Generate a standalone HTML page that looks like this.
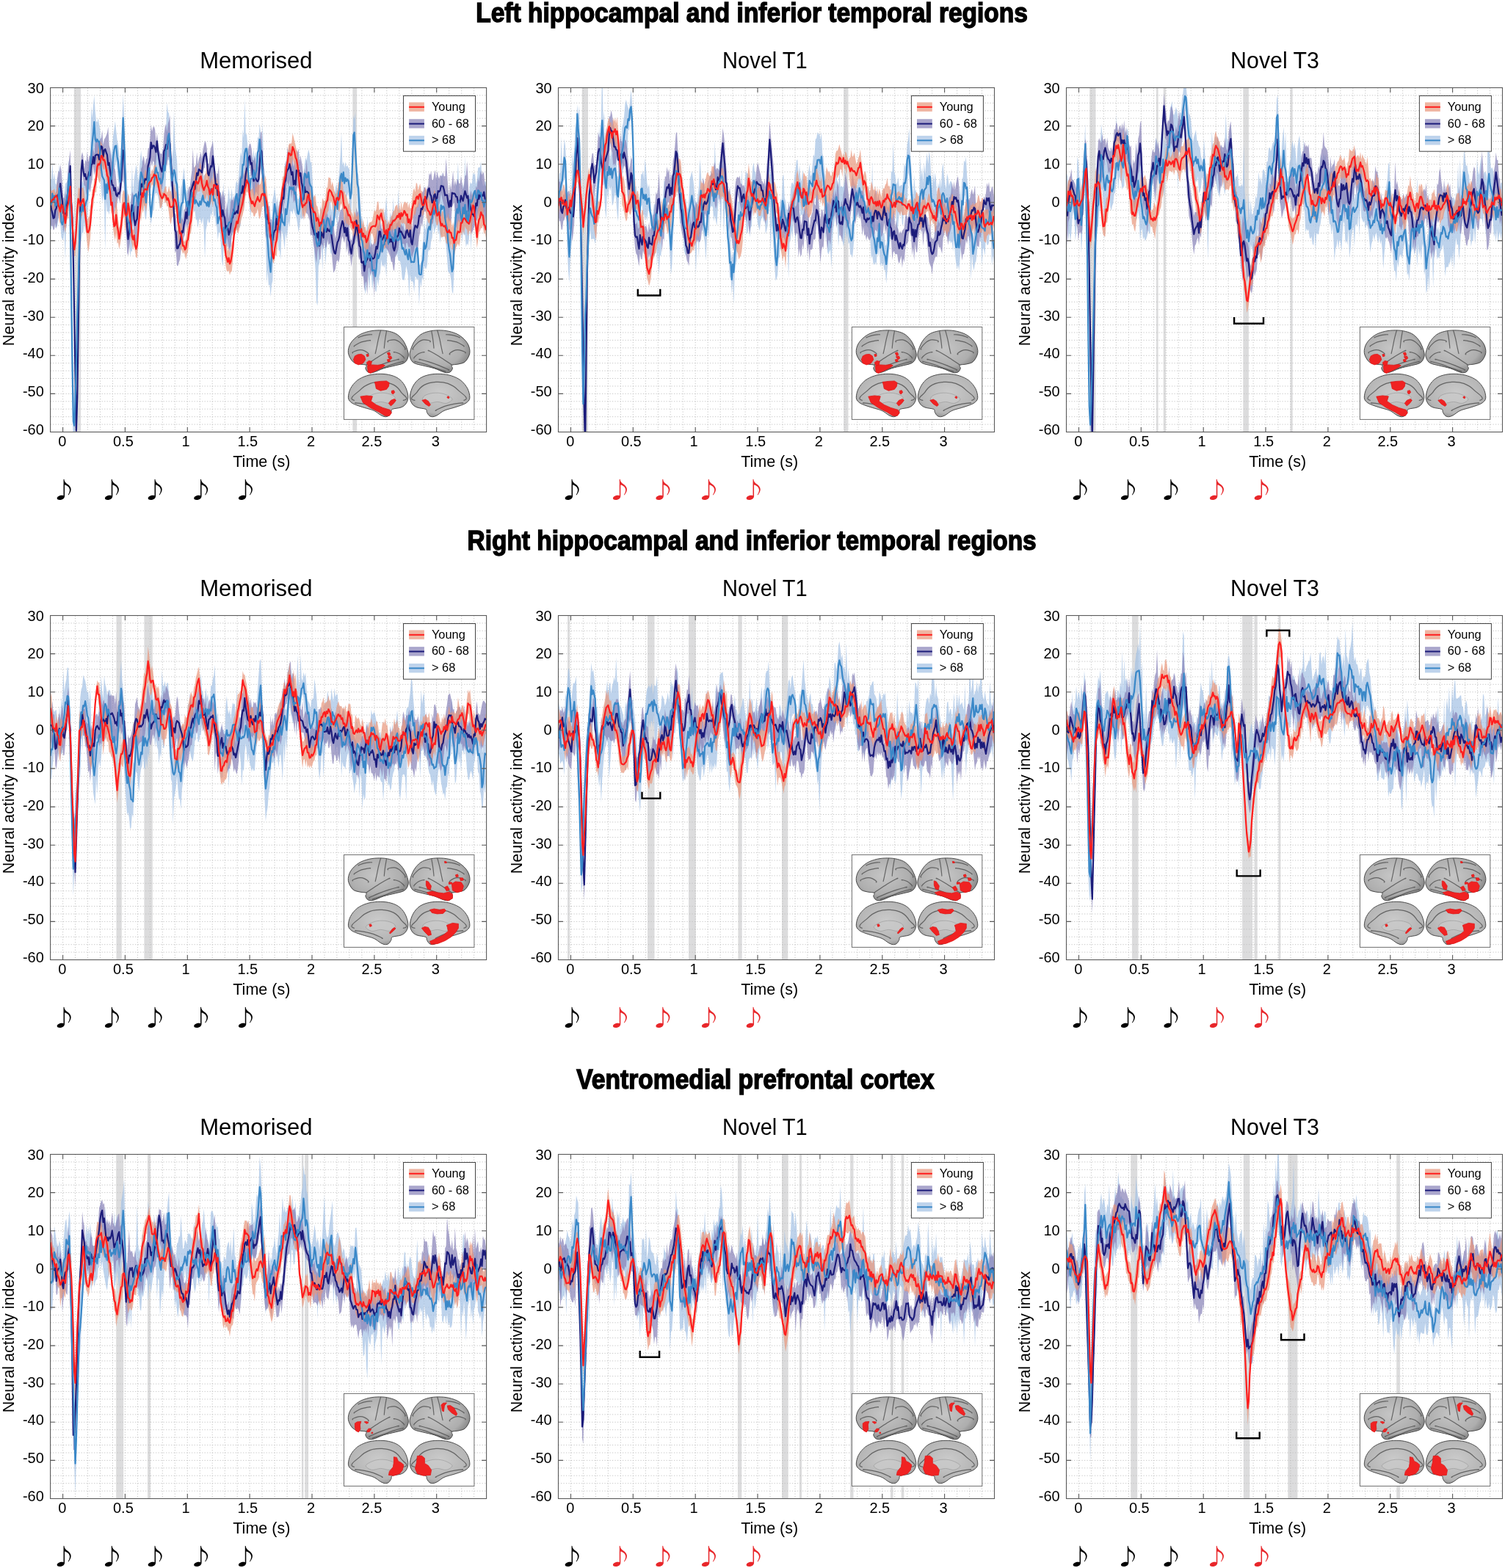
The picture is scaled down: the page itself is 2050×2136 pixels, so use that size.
<!DOCTYPE html><html><head><meta charset="utf-8"><title>Neural activity</title><style>html,body{margin:0;padding:0;background:#fff}svg{display:block}</style></head><body><svg width="2050" height="2136" viewBox="0 0 2050 2136" font-family="'Liberation Sans', Arial, Helvetica, sans-serif" fill="#000"><defs><radialGradient id="bg" cx="0.45" cy="0.42" r="0.62"><stop offset="0" stop-color="#c6c6c6"/><stop offset="0.7" stop-color="#aeaeae"/><stop offset="1" stop-color="#7c7c7c"/></radialGradient><radialGradient id="bg2" cx="0.5" cy="0.45" r="0.62"><stop offset="0" stop-color="#cbcbcb"/><stop offset="0.75" stop-color="#b5b5b5"/><stop offset="1" stop-color="#858585"/></radialGradient></defs><rect width="2050" height="2136" fill="#fff"/><text x="648.3" y="30.0" font-size="37" font-weight="bold" textLength="751.6" lengthAdjust="spacingAndGlyphs" stroke="#000" stroke-width="1.5">Left hippocampal and inferior temporal regions</text><text x="636.5" y="749.1" font-size="37" font-weight="bold" textLength="775.2" lengthAdjust="spacingAndGlyphs" stroke="#000" stroke-width="1.5">Right hippocampal and inferior temporal regions</text><text x="785.3" y="1483.1" font-size="37" font-weight="bold" textLength="487.2" lengthAdjust="spacingAndGlyphs" stroke="#000" stroke-width="1.5">Ventromedial prefrontal cortex</text><clipPath id="c00"><rect x="68.6" y="119.5" width="594.0" height="469.0"/></clipPath><g clip-path="url(#c00)"><rect x="100.8" y="119.5" width="9.3" height="469.0" fill="#dcdcdd"/><rect x="480.3" y="119.5" width="5.9" height="469.0" fill="#dcdcdd"/><path d="M85.6 119.5V588.5M102.5 119.5V588.5M119.5 119.5V588.5M136.5 119.5V588.5M153.5 119.5V588.5M170.4 119.5V588.5M187.4 119.5V588.5M204.4 119.5V588.5M221.3 119.5V588.5M238.3 119.5V588.5M255.3 119.5V588.5M272.3 119.5V588.5M289.2 119.5V588.5M306.2 119.5V588.5M323.2 119.5V588.5M340.1 119.5V588.5M357.1 119.5V588.5M374.1 119.5V588.5M391.1 119.5V588.5M408.0 119.5V588.5M425.0 119.5V588.5M442.0 119.5V588.5M458.9 119.5V588.5M475.9 119.5V588.5M492.9 119.5V588.5M509.9 119.5V588.5M526.8 119.5V588.5M543.8 119.5V588.5M560.8 119.5V588.5M577.7 119.5V588.5M594.7 119.5V588.5M611.7 119.5V588.5M628.7 119.5V588.5M645.6 119.5V588.5M68.6 578.1H662.6M68.6 567.7H662.6M68.6 557.2H662.6M68.6 546.8H662.6M68.6 536.4H662.6M68.6 526.0H662.6M68.6 515.5H662.6M68.6 505.1H662.6M68.6 494.7H662.6M68.6 484.3H662.6M68.6 473.9H662.6M68.6 463.4H662.6M68.6 453.0H662.6M68.6 442.6H662.6M68.6 432.2H662.6M68.6 421.7H662.6M68.6 411.3H662.6M68.6 400.9H662.6M68.6 390.5H662.6M68.6 380.1H662.6M68.6 369.6H662.6M68.6 359.2H662.6M68.6 348.8H662.6M68.6 338.4H662.6M68.6 327.9H662.6M68.6 317.5H662.6M68.6 307.1H662.6M68.6 296.7H662.6M68.6 286.3H662.6M68.6 275.8H662.6M68.6 265.4H662.6M68.6 255.0H662.6M68.6 244.6H662.6M68.6 234.1H662.6M68.6 223.7H662.6M68.6 213.3H662.6M68.6 202.9H662.6M68.6 192.5H662.6M68.6 182.0H662.6M68.6 171.6H662.6M68.6 161.2H662.6M68.6 150.8H662.6M68.6 140.3H662.6M68.6 129.9H662.6" stroke="#bdbdbd" stroke-width="0.9" stroke-dasharray="1.2 2.3" fill="none"/><path transform="translate(68.60 119.50) scale(1.35771 0.1)" d="M0 1242l1 10 1-224 1 248 1-119 1 146 1 19 1-89 1-17 1-178 1 310 1 253 1 82 1-120 1-108 1-150 1-9 1-29 1-229 1-72 1 562 1 871 1 823 1 850 1 173 1-379 1-455 1-635 1-353 1-661 1-292 1-114 1-94 1 43 1-47 1 85 1-84 1-50 1-212 1 8 1-111 1-644 1 161 1-167 1-142 1 216 1 138 1 13 1-57 1 98 1 68 1 297 1 66 1-81 1 161 1 162 1-38 1 83 1-278 1 92 1-204 1 82 1-89 1-175 1-93 1-109 1 129 1 122 1 67 1 108 1 163 1-304 1-326 1-324 1 298 1 367 1 308 1 309 1 76 1 167 1-6 1-115 1-434 1 387 1-206 1-94 1-97 1 71 1 173 1-129 1-166 1-144 1 148 1-23 1 304 1-100 1 148 1-243 1-112 1-68 1 452 1 305 1-215 1-185 1-222 1-210 1-74 1 91 1 3 1 74 1-77 1 155 1 8 1-7 1-186 1 88 1-332 1-375 1 127 1 21 1 221 1 270 1 136 1-125 1-533 1 433 1 128 1 108 1 294 1 187 1 128 1-227 1-53 1-109 1-124 1 163 1 137 1 41 1-79 1 202 1-140 1-83 1-43 1 105 1-23 1 80 1-86 1-64 1 5 1 152 1-430 1 373 1-143 1-32 1-28 1-3 1-28 1 232 1-76 1 17 1-128 1-104 1-66 1-364 1 637 1 5 1 36 1-10 1 259 1 18 1-52 1-54 1-15 1 55 1-269 1 618 1-234 1-31 1-114 1-168 1 173 1-26 1-131 1 169 1 43 1-124 1-150 1-39 1 66 1-126 1-211 1-119 1 62 1-368 1 109 1-528 1 478 1 10 1 155 1 329 1 127 1-101 1-218 1 60 1-155 1 151 1-117 1 59 1-262 1 26 1-211 1 143 1 204 1-358 1 590 1 56 1 256 1 254 1-17 1 281 1 208 1 83 1-337 1-317 1-63 1-112 1 118 1 98 1-88 1 225 1-33 1 23 1-163 1 90 1 23 1-18 1-271 1 17 1-63 1-297 1 78 1 54 1-87 1-20 1 41 1 85 1-433 1 664 1 113 1 11 1-57 1-299 1 168 1-22 1 19 1-274 1-110 1 50 1-88 1-66 1 56 1 124 1-12 1 235 1 208 1 88 1 30 1 150 1 95 1-107 1 152 1-271 1 101 1-39 1-144 1 152 1-77 1-55 1-132 1 97 1 59 1 7 1 137 1-116 1 133 1-241 1-93 1-77 1 97 1-133 1-143 1-203 1-315 1 449 1-47 1 86 1-85 1 73 1-28 1 44 1 9 1 210 1-61 1-413 1-462 1 52 1-94 1 604 1 193 1 48 1 189 1 135 1 236 1 44 1 92 1 20 1 63 1 42 1-243 1 226 1 123 1-276 1 308 1 100 1-1 1 108 1-25 1-123 1-258 1-27 1 57 1-69 1-64 1 170 1-149 1-157 1-33 1-199 1 243 1 270 1-148 1-142 1 73 1 36 1-315 1 326 1-205 1 153 1 113 1-503 1 317 1-36 1 54 1 97 1-90 1 78 1 204 1-11 1 118 1-49 1-142 1 120 1-257 1 298 1 14 1-89 1-95 1-46 1 3 1 204 1 346 1 5 1-56 1-153 1-154 1-260 1 149 1-52 1-135 1-83 1 31 1 19 1-196 1-16 1-108 1 29 1-18 1-19 1-202 1 291 1-1 1-132 1-115 1-86 1 198 1-60 1 171 1 93 1 12 1 38 1-156 1 580 1 120 1 54 1-158 1-185 1-385 1-140 1-36 1-287 1 380 1 72 1 90 1-58 1-214 1 144 1-490 1 421 1-180 1 295 1-28 1-157 1 30 1-17 1-139 1 32 1-29 1 154 1-54 1-162 1-16 1 10 1-90 1 260 1 66 1 14 1-72 1 21V1751l-1 56 -1 144 -1-154 -1 7 -1-115 -1 57 -1-61 -1 94 -1-2 -1 64 -1 72 -1-230 -1 121 -1 3 -1 431 -1-422 -1 245 -1 87 -1-28 -1 50 -1-169 -1 8 -1-46 -1 142 -1-153 -1-98 -1-155 -1 304 -1-2 -1 162 -1 76 -1 284 -1 288 -1-37 -1-153 -1-83 -1-24 -1-7 -1-186 -1-164 -1-103 -1-111 -1-69 -1 193 -1-74 -1 132 -1-195 -1 72 -1-159 -1 55 -1 33 -1 62 -1-143 -1 195 -1 43 -1 133 -1-19 -1 30 -1 184 -1 54 -1-9 -1-40 -1 204 -1-42 -1 142 -1-88 -1 339 -1-391 -1 39 -1-39 -1-18 -1 226 -1-138 -1-24 -1 11 -1-98 -1 320 -1-294 -1-82 -1-62 -1 110 -1 88 -1-6 -1-6 -1-159 -1-83 -1-15 -1-3 -1-94 -1 52 -1-76 -1 207 -1-126 -1 11 -1 50 -1-169 -1-128 -1 192 -1-87 -1 405 -1-215 -1 80 -1-44 -1 30 -1-99 -1 179 -1 46 -1 140 -1-111 -1 189 -1-18 -1-159 -1 36 -1 112 -1-208 -1-36 -1 256 -1-166 -1-84 -1 230 -1 67 -1-163 -1-95 -1-151 -1-43 -1-162 -1-277 -1-8 -1-419 -1-242 -1-252 -1-204 -1 226 -1 218 -1 447 -1 135 -1-225 -1-180 -1 47 -1 34 -1-72 -1 8 -1 307 -1-186 -1-112 -1 68 -1 270 -1-81 -1 177 -1-81 -1-35 -1 45 -1 339 -1-46 -1 178 -1-33 -1-133 -1-117 -1 94 -1 126 -1 194 -1-269 -1-113 -1 470 -1-342 -1-37 -1 267 -1 46 -1 537 -1-47 -1-432 -1-178 -1-260 -1-44 -1-346 -1 61 -1-208 -1-51 -1 74 -1-31 -1-162 -1 376 -1-157 -1 212 -1 18 -1-31 -1 127 -1 81 -1-107 -1-89 -1-39 -1-38 -1-55 -1 84 -1-47 -1 2 -1 215 -1-79 -1 132 -1 122 -1-105 -1 237 -1-129 -1-87 -1-42 -1 397 -1-120 -1-9 -1-185 -1-34 -1-111 -1-55 -1 221 -1 581 -1 53 -1 165 -1-168 -1 18 -1-211 -1 180 -1-654 -1-304 -1-128 -1-240 -1-49 -1-178 -1 21 -1-162 -1 108 -1 362 -1 11 -1 267 -1-345 -1 99 -1-58 -1 356 -1-124 -1-135 -1-218 -1-313 -1 94 -1 45 -1 293 -1-89 -1 255 -1 275 -1 55 -1-17 -1 6 -1-306 -1 150 -1-46 -1 166 -1 144 -1 0 -1 188 -1 123 -1-246 -1 105 -1-22 -1 1 -1 109 -1-120 -1 294 -1-92 -1-245 -1-128 -1-7 -1 107 -1-178 -1-34 -1-134 -1 43 -1-173 -1 159 -1-55 -1 133 -1 2 -1-59 -1 95 -1 65 -1 389 -1-398 -1-174 -1 103 -1-43 -1-47 -1 38 -1 106 -1-117 -1 2 -1-130 -1 30 -1-90 -1-18 -1 126 -1 171 -1 16 -1-166 -1 90 -1-134 -1-160 -1-107 -1 372 -1 95 -1-3 -1 213 -1-133 -1 122 -1-418 -1-23 -1-79 -1-118 -1 85 -1-28 -1-6 -1-316 -1-192 -1-23 -1 39 -1 156 -1 410 -1-137 -1-8 -1 235 -1-69 -1 46 -1-90 -1-78 -1-40 -1-1 -1 10 -1 210 -1 13 -1 95 -1 97 -1-88 -1-505 -1 168 -1 199 -1 166 -1-29 -1-152 -1-89 -1-142 -1 60 -1 200 -1 132 -1 163 -1-121 -1 11 -1-58 -1-157 -1 279 -1 336 -1-16 -1 79 -1-191 -1 84 -1-117 -1-64 -1-534 -1 41 -1-583 -1 275 -1 94 -1 210 -1-143 -1-98 -1-139 -1-153 -1 102 -1 32 -1 120 -1 187 -1 142 -1 26 -1 142 -1-53 -1 16 -1-150 -1 682 -1-677 -1-84 -1 102 -1-199 -1-199 -1-198 -1 6 -1 13 -1-12 -1 66 -1-257 -1 159 -1 122 -1 121 -1 66 -1 103 -1 230 -1 236 -1 2 -1 153 -1-150 -1 139 -1 12 -1 90 -1 72 -1 245 -1 534 -1 564 -1 535 -1 537 -1 396 -1 3 -1-728 -1-830 -1-1281 -1-794 -1 227 -1 246 -1 7 -1 562 -1-422 -1 136 -1-13 -1-33 -1-178 -1-192 -1 134 -1 81 -1 25 -1 0 -1-122 -1 106 -1-172 -1 213 -1-3z" fill="#a2c0e4" fill-opacity="0.7"/><path transform="translate(68.60 119.50) scale(1.35771 0.1)" d="M0 1280l1 141 1 84 1 100 1-97 1-54 1-56 1-168 1-103 1 26 1-106 1 76 1 164 1 208 1 16 1-103 1 173 1-300 1-212 1-113 1-109 1 613 1 171 1 496 1 735 1 805 1 801 1-476 1-927 1-893 1-695 1-545 1-57 1 60 1 186 1-140 1 31 1-146 1 151 1-95 1 13 1-117 1 85 1-88 1 83 1-172 1-55 1 38 1 13 1 66 1-88 1-21 1-103 1 207 1-81 1-19 1-30 1-39 1-81 1 251 1 54 1 115 1 66 1-109 1 181 1 21 1 131 1 157 1-73 1 65 1-188 1-132 1-242 1-271 1 34 1 351 1 434 1 239 1 234 1-84 1-92 1-158 1-101 1 40 1 142 1 17 1-95 1-8 1-119 1-143 1 34 1-181 1-30 1-139 1 19 1 106 1-86 1-10 1-135 1-11 1-121 1-197 1 98 1-59 1-14 1 45 1 163 1-114 1 124 1 101 1 47 1 14 1-12 1-59 1-196 1-102 1-45 1 118 1-120 1-44 1-69 1 500 1 218 1 159 1 211 1 241 1 31 1 220 1-19 1-25 1-8 1-81 1-53 1 36 1-132 1-27 1-92 1 76 1-204 1-77 1 2 1-123 1-98 1-306 1 267 1-17 1-27 1-172 1 171 1-82 1-30 1-60 1 98 1-118 1-67 1-62 1 23 1 77 1 212 1-4 1-141 1-73 1-35 1-61 1 179 1 195 1 145 1-86 1 21 1-135 1 377 1 11 1 61 1-101 1 111 1-60 1 328 1-213 1 108 1 124 1-95 1-143 1-32 1 19 1-69 1 79 1-97 1 4 1-7 1-127 1-100 1-25 1 30 1-145 1 126 1-76 1-136 1-75 1-35 1-83 1-43 1 13 1 75 1 136 1 12 1-69 1 93 1 61 1 10 1-67 1-257 1-153 1-19 1 365 1 128 1 271 1 155 1 72 1-66 1 97 1-8 1 183 1 3 1 143 1-92 1-22 1-80 1-145 1 125 1-101 1-71 1-35 1-83 1-55 1-69 1-232 1-58 1-47 1-160 1 83 1-128 1 61 1 38 1 41 1 173 1-119 1 144 1-262 1 40 1-54 1 178 1-80 1 80 1 73 1 150 1-137 1 114 1-234 1 180 1 15 1 67 1 195 1 181 1 179 1-42 1 62 1-111 1 51 1 90 1-136 1 257 1-85 1-101 1 3 1 83 1-197 1 11 1 55 1-21 1 102 1-5 1-83 1 83 1 39 1-2 1 131 1 85 1-109 1-100 1-35 1-76 1-76 1 0 1-43 1 74 1 127 1-109 1-106 1 103 1-146 1 342 1 148 1 35 1-64 1-64 1-233 1 44 1-143 1 78 1-33 1 277 1 91 1 158 1-17 1-31 1 90 1-92 1-100 1 10 1-45 1 55 1 113 1-74 1 35 1-17 1-55 1-29 1-81 1-128 1 58 1-151 1 64 1 114 1 9 1-65 1 81 1 74 1-151 1-4 1-37 1 93 1-103 1-15 1-121 1 251 1 66 1-6 1-135 1-15 1-12 1-28 1 80 1-24 1 35 1-5 1 70 1-32 1-170 1-5 1 103 1 14 1-124 1 39 1 166 1-185 1-74 1-63 1 6 1-20 1-52 1-77 1-5 1-35 1-15 1-14 1-60 1 6 1 55 1-48 1-36 1-167 1 31 1-59 1 122 1 1 1-82 1-55 1 124 1-111 1 68 1 39 1-50 1 12 1 0 1-49 1 55 1-4 1-250 1 204 1 199 1 117 1-182 1 102 1-125 1-142 1 210 1-89 1 88 1-88 1 3 1 52 1 2 1-107 1 96 1 93 1-74 1-112 1-10 1-190 1 229 1 298 1-67 1-62 1 74 1-48 1 122 1-101 1-111 1 34 1-151 1 67 1-94 1-67 1 67 1-51 1 37 1 136 1 34V1811l-1 114 -1-246 -1 110 -1-36 -1 10 -1-82 -1 104 -1-100 -1 129 -1-14 -1 63 -1 44 -1 39 -1 37 -1-36 -1-230 -1 119 -1-102 -1 88 -1-107 -1-103 -1 40 -1 53 -1 87 -1-100 -1 216 -1-86 -1-3 -1 112 -1-39 -1-212 -1-123 -1 37 -1 32 -1 226 -1-46 -1 20 -1-36 -1-30 -1 69 -1-129 -1-94 -1-45 -1-57 -1-80 -1 119 -1 49 -1 14 -1 121 -1 111 -1-88 -1-15 -1 102 -1 27 -1-46 -1-116 -1-129 -1-78 -1 148 -1 69 -1-38 -1 20 -1 86 -1 123 -1-66 -1 132 -1 56 -1 126 -1 53 -1 9 -1-80 -1 86 -1 39 -1 58 -1-38 -1-122 -1 29 -1-22 -1-54 -1 9 -1 123 -1-106 -1-13 -1 11 -1-91 -1 34 -1 11 -1 117 -1 38 -1 34 -1 32 -1 190 -1-26 -1-98 -1-5 -1-75 -1-23 -1-45 -1-23 -1-10 -1-22 -1-71 -1 115 -1 41 -1-16 -1-150 -1 59 -1 116 -1 144 -1-58 -1 85 -1 421 -1-282 -1-41 -1-52 -1 88 -1-125 -1 26 -1 356 -1-193 -1 28 -1 113 -1-210 -1 9 -1-31 -1-230 -1 40 -1-55 -1-158 -1-107 -1 71 -1 29 -1 151 -1 32 -1 126 -1-109 -1-84 -1 40 -1-145 -1 108 -1-234 -1 99 -1-50 -1-46 -1 60 -1 126 -1 130 -1 48 -1-43 -1 33 -1 93 -1 32 -1 22 -1-154 -1-171 -1-84 -1 14 -1 15 -1-80 -1 106 -1 17 -1-129 -1 149 -1-62 -1-8 -1 196 -1 16 -1-174 -1 58 -1 154 -1-69 -1-118 -1-64 -1-115 -1-22 -1 22 -1-207 -1-48 -1-43 -1-9 -1-24 -1-78 -1 203 -1-221 -1-13 -1-169 -1 2 -1-40 -1-36 -1 86 -1 147 -1-42 -1 43 -1-174 -1 120 -1-114 -1-152 -1 106 -1-73 -1 61 -1 137 -1 93 -1 160 -1-144 -1 136 -1 338 -1-97 -1 8 -1 85 -1-133 -1 164 -1-5 -1 68 -1 115 -1-93 -1 115 -1-265 -1 24 -1-95 -1 38 -1 63 -1-388 -1-211 -1-78 -1-251 -1-32 -1 157 -1 242 -1-29 -1-42 -1-5 -1 47 -1 60 -1-133 -1-207 -1 30 -1-166 -1 68 -1 131 -1 17 -1 83 -1 157 -1 173 -1-139 -1 174 -1-48 -1 96 -1 67 -1 143 -1-67 -1 44 -1-35 -1 91 -1-48 -1 59 -1 147 -1 21 -1 56 -1-137 -1-73 -1 206 -1-308 -1 36 -1 7 -1-33 -1-146 -1-149 -1-68 -1 106 -1-207 -1-11 -1-208 -1-6 -1-99 -1 211 -1-73 -1 56 -1 212 -1-295 -1-162 -1-122 -1 111 -1 14 -1 120 -1 165 -1-62 -1-92 -1 53 -1 32 -1 92 -1 58 -1 123 -1-127 -1 56 -1 39 -1 17 -1 160 -1 109 -1 25 -1 65 -1-90 -1 161 -1 32 -1 109 -1-11 -1 88 -1 116 -1 39 -1 48 -1-3 -1-200 -1 19 -1-346 -1-246 -1-308 -1 4 -1-334 -1-68 -1-1 -1 121 -1-27 -1 37 -1-4 -1 230 -1 93 -1-49 -1-114 -1-140 -1-137 -1-119 -1 180 -1 67 -1-66 -1-21 -1 83 -1-82 -1 185 -1 97 -1 3 -1 219 -1 16 -1-78 -1 144 -1-36 -1 112 -1-149 -1 130 -1-16 -1 212 -1 225 -1 71 -1-12 -1-132 -1-202 -1 93 -1 95 -1 91 -1 126 -1 103 -1-51 -1-325 -1-405 -1-408 -1 192 -1-31 -1 175 -1 137 -1-56 -1-32 -1 79 -1 113 -1-55 -1 86 -1 43 -1-126 -1-112 -1-129 -1-106 -1 83 -1-224 -1-47 -1-103 -1-3 -1 128 -1-175 -1-43 -1 157 -1 85 -1-50 -1 52 -1 166 -1-184 -1 77 -1-145 -1 201 -1 64 -1 108 -1-44 -1-5 -1 80 -1-12 -1-114 -1 3 -1-62 -1-162 -1 198 -1 567 -1 755 -1 896 -1 961 -1 392 -1-797 -1-788 -1-737 -1-568 -1-362 -1-415 -1 214 -1 206 -1 30 -1 247 -1-23 -1 9 -1 82 -1-175 -1-81 -1-176 -1 128 -1 79 -1 72 -1 101 -1-89 -1 88 -1 14 -1-61 -1 8 -1-30z" fill="#8680b6" fill-opacity="0.7"/><path transform="translate(68.60 119.50) scale(1.35771 0.1)" d="M0 1379l1 31 1-15 1-1 1-22 1 66 1-27 1-132 1 174 1 35 1 2 1-82 1 76 1 70 1 39 1 46 1-71 1-96 1-46 1-78 1-81 1 229 1 263 1 118 1 249 1-159 1-136 1-278 1-180 1-13 1 27 1-34 1 15 1-13 1 67 1 127 1 98 1 163 1-40 1-20 1-129 1-57 1-181 1 3 1-141 1-24 1-138 1-155 1-146 1 62 1-123 1 23 1 36 1 99 1 2 1 34 1 46 1 143 1-1 1 65 1 164 1 160 1-46 1 226 1 77 1-122 1-145 1 168 1 133 1 126 1-47 1-169 1-205 1-91 1 6 1 46 1 123 1-45 1-84 1 40 1 144 1 97 1 200 1 18 1-39 1 149 1 46 1-115 1-174 1-148 1-111 1-197 1-107 1 7 1-37 1-97 1 8 1 85 1-14 1-25 1-1 1-2 1-67 1 39 1-93 1 13 1-17 1 102 1 97 1 8 1 48 1 8 1 117 1 6 1-27 1-54 1-13 1 92 1-18 1-73 1 75 1-9 1 75 1-33 1-152 1 77 1 54 1-28 1 246 1 60 1 87 1-22 1 138 1 171 1 13 1 7 1-52 1-127 1-21 1-69 1-147 1-27 1-205 1-56 1-182 1-61 1-96 1 85 1 38 1-40 1-129 1 46 1 128 1 66 1 12 1-77 1-23 1-106 1 113 1-35 1 182 1-40 1-59 1 77 1-221 1 164 1-12 1 41 1-8 1 130 1 143 1 128 1 145 1 115 1 93 1 23 1 83 1 14 1 100 1-51 1 68 1-54 1-76 1-37 1-188 1-48 1-34 1-67 1-40 1-128 1-48 1-23 1-20 1-89 1-77 1-206 1 56 1-55 1-1 1 53 1 184 1 38 1 0 1-21 1 63 1 53 1-209 1 93 1-70 1 29 1-2 1-20 1-84 1 11 1 122 1-105 1-56 1 166 1 129 1 170 1 96 1 221 1 23 1 193 1 61 1-184 1-157 1-5 1-175 1-73 1-56 1-157 1-86 1-147 1 1 1-143 1 14 1-101 1-84 1-115 1-25 1 5 1-8 1-134 1 49 1 62 1 59 1 55 1 34 1 162 1 146 1 159 1 130 1 70 1-149 1 52 1-44 1 30 1-5 1-33 1 34 1-59 1 114 1-43 1 57 1-36 1 10 1 129 1 15 1 72 1 84 1-146 1 30 1-159 1 39 1 11 1-35 1-152 1-3 1-142 1 11 1 0 1 110 1-60 1 68 1 62 1 43 1-17 1-46 1-105 1 12 1-126 1 68 1 25 1 144 1 7 1 38 1 20 1 44 1 80 1-25 1 72 1 49 1 29 1 49 1-91 1 35 1 42 1-6 1-41 1 100 1-27 1 20 1 73 1-79 1 104 1-6 1 63 1-13 1-68 1-37 1-8 1 1 1-27 1-69 1-72 1 28 1-36 1-97 1-13 1 130 1-24 1-7 1 24 1-33 1 104 1 64 1-5 1 93 1-101 1 61 1-64 1-36 1-10 1-64 1-3 1-57 1-15 1-13 1 80 1-101 1 120 1-146 1 118 1-62 1-40 1-9 1 29 1-27 1 89 1-77 1 85 1-13 1-141 1-92 1-38 1 61 1-136 1 21 1 87 1-52 1-40 1 102 1-3 1 104 1-45 1-99 1 8 1 76 1 33 1 45 1 36 1-53 1-11 1-4 1-98 1 11 1 127 1 64 1-38 1 38 1 129 1 9 1-56 1 6 1 80 1-28 1 14 1 55 1-104 1 98 1-29 1 44 1 88 1-78 1 99 1-108 1 134 1-100 1-42 1-19 1 37 1-161 1 50 1-61 1-27 1 27 1 47 1-19 1 34 1-78 1 41 1-106 1-86 1-55 1 8 1 246 1 115 1 58 1-204 1-33 1-46 1-77 1 76 1-9 1 174 1 4 1 93V2046l-1-81 -1 34 -1-125 -1 43 -1-7 -1 45 -1 16 -1 123 -1 91 -1-157 -1-125 -1-156 -1-9 -1 147 -1 125 -1-68 -1 19 -1 61 -1-90 -1-13 -1-31 -1 115 -1-72 -1 82 -1-43 -1 134 -1 64 -1-48 -1 30 -1 25 -1 49 -1 89 -1-104 -1-12 -1-78 -1 77 -1-119 -1 60 -1-11 -1-12 -1-75 -1-16 -1 11 -1-3 -1 14 -1-78 -1-176 -1 70 -1 21 -1-26 -1-80 -1-80 -1 70 -1 75 -1 74 -1-18 -1-57 -1-1 -1-49 -1-28 -1-193 -1 123 -1 43 -1 14 -1-94 -1-68 -1-16 -1 59 -1-2 -1 37 -1 83 -1-33 -1 54 -1 35 -1 158 -1 85 -1-64 -1 29 -1-100 -1 29 -1-73 -1-19 -1-9 -1 19 -1-32 -1 82 -1 52 -1-83 -1 13 -1 19 -1 35 -1 16 -1-31 -1-3 -1 37 -1-54 -1 86 -1 30 -1 152 -1-84 -1 96 -1 2 -1-147 -1-120 -1-147 -1 90 -1 75 -1 16 -1-58 -1 186 -1 33 -1 23 -1-107 -1-50 -1-1 -1 40 -1 74 -1 94 -1 40 -1 12 -1-81 -1 30 -1 10 -1 7 -1-176 -1 102 -1 1 -1-104 -1-17 -1-2 -1-23 -1-38 -1 93 -1-94 -1-16 -1-26 -1-54 -1 28 -1-40 -1 17 -1-79 -1 104 -1-179 -1-58 -1-73 -1 19 -1 102 -1-29 -1-42 -1 11 -1 103 -1 21 -1-87 -1-66 -1-63 -1 18 -1-32 -1 140 -1 32 -1 43 -1-10 -1 65 -1 137 -1 119 -1-17 -1-67 -1 5 -1-28 -1-27 -1 95 -1-55 -1-61 -1-7 -1-92 -1 3 -1-98 -1-54 -1-155 -1 63 -1 115 -1 43 -1 75 -1-91 -1 83 -1-150 -1-71 -1-92 -1-123 -1-83 -1-165 -1 16 -1-78 -1-33 -1-48 -1 96 -1 39 -1-58 -1-34 -1 78 -1 116 -1 94 -1 99 -1 64 -1 81 -1 136 -1 22 -1 190 -1 60 -1 159 -1 194 -1-20 -1 56 -1 65 -1-32 -1-133 -1-98 -1-112 -1-64 -1-136 -1-49 -1-76 -1-53 -1-28 -1-10 -1 43 -1 89 -1 54 -1-43 -1-106 -1 60 -1 8 -1 44 -1-4 -1-55 -1 6 -1-46 -1-71 -1-133 -1-25 -1-16 -1 53 -1 89 -1 113 -1 65 -1 40 -1 55 -1 64 -1 71 -1 27 -1-58 -1 36 -1 48 -1 153 -1 195 -1 141 -1 5 -1 44 -1-64 -1 14 -1-3 -1-69 -1-148 -1-101 -1-70 -1-64 -1-111 -1-232 -1-121 -1-156 -1 81 -1 6 -1-55 -1-9 -1 190 -1-110 -1 41 -1 33 -1-12 -1-109 -1-41 -1 59 -1 20 -1-28 -1-43 -1-33 -1-68 -1 66 -1-5 -1 16 -1-40 -1 94 -1 46 -1 64 -1 155 -1 135 -1 100 -1 21 -1 119 -1 116 -1 35 -1 69 -1-57 -1-47 -1 27 -1-44 -1-28 -1-20 -1-62 -1-103 -1-217 -1-91 -1-43 -1 17 -1 96 -1-7 -1 101 -1-37 -1-111 -1-103 -1 8 -1-66 -1 21 -1-82 -1 51 -1 61 -1 36 -1 2 -1-169 -1-103 -1-17 -1-47 -1 39 -1-5 -1-5 -1-21 -1 40 -1 53 -1-12 -1 68 -1 120 -1 106 -1-78 -1-10 -1 107 -1-57 -1 169 -1-76 -1 200 -1 224 -1 145 -1 2 -1-79 -1-97 -1 74 -1-80 -1-51 -1-175 -1-90 -1-95 -1 174 -1-2 -1 77 -1-222 -1 37 -1 149 -1 120 -1 85 -1 60 -1-91 -1 13 -1-145 -1 108 -1-69 -1-91 -1-261 -1 59 -1-185 -1-88 -1-107 -1-39 -1-62 -1-94 -1-49 -1 22 -1-59 -1 55 -1 169 -1 9 -1-50 -1-51 -1 232 -1-6 -1 88 -1 113 -1 52 -1 180 -1 207 -1 101 -1 82 -1-107 -1-140 -1-140 -1-105 -1-78 -1 63 -1 20 -1 57 -1-59 -1-120 -1 217 -1 180 -1 257 -1 12 -1-73 -1-266 -1-236 -1-317 -1 132 -1 248 -1-21 -1 97 -1 114 -1-82 -1-119 -1-66 -1 73 -1 76 -1-40 -1-84 -1-129 -1-95 -1 50 -1 38 -1 84 -1-58 -1 46 -1 40z" fill="#e8957a" fill-opacity="0.7"/><path transform="translate(68.60 119.50) scale(1.35771 0.1)" d="M0 1559l1 98 1 50 1 71 1-10 1-101 1-25 1-90 1-99 1-14 1-132 1 131 1 104 1 168 1-4 1 8 1 29 1-272 1-100 1-166 1-140 1 484 1 209 1 579 1 739 1 831 1 765 1-456 1-903 1-941 1-715 1-539 1-129 1 143 1 72 1-30 1 76 1-4 1-45 1-58 1 51 1-143 1-13 1-96 1 93 1-110 1-11 1-2 1 1 1 66 1-117 1-67 1 12 1 135 1-89 1-17 1 43 1 36 1 138 1-30 1 111 1 102 1 88 1 5 1 71 1-36 1 94 1 20 1-46 1 14 1-44 1-145 1-212 1-191 1 6 1 368 1 415 1 266 1 154 1-89 1-117 1-109 1-150 1 27 1 167 1 82 1-62 1-23 1-194 1-175 1 39 1-149 1 39 1-57 1 18 1-69 1 13 1-24 1-165 1-43 1-72 1-205 1 82 1-39 1 3 1 32 1 54 1-149 1 145 1 98 1 80 1 55 1 39 1-84 1-199 1-19 1-67 1 59 1-117 1-28 1 79 1 246 1 208 1 243 1 242 1 227 1 33 1 221 1-3 1-41 1-19 1-94 1-81 1 20 1-107 1-54 1-113 1 85 1-158 1-25 1-66 1-133 1-31 1-50 1-40 1 102 1-112 1-107 1 31 1-81 1 8 1 19 1 17 1-129 1-80 1-35 1-20 1 94 1 181 1 28 1-74 1-54 1 8 1-143 1 120 1 120 1 197 1-55 1 153 1-51 1 107 1 100 1 131 1-86 1 71 1 37 1 164 1-60 1 31 1 93 1-37 1-84 1-96 1-20 1-110 1 64 1-14 1-27 1 29 1-136 1-100 1-43 1 5 1-96 1 108 1-143 1-123 1-81 1-21 1-125 1-25 1 113 1-18 1 163 1 84 1-47 1 10 1 32 1 11 1-32 1-235 1-164 1 23 1 295 1 129 1 218 1 249 1 32 1-70 1 126 1-5 1 202 1-36 1 69 1-91 1-41 1-10 1-187 1 116 1-63 1-34 1-60 1-125 1-86 1 16 1-217 1-36 1-109 1-34 1-17 1-62 1 65 1 82 1-36 1 170 1-53 1 56 1-196 1 12 1-14 1 77 1-39 1 125 1 60 1 173 1-172 1 76 1-10 1 5 1 18 1 97 1 141 1 152 1 75 1 40 1 59 1 2 1-20 1 59 1-77 1 188 1-44 1-140 1 32 1 42 1-164 1 49 1 35 1-43 1 28 1 7 1-39 1 92 1 96 1 93 1 53 1 10 1-82 1-73 1-26 1-51 1-95 1-60 1-58 1 39 1 117 1-66 1 115 1-110 1 162 1 28 1 112 1 50 1-113 1-30 1-90 1-58 1-162 1 120 1 91 1 130 1 24 1 203 1 7 1-17 1 131 1-102 1-40 1-18 1-69 1-17 1 103 1-56 1 29 1 0 1-11 1-70 1-84 1 30 1-105 1-129 1 2 1 114 1-4 1-32 1-36 1 86 1-55 1-34 1 17 1 90 1-45 1 36 1-58 1 139 1 41 1-49 1-107 1-42 1-5 1-103 1 54 1-9 1 31 1 26 1 33 1-4 1-86 1-21 1 63 1 31 1-92 1 162 1 35 1-102 1-96 1-62 1 14 1 17 1-51 1-113 1 7 1-105 1 11 1-45 1-86 1-15 1 11 1-47 1-87 1-20 1 82 1 25 1 90 1-3 1-100 1-14 1 96 1-47 1-91 1 10 1-17 1-64 1 7 1 1 1 51 1 73 1-7 1 0 1 101 1 66 1-88 1 78 1-186 1 12 1-5 1 11 1 36 1 0 1 78 1-18 1 15 1-89 1 41 1 30 1-72 1-62 1 46 1 47 1-26 1 210 1-98 1 67 1 71 1-2 1 27 1-73 1-104 1 34 1-147 1 56 1-75 1 43 1-20 1 9 1-53 1 90 1 40" fill="none" stroke="#1c1c7a" stroke-width="2.2" stroke-linejoin="round" vector-effect="non-scaling-stroke"/><path transform="translate(68.60 119.50) scale(1.35771 0.1)" d="M0 1599l1-16 1-142 1 103 1-74 1 142 1-12 1-21 1-68 1-142 1 238 1 221 1 37 1-49 1-131 1-83 1-58 1-54 1-185 1-137 1 658 1 962 1 959 1 798 1 57 1-334 1-532 1-606 1-450 1-575 1-403 1-8 1-102 1 90 1-93 1 19 1-59 1-28 1-286 1-36 1-137 1-122 1-191 1-123 1-161 1 238 1 34 1-34 1 31 1-3 1 162 1 212 1 99 1 28 1 28 1 256 1-202 1 119 1-143 1 90 1-158 1 24 1-107 1-190 1-101 1-53 1-5 1 147 1 73 1 142 1 134 1-229 1-298 1-349 1 334 1 388 1 409 1 200 1 93 1 17 1 123 1-118 1-158 1-14 1-213 1 1 1-24 1 71 1 85 1-102 1-205 1-146 1 44 1 52 1 217 1-24 1 127 1-195 1-174 1-102 1 495 1 170 1-164 1-138 1-118 1-186 1-67 1 70 1-1 1 93 1-13 1 71 1-23 1-70 1-153 1 66 1-269 1-73 1-118 1-44 1 232 1 243 1 167 1-65 1-81 1 37 1 120 1 42 1 231 1 134 1 156 1-218 1-52 1-5 1-308 1 167 1 120 1 73 1-69 1 185 1-112 1-115 1-79 1 61 1-3 1 95 1-49 1 29 1 29 1 24 1-64 1 45 1-71 1-55 1 79 1 14 1 4 1 45 1-59 1 69 1-78 1-161 1 5 1-5 1 157 1-20 1 78 1 42 1 210 1-77 1-16 1 44 1 138 1 22 1-56 1 213 1-182 1-14 1-30 1-52 1-8 1 2 1-63 1-60 1-23 1-106 1-97 1-37 1 151 1-56 1-94 1-206 1-13 1-181 1 4 1-158 1-63 1 2 1 192 1 241 1 138 1-163 1-2 1-9 1-106 1 116 1-76 1-46 1-235 1-26 1-152 1 153 1 201 1 75 1 179 1 115 1 233 1 288 1 132 1 209 1 114 1 109 1-228 1-345 1-199 1-156 1 103 1 78 1-12 1 176 1 3 1-85 1-125 1 108 1 10 1 36 1-226 1 73 1-103 1-124 1-146 1 30 1-22 1 32 1-34 1 90 1-22 1 168 1 115 1 15 1-69 1-204 1 101 1-9 1-119 1-254 1 9 1 49 1-8 1-66 1 145 1 36 1 20 1 210 1 188 1 168 1 88 1 108 1 45 1-58 1 40 1-249 1-34 1-56 1-8 1 96 1 64 1-130 1-51 1 10 1 72 1 43 1 90 1-167 1 56 1-177 1-140 1 4 1 89 1-208 1-65 1-166 1-45 1 103 1-121 1 150 1-74 1 46 1-27 1 21 1 101 1 141 1-75 1-399 1-393 1-34 1 244 1 230 1 227 1 57 1 276 1 220 1 203 1 23 1 132 1 41 1 146 1-80 1-118 1 102 1 4 1-43 1 42 1 178 1-8 1 2 1 81 1-108 1-193 1 58 1-35 1-73 1-169 1 184 1-89 1-5 1-122 1 9 1-67 1 172 1-171 1 46 1 30 1 9 1 47 1-2 1-155 1 107 1 38 1 1 1-22 1-72 1 105 1 103 1-13 1 45 1 48 1-69 1 78 1 57 1-138 1 94 1 81 1-7 1 6 1-2 1-110 1-64 1-18 1 147 1 206 1 11 1-1 1-152 1-49 1-233 1 84 1-27 1-100 1-137 1-39 1 43 1-140 1-11 1-160 1 98 1-43 1-41 1-113 1 207 1-15 1 33 1-148 1 52 1-40 1 17 1 151 1 79 1 61 1 177 1 102 1 67 1 126 1 111 1-40 1-283 1-315 1-147 1-68 1 58 1-170 1 140 1 78 1 74 1-201 1 82 1-120 1 209 1-120 1 143 1-78 1-220 1 38 1-19 1-49 1-66 1-28 1 93 1 11 1-109 1 8 1 39 1-16 1 107 1 1 1 84 1-67 1-34" fill="none" stroke="#3a88c8" stroke-width="2.2" stroke-linejoin="round" vector-effect="non-scaling-stroke"/><path transform="translate(68.60 119.50) scale(1.35771 0.1)" d="M0 1566l1-16 1-28 1 4 1-31 1-9 1-20 1 37 1 100 1 29 1 57 1-98 1 17 1 49 1 94 1 92 1-117 1-110 1-41 1-115 1-114 1 262 1 238 1 205 1 153 1-91 1-187 1-262 1-151 1 35 1 60 1-33 1-33 1-26 1 74 1 127 1 113 1 136 1 6 1-35 1-77 1-152 1-185 1-51 1-103 1-50 1-90 1-153 1-38 1 13 1-25 1-99 1 4 1 54 1-3 1 40 1 83 1 89 1 27 1 122 1 77 1 180 1-37 1 229 1 96 1-16 1-140 1 149 1 66 1 111 1-78 1-99 1-125 1-159 1-29 1 149 1 29 1-23 1-148 1 75 1 123 1 99 1 153 1 44 1-59 1 135 1 51 1-50 1-152 1-200 1-142 1-123 1-96 1 56 1-93 1-16 1 7 1 4 1-52 1-38 1-19 1-14 1-42 1-8 1-38 1 17 1-3 1 65 1 39 1 83 1 66 1 33 1 28 1-15 1-47 1 13 1 11 1 60 1-26 1 39 1 78 1 4 1-1 1-15 1-93 1 8 1 36 1 70 1 193 1 64 1 100 1-7 1 90 1 83 1 1 1 52 1-19 1-97 1-20 1-101 1-105 1-50 1-142 1-106 1-157 1-81 1-57 1 15 1 23 1-31 1-53 1-18 1 92 1 57 1 40 1-40 1-25 1-65 1 80 1 26 1 81 1-25 1-51 1 81 1-134 1 2 1 15 1 34 1-41 1 132 1 159 1 161 1 148 1 94 1 111 1 12 1 135 1 36 1 51 1-55 1 81 1-34 1-80 1-88 1-158 1-110 1-39 1-70 1 27 1-71 1-59 1-50 1-50 1-56 1-84 1-92 1-50 1-77 1 29 1 31 1 163 1 44 1 52 1-29 1 39 1 28 1-58 1-28 1-44 1 47 1 19 1-35 1-60 1-14 1 26 1-21 1 46 1 75 1 86 1 151 1 92 1 148 1 98 1 151 1 35 1-133 1-82 1-36 1-146 1-116 1-101 1-141 1-69 1-129 1-60 1-71 1-53 1-106 1-76 1-122 1 6 1 29 1-9 1-109 1 29 1 47 1 72 1 27 1 76 1 124 1 159 1 111 1 114 1 65 1-31 1 4 1-28 1-5 1-82 1-32 1 85 1-4 1 95 1 11 1 54 1-5 1 27 1 96 1-40 1 27 1 84 1-50 1 14 1-70 1-61 1-58 1-41 1-62 1-23 1-105 1-39 1 15 1 22 1 39 1 23 1 67 1 42 1-91 1-10 1 35 1-23 1-102 1 2 1 25 1 118 1 89 1-19 1 26 1 37 1 54 1-7 1 34 1 70 1-6 1 82 1-89 1 25 1 37 1-5 1-8 1 103 1-11 1-42 1 107 1-44 1 51 1-20 1 90 1-25 1-52 1-58 1-39 1-32 1-9 1-6 1-1 1 6 1-33 1-119 1 24 1 34 1-53 1-32 1 85 1 29 1 132 1 38 1-57 1 113 1-128 1 13 1-69 1 5 1-35 1-28 1 4 1-19 1-14 1-36 1 19 1-49 1 76 1-85 1 45 1-28 1-46 1 20 1 46 1-19 1 113 1-45 1 58 1-52 1-141 1-59 1-55 1 40 1-85 1-17 1 36 1-57 1-12 1 68 1 74 1 15 1-16 1-105 1 72 1 80 1 42 1 8 1 48 1-6 1-56 1-56 1-68 1 57 1 83 1 56 1-22 1-26 1 115 1 70 1-28 1 29 1 10 1-13 1 50 1 39 1 4 1-33 1 37 1-1 1 73 1-4 1 73 1-41 1-1 1-78 1-39 1 14 1-7 1-124 1 1 1-45 1-19 1 7 1 25 1 24 1 9 1 13 1-44 1-73 1-64 1-73 1 20 1 153 1 119 1 144 1-160 1-80 1-22 1-78 1 34 1 9 1 121 1 17 1 62" fill="none" stroke="#ff1e1e" stroke-width="2.2" stroke-linejoin="round" vector-effect="non-scaling-stroke"/></g><path d="M68.6 588.5h6.5M662.6 588.5h-6.5M68.6 536.4h6.5M662.6 536.4h-6.5M68.6 484.3h6.5M662.6 484.3h-6.5M68.6 432.2h6.5M662.6 432.2h-6.5M68.6 380.1h6.5M662.6 380.1h-6.5M68.6 327.9h6.5M662.6 327.9h-6.5M68.6 275.8h6.5M662.6 275.8h-6.5M68.6 223.7h6.5M662.6 223.7h-6.5M68.6 171.6h6.5M662.6 171.6h-6.5M68.6 119.5h6.5M662.6 119.5h-6.5M85.6 119.5v6.5M85.6 588.5v-6.5M170.4 119.5v6.5M170.4 588.5v-6.5M255.3 119.5v6.5M255.3 588.5v-6.5M340.1 119.5v6.5M340.1 588.5v-6.5M425.0 119.5v6.5M425.0 588.5v-6.5M509.9 119.5v6.5M509.9 588.5v-6.5M594.7 119.5v6.5M594.7 588.5v-6.5" stroke="#5a5a5a" stroke-width="1.1" fill="none"/><rect x="68.6" y="119.5" width="594.0" height="469.0" fill="none" stroke="#5a5a5a" stroke-width="1.1"/><rect x="549.5" y="130.5" width="98" height="75.7" fill="#fff" stroke="#444" stroke-width="1"/><rect x="557.1" y="139.4" width="20.8" height="12.5" fill="#e8957a" fill-opacity="0.7"/><rect x="557.1" y="144.8" width="20.8" height="2" fill="#ff1e1e"/><text x="587.9" y="150.7" font-size="16.4">Young</text><rect x="557.1" y="162.2" width="20.8" height="12.5" fill="#8680b6" fill-opacity="0.7"/><rect x="557.1" y="167.6" width="20.8" height="2" fill="#1c1c7a"/><text x="587.9" y="173.5" font-size="16.4">60 - 68</text><rect x="557.1" y="184.9" width="20.8" height="12.5" fill="#a2c0e4" fill-opacity="0.7"/><rect x="557.1" y="190.3" width="20.8" height="2" fill="#3a88c8"/><text x="587.9" y="196.2" font-size="16.4">&gt; 68</text><rect x="468.5" y="445.4" width="177.4" height="126.0" fill="#fff" stroke="#6e6e6e" stroke-width="1"/><g transform="translate(474.4 449.9)"><path d="M0.0 30.8C-0.5 26.7 0.7 22.0 3.0 18.0C5.3 14.0 9.8 9.8 14.0 7.0C18.2 4.2 23.2 2.7 28.0 1.5C32.8 0.3 38.3 0.0 43.0 0.0C47.7 0.0 52.0 0.5 56.0 1.5C60.0 2.5 63.7 3.6 67.0 6.0C70.3 8.4 73.6 12.0 76.0 16.0C78.4 20.0 80.7 26.3 81.5 30.0C82.3 33.7 81.9 35.6 81.0 38.0C80.1 40.4 78.8 42.8 76.0 44.5C73.2 46.2 68.7 46.8 64.0 48.0C59.3 49.2 53.0 50.4 48.0 52.0C43.0 53.6 37.5 56.7 34.0 57.5C30.5 58.3 28.8 57.9 27.0 57.0C25.2 56.1 23.9 53.6 23.5 52.0C23.1 50.4 25.9 48.5 24.5 47.5C23.1 46.5 18.1 46.8 15.0 46.0C11.9 45.2 8.5 45.0 6.0 42.5C3.5 40.0 0.5 34.9 0.0 30.8Z" fill="url(#bg)" stroke="#3c3c3c" stroke-width="0.9"/><path d="M25.0 47.0C21.5 49.0 31.5 42.3 35.0 40.0C38.5 37.7 42.5 35.0 46.0 33.0C49.5 31.0 59.5 25.7 56.0 28.0" fill="none" stroke="#4e4e4e" stroke-width="1.2" stroke-linecap="round" opacity="0.8"/><path d="M44.0 1.0C44.7 -2.2 41.8 8.5 41.0 12.0C40.2 15.5 39.7 18.8 39.0 22.0C38.3 25.2 36.2 34.5 37.0 31.0" fill="none" stroke="#4e4e4e" stroke-width="1.2" stroke-linecap="round" opacity="0.8"/><path d="M29.0 54.0C24.7 55.3 37.5 49.8 42.0 48.0C46.5 46.2 51.7 44.3 56.0 43.0C60.3 41.7 72.5 38.2 68.0 40.0" fill="none" stroke="#4e4e4e" stroke-width="1.2" stroke-linecap="round" opacity="0.8"/><path d="M52.0 2.0C52.2 0.3 50.5 10.3 50.0 14.0C49.5 17.7 48.7 26.0 49.0 24.0" fill="none" stroke="#4e4e4e" stroke-width="1.2" stroke-linecap="round" opacity="0.8"/><path d="M8.0 22.0C6.0 22.3 14.3 17.3 18.0 16.0C21.7 14.7 31.7 13.0 30.0 14.0" fill="none" stroke="#4e4e4e" stroke-width="1.2" stroke-linecap="round" opacity="0.8"/><path d="M6.0 31.0C3.8 30.0 11.3 27.5 14.0 27.0C16.7 26.5 19.8 27.0 22.0 28.0C24.2 29.0 29.7 32.5 27.0 33.0" fill="none" stroke="#4e4e4e" stroke-width="1.2" stroke-linecap="round" opacity="0.8"/><path d="M54.0 16.0C51.7 13.8 60.0 12.7 63.0 13.0C66.0 13.3 69.7 15.8 72.0 18.0C74.3 20.2 80.0 26.3 77.0 26.0" fill="none" stroke="#4e4e4e" stroke-width="1.2" stroke-linecap="round" opacity="0.8"/><path d="M34.0 56.0C29.7 57.3 43.3 52.7 48.0 51.0C52.7 49.3 57.7 47.3 62.0 46.0C66.3 44.7 78.7 41.3 74.0 43.0" fill="none" stroke="#4e4e4e" stroke-width="1.2" stroke-linecap="round" opacity="0.8"/><path d="M14.0 10.0C12.3 10.2 19.0 7.7 22.0 7.0C25.0 6.3 33.3 5.5 32.0 6.0" fill="none" stroke="#4e4e4e" stroke-width="1.2" stroke-linecap="round" opacity="0.8"/><path d="M62.0 30.0C61.0 29.0 67.7 30.7 70.0 32.0C72.3 33.3 77.3 38.3 76.0 38.0" fill="none" stroke="#4e4e4e" stroke-width="1.2" stroke-linecap="round" opacity="0.8"/></g><g transform="translate(558.4 449.9)"><path d="M81.5 30.8C82.0 26.7 80.8 22.0 78.5 18.0C76.2 14.0 71.7 9.8 67.5 7.0C63.3 4.2 58.3 2.7 53.5 1.5C48.7 0.3 43.2 0.0 38.5 0.0C33.8 0.0 29.5 0.5 25.5 1.5C21.5 2.5 17.8 3.6 14.5 6.0C11.2 8.4 7.9 12.0 5.5 16.0C3.1 20.0 0.8 26.3 0.0 30.0C-0.8 33.7 -0.4 35.6 0.5 38.0C1.4 40.4 2.7 42.8 5.5 44.5C8.3 46.2 12.8 46.8 17.5 48.0C22.2 49.2 28.5 50.4 33.5 52.0C38.5 53.6 44.0 56.7 47.5 57.5C51.0 58.3 52.8 57.9 54.5 57.0C56.2 56.1 57.6 53.6 58.0 52.0C58.4 50.4 55.6 48.5 57.0 47.5C58.4 46.5 63.4 46.8 66.5 46.0C69.6 45.2 73.0 45.0 75.5 42.5C78.0 40.0 81.0 34.9 81.5 30.8Z" fill="url(#bg)" stroke="#3c3c3c" stroke-width="0.9"/><path d="M56.5 47.0C60.0 49.0 50.0 42.3 46.5 40.0C43.0 37.7 39.0 35.0 35.5 33.0C32.0 31.0 22.0 25.7 25.5 28.0" fill="none" stroke="#4e4e4e" stroke-width="1.2" stroke-linecap="round" opacity="0.8"/><path d="M37.5 1.0C36.8 -2.2 39.7 8.5 40.5 12.0C41.3 15.5 41.8 18.8 42.5 22.0C43.2 25.2 45.3 34.5 44.5 31.0" fill="none" stroke="#4e4e4e" stroke-width="1.2" stroke-linecap="round" opacity="0.8"/><path d="M52.5 54.0C56.8 55.3 44.0 49.8 39.5 48.0C35.0 46.2 29.8 44.3 25.5 43.0C21.2 41.7 9.0 38.2 13.5 40.0" fill="none" stroke="#4e4e4e" stroke-width="1.2" stroke-linecap="round" opacity="0.8"/><path d="M29.5 2.0C29.3 0.3 31.0 10.3 31.5 14.0C32.0 17.7 32.8 26.0 32.5 24.0" fill="none" stroke="#4e4e4e" stroke-width="1.2" stroke-linecap="round" opacity="0.8"/><path d="M73.5 22.0C75.5 22.3 67.2 17.3 63.5 16.0C59.8 14.7 49.8 13.0 51.5 14.0" fill="none" stroke="#4e4e4e" stroke-width="1.2" stroke-linecap="round" opacity="0.8"/><path d="M75.5 31.0C77.7 30.0 70.2 27.5 67.5 27.0C64.8 26.5 61.7 27.0 59.5 28.0C57.3 29.0 51.8 32.5 54.5 33.0" fill="none" stroke="#4e4e4e" stroke-width="1.2" stroke-linecap="round" opacity="0.8"/><path d="M27.5 16.0C29.8 13.8 21.5 12.7 18.5 13.0C15.5 13.3 11.8 15.8 9.5 18.0C7.2 20.2 1.5 26.3 4.5 26.0" fill="none" stroke="#4e4e4e" stroke-width="1.2" stroke-linecap="round" opacity="0.8"/><path d="M47.5 56.0C51.8 57.3 38.2 52.7 33.5 51.0C28.8 49.3 23.8 47.3 19.5 46.0C15.2 44.7 2.8 41.3 7.5 43.0" fill="none" stroke="#4e4e4e" stroke-width="1.2" stroke-linecap="round" opacity="0.8"/><path d="M67.5 10.0C69.2 10.2 62.5 7.7 59.5 7.0C56.5 6.3 48.2 5.5 49.5 6.0" fill="none" stroke="#4e4e4e" stroke-width="1.2" stroke-linecap="round" opacity="0.8"/><path d="M19.5 30.0C20.5 29.0 13.8 30.7 11.5 32.0C9.2 33.3 4.2 38.3 5.5 38.0" fill="none" stroke="#4e4e4e" stroke-width="1.2" stroke-linecap="round" opacity="0.8"/></g><g transform="translate(474.4 509.4)"><path d="M0.0 31.9C0.0 28.9 1.0 23.8 3.0 20.0C5.0 16.2 8.3 11.9 12.0 9.0C15.7 6.1 20.3 4.0 25.0 2.5C29.7 1.0 35.0 0.2 40.0 0.0C45.0 -0.2 50.3 0.0 55.0 1.0C59.7 2.0 64.3 3.5 68.0 6.0C71.7 8.5 74.8 12.0 77.0 16.0C79.2 20.0 81.2 26.0 81.5 30.0C81.8 34.0 80.6 37.4 79.0 40.0C77.4 42.6 75.2 44.2 72.0 45.5C68.8 46.8 62.2 46.9 60.0 48.0C57.8 49.1 59.3 50.5 58.5 52.0C57.7 53.5 56.4 56.0 55.0 57.0C53.6 58.0 51.8 58.5 50.0 58.3C48.2 58.1 46.5 57.4 44.0 56.0C41.5 54.6 38.7 51.7 35.0 50.0C31.3 48.3 26.2 47.3 22.0 46.0C17.8 44.7 13.2 43.3 10.0 42.0C6.8 40.7 4.7 39.7 3.0 38.0C1.3 36.3 0.0 34.9 0.0 31.9Z" fill="url(#bg2)" stroke="#3c3c3c" stroke-width="0.9"/><path d="M8.0 36.0C-1.8 33.7 12.3 25.8 16.0 22.0C19.7 18.2 25.0 14.8 30.0 13.0C35.0 11.2 40.7 10.7 46.0 11.0C51.3 11.3 57.7 12.7 62.0 15.0C66.3 17.3 69.8 21.5 72.0 25.0C74.2 28.5 85.7 34.2 75.0 36.0" fill="none" stroke="#4e4e4e" stroke-width="1.2" stroke-linecap="round" opacity="0.8"/><path d="M10.0 40.0C6.0 38.5 18.0 40.3 22.0 41.0C26.0 41.7 30.0 42.5 34.0 44.0C38.0 45.5 50.0 50.7 46.0 50.0" fill="none" stroke="#4e4e4e" stroke-width="1.2" stroke-linecap="round" opacity="0.8"/><path d="M24.0 34.0C24.7 31.8 31.7 28.3 36.0 27.0C40.3 25.7 45.7 25.5 50.0 26.0C54.3 26.5 59.7 28.2 62.0 30.0C64.3 31.8 65.0 35.3 64.0 37.0C63.0 38.7 59.3 39.8 56.0 40.0C52.7 40.2 48.0 38.0 44.0 38.0C40.0 38.0 35.3 40.7 32.0 40.0C28.7 39.3 23.3 36.2 24.0 34.0Z" fill="#c9c9c9" stroke="#8a8a8a" stroke-width="0.6" opacity="0.8"/></g><g transform="translate(558.4 509.4)"><path d="M81.5 31.9C81.5 28.9 80.5 23.8 78.5 20.0C76.5 16.2 73.2 11.9 69.5 9.0C65.8 6.1 61.2 4.0 56.5 2.5C51.8 1.0 46.5 0.2 41.5 0.0C36.5 -0.2 31.2 0.0 26.5 1.0C21.8 2.0 17.2 3.5 13.5 6.0C9.8 8.5 6.8 12.0 4.5 16.0C2.2 20.0 0.3 26.0 0.0 30.0C-0.3 34.0 0.9 37.4 2.5 40.0C4.1 42.6 6.3 44.2 9.5 45.5C12.7 46.8 19.2 46.9 21.5 48.0C23.8 49.1 22.2 50.5 23.0 52.0C23.8 53.5 25.1 56.0 26.5 57.0C27.9 58.0 29.7 58.5 31.5 58.3C33.3 58.1 35.0 57.4 37.5 56.0C40.0 54.6 42.8 51.7 46.5 50.0C50.2 48.3 55.3 47.3 59.5 46.0C63.7 44.7 68.3 43.3 71.5 42.0C74.7 40.7 76.8 39.7 78.5 38.0C80.2 36.3 81.5 34.9 81.5 31.9Z" fill="url(#bg2)" stroke="#3c3c3c" stroke-width="0.9"/><path d="M73.5 36.0C83.3 33.7 69.2 25.8 65.5 22.0C61.8 18.2 56.5 14.8 51.5 13.0C46.5 11.2 40.8 10.7 35.5 11.0C30.2 11.3 23.8 12.7 19.5 15.0C15.2 17.3 11.7 21.5 9.5 25.0C7.3 28.5 -4.2 34.2 6.5 36.0" fill="none" stroke="#4e4e4e" stroke-width="1.2" stroke-linecap="round" opacity="0.8"/><path d="M71.5 40.0C75.5 38.5 63.5 40.3 59.5 41.0C55.5 41.7 51.5 42.5 47.5 44.0C43.5 45.5 31.5 50.7 35.5 50.0" fill="none" stroke="#4e4e4e" stroke-width="1.2" stroke-linecap="round" opacity="0.8"/><path d="M57.5 34.0C56.8 31.8 49.8 28.3 45.5 27.0C41.2 25.7 35.8 25.5 31.5 26.0C27.2 26.5 21.8 28.2 19.5 30.0C17.2 31.8 16.5 35.3 17.5 37.0C18.5 38.7 22.2 39.8 25.5 40.0C28.8 40.2 33.5 38.0 37.5 38.0C41.5 38.0 46.2 40.7 49.5 40.0C52.8 39.3 58.2 36.2 57.5 34.0Z" fill="#c9c9c9" stroke="#8a8a8a" stroke-width="0.6" opacity="0.8"/></g><polygon points="481.4,489.9 483.4,484.9 487.4,482.9 492.4,482.4 496.4,484.9 497.9,489.9 494.4,494.9 488.4,496.9 483.4,494.9" fill="#f02222" stroke="#e01818" stroke-width="0.8" stroke-linejoin="round"/><polygon points="498.9,482.9 501.4,482.4 502.4,484.9 499.9,485.9" fill="#f02222" stroke="#e01818" stroke-width="0.8" stroke-linejoin="round"/><polygon points="499.4,493.9 502.4,491.4 506.4,492.4 505.4,496.9 501.4,498.9" fill="#f02222" stroke="#e01818" stroke-width="0.8" stroke-linejoin="round"/><polygon points="500.4,498.9 506.4,496.9 514.4,497.4 521.4,496.4 524.4,497.9 520.4,500.9 512.4,504.9 504.4,508.4 501.4,506.9" fill="#f02222" stroke="#e01818" stroke-width="0.8" stroke-linejoin="round"/><polygon points="527.4,480.9 530.4,479.9 531.9,482.9 529.4,484.9" fill="#f02222" stroke="#e01818" stroke-width="0.8" stroke-linejoin="round"/><polygon points="528.4,485.9 532.4,484.9 533.9,487.9 531.4,489.9" fill="#f02222" stroke="#e01818" stroke-width="0.8" stroke-linejoin="round"/><polygon points="527.4,489.9 530.4,489.4 531.4,492.4 528.4,492.9" fill="#f02222" stroke="#e01818" stroke-width="0.8" stroke-linejoin="round"/><polygon points="510.4,520.4 518.4,519.4 526.4,519.0 530.2,521.4 529.4,526.4 526.4,530.4 518.4,532.3 512.4,529.4 511.4,524.4" fill="#f02222" stroke="#e01818" stroke-width="0.8" stroke-linejoin="round"/><polygon points="533.4,532.4 536.4,531.7 537.7,534.4 535.4,537.0 533.4,535.4" fill="#f02222" stroke="#e01818" stroke-width="0.8" stroke-linejoin="round"/><polygon points="529.4,549.4 532.4,545.4 537.4,543.4 539.4,545.4 536.4,549.4 532.4,553.0" fill="#f02222" stroke="#e01818" stroke-width="0.8" stroke-linejoin="round"/><polygon points="490.9,540.2 499.4,538.9 507.4,539.9 505.4,546.4 512.4,551.4 521.4,555.4 531.4,558.4 533.4,562.4 530.4,566.4 524.4,566.4 516.4,561.4 504.4,555.4 494.4,548.4" fill="#f02222" stroke="#e01818" stroke-width="0.8" stroke-linejoin="round"/><polygon points="574.9,545.4 579.4,544.0 583.4,546.4 586.4,551.4 584.4,553.4 579.4,550.4" fill="#f02222" stroke="#e01818" stroke-width="0.8" stroke-linejoin="round"/><polygon points="608.8,540.9 610.9,539.7 612.1,541.9 610.4,542.9" fill="#f02222" stroke="#e01818" stroke-width="0.8" stroke-linejoin="round"/><text x="59.8" y="591.6" font-size="20" text-anchor="end">-60</text><text x="59.8" y="539.9" font-size="20" text-anchor="end">-50</text><text x="59.8" y="488.2" font-size="20" text-anchor="end">-40</text><text x="59.8" y="436.6" font-size="20" text-anchor="end">-30</text><text x="59.8" y="384.9" font-size="20" text-anchor="end">-20</text><text x="59.8" y="333.2" font-size="20" text-anchor="end">-10</text><text x="59.8" y="281.6" font-size="20" text-anchor="end">0</text><text x="59.8" y="229.9" font-size="20" text-anchor="end">10</text><text x="59.8" y="178.2" font-size="20" text-anchor="end">20</text><text x="59.8" y="126.6" font-size="20" text-anchor="end">30</text><text x="84.9" y="608.4" font-size="20" text-anchor="middle">0</text><text x="167.9" y="608.4" font-size="20" text-anchor="middle">0.5</text><text x="253.1" y="608.4" font-size="20" text-anchor="middle">1</text><text x="337.3" y="608.4" font-size="20" text-anchor="middle">1.5</text><text x="423.5" y="608.4" font-size="20" text-anchor="middle">2</text><text x="506.4" y="608.4" font-size="20" text-anchor="middle">2.5</text><text x="593.2" y="608.4" font-size="20" text-anchor="middle">3</text><text x="356.3" y="635.9" font-size="21.5" text-anchor="middle">Time (s)</text><text transform="translate(18.7 375.0) rotate(-90)" font-size="21.5" text-anchor="middle">Neural activity index</text><text x="272.3" y="93.1" font-size="31" textLength="153.3" lengthAdjust="spacingAndGlyphs">Memorised</text><text transform="translate(68.3 678.4) scale(1.280 1)" font-size="29.45" fill="#000" font-family="'Noto Sans CJK JP', sans-serif">&#9834;</text><text transform="translate(133.5 678.4) scale(1.280 1)" font-size="29.45" fill="#000" font-family="'Noto Sans CJK JP', sans-serif">&#9834;</text><text transform="translate(192.2 678.4) scale(1.280 1)" font-size="29.45" fill="#000" font-family="'Noto Sans CJK JP', sans-serif">&#9834;</text><text transform="translate(254.7 678.4) scale(1.280 1)" font-size="29.45" fill="#000" font-family="'Noto Sans CJK JP', sans-serif">&#9834;</text><text transform="translate(315.4 678.4) scale(1.280 1)" font-size="29.45" fill="#000" font-family="'Noto Sans CJK JP', sans-serif">&#9834;</text><clipPath id="c01"><rect x="760.5" y="119.5" width="594.0" height="469.0"/></clipPath><g clip-path="url(#c01)"><rect x="792.7" y="119.5" width="8.3" height="469.0" fill="#dcdcdd"/><rect x="1149.1" y="119.5" width="6.4" height="469.0" fill="#dcdcdd"/><path d="M777.5 119.5V588.5M794.4 119.5V588.5M811.4 119.5V588.5M828.4 119.5V588.5M845.4 119.5V588.5M862.3 119.5V588.5M879.3 119.5V588.5M896.3 119.5V588.5M913.2 119.5V588.5M930.2 119.5V588.5M947.2 119.5V588.5M964.2 119.5V588.5M981.1 119.5V588.5M998.1 119.5V588.5M1015.1 119.5V588.5M1032.0 119.5V588.5M1049.0 119.5V588.5M1066.0 119.5V588.5M1083.0 119.5V588.5M1099.9 119.5V588.5M1116.9 119.5V588.5M1133.9 119.5V588.5M1150.8 119.5V588.5M1167.8 119.5V588.5M1184.8 119.5V588.5M1201.8 119.5V588.5M1218.7 119.5V588.5M1235.7 119.5V588.5M1252.7 119.5V588.5M1269.6 119.5V588.5M1286.6 119.5V588.5M1303.6 119.5V588.5M1320.6 119.5V588.5M1337.5 119.5V588.5M760.5 578.1H1354.5M760.5 567.7H1354.5M760.5 557.2H1354.5M760.5 546.8H1354.5M760.5 536.4H1354.5M760.5 526.0H1354.5M760.5 515.5H1354.5M760.5 505.1H1354.5M760.5 494.7H1354.5M760.5 484.3H1354.5M760.5 473.9H1354.5M760.5 463.4H1354.5M760.5 453.0H1354.5M760.5 442.6H1354.5M760.5 432.2H1354.5M760.5 421.7H1354.5M760.5 411.3H1354.5M760.5 400.9H1354.5M760.5 390.5H1354.5M760.5 380.1H1354.5M760.5 369.6H1354.5M760.5 359.2H1354.5M760.5 348.8H1354.5M760.5 338.4H1354.5M760.5 327.9H1354.5M760.5 317.5H1354.5M760.5 307.1H1354.5M760.5 296.7H1354.5M760.5 286.3H1354.5M760.5 275.8H1354.5M760.5 265.4H1354.5M760.5 255.0H1354.5M760.5 244.6H1354.5M760.5 234.1H1354.5M760.5 223.7H1354.5M760.5 213.3H1354.5M760.5 202.9H1354.5M760.5 192.5H1354.5M760.5 182.0H1354.5M760.5 171.6H1354.5M760.5 161.2H1354.5M760.5 150.8H1354.5M760.5 140.3H1354.5M760.5 129.9H1354.5" stroke="#bdbdbd" stroke-width="0.9" stroke-dasharray="1.2 2.3" fill="none"/><path transform="translate(760.50 119.50) scale(1.35771 0.1)" d="M0 1352l1-188 1-7 1-491 1 429 1-155 1-245 1 96 1 260 1 324 1 210 1 366 1-661 1 264 1-680 1 171 1-252 1-246 1-77 1-241 1 164 1-153 1 763 1 1244 1 1125 1 662 1-866 1-362 1-223 1-524 1-676 1 36 1-93 1-258 1 404 1 60 1-157 1 156 1-170 1-179 1-99 1-569 1 194 1-302 1-728 1 767 1-125 1 689 1-32 1-128 1 73 1-56 1 114 1-130 1 71 1-212 1-48 1 73 1 19 1 458 1-1 1-84 1-162 1-221 1-202 1-59 1-91 1-169 1-62 1 65 1 43 1 44 1-155 1-131 1 167 1 452 1 408 1 401 1-129 1 129 1 31 1 151 1-131 1-336 1 17 1-63 1 133 1-293 1 134 1 197 1 80 1-67 1 159 1 181 1 111 1-59 1-107 1-9 1 45 1 41 1 35 1-166 1 97 1 195 1-73 1-244 1-259 1 28 1 281 1-42 1 85 1 13 1 13 1 273 1-280 1-107 1-406 1 42 1-259 1 43 1-99 1 132 1 84 1 31 1 318 1-5 1 164 1-49 1 0 1 112 1 30 1-135 1-285 1-40 1-60 1 85 1 110 1 177 1 46 1 11 1-107 1-111 1-383 1 177 1 232 1 25 1 273 1 34 1 205 1-217 1-400 1 133 1-171 1-118 1 1 1 76 1 78 1-575 1 391 1 51 1 10 1-110 1-73 1 49 1-69 1 31 1 274 1-8 1 158 1 173 1 303 1-79 1-100 1 473 1 132 1-60 1-30 1-183 1-257 1 9 1-258 1 14 1-92 1 3 1-371 1 408 1 28 1-249 1-155 1 34 1-1 1 40 1 100 1 41 1-59 1-200 1-67 1 120 1 12 1 255 1-18 1-67 1 21 1 34 1 44 1-94 1-17 1 156 1-135 1 110 1 124 1-267 1-247 1 127 1 7 1 82 1 257 1 210 1 284 1 182 1-151 1-449 1 39 1-126 1 35 1-330 1-37 1 315 1 52 1 107 1 22 1-44 1 47 1-275 1-102 1-12 1 38 1-134 1-84 1-120 1-12 1 230 1-149 1 163 1 58 1-170 1 140 1-9 1 95 1 139 1-218 1-109 1-109 1 169 1-22 1-140 1-138 1 32 1-239 1-9 1-89 1 42 1-35 1 100 1-106 1 293 1 51 1 171 1 91 1 186 1 170 1 5 1 152 1-205 1-20 1-165 1 21 1-358 1 315 1-165 1 162 1 56 1-278 1 276 1-28 1 24 1-14 1-91 1 204 1 70 1 121 1 37 1 78 1 11 1 99 1-66 1-245 1-63 1-265 1 70 1 53 1-160 1-139 1 124 1 86 1 31 1 20 1 68 1 139 1 91 1-145 1-136 1 90 1-43 1 199 1-586 1 689 1-369 1 633 1 141 1-281 1 85 1-344 1 347 1-58 1-69 1 212 1 1 1 175 1-23 1-108 1-161 1-533 1 174 1-369 1 10 1-408 1 403 1 49 1 126 1-27 1-72 1 128 1-8 1-16 1 9 1-80 1-222 1 53 1-92 1-215 1-71 1-156 1 340 1 161 1 255 1 183 1-301 1 227 1-25 1 310 1-251 1 104 1-615 1 286 1-145 1 222 1-283 1 161 1-177 1-116 1 155 1-172 1 70 1 267 1 188 1-250 1 154 1-138 1 105 1 242 1-214 1 72 1-138 1 151 1-270 1-80 1 179 1 103 1 71 1-212 1 58 1 111 1-53 1-15 1 47 1 237 1 17 1 317 1-14 1-12 1-254 1 226 1-503 1 193 1-265 1-43 1-226 1 31 1-80 1 257 1 183 1 167 1 24 1 142 1 47 1 297 1-117 1-111 1-144 1-1 1-61 1-8 1-83 1 121 1 58 1-69 1 25 1 52 1-174 1 18 1-20 1 8 1-102 1-15 1 152 1 362 1 9V2381l-1-108 -1 160 -1-383 -1-129 -1 189 -1 38 -1-14 -1-100 -1 253 -1-79 -1-30 -1 253 -1-324 -1-22 -1-132 -1 94 -1 210 -1 109 -1 24 -1 101 -1-62 -1-181 -1 369 -1-381 -1-105 -1-281 -1-329 -1 69 -1-150 -1 86 -1 480 -1-176 -1 301 -1 193 -1 174 -1-90 -1 66 -1-89 -1-118 -1-258 -1 227 -1-143 -1 26 -1-37 -1 13 -1-68 -1-37 -1-174 -1-63 -1-11 -1 97 -1-30 -1 207 -1-165 -1 49 -1-2 -1 192 -1 95 -1-166 -1-211 -1-10 -1-31 -1 55 -1-210 -1-79 -1 63 -1-78 -1 153 -1-54 -1 22 -1 119 -1 0 -1-189 -1 188 -1 32 -1-73 -1 274 -1-165 -1 112 -1 191 -1-31 -1-289 -1-169 -1-255 -1-177 -1-47 -1 472 -1-51 -1 28 -1-156 -1 418 -1-12 -1-205 -1 112 -1-69 -1 171 -1 204 -1-281 -1-376 -1 88 -1 420 -1-216 -1 357 -1-8 -1 143 -1 169 -1 135 -1 168 -1-190 -1 10 -1-103 -1 48 -1-54 -1 64 -1-278 -1 133 -1-71 -1 192 -1-49 -1 43 -1-21 -1-115 -1 50 -1-246 -1-99 -1-82 -1-9 -1-39 -1 35 -1-108 -1 4 -1-51 -1-52 -1 117 -1-136 -1 105 -1-17 -1-161 -1 116 -1 308 -1 169 -1 138 -1-48 -1-1 -1-167 -1 25 -1-154 -1 87 -1-148 -1 182 -1 66 -1-92 -1-75 -1-94 -1 78 -1 190 -1-306 -1 8 -1-121 -1 65 -1 93 -1 176 -1 375 -1-255 -1 25 -1 43 -1-38 -1-304 -1 184 -1-456 -1-144 -1-183 -1 38 -1 40 -1-43 -1-35 -1 21 -1 396 -1-307 -1 140 -1-202 -1 226 -1-109 -1-67 -1 145 -1 116 -1 20 -1-53 -1-22 -1 315 -1-17 -1-194 -1-15 -1 31 -1-213 -1 379 -1-155 -1 5 -1 445 -1-479 -1-11 -1 327 -1-112 -1 120 -1 55 -1 477 -1-361 -1-243 -1-9 -1-3 -1-2 -1-128 -1 119 -1 73 -1 272 -1 10 -1 226 -1 56 -1 24 -1-184 -1-230 -1-213 -1-168 -1 441 -1-624 -1-75 -1 304 -1 65 -1 49 -1-210 -1 49 -1-81 -1 25 -1 49 -1 123 -1-50 -1-49 -1-134 -1-237 -1-31 -1 128 -1 7 -1 297 -1 34 -1 124 -1-185 -1 119 -1 19 -1-203 -1-78 -1 113 -1 182 -1-1 -1-92 -1 180 -1-166 -1 221 -1 206 -1 52 -1 109 -1 440 -1-323 -1 179 -1-235 -1 20 -1-276 -1-127 -1-231 -1-277 -1-44 -1 354 -1-477 -1-2 -1 420 -1-398 -1-36 -1 159 -1 219 -1-67 -1-75 -1 86 -1-194 -1-19 -1 12 -1 42 -1 390 -1-135 -1 154 -1 288 -1-249 -1-79 -1-66 -1-32 -1-244 -1 146 -1 500 -1-349 -1 147 -1 408 -1-430 -1-195 -1-80 -1-40 -1 185 -1 108 -1-143 -1 20 -1 241 -1 81 -1-29 -1-55 -1-242 -1-102 -1-26 -1 21 -1-194 -1-162 -1-148 -1 56 -1 20 -1 390 -1 292 -1 311 -1 129 -1-240 -1-222 -1-246 -1-33 -1 100 -1-181 -1 388 -1-311 -1 221 -1 270 -1-19 -1 284 -1-339 -1 208 -1-571 -1 264 -1 152 -1-177 -1-95 -1-90 -1-80 -1-193 -1 44 -1 138 -1-88 -1 77 -1-90 -1 18 -1-145 -1 24 -1 264 -1 87 -1 423 -1-350 -1-40 -1-94 -1-327 -1-633 -1-329 -1-160 -1-37 -1 161 -1-19 -1 513 -1-263 -1 26 -1 78 -1 192 -1 102 -1-54 -1 201 -1 64 -1 400 -1-112 -1-182 -1-111 -1 83 -1 83 -1 23 -1-267 -1 67 -1-84 -1 217 -1-145 -1 399 -1-125 -1-232 -1-430 -1-304 -1 190 -1 336 -1 111 -1 153 -1 353 -1 176 -1 106 -1-66 -1-6 -1 6 -1 1 -1-127 -1 146 -1 342 -1 240 -1 557 -1 131 -1 731 -1 431 -1-724 -1-1168 -1-1041 -1-233 -1-629 -1-208 -1 551 -1 174 -1 232 -1 83 -1 487 -1 141 -1 186 -1 296 -1-179 -1-266 -1-460 -1-536 -1 29 -1 36 -1 140 -1 59 -1 33 -1 112 -1 91z" fill="#a2c0e4" fill-opacity="0.7"/><path transform="translate(760.50 119.50) scale(1.35771 0.1)" d="M0 1203l1 88 1-21 1 198 1 49 1-61 1 6 1-119 1 167 1-75 1-31 1 6 1 108 1-35 1-71 1 112 1-159 1-174 1-458 1-266 1 152 1 464 1 240 1 626 1 730 1 699 1 729 1 607 1-1362 1-1080 1-599 1-449 1 2 1-242 1-88 1-4 1 179 1-24 1 7 1-205 1-247 1 70 1-4 1 159 1-118 1 252 1-191 1 55 1-288 1 148 1-15 1-283 1 6 1-87 1 60 1 106 1 62 1 33 1 98 1 104 1 115 1-1 1-274 1 123 1-12 1 114 1-53 1-79 1 23 1 102 1 142 1 151 1-57 1-120 1 37 1 317 1 320 1 236 1 4 1-26 1 93 1-22 1-154 1 30 1 137 1-137 1 76 1 43 1-22 1 41 1 60 1-152 1 113 1-34 1-9 1-156 1-16 1-139 1-164 1 38 1-92 1-231 1 325 1 190 1 72 1-153 1-65 1-299 1 11 1-140 1 86 1-62 1 178 1-125 1 114 1-271 1-61 1-143 1-166 1-25 1 275 1 298 1 168 1 63 1 72 1 116 1 156 1 140 1 157 1-296 1 416 1-79 1-399 1 175 1-70 1-306 1 109 1 45 1-86 1 33 1 127 1-38 1-88 1-4 1-135 1-227 1 46 1 156 1 19 1-85 1-71 1-31 1-57 1-10 1-32 1 17 1-115 1-50 1 113 1-33 1 13 1 15 1 26 1-291 1-119 1-185 1 94 1 115 1 262 1 126 1 260 1 27 1-80 1 148 1 149 1 97 1-61 1-288 1-121 1-52 1-11 1 20 1-35 1 108 1 7 1 27 1-21 1 46 1 83 1-50 1 73 1 5 1 125 1-158 1 60 1-58 1-138 1-49 1-12 1-161 1-65 1 46 1 70 1 46 1 82 1 16 1 39 1-82 1 118 1-286 1-114 1-215 1-284 1 165 1 152 1 163 1 120 1 443 1 147 1 121 1 16 1 95 1-131 1-67 1-30 1-98 1 88 1 66 1 98 1-36 1-5 1-216 1 80 1-42 1-58 1-49 1-74 1 189 1 36 1-31 1-76 1-33 1 207 1 108 1 70 1-141 1-14 1-87 1 25 1-154 1 224 1-42 1 249 1-143 1-59 1-37 1-215 1 101 1 26 1-174 1-196 1 263 1 177 1 124 1-141 1 3 1 86 1-139 1-64 1 114 1-136 1 60 1-280 1 344 1-131 1-11 1-127 1 121 1-116 1 90 1-214 1 70 1 278 1 49 1-124 1 80 1-167 1-64 1-224 1 64 1 103 1 108 1 113 1-96 1-154 1-136 1 71 1 69 1 41 1 73 1-36 1 100 1 65 1-89 1-50 1-3 1 22 1 100 1 55 1 47 1-46 1-28 1-95 1 76 1 148 1-55 1-34 1-131 1-60 1 4 1 138 1-94 1 74 1 66 1-61 1 63 1-128 1-95 1 158 1-27 1 120 1 20 1-50 1 171 1-7 1 33 1-98 1-35 1 252 1-102 1 98 1 24 1 72 1-45 1 36 1-37 1-20 1-18 1-153 1-48 1 52 1 26 1-196 1 46 1 17 1 98 1-83 1 184 1-123 1 55 1-69 1-69 1 85 1-98 1 26 1-64 1 49 1 36 1-160 1 233 1 5 1 23 1 148 1-136 1 246 1 6 1 16 1-33 1-120 1-37 1 5 1-102 1 79 1-46 1-142 1-82 1-65 1 78 1-43 1 97 1-128 1 71 1-103 1-5 1-55 1-154 1 105 1-109 1 119 1-90 1-62 1-39 1 143 1 310 1 8 1 150 1-8 1-16 1-98 1-176 1 10 1-24 1 29 1-26 1-84 1-47 1 83 1-45 1-82 1 285 1 61 1 79 1-76 1 18 1 12 1-156 1 30 1-107 1 34 1-76 1-140 1 58 1-69 1 137 1-12 1-69 1 31 1 116V1696l-1 121 -1 25 -1 70 -1-66 -1-160 -1 62 -1-49 -1 45 -1-114 -1 10 -1 110 -1 101 -1 201 -1-27 -1 151 -1-18 -1 0 -1-120 -1-118 -1-67 -1 72 -1 32 -1 70 -1 84 -1-90 -1 3 -1 106 -1-60 -1 108 -1 86 -1 3 -1 87 -1-130 -1-132 -1-115 -1-103 -1 8 -1-195 -1-55 -1 56 -1 101 -1 17 -1 114 -1 48 -1 55 -1 122 -1-111 -1-14 -1-93 -1 78 -1 42 -1 216 -1-49 -1-44 -1 11 -1-71 -1 199 -1-14 -1 19 -1 51 -1 37 -1 148 -1-105 -1-32 -1-37 -1-132 -1-123 -1-105 -1-80 -1 57 -1 164 -1-220 -1 42 -1-148 -1 161 -1 61 -1 187 -1-1 -1-116 -1 237 -1-190 -1 115 -1-253 -1-42 -1-51 -1 154 -1 37 -1 1 -1 78 -1 173 -1-60 -1 134 -1-168 -1 56 -1 53 -1-33 -1-94 -1-6 -1 9 -1-45 -1 11 -1 109 -1-267 -1-55 -1 5 -1 71 -1-10 -1-183 -1 79 -1-152 -1 122 -1 59 -1 16 -1-110 -1-31 -1 6 -1 72 -1-22 -1-14 -1 68 -1 76 -1-142 -1 95 -1 21 -1 29 -1-27 -1-36 -1 65 -1-86 -1 25 -1-130 -1 128 -1-167 -1-111 -1 41 -1-106 -1 51 -1 38 -1 91 -1-43 -1-75 -1-183 -1 105 -1 99 -1 108 -1-24 -1 37 -1 42 -1-172 -1 56 -1 57 -1 242 -1-57 -1-39 -1 4 -1-254 -1 33 -1 124 -1-220 -1 49 -1 19 -1 62 -1 166 -1 146 -1-57 -1-4 -1 136 -1-164 -1-171 -1 81 -1 228 -1-29 -1 67 -1 161 -1-185 -1-164 -1-161 -1-36 -1 211 -1 23 -1-12 -1 127 -1 20 -1-7 -1 169 -1-215 -1 138 -1-216 -1-74 -1-19 -1 221 -1-84 -1 150 -1 33 -1-123 -1 135 -1-321 -1-21 -1 52 -1-54 -1-142 -1-32 -1-63 -1 57 -1 124 -1-69 -1 184 -1-34 -1 122 -1-46 -1-39 -1 18 -1 171 -1-41 -1-122 -1-3 -1-136 -1 164 -1-102 -1-126 -1-187 -1-204 -1-138 -1-252 -1-132 -1 265 -1 299 -1 178 -1 171 -1-49 -1-52 -1-213 -1-19 -1-69 -1 84 -1 21 -1-25 -1-85 -1 261 -1-192 -1 43 -1 99 -1 94 -1 99 -1 139 -1-105 -1-169 -1 104 -1-28 -1-69 -1-127 -1 31 -1 65 -1-61 -1-64 -1-61 -1-61 -1 186 -1 207 -1 296 -1 84 -1-38 -1-128 -1-30 -1-211 -1 150 -1-281 -1-210 -1 54 -1-17 -1-283 -1-31 -1-114 -1 140 -1 369 -1-146 -1-102 -1 260 -1 46 -1-66 -1-126 -1 23 -1 2 -1-38 -1 182 -1 52 -1 100 -1 33 -1-67 -1-34 -1 151 -1 7 -1 80 -1 118 -1 29 -1 11 -1-39 -1 38 -1-56 -1 111 -1-108 -1-59 -1 84 -1 81 -1 57 -1 212 -1-47 -1-26 -1-82 -1-166 -1-51 -1-17 -1-67 -1-67 -1-290 -1-128 -1-254 -1-21 -1-71 -1 151 -1 162 -1 1 -1 226 -1-113 -1 108 -1-118 -1 0 -1 50 -1 12 -1 71 -1 384 -1-24 -1 196 -1-258 -1-127 -1-216 -1 46 -1 209 -1 90 -1 269 -1 49 -1-42 -1 109 -1-17 -1-30 -1-66 -1 110 -1 56 -1-108 -1-67 -1 14 -1-55 -1 123 -1-3 -1-74 -1 175 -1-84 -1-71 -1-21 -1-73 -1-163 -1-205 -1-376 -1-44 -1 131 -1 82 -1-23 -1-184 -1-189 -1-134 -1-24 -1 63 -1-99 -1 77 -1 22 -1 211 -1-291 -1-114 -1 84 -1 62 -1-42 -1 36 -1-176 -1-45 -1-98 -1 211 -1 226 -1-53 -1-2 -1 48 -1-25 -1 181 -1-12 -1-110 -1-183 -1-43 -1 9 -1 143 -1 150 -1 78 -1 127 -1-65 -1-267 -1 52 -1 275 -1 182 -1 530 -1 612 -1 1049 -1 1295 -1-597 -1-583 -1-953 -1-764 -1-540 -1-310 -1-238 -1-315 -1 257 -1 322 -1 411 -1 139 -1 110 -1-164 -1 3 -1 1 -1-144 -1 91 -1-93 -1-53 -1 67 -1 12 -1 122 -1-6 -1-118 -1 14 -1-100z" fill="#8680b6" fill-opacity="0.7"/><path transform="translate(760.50 119.50) scale(1.35771 0.1)" d="M0 1425l1-46 1 26 1-31 1 44 1-95 1-4 1 127 1-14 1 185 1-154 1 36 1-119 1 125 1-117 1-75 1-53 1-95 1-114 1-75 1 10 1 134 1 97 1 205 1 106 1 213 1-103 1-90 1-217 1-112 1-68 1-69 1 127 1 107 1 5 1 133 1 59 1 120 1-23 1-99 1 30 1 18 1-67 1-108 1-249 1-207 1-194 1-89 1-51 1-89 1-64 1-32 1 69 1-14 1 82 1-137 1 53 1-54 1 85 1-99 1 161 1 178 1 88 1 252 1 163 1-45 1 61 1 117 1 164 1 48 1-100 1-24 1-155 1-6 1-64 1 11 1 80 1-102 1 256 1-69 1-1 1 102 1 129 1 108 1-83 1 7 1 209 1 30 1 228 1-5 1 210 1 1 1-49 1 10 1-177 1-18 1-261 1 79 1-94 1-9 1-26 1 11 1-100 1-102 1-98 1 145 1 25 1-109 1 18 1 86 1-78 1-5 1-89 1 0 1-10 1 10 1-70 1-203 1-155 1-132 1-7 1 40 1-9 1 49 1 183 1 70 1 167 1 40 1 123 1 133 1 156 1-36 1 121 1-3 1 71 1-43 1-100 1-127 1-64 1-120 1 5 1-95 1-74 1-170 1 51 1-11 1 35 1-37 1-60 1-61 1-20 1 40 1 18 1-1 1-143 1 15 1-14 1 140 1 69 1 12 1-17 1-89 1-71 1-16 1 1 1 7 1 65 1 80 1 149 1-53 1 41 1 30 1 38 1 7 1 61 1 102 1 62 1 106 1 63 1 167 1-106 1-11 1-106 1-47 1 0 1-93 1 38 1-164 1-100 1-168 1-75 1-152 1 121 1 101 1 32 1-12 1 16 1 79 1-12 1 79 1-76 1 15 1-53 1 1 1 97 1-43 1 56 1-75 1 59 1-150 1-39 1-86 1 97 1 87 1-28 1 10 1-20 1-9 1 45 1 81 1 44 1 206 1 13 1 229 1 23 1 119 1-105 1 109 1 2 1-94 1-120 1 14 1-133 1-158 1-36 1-40 1-57 1-67 1-68 1-107 1-63 1 113 1 39 1 115 1-5 1-62 1-169 1 26 1 33 1-6 1 155 1 24 1 2 1-35 1 80 1-61 1-150 1-37 1-102 1-72 1 137 1 48 1 67 1 20 1-65 1 146 1 3 1-84 1-37 1-166 1 43 1 42 1-30 1 65 1 10 1-72 1 23 1-92 1-161 1-46 1 2 1-36 1-55 1 61 1 45 1 68 1-51 1 72 1-98 1 24 1 50 1 64 1-44 1-12 1-109 1 103 1-13 1-46 1 78 1 80 1-28 1-58 1-35 1-82 1 146 1 93 1 128 1-51 1-19 1 68 1 141 1-1 1 95 1-43 1-120 1 41 1 70 1 15 1-65 1 131 1-111 1 101 1-85 1 52 1 69 1-87 1-38 1 8 1-52 1-17 1-83 1 124 1-20 1 63 1-5 1 133 1-31 1-97 1 84 1-18 1-31 1-8 1-12 1 39 1-25 1 23 1 17 1-7 1 69 1-24 1 88 1-54 1 2 1-22 1 39 1-65 1 97 1-80 1 19 1-99 1 8 1 44 1 0 1 67 1 36 1-78 1 3 1-26 1 32 1 83 1-53 1-69 1-33 1 49 1 78 1 59 1 59 1-32 1 47 1-3 1-277 1-52 1-4 1 71 1 51 1-40 1 93 1 93 1-108 1 149 1-13 1-20 1-90 1-19 1-15 1-70 1 17 1 56 1 3 1 86 1 44 1 84 1-24 1 39 1-77 1 7 1 104 1-67 1-98 1-66 1 35 1 37 1 37 1-29 1-41 1 10 1-40 1 41 1-23 1-8 1-5 1-94 1-5 1 83 1 8 1-55 1 2 1 143 1 29 1-20 1 10 1-17 1 104 1-25 1-21 1-14 1-17 1-110V1880l-1 65 -1 66 -1-41 -1 47 -1-34 -1 25 -1 6 -1 102 -1-16 -1-10 -1-158 -1 51 -1-14 -1 9 -1-98 -1-44 -1 33 -1 33 -1-7 -1 111 -1-96 -1 97 -1-62 -1-11 -1-105 -1 105 -1 6 -1 140 -1-50 -1 18 -1-2 -1-12 -1 53 -1 62 -1-18 -1-37 -1-80 -1-105 -1-66 -1 30 -1-114 -1-12 -1 97 -1 11 -1 123 -1-29 -1 80 -1-57 -1-33 -1 55 -1-65 -1-69 -1-109 -1-106 -1 12 -1 86 -1 51 -1 150 -1 29 -1-124 -1 8 -1-52 -1 11 -1 99 -1-151 -1-90 -1 17 -1 7 -1 68 -1 8 -1 16 -1 81 -1 41 -1 34 -1-87 -1-39 -1-117 -1 30 -1 31 -1-16 -1 91 -1-58 -1 28 -1-42 -1-87 -1-24 -1 54 -1 35 -1-18 -1 10 -1-1 -1 0 -1-58 -1 67 -1-49 -1 2 -1-29 -1-42 -1 153 -1-79 -1 23 -1 82 -1-52 -1-39 -1-10 -1-27 -1-32 -1 92 -1-11 -1 70 -1-73 -1 33 -1 47 -1-54 -1-31 -1 43 -1-11 -1 54 -1-69 -1 17 -1 63 -1-123 -1-36 -1-8 -1 75 -1-84 -1 104 -1-230 -1-73 -1-69 -1 84 -1-97 -1-88 -1-36 -1 11 -1-10 -1 59 -1 76 -1 1 -1-49 -1 66 -1-66 -1 42 -1-27 -1-111 -1-119 -1-36 -1 117 -1-81 -1 2 -1-102 -1 211 -1-100 -1-15 -1 75 -1 15 -1 44 -1-56 -1 67 -1 107 -1 54 -1 69 -1 61 -1 59 -1-51 -1 16 -1-25 -1 41 -1 17 -1 28 -1-72 -1 69 -1-113 -1 63 -1-62 -1 35 -1-79 -1-3 -1 41 -1 3 -1 45 -1 69 -1 95 -1 22 -1 24 -1 13 -1-30 -1-115 -1 115 -1-120 -1-21 -1 71 -1-50 -1-99 -1-96 -1 65 -1-56 -1 28 -1 41 -1 98 -1 35 -1-25 -1 121 -1 68 -1 152 -1 110 -1 96 -1 54 -1 241 -1-155 -1-6 -1 69 -1-102 -1-72 -1-144 -1-96 -1-230 -1-12 -1-31 -1 71 -1 9 -1-177 -1-89 -1-34 -1 3 -1-11 -1 230 -1 125 -1 3 -1-81 -1-75 -1-3 -1 25 -1 69 -1 0 -1 7 -1-80 -1-9 -1 58 -1-30 -1 66 -1-130 -1 33 -1-101 -1 7 -1-118 -1 138 -1 70 -1 71 -1-1 -1 104 -1 271 -1 131 -1 59 -1 24 -1 27 -1-85 -1-31 -1-83 -1-85 -1-20 -1-72 -1-43 -1-75 -1-123 -1 3 -1 44 -1-4 -1-74 -1-137 -1-53 -1-19 -1-7 -1 59 -1-77 -1-6 -1 7 -1 10 -1-1 -1 25 -1-38 -1-8 -1-5 -1 85 -1 77 -1 17 -1-39 -1 97 -1-10 -1 15 -1-44 -1 53 -1-47 -1 78 -1 144 -1 168 -1-23 -1-37 -1 161 -1-43 -1 129 -1-19 -1 28 -1 21 -1 4 -1 17 -1-101 -1-183 -1-111 -1-113 -1-57 -1-201 -1 29 -1-103 -1-19 -1-89 -1 114 -1-36 -1 82 -1-1 -1 70 -1 118 -1 65 -1 150 -1 6 -1 24 -1 81 -1-46 -1-106 -1 6 -1 130 -1-27 -1 17 -1 70 -1 90 -1-63 -1 40 -1 39 -1 100 -1 11 -1 54 -1 34 -1 89 -1 147 -1 72 -1 46 -1-62 -1-42 -1-108 -1-159 -1-81 -1-155 -1-1 -1-39 -1-88 -1-203 -1-72 -1-49 -1 22 -1-81 -1 31 -1 9 -1 17 -1 68 -1 25 -1-36 -1-23 -1 121 -1 26 -1-59 -1-70 -1-61 -1-32 -1-275 -1-186 -1-93 -1-173 -1-121 -1 73 -1-122 -1 143 -1-115 -1 112 -1-114 -1 37 -1-111 -1 61 -1 45 -1 178 -1-24 -1 167 -1 99 -1 168 -1 251 -1 77 -1 81 -1 85 -1-22 -1 252 -1-54 -1-85 -1-141 -1-141 -1-56 -1-290 -1-11 -1 87 -1 93 -1 104 -1 180 -1 101 -1 152 -1-203 -1-151 -1-184 -1-96 -1-67 -1-34 -1 61 -1 139 -1 3 -1 87 -1 95 -1 70 -1-102 -1 184 -1 17 -1 16 -1-185 -1 50 -1 77 -1-92 -1 26 -1-115 -1 36 -1-5 -1 148z" fill="#e8957a" fill-opacity="0.7"/><path transform="translate(760.50 119.50) scale(1.35771 0.1)" d="M0 1475l1 67 1 8 1 129 1 30 1-89 1-13 1-78 1 105 1 46 1-34 1-19 1 73 1 11 1 18 1 27 1-148 1-289 1-414 1-218 1 253 1 289 1 309 1 582 1 708 1 746 1 767 1 584 1-1319 1-1108 1-594 1-444 1-106 1-254 1-63 1 84 1 173 1-86 1-54 1-142 1-135 1-45 1 22 1 162 1 68 1 43 1-156 1 27 1-50 1-46 1-46 1-218 1-92 1 42 1 5 1 101 1 110 1 0 1 39 1 6 1 131 1 9 1-30 1-52 1-11 1 62 1-76 1 55 1 56 1 132 1 144 1 112 1-83 1-136 1 37 1 364 1 263 1 188 1 23 1-8 1 92 1 73 1-189 1 77 1 58 1-110 1 23 1 24 1 22 1 62 1 22 1-142 1 84 1 1 1 14 1-121 1-5 1-117 1-165 1-29 1-179 1-12 1 140 1 168 1 101 1-124 1-115 1-162 1-97 1-69 1 14 1-52 1 151 1-105 1 89 1-249 1-36 1-126 1-172 1 31 1 148 1 263 1 169 1 161 1 72 1 146 1 58 1 86 1 146 1 26 1 78 1-1 1-193 1-24 1-100 1-77 1-24 1 73 1-91 1 59 1 26 1-14 1-59 1 6 1-133 1-35 1-81 1-33 1 36 1-16 1-36 1-68 1-33 1-84 1-47 1 15 1-53 1 48 1 74 1-36 1-132 1 47 1 7 1-234 1-141 1-143 1 154 1 132 1 241 1 26 1 235 1 48 1 34 1 178 1 69 1 95 1-20 1-174 1-190 1-151 1-94 1 28 1 0 1 71 1 117 1-68 1-35 1 97 1 97 1-40 1-15 1 81 1 127 1-145 1-43 1-75 1-87 1-60 1-26 1-81 1 25 1 9 1 10 1 0 1 75 1 0 1 120 1-6 1 92 1-207 1-180 1-262 1-251 1 146 1 196 1 167 1 239 1 202 1 152 1 140 1-81 1 91 1-29 1 0 1-34 1-101 1 42 1 62 1 52 1-69 1 11 1-178 1 64 1-103 1-44 1-5 1 22 1 134 1 49 1-55 1-14 1 73 1 115 1 96 1 4 1-119 1 7 1-119 1 4 1 5 1 178 1-87 1 208 1-127 1-6 1-68 1-60 1-58 1 4 1-151 1 23 1 70 1 172 1 126 1-150 1 22 1 45 1-180 1-61 1 114 1-50 1 57 1-65 1 118 1-182 1-64 1-117 1 91 1-86 1 145 1-152 1 13 1 284 1 22 1-28 1 35 1-211 1-75 1-61 1 65 1 11 1 52 1 31 1-87 1-114 1-93 1 85 1 67 1 44 1 22 1-42 1 47 1 24 1-19 1 36 1 61 1-77 1 158 1 8 1 35 1-51 1 16 1-17 1-6 1 78 1-97 1 67 1-102 1-46 1 5 1 106 1-95 1 21 1 39 1 45 1 9 1-102 1-79 1 115 1-24 1 154 1 16 1-90 1 101 1 25 1 144 1-93 1-18 1 129 1-68 1 57 1 55 1 64 1-75 1 48 1 33 1-59 1 14 1-131 1-77 1 7 1-8 1-171 1 57 1 26 1 158 1-79 1 163 1-157 1 93 1-106 1-61 1-6 1-106 1 64 1-39 1 120 1-84 1-76 1 149 1 67 1 42 1 162 1-48 1 118 1 41 1-13 1-56 1-90 1-20 1-11 1-119 1 51 1-17 1-81 1-54 1-83 1 35 1-63 1 104 1-60 1 32 1-82 1-23 1-52 1-112 1 42 1-109 1 26 1-17 1 58 1-18 1 98 1 238 1 52 1 125 1 8 1-68 1-59 1-141 1 31 1-51 1 2 1 13 1-61 1-56 1 12 1-48 1 16 1 180 1 120 1 20 1-43 1-65 1 4 1-187 1-14 1-131 1 47 1 13 1-87 1 36 1-35 1 98 1 67 1-69 1 8 1-14" fill="none" stroke="#1c1c7a" stroke-width="2.2" stroke-linejoin="round" vector-effect="non-scaling-stroke"/><path transform="translate(760.50 119.50) scale(1.35771 0.1)" d="M0 1537l1-121 1-24 1-75 1-57 1-152 1-156 1 46 1 393 1 298 1 360 1 255 1-269 1-167 1-223 1-314 1-180 1-255 1-114 1-427 1 217 1 131 1 571 1 1153 1 1140 1 740 1-516 1-699 1-228 1-505 1-253 1-378 1-88 1 69 1 41 1 14 1 91 1-36 1-114 1-177 1-215 1-189 1-166 1-314 1-197 1 267 1 340 1 247 1 68 1-223 1 45 1-115 1 108 1-82 1 130 1-94 1-34 1-8 1 109 1 249 1 33 1-211 1-109 1-222 1-75 1-65 1-153 1-108 1-19 1 23 1-123 1 19 1-147 1-39 1 170 1 372 1 526 1 356 1-4 1 61 1 23 1 40 1-146 1-274 1-11 1 139 1-53 1 72 1-74 1 130 1-69 1-10 1 174 1 60 1 140 1 30 1 32 1-128 1-95 1 121 1 121 1-32 1 3 1 87 1-109 1-247 1-138 1-18 1 223 1-81 1 93 1 99 1 167 1 200 1-254 1-151 1-301 1-230 1-142 1 18 1 18 1 147 1 117 1 10 1 200 1 33 1 185 1 54 1 5 1 8 1-99 1-116 1-67 1-79 1-92 1 114 1 44 1 149 1 134 1-82 1-45 1-152 1-40 1-194 1 289 1-3 1 177 1 59 1 92 1-140 1-190 1 31 1-252 1-79 1-20 1 55 1 126 1-107 1 55 1-46 1-68 1-97 1-10 1-40 1-31 1 25 1 188 1 30 1 97 1 197 1 287 1 115 1 247 1-12 1 239 1-209 1 108 1-230 1-184 1-47 1-137 1-178 1 62 1-108 1 56 1-19 1-32 1-172 1 1 1 87 1-76 1 26 1 109 1-45 1-9 1-264 1-88 1 22 1 33 1 235 1 85 1-26 1 45 1-62 1-3 1-102 1 21 1 103 1 34 1-60 1 122 1-266 1-36 1 100 1-54 1 196 1 234 1 187 1 247 1 99 1-141 1-316 1 11 1-213 1 8 1-230 1 56 1 128 1 59 1 41 1 137 1 57 1-137 1-116 1-174 1 38 1-78 1-64 1-29 1-81 1-5 1 181 1-253 1 162 1 36 1-71 1 188 1-11 1-146 1 134 1-98 1-58 1-169 1 33 1 12 1 34 1-176 1 91 1-188 1 23 1-109 1-3 1 0 1 54 1-98 1 177 1 117 1 183 1 55 1 215 1 207 1 18 1 57 1-131 1-52 1-42 1-107 1-32 1-57 1-59 1 87 1 156 1-58 1-33 1-13 1 84 1 35 1-127 1 84 1 97 1 14 1 84 1 39 1 95 1 51 1-33 1-224 1-26 1-307 1-60 1 115 1-65 1-116 1 51 1 81 1-24 1 65 1 12 1 97 1 56 1-17 1-50 1 73 1-5 1 194 1 12 1 109 1 46 1 109 1 82 1-208 1 43 1-240 1 329 1-80 1 9 1 98 1 60 1 27 1 110 1-145 1-127 1-276 1-95 1-290 1-43 1-115 1 10 1 0 1 260 1-51 1-21 1-26 1 36 1-21 1 93 1-169 1-127 1 2 1-83 1-231 1-64 1 14 1 173 1 245 1 191 1 231 1 29 1-113 1-104 1 181 1-190 1 85 1-186 1-63 1-28 1 129 1-116 1-21 1-16 1-139 1 93 1-113 1 6 1 273 1 72 1-28 1 28 1 59 1-9 1 159 1-126 1-19 1-41 1 143 1-260 1-27 1 32 1 91 1 1 1-51 1 113 1 106 1-23 1 20 1 15 1 120 1-30 1 245 1 101 1 0 1-175 1 179 1-208 1-134 1-295 1 50 1-297 1 11 1 68 1-16 1 263 1 238 1 24 1 80 1 37 1 266 1-72 1-83 1-82 1-101 1-60 1-112 1 72 1 36 1 43 1 8 1 7 1 30 1-157 1 26 1 23 1-14 1-149 1 81 1 166 1 168 1 102" fill="none" stroke="#3a88c8" stroke-width="2.2" stroke-linejoin="round" vector-effect="non-scaling-stroke"/><path transform="translate(760.50 119.50) scale(1.35771 0.1)" d="M0 1612l1-101 1 17 1-33 1 85 1-49 1 68 1-3 1-46 1 179 1-70 1-12 1-114 1 84 1-113 1-60 1-78 1-35 1-129 1-74 1 5 1 103 1 129 1 173 1 131 1 229 1-146 1-117 1-171 1-110 1-92 1-76 1 75 1 157 1 55 1 142 1 112 1 107 1-5 1-154 1 46 1-63 1-53 1-101 1-275 1-167 1-167 1-116 1-28 1-113 1-62 1-51 1 90 1-8 1 77 1-87 1 5 1-37 1 72 1-46 1 116 1 194 1 152 1 161 1 204 1 15 1 37 1 102 1 119 1-1 1-96 1-17 1-37 1-35 1-66 1-19 1 35 1 13 1 114 1-41 1-5 1 112 1 143 1 109 1-9 1 0 1 179 1 69 1 184 1 129 1 40 1 46 1-68 1-30 1-134 1-61 1-108 1-61 1-33 1-55 1-44 1-7 1-44 1-68 1-59 1 23 1 17 1-82 1 2 1 66 1-36 1 9 1-78 1 5 1-90 1-13 1-87 1-153 1-96 1-91 1 24 1-18 1 10 1 45 1 126 1 42 1 150 1 61 1 105 1 173 1 124 1 67 1 40 1 6 1 40 1-63 1-22 1-143 1-9 1-128 1 6 1-87 1-120 1-120 1-9 1 32 1-41 1 46 1-55 1-11 1-57 1 20 1 20 1-31 1-113 1 15 1-40 1 106 1 14 1 10 1 7 1-58 1-16 1-3 1-27 1 17 1 18 1 67 1 153 1 7 1 25 1 15 1-4 1 64 1 61 1 93 1 51 1 81 1 117 1 71 1-33 1 37 1-45 1-72 1-47 1-88 1-120 1-107 1-76 1-132 1-36 1-160 1 88 1 98 1 51 1-29 1 43 1 25 1 32 1-2 1-26 1 47 1-23 1 13 1-16 1-35 1 50 1 22 1 33 1-94 1-47 1-175 1 20 1 83 1 4 1 48 1 63 1-13 1-7 1 79 1 10 1 206 1 83 1 171 1 67 1 81 1-63 1 40 1 58 1-146 1-77 1-26 1-119 1-172 1-63 1-69 1-21 1-34 1-100 1-50 1-59 1 85 1-8 1 89 1 44 1 5 1-127 1 23 1 62 1-36 1 112 1 51 1-22 1-16 1 12 1-59 1-104 1-26 1-50 1-58 1 65 1 15 1 38 1 40 1-38 1 106 1-15 1-5 1-61 1-42 1-35 1 8 1 20 1 32 1-21 1-56 1-21 1-87 1-122 1-65 1 20 1-17 1-73 1 11 1 45 1 9 1-58 1 79 1-44 1 49 1-33 1 53 1 30 1 49 1-45 1 29 1 17 1-5 1 25 1 35 1-46 1-57 1-4 1-67 1 104 1 87 1 108 1-51 1 25 1 73 1 151 1 4 1 75 1-81 1-28 1 27 1 56 1 8 1-26 1 58 1-61 1 56 1-64 1 43 1 48 1-26 1-71 1 17 1-40 1 5 1-68 1 55 1 13 1 30 1 14 1 67 1-21 1-44 1 60 1-86 1 14 1-6 1 14 1 0 1 0 1 23 1 7 1 7 1 8 1 21 1 22 1-62 1 1 1 37 1 50 1-51 1 91 1-74 1 1 1-54 1-24 1 105 1 2 1 81 1-25 1-13 1-69 1-35 1 14 1 23 1-46 1-27 1 26 1 53 1 40 1 23 1 60 1-30 1 51 1 15 1-188 1-73 1-22 1 2 1 75 1 46 1 60 1 70 1 7 1 26 1 9 1-37 1-5 1-80 1-47 1-50 1 2 1 92 1-11 1 79 1 68 1 56 1 40 1 0 1-81 1 6 1 73 1-37 1-47 1-6 1-77 1 36 1-52 1 14 1-24 1 69 1-59 1 44 1-66 1-1 1-3 1-45 1 26 1 66 1-10 1-27 1-25 1 146 1 44 1-31 1-13 1-18 1 34 1-6 1-23 1 26 1-43 1-74" fill="none" stroke="#ff1e1e" stroke-width="2.2" stroke-linejoin="round" vector-effect="non-scaling-stroke"/></g><path d="M760.5 588.5h6.5M1354.5 588.5h-6.5M760.5 536.4h6.5M1354.5 536.4h-6.5M760.5 484.3h6.5M1354.5 484.3h-6.5M760.5 432.2h6.5M1354.5 432.2h-6.5M760.5 380.1h6.5M1354.5 380.1h-6.5M760.5 327.9h6.5M1354.5 327.9h-6.5M760.5 275.8h6.5M1354.5 275.8h-6.5M760.5 223.7h6.5M1354.5 223.7h-6.5M760.5 171.6h6.5M1354.5 171.6h-6.5M760.5 119.5h6.5M1354.5 119.5h-6.5M777.5 119.5v6.5M777.5 588.5v-6.5M862.3 119.5v6.5M862.3 588.5v-6.5M947.2 119.5v6.5M947.2 588.5v-6.5M1032.0 119.5v6.5M1032.0 588.5v-6.5M1116.9 119.5v6.5M1116.9 588.5v-6.5M1201.8 119.5v6.5M1201.8 588.5v-6.5M1286.6 119.5v6.5M1286.6 588.5v-6.5" stroke="#5a5a5a" stroke-width="1.1" fill="none"/><rect x="760.5" y="119.5" width="594.0" height="469.0" fill="none" stroke="#5a5a5a" stroke-width="1.1"/><rect x="1241.4" y="130.5" width="98" height="75.7" fill="#fff" stroke="#444" stroke-width="1"/><rect x="1249.0" y="139.4" width="20.8" height="12.5" fill="#e8957a" fill-opacity="0.7"/><rect x="1249.0" y="144.8" width="20.8" height="2" fill="#ff1e1e"/><text x="1279.8" y="150.7" font-size="16.4">Young</text><rect x="1249.0" y="162.2" width="20.8" height="12.5" fill="#8680b6" fill-opacity="0.7"/><rect x="1249.0" y="167.6" width="20.8" height="2" fill="#1c1c7a"/><text x="1279.8" y="173.5" font-size="16.4">60 - 68</text><rect x="1249.0" y="184.9" width="20.8" height="12.5" fill="#a2c0e4" fill-opacity="0.7"/><rect x="1249.0" y="190.3" width="20.8" height="2" fill="#3a88c8"/><text x="1279.8" y="196.2" font-size="16.4">&gt; 68</text><rect x="1160.4" y="445.4" width="177.4" height="126.0" fill="#fff" stroke="#6e6e6e" stroke-width="1"/><g transform="translate(1166.3 449.9)"><path d="M0.0 30.8C-0.5 26.7 0.7 22.0 3.0 18.0C5.3 14.0 9.8 9.8 14.0 7.0C18.2 4.2 23.2 2.7 28.0 1.5C32.8 0.3 38.3 0.0 43.0 0.0C47.7 0.0 52.0 0.5 56.0 1.5C60.0 2.5 63.7 3.6 67.0 6.0C70.3 8.4 73.6 12.0 76.0 16.0C78.4 20.0 80.7 26.3 81.5 30.0C82.3 33.7 81.9 35.6 81.0 38.0C80.1 40.4 78.8 42.8 76.0 44.5C73.2 46.2 68.7 46.8 64.0 48.0C59.3 49.2 53.0 50.4 48.0 52.0C43.0 53.6 37.5 56.7 34.0 57.5C30.5 58.3 28.8 57.9 27.0 57.0C25.2 56.1 23.9 53.6 23.5 52.0C23.1 50.4 25.9 48.5 24.5 47.5C23.1 46.5 18.1 46.8 15.0 46.0C11.9 45.2 8.5 45.0 6.0 42.5C3.5 40.0 0.5 34.9 0.0 30.8Z" fill="url(#bg)" stroke="#3c3c3c" stroke-width="0.9"/><path d="M25.0 47.0C21.5 49.0 31.5 42.3 35.0 40.0C38.5 37.7 42.5 35.0 46.0 33.0C49.5 31.0 59.5 25.7 56.0 28.0" fill="none" stroke="#4e4e4e" stroke-width="1.2" stroke-linecap="round" opacity="0.8"/><path d="M44.0 1.0C44.7 -2.2 41.8 8.5 41.0 12.0C40.2 15.5 39.7 18.8 39.0 22.0C38.3 25.2 36.2 34.5 37.0 31.0" fill="none" stroke="#4e4e4e" stroke-width="1.2" stroke-linecap="round" opacity="0.8"/><path d="M29.0 54.0C24.7 55.3 37.5 49.8 42.0 48.0C46.5 46.2 51.7 44.3 56.0 43.0C60.3 41.7 72.5 38.2 68.0 40.0" fill="none" stroke="#4e4e4e" stroke-width="1.2" stroke-linecap="round" opacity="0.8"/><path d="M52.0 2.0C52.2 0.3 50.5 10.3 50.0 14.0C49.5 17.7 48.7 26.0 49.0 24.0" fill="none" stroke="#4e4e4e" stroke-width="1.2" stroke-linecap="round" opacity="0.8"/><path d="M8.0 22.0C6.0 22.3 14.3 17.3 18.0 16.0C21.7 14.7 31.7 13.0 30.0 14.0" fill="none" stroke="#4e4e4e" stroke-width="1.2" stroke-linecap="round" opacity="0.8"/><path d="M6.0 31.0C3.8 30.0 11.3 27.5 14.0 27.0C16.7 26.5 19.8 27.0 22.0 28.0C24.2 29.0 29.7 32.5 27.0 33.0" fill="none" stroke="#4e4e4e" stroke-width="1.2" stroke-linecap="round" opacity="0.8"/><path d="M54.0 16.0C51.7 13.8 60.0 12.7 63.0 13.0C66.0 13.3 69.7 15.8 72.0 18.0C74.3 20.2 80.0 26.3 77.0 26.0" fill="none" stroke="#4e4e4e" stroke-width="1.2" stroke-linecap="round" opacity="0.8"/><path d="M34.0 56.0C29.7 57.3 43.3 52.7 48.0 51.0C52.7 49.3 57.7 47.3 62.0 46.0C66.3 44.7 78.7 41.3 74.0 43.0" fill="none" stroke="#4e4e4e" stroke-width="1.2" stroke-linecap="round" opacity="0.8"/><path d="M14.0 10.0C12.3 10.2 19.0 7.7 22.0 7.0C25.0 6.3 33.3 5.5 32.0 6.0" fill="none" stroke="#4e4e4e" stroke-width="1.2" stroke-linecap="round" opacity="0.8"/><path d="M62.0 30.0C61.0 29.0 67.7 30.7 70.0 32.0C72.3 33.3 77.3 38.3 76.0 38.0" fill="none" stroke="#4e4e4e" stroke-width="1.2" stroke-linecap="round" opacity="0.8"/></g><g transform="translate(1250.3 449.9)"><path d="M81.5 30.8C82.0 26.7 80.8 22.0 78.5 18.0C76.2 14.0 71.7 9.8 67.5 7.0C63.3 4.2 58.3 2.7 53.5 1.5C48.7 0.3 43.2 0.0 38.5 0.0C33.8 0.0 29.5 0.5 25.5 1.5C21.5 2.5 17.8 3.6 14.5 6.0C11.2 8.4 7.9 12.0 5.5 16.0C3.1 20.0 0.8 26.3 0.0 30.0C-0.8 33.7 -0.4 35.6 0.5 38.0C1.4 40.4 2.7 42.8 5.5 44.5C8.3 46.2 12.8 46.8 17.5 48.0C22.2 49.2 28.5 50.4 33.5 52.0C38.5 53.6 44.0 56.7 47.5 57.5C51.0 58.3 52.8 57.9 54.5 57.0C56.2 56.1 57.6 53.6 58.0 52.0C58.4 50.4 55.6 48.5 57.0 47.5C58.4 46.5 63.4 46.8 66.5 46.0C69.6 45.2 73.0 45.0 75.5 42.5C78.0 40.0 81.0 34.9 81.5 30.8Z" fill="url(#bg)" stroke="#3c3c3c" stroke-width="0.9"/><path d="M56.5 47.0C60.0 49.0 50.0 42.3 46.5 40.0C43.0 37.7 39.0 35.0 35.5 33.0C32.0 31.0 22.0 25.7 25.5 28.0" fill="none" stroke="#4e4e4e" stroke-width="1.2" stroke-linecap="round" opacity="0.8"/><path d="M37.5 1.0C36.8 -2.2 39.7 8.5 40.5 12.0C41.3 15.5 41.8 18.8 42.5 22.0C43.2 25.2 45.3 34.5 44.5 31.0" fill="none" stroke="#4e4e4e" stroke-width="1.2" stroke-linecap="round" opacity="0.8"/><path d="M52.5 54.0C56.8 55.3 44.0 49.8 39.5 48.0C35.0 46.2 29.8 44.3 25.5 43.0C21.2 41.7 9.0 38.2 13.5 40.0" fill="none" stroke="#4e4e4e" stroke-width="1.2" stroke-linecap="round" opacity="0.8"/><path d="M29.5 2.0C29.3 0.3 31.0 10.3 31.5 14.0C32.0 17.7 32.8 26.0 32.5 24.0" fill="none" stroke="#4e4e4e" stroke-width="1.2" stroke-linecap="round" opacity="0.8"/><path d="M73.5 22.0C75.5 22.3 67.2 17.3 63.5 16.0C59.8 14.7 49.8 13.0 51.5 14.0" fill="none" stroke="#4e4e4e" stroke-width="1.2" stroke-linecap="round" opacity="0.8"/><path d="M75.5 31.0C77.7 30.0 70.2 27.5 67.5 27.0C64.8 26.5 61.7 27.0 59.5 28.0C57.3 29.0 51.8 32.5 54.5 33.0" fill="none" stroke="#4e4e4e" stroke-width="1.2" stroke-linecap="round" opacity="0.8"/><path d="M27.5 16.0C29.8 13.8 21.5 12.7 18.5 13.0C15.5 13.3 11.8 15.8 9.5 18.0C7.2 20.2 1.5 26.3 4.5 26.0" fill="none" stroke="#4e4e4e" stroke-width="1.2" stroke-linecap="round" opacity="0.8"/><path d="M47.5 56.0C51.8 57.3 38.2 52.7 33.5 51.0C28.8 49.3 23.8 47.3 19.5 46.0C15.2 44.7 2.8 41.3 7.5 43.0" fill="none" stroke="#4e4e4e" stroke-width="1.2" stroke-linecap="round" opacity="0.8"/><path d="M67.5 10.0C69.2 10.2 62.5 7.7 59.5 7.0C56.5 6.3 48.2 5.5 49.5 6.0" fill="none" stroke="#4e4e4e" stroke-width="1.2" stroke-linecap="round" opacity="0.8"/><path d="M19.5 30.0C20.5 29.0 13.8 30.7 11.5 32.0C9.2 33.3 4.2 38.3 5.5 38.0" fill="none" stroke="#4e4e4e" stroke-width="1.2" stroke-linecap="round" opacity="0.8"/></g><g transform="translate(1166.3 509.4)"><path d="M0.0 31.9C0.0 28.9 1.0 23.8 3.0 20.0C5.0 16.2 8.3 11.9 12.0 9.0C15.7 6.1 20.3 4.0 25.0 2.5C29.7 1.0 35.0 0.2 40.0 0.0C45.0 -0.2 50.3 0.0 55.0 1.0C59.7 2.0 64.3 3.5 68.0 6.0C71.7 8.5 74.8 12.0 77.0 16.0C79.2 20.0 81.2 26.0 81.5 30.0C81.8 34.0 80.6 37.4 79.0 40.0C77.4 42.6 75.2 44.2 72.0 45.5C68.8 46.8 62.2 46.9 60.0 48.0C57.8 49.1 59.3 50.5 58.5 52.0C57.7 53.5 56.4 56.0 55.0 57.0C53.6 58.0 51.8 58.5 50.0 58.3C48.2 58.1 46.5 57.4 44.0 56.0C41.5 54.6 38.7 51.7 35.0 50.0C31.3 48.3 26.2 47.3 22.0 46.0C17.8 44.7 13.2 43.3 10.0 42.0C6.8 40.7 4.7 39.7 3.0 38.0C1.3 36.3 0.0 34.9 0.0 31.9Z" fill="url(#bg2)" stroke="#3c3c3c" stroke-width="0.9"/><path d="M8.0 36.0C-1.8 33.7 12.3 25.8 16.0 22.0C19.7 18.2 25.0 14.8 30.0 13.0C35.0 11.2 40.7 10.7 46.0 11.0C51.3 11.3 57.7 12.7 62.0 15.0C66.3 17.3 69.8 21.5 72.0 25.0C74.2 28.5 85.7 34.2 75.0 36.0" fill="none" stroke="#4e4e4e" stroke-width="1.2" stroke-linecap="round" opacity="0.8"/><path d="M10.0 40.0C6.0 38.5 18.0 40.3 22.0 41.0C26.0 41.7 30.0 42.5 34.0 44.0C38.0 45.5 50.0 50.7 46.0 50.0" fill="none" stroke="#4e4e4e" stroke-width="1.2" stroke-linecap="round" opacity="0.8"/><path d="M24.0 34.0C24.7 31.8 31.7 28.3 36.0 27.0C40.3 25.7 45.7 25.5 50.0 26.0C54.3 26.5 59.7 28.2 62.0 30.0C64.3 31.8 65.0 35.3 64.0 37.0C63.0 38.7 59.3 39.8 56.0 40.0C52.7 40.2 48.0 38.0 44.0 38.0C40.0 38.0 35.3 40.7 32.0 40.0C28.7 39.3 23.3 36.2 24.0 34.0Z" fill="#c9c9c9" stroke="#8a8a8a" stroke-width="0.6" opacity="0.8"/></g><g transform="translate(1250.3 509.4)"><path d="M81.5 31.9C81.5 28.9 80.5 23.8 78.5 20.0C76.5 16.2 73.2 11.9 69.5 9.0C65.8 6.1 61.2 4.0 56.5 2.5C51.8 1.0 46.5 0.2 41.5 0.0C36.5 -0.2 31.2 0.0 26.5 1.0C21.8 2.0 17.2 3.5 13.5 6.0C9.8 8.5 6.8 12.0 4.5 16.0C2.2 20.0 0.3 26.0 0.0 30.0C-0.3 34.0 0.9 37.4 2.5 40.0C4.1 42.6 6.3 44.2 9.5 45.5C12.7 46.8 19.2 46.9 21.5 48.0C23.8 49.1 22.2 50.5 23.0 52.0C23.8 53.5 25.1 56.0 26.5 57.0C27.9 58.0 29.7 58.5 31.5 58.3C33.3 58.1 35.0 57.4 37.5 56.0C40.0 54.6 42.8 51.7 46.5 50.0C50.2 48.3 55.3 47.3 59.5 46.0C63.7 44.7 68.3 43.3 71.5 42.0C74.7 40.7 76.8 39.7 78.5 38.0C80.2 36.3 81.5 34.9 81.5 31.9Z" fill="url(#bg2)" stroke="#3c3c3c" stroke-width="0.9"/><path d="M73.5 36.0C83.3 33.7 69.2 25.8 65.5 22.0C61.8 18.2 56.5 14.8 51.5 13.0C46.5 11.2 40.8 10.7 35.5 11.0C30.2 11.3 23.8 12.7 19.5 15.0C15.2 17.3 11.7 21.5 9.5 25.0C7.3 28.5 -4.2 34.2 6.5 36.0" fill="none" stroke="#4e4e4e" stroke-width="1.2" stroke-linecap="round" opacity="0.8"/><path d="M71.5 40.0C75.5 38.5 63.5 40.3 59.5 41.0C55.5 41.7 51.5 42.5 47.5 44.0C43.5 45.5 31.5 50.7 35.5 50.0" fill="none" stroke="#4e4e4e" stroke-width="1.2" stroke-linecap="round" opacity="0.8"/><path d="M57.5 34.0C56.8 31.8 49.8 28.3 45.5 27.0C41.2 25.7 35.8 25.5 31.5 26.0C27.2 26.5 21.8 28.2 19.5 30.0C17.2 31.8 16.5 35.3 17.5 37.0C18.5 38.7 22.2 39.8 25.5 40.0C28.8 40.2 33.5 38.0 37.5 38.0C41.5 38.0 46.2 40.7 49.5 40.0C52.8 39.3 58.2 36.2 57.5 34.0Z" fill="#c9c9c9" stroke="#8a8a8a" stroke-width="0.6" opacity="0.8"/></g><polygon points="1173.3,489.9 1175.3,484.9 1179.3,482.9 1184.3,482.4 1188.3,484.9 1189.8,489.9 1186.3,494.9 1180.3,496.9 1175.3,494.9" fill="#f02222" stroke="#e01818" stroke-width="0.8" stroke-linejoin="round"/><polygon points="1190.8,482.9 1193.3,482.4 1194.3,484.9 1191.8,485.9" fill="#f02222" stroke="#e01818" stroke-width="0.8" stroke-linejoin="round"/><polygon points="1191.3,493.9 1194.3,491.4 1198.3,492.4 1197.3,496.9 1193.3,498.9" fill="#f02222" stroke="#e01818" stroke-width="0.8" stroke-linejoin="round"/><polygon points="1192.3,498.9 1198.3,496.9 1206.3,497.4 1213.3,496.4 1216.3,497.9 1212.3,500.9 1204.3,504.9 1196.3,508.4 1193.3,506.9" fill="#f02222" stroke="#e01818" stroke-width="0.8" stroke-linejoin="round"/><polygon points="1219.3,480.9 1222.3,479.9 1223.8,482.9 1221.3,484.9" fill="#f02222" stroke="#e01818" stroke-width="0.8" stroke-linejoin="round"/><polygon points="1220.3,485.9 1224.3,484.9 1225.8,487.9 1223.3,489.9" fill="#f02222" stroke="#e01818" stroke-width="0.8" stroke-linejoin="round"/><polygon points="1219.3,489.9 1222.3,489.4 1223.3,492.4 1220.3,492.9" fill="#f02222" stroke="#e01818" stroke-width="0.8" stroke-linejoin="round"/><polygon points="1202.3,520.4 1210.3,519.4 1218.3,519.0 1222.1,521.4 1221.3,526.4 1218.3,530.4 1210.3,532.3 1204.3,529.4 1203.3,524.4" fill="#f02222" stroke="#e01818" stroke-width="0.8" stroke-linejoin="round"/><polygon points="1225.3,532.4 1228.3,531.7 1229.6,534.4 1227.3,537.0 1225.3,535.4" fill="#f02222" stroke="#e01818" stroke-width="0.8" stroke-linejoin="round"/><polygon points="1221.3,549.4 1224.3,545.4 1229.3,543.4 1231.3,545.4 1228.3,549.4 1224.3,553.0" fill="#f02222" stroke="#e01818" stroke-width="0.8" stroke-linejoin="round"/><polygon points="1182.8,540.2 1191.3,538.9 1199.3,539.9 1197.3,546.4 1204.3,551.4 1213.3,555.4 1223.3,558.4 1225.3,562.4 1222.3,566.4 1216.3,566.4 1208.3,561.4 1196.3,555.4 1186.3,548.4" fill="#f02222" stroke="#e01818" stroke-width="0.8" stroke-linejoin="round"/><polygon points="1266.8,545.4 1271.3,544.0 1275.3,546.4 1278.3,551.4 1276.3,553.4 1271.3,550.4" fill="#f02222" stroke="#e01818" stroke-width="0.8" stroke-linejoin="round"/><polygon points="1300.7,540.9 1302.8,539.7 1304.0,541.9 1302.3,542.9" fill="#f02222" stroke="#e01818" stroke-width="0.8" stroke-linejoin="round"/><path d="M868.8 393.7v8.8H899.3v-8.8" stroke="#000" stroke-width="2.4" fill="none"/><text x="751.7" y="591.6" font-size="20" text-anchor="end">-60</text><text x="751.7" y="539.9" font-size="20" text-anchor="end">-50</text><text x="751.7" y="488.2" font-size="20" text-anchor="end">-40</text><text x="751.7" y="436.6" font-size="20" text-anchor="end">-30</text><text x="751.7" y="384.9" font-size="20" text-anchor="end">-20</text><text x="751.7" y="333.2" font-size="20" text-anchor="end">-10</text><text x="751.7" y="281.6" font-size="20" text-anchor="end">0</text><text x="751.7" y="229.9" font-size="20" text-anchor="end">10</text><text x="751.7" y="178.2" font-size="20" text-anchor="end">20</text><text x="751.7" y="126.6" font-size="20" text-anchor="end">30</text><text x="776.8" y="608.4" font-size="20" text-anchor="middle">0</text><text x="859.8" y="608.4" font-size="20" text-anchor="middle">0.5</text><text x="945.0" y="608.4" font-size="20" text-anchor="middle">1</text><text x="1029.2" y="608.4" font-size="20" text-anchor="middle">1.5</text><text x="1115.4" y="608.4" font-size="20" text-anchor="middle">2</text><text x="1198.3" y="608.4" font-size="20" text-anchor="middle">2.5</text><text x="1285.1" y="608.4" font-size="20" text-anchor="middle">3</text><text x="1048.2" y="635.9" font-size="21.5" text-anchor="middle">Time (s)</text><text transform="translate(710.6 375.0) rotate(-90)" font-size="21.5" text-anchor="middle">Neural activity index</text><text x="984.1" y="93.1" font-size="31" textLength="115.6" lengthAdjust="spacingAndGlyphs">Novel T1</text><text transform="translate(760.2 678.4) scale(1.280 1)" font-size="29.45" fill="#000" font-family="'Noto Sans CJK JP', sans-serif">&#9834;</text><text transform="translate(825.4 678.4) scale(1.280 1)" font-size="29.45" fill="#e8262a" font-family="'Noto Sans CJK JP', sans-serif">&#9834;</text><text transform="translate(884.1 678.4) scale(1.280 1)" font-size="29.45" fill="#e8262a" font-family="'Noto Sans CJK JP', sans-serif">&#9834;</text><text transform="translate(946.6 678.4) scale(1.280 1)" font-size="29.45" fill="#e8262a" font-family="'Noto Sans CJK JP', sans-serif">&#9834;</text><text transform="translate(1007.3 678.4) scale(1.280 1)" font-size="29.45" fill="#e8262a" font-family="'Noto Sans CJK JP', sans-serif">&#9834;</text><clipPath id="c02"><rect x="1452.5" y="119.5" width="594.0" height="469.0"/></clipPath><g clip-path="url(#c02)"><rect x="1484.2" y="119.5" width="8.3" height="469.0" fill="#dcdcdd"/><rect x="1574.9" y="119.5" width="2.7" height="469.0" fill="#dcdcdd"/><rect x="1584.7" y="119.5" width="3.2" height="469.0" fill="#dcdcdd"/><rect x="1693.3" y="119.5" width="7.6" height="469.0" fill="#dcdcdd"/><rect x="1757.5" y="119.5" width="3.2" height="469.0" fill="#dcdcdd"/><path d="M1469.5 119.5V588.5M1486.4 119.5V588.5M1503.4 119.5V588.5M1520.4 119.5V588.5M1537.4 119.5V588.5M1554.3 119.5V588.5M1571.3 119.5V588.5M1588.3 119.5V588.5M1605.2 119.5V588.5M1622.2 119.5V588.5M1639.2 119.5V588.5M1656.2 119.5V588.5M1673.1 119.5V588.5M1690.1 119.5V588.5M1707.1 119.5V588.5M1724.0 119.5V588.5M1741.0 119.5V588.5M1758.0 119.5V588.5M1775.0 119.5V588.5M1791.9 119.5V588.5M1808.9 119.5V588.5M1825.9 119.5V588.5M1842.8 119.5V588.5M1859.8 119.5V588.5M1876.8 119.5V588.5M1893.8 119.5V588.5M1910.7 119.5V588.5M1927.7 119.5V588.5M1944.7 119.5V588.5M1961.6 119.5V588.5M1978.6 119.5V588.5M1995.6 119.5V588.5M2012.6 119.5V588.5M2029.5 119.5V588.5M1452.5 578.1H2046.5M1452.5 567.7H2046.5M1452.5 557.2H2046.5M1452.5 546.8H2046.5M1452.5 536.4H2046.5M1452.5 526.0H2046.5M1452.5 515.5H2046.5M1452.5 505.1H2046.5M1452.5 494.7H2046.5M1452.5 484.3H2046.5M1452.5 473.9H2046.5M1452.5 463.4H2046.5M1452.5 453.0H2046.5M1452.5 442.6H2046.5M1452.5 432.2H2046.5M1452.5 421.7H2046.5M1452.5 411.3H2046.5M1452.5 400.9H2046.5M1452.5 390.5H2046.5M1452.5 380.1H2046.5M1452.5 369.6H2046.5M1452.5 359.2H2046.5M1452.5 348.8H2046.5M1452.5 338.4H2046.5M1452.5 327.9H2046.5M1452.5 317.5H2046.5M1452.5 307.1H2046.5M1452.5 296.7H2046.5M1452.5 286.3H2046.5M1452.5 275.8H2046.5M1452.5 265.4H2046.5M1452.5 255.0H2046.5M1452.5 244.6H2046.5M1452.5 234.1H2046.5M1452.5 223.7H2046.5M1452.5 213.3H2046.5M1452.5 202.9H2046.5M1452.5 192.5H2046.5M1452.5 182.0H2046.5M1452.5 171.6H2046.5M1452.5 161.2H2046.5M1452.5 150.8H2046.5M1452.5 140.3H2046.5M1452.5 129.9H2046.5" stroke="#bdbdbd" stroke-width="0.9" stroke-dasharray="1.2 2.3" fill="none"/><path transform="translate(1452.50 119.50) scale(1.35771 0.1)" d="M0 1240l1-80 1 206 1-142 1 149 1-60 1-54 1-3 1 141 1 77 1 41 1-576 1 58 1 210 1 36 1 191 1-166 1-331 1-137 1-316 1 809 1 758 1 1135 1 1024 1 157 1-451 1-536 1-382 1-854 1-304 1-188 1-342 1-413 1 96 1-194 1-307 1 135 1 210 1 157 1-27 1-176 1 118 1 151 1 37 1-16 1-155 1 296 1 31 1-218 1-32 1-655 1 465 1 120 1-17 1-182 1-154 1 121 1 138 1-176 1-83 1 135 1-164 1 39 1 171 1 101 1 216 1 41 1 149 1 23 1-96 1-443 1 231 1-112 1 81 1-136 1 346 1 225 1 121 1-62 1 142 1 105 1-120 1-157 1-149 1 42 1-227 1 52 1-94 1-39 1-213 1-106 1 52 1 91 1 1 1 250 1-513 1 204 1-341 1 434 1-201 1 110 1-32 1-187 1-50 1-212 1-43 1-64 1 170 1 23 1-43 1-69 1 49 1 97 1 105 1-182 1 18 1-192 1-85 1-130 1 52 1-61 1 180 1 103 1 133 1 24 1 72 1 162 1 147 1-89 1-43 1-51 1 144 1 18 1 62 1 16 1 119 1 52 1 49 1-345 1 193 1 249 1 281 1 82 1-31 1-263 1-85 1-528 1 239 1 3 1-162 1 9 1 11 1-10 1 68 1 38 1 25 1 58 1 20 1-40 1-95 1-400 1 334 1 34 1 33 1-155 1-89 1 152 1 276 1 150 1 189 1-65 1 5 1-48 1 181 1-11 1 15 1-40 1 40 1-597 1 652 1 179 1 234 1-30 1-359 1 307 1-210 1 192 1 13 1-82 1-40 1-140 1 46 1-153 1-216 1 146 1-79 1 118 1-202 1-20 1 48 1 91 1-239 1-3 1-177 1-19 1 58 1-46 1-66 1-21 1-64 1-104 1-409 1-61 1 375 1 360 1 238 1-220 1-191 1-122 1 302 1-240 1 516 1 212 1-184 1-137 1-22 1-191 1-73 1 113 1-87 1 130 1 194 1-259 1-111 1-49 1 194 1 110 1 180 1-453 1 331 1 210 1-350 1 462 1 20 1 193 1-14 1 6 1-135 1-107 1 269 1-115 1 212 1-126 1-247 1-180 1-209 1 67 1 11 1-91 1 64 1-48 1 171 1 41 1 73 1-41 1-8 1 243 1 3 1 142 1-91 1 48 1 12 1 383 1-83 1-212 1-205 1 148 1-165 1 27 1-50 1-1 1-1 1 114 1-132 1-70 1 391 1-251 1-60 1-30 1 224 1-70 1-5 1-155 1-362 1 233 1-167 1 10 1 128 1-17 1 217 1 44 1 104 1 7 1 162 1-48 1 90 1-92 1 44 1-12 1-162 1-89 1-72 1 181 1 106 1 71 1 89 1-98 1 95 1-132 1-79 1-78 1-119 1-98 1-195 1-47 1 336 1 75 1 112 1 216 1 118 1 84 1 73 1-325 1 217 1-148 1-49 1-6 1 99 1 44 1-102 1 11 1 100 1 167 1 87 1 36 1-151 1-349 1 21 1 12 1 175 1-114 1-99 1-452 1 458 1 1 1-94 1-160 1 74 1 172 1 202 1 72 1 262 1-176 1-3 1-380 1 103 1-176 1-68 1 193 1-182 1 399 1-1 1 48 1-58 1 101 1-114 1-69 1-43 1-99 1-72 1-9 1-32 1 46 1-17 1 49 1-57 1-122 1 90 1-46 1 20 1 33 1-113 1 45 1-444 1 446 1-513 1 421 1-207 1-74 1-275 1 129 1 112 1-16 1 103 1 40 1 161 1-24 1 201 1 199 1-144 1-97 1-71 1-455 1 169 1 55 1-131 1-131 1 293 1 58 1-122 1-10 1 16 1 94 1-706 1 290 1 87 1 180 1-24 1 32 1 138 1 31 1 234 1-207 1 161 1-79 1-34 1-65 1-2V1974l-1 95 -1-110 -1 63 -1 101 -1-202 -1 178 -1-121 -1 61 -1-217 -1-123 -1-62 -1-14 -1-199 -1 512 -1-69 -1 178 -1-247 -1-145 -1 224 -1-88 -1-5 -1-6 -1-8 -1-82 -1 9 -1 223 -1 223 -1-246 -1 189 -1 0 -1 79 -1-195 -1-180 -1 49 -1-123 -1-37 -1-112 -1-76 -1 154 -1 210 -1 94 -1 212 -1 186 -1-217 -1 14 -1-104 -1 153 -1 296 -1-268 -1 216 -1-144 -1 88 -1 6 -1 59 -1-6 -1 11 -1 121 -1-288 -1-150 -1 48 -1 36 -1 21 -1 91 -1-30 -1 43 -1-169 -1 54 -1 75 -1 424 -1-470 -1-22 -1 28 -1 517 -1-219 -1 192 -1 46 -1-318 -1 72 -1-370 -1-63 -1 237 -1-151 -1 89 -1-175 -1 334 -1-310 -1 72 -1 65 -1-115 -1 36 -1 39 -1 185 -1 205 -1-111 -1 34 -1-201 -1-269 -1 56 -1 69 -1 127 -1-56 -1-7 -1 44 -1 132 -1-82 -1 277 -1-148 -1-1 -1-129 -1-236 -1-38 -1-68 -1-408 -1 66 -1 96 -1 138 -1 201 -1 138 -1 215 -1-250 -1-143 -1 58 -1-122 -1 103 -1-46 -1-96 -1 33 -1 75 -1-84 -1 90 -1 46 -1 115 -1-171 -1-139 -1-77 -1 12 -1 57 -1-120 -1 26 -1-35 -1-37 -1-271 -1 551 -1-341 -1 198 -1-46 -1 23 -1 293 -1-278 -1 54 -1 79 -1 178 -1 116 -1-400 -1 222 -1-63 -1 40 -1-266 -1-40 -1 165 -1 258 -1-132 -1-36 -1 130 -1-140 -1 100 -1 40 -1 172 -1-310 -1-181 -1 119 -1-137 -1-3 -1-140 -1-95 -1-131 -1-102 -1 169 -1 125 -1-26 -1 84 -1 110 -1 49 -1 101 -1-10 -1-10 -1 232 -1-262 -1 198 -1-23 -1-103 -1 34 -1-19 -1-113 -1 25 -1-34 -1 56 -1-290 -1-45 -1-147 -1-126 -1 203 -1-201 -1 53 -1 8 -1 99 -1 326 -1-459 -1 178 -1-117 -1-118 -1-7 -1 74 -1 156 -1 19 -1-220 -1-115 -1 520 -1-597 -1 193 -1-2 -1 308 -1-222 -1-330 -1-419 -1 6 -1 284 -1 21 -1 247 -1 114 -1 200 -1-195 -1-68 -1 54 -1 149 -1 53 -1 404 -1-7 -1 55 -1-158 -1 77 -1-142 -1 68 -1 137 -1-78 -1 283 -1-174 -1 221 -1 44 -1-53 -1-59 -1-46 -1 326 -1-139 -1-230 -1 142 -1 77 -1-185 -1-282 -1 119 -1 47 -1 211 -1-180 -1-137 -1-106 -1 59 -1-139 -1-109 -1-85 -1 8 -1 34 -1-449 -1-9 -1 6 -1-35 -1 133 -1 145 -1 104 -1-88 -1-132 -1-51 -1-1 -1 314 -1-49 -1-30 -1-77 -1-92 -1-81 -1 123 -1 18 -1 103 -1 116 -1 212 -1 95 -1 517 -1-595 -1-93 -1-276 -1-210 -1 80 -1-44 -1 146 -1 51 -1 22 -1-233 -1 84 -1-28 -1 81 -1 55 -1-6 -1-163 -1-214 -1-105 -1 22 -1-114 -1-167 -1-296 -1-67 -1 246 -1 4 -1 149 -1-65 -1 108 -1 156 -1 521 -1-436 -1 134 -1-12 -1-88 -1-150 -1 201 -1-44 -1-55 -1 52 -1-2 -1 122 -1 76 -1 71 -1 203 -1-98 -1 80 -1-15 -1 110 -1-234 -1-51 -1-47 -1 9 -1 174 -1 39 -1-157 -1 62 -1 234 -1 415 -1-24 -1-28 -1 78 -1 40 -1 24 -1-58 -1 39 -1-152 -1 35 -1 137 -1-311 -1-107 -1 100 -1 42 -1-230 -1 191 -1-140 -1-32 -1-71 -1-138 -1-220 -1-213 -1-172 -1 257 -1-3 -1 300 -1 7 -1 40 -1-119 -1-11 -1-53 -1 192 -1-243 -1 154 -1 121 -1 12 -1 132 -1 37 -1 63 -1-54 -1-252 -1 117 -1 64 -1 133 -1 133 -1 260 -1-504 -1-179 -1-15 -1 256 -1 59 -1 214 -1-20 -1 424 -1 41 -1 537 -1 641 -1 669 -1 363 -1 245 -1-343 -1-783 -1-1057 -1-691 -1-901 -1 332 -1 285 -1 358 -1 252 -1-395 -1 40 -1-378 -1 66 -1 388 -1 95 -1-291 -1-103 -1 80 -1 226 -1 111 -1-137 -1 121 -1-276 -1 111z" fill="#a2c0e4" fill-opacity="0.7"/><path transform="translate(1452.50 119.50) scale(1.35771 0.1)" d="M0 1486l1 39 1-236 1-66 1-26 1-94 1 151 1 1 1 33 1 28 1 63 1 153 1 86 1-17 1 50 1-63 1-15 1-428 1-280 1-171 1 59 1 253 1 265 1 927 1 990 1 785 1 778 1-1030 1-882 1-837 1-644 1-403 1-228 1-41 1 38 1 34 1-132 1 101 1-27 1-10 1 101 1-116 1 143 1 31 1 22 1-66 1 68 1-122 1-190 1 11 1-105 1 28 1 105 1-70 1-19 1 62 1-94 1 92 1-131 1 199 1-109 1 147 1-23 1 117 1 40 1-28 1 357 1-171 1 68 1-58 1-240 1 206 1-251 1-55 1-157 1-38 1 426 1 440 1-5 1 42 1-94 1 134 1-1 1-132 1-27 1-224 1-127 1-42 1 53 1-19 1-187 1 133 1-81 1 95 1 129 1-169 1-212 1-254 1-251 1 199 1 50 1 183 1-60 1 15 1-73 1-135 1 20 1 56 1 320 1-28 1-101 1 71 1-125 1-157 1 127 1 6 1-64 1-2 1-123 1 100 1 171 1 436 1 42 1 254 1 88 1 73 1 117 1 107 1 106 1-58 1 11 1-2 1-97 1 228 1-216 1 142 1-234 1-80 1-420 1 209 1 45 1 26 1-24 1 35 1-121 1-64 1-56 1-38 1-14 1-139 1-13 1-108 1-103 1 139 1 60 1-81 1 29 1 16 1-8 1-127 1 122 1 56 1-36 1-226 1-88 1-54 1 236 1 222 1 263 1 220 1 35 1-21 1 186 1 99 1 346 1 94 1-195 1-206 1 80 1 44 1 237 1 8 1 13 1 64 1 191 1 59 1-49 1-73 1-214 1 96 1-176 1 135 1-98 1-89 1-189 1 50 1 34 1-4 1-155 1 32 1-186 1-21 1-357 1 232 1-98 1 19 1-138 1-1 1 50 1-158 1-183 1-139 1-273 1 276 1 309 1 116 1 126 1-88 1 54 1 20 1-15 1 89 1-91 1 28 1-43 1-10 1-108 1 36 1 23 1 56 1 157 1-103 1-12 1 63 1-239 1-35 1-157 1-67 1-1 1-129 1 76 1-29 1 36 1-47 1 196 1-13 1 13 1 144 1 68 1 132 1-184 1 64 1-33 1-92 1 53 1-155 1-114 1-28 1-217 1 188 1 26 1 16 1 30 1 130 1 194 1-248 1 158 1-46 1-8 1-74 1 235 1 43 1 15 1 70 1 8 1-85 1-164 1-9 1 18 1 48 1-24 1-33 1 185 1 159 1-28 1-39 1-212 1-143 1-43 1-83 1-61 1 206 1 51 1 26 1-84 1 17 1 32 1 201 1 99 1 40 1-8 1-37 1-5 1 73 1-138 1 84 1-12 1-121 1 22 1 38 1-246 1 79 1-1 1 78 1 170 1 204 1-167 1 123 1 38 1-54 1 49 1 53 1-31 1 113 1 45 1 42 1-39 1-118 1-113 1-178 1-351 1 324 1-59 1 119 1 60 1 56 1 19 1-11 1-72 1 75 1-31 1-22 1-25 1 151 1-189 1 60 1-24 1 198 1 93 1 68 1 43 1-119 1-125 1 35 1-98 1-62 1-92 1 47 1-21 1-32 1 41 1-117 1 232 1-66 1 103 1 80 1 15 1 175 1 53 1 66 1-268 1-88 1-298 1 29 1-178 1-58 1 161 1 92 1 84 1-180 1 164 1-89 1 110 1-154 1 89 1-60 1 176 1 5 1 152 1-35 1 25 1-84 1-26 1 20 1-204 1 177 1 46 1-154 1 74 1 31 1 179 1-55 1-2 1-59 1-137 1-65 1-47 1-63 1-120 1-69 1 25 1 244 1 52 1 72 1-57 1-107 1-200 1-242 1 186 1 226 1 45 1 25 1 138 1 168 1 33 1-60 1-48 1-110 1-149 1-182 1-82 1-171 1 104 1-1 1 239 1 26 1 251 1 103V1894l-1-97 -1 68 -1-176 -1-53 -1-184 -1-9 -1 122 -1 17 -1 168 -1 36 -1 218 -1-48 -1 177 -1 63 -1 22 -1-269 -1-90 -1-263 -1-123 -1 21 -1 138 -1 101 -1 183 -1 29 -1-51 -1-100 -1-22 -1-123 -1 198 -1-109 -1 83 -1 92 -1 148 -1 20 -1 78 -1-24 -1-106 -1-31 -1-216 -1 81 -1 132 -1-14 -1-152 -1 128 -1-147 -1 61 -1 57 -1 61 -1-63 -1-159 -1 11 -1 201 -1-62 -1-46 -1-176 -1-177 -1 58 -1-21 -1 93 -1-21 -1 83 -1 85 -1 9 -1 40 -1-41 -1 136 -1 98 -1 291 -1-125 -1 59 -1 82 -1-213 -1-140 -1-234 -1 163 -1-133 -1-9 -1 86 -1 4 -1-42 -1 23 -1-14 -1 120 -1 74 -1-8 -1 54 -1 185 -1-182 -1 140 -1-248 -1-28 -1 14 -1 160 -1-273 -1-78 -1-44 -1 82 -1 66 -1-30 -1 46 -1 59 -1-46 -1-11 -1-223 -1-15 -1 100 -1-151 -1 54 -1 125 -1 232 -1 250 -1-77 -1-70 -1-37 -1-46 -1 29 -1-24 -1-96 -1-94 -1-128 -1 156 -1 74 -1-110 -1-157 -1-29 -1-81 -1-24 -1 84 -1 26 -1 118 -1-46 -1 67 -1-27 -1 157 -1-144 -1-124 -1 29 -1 2 -1-18 -1-102 -1-57 -1-91 -1-50 -1 61 -1-76 -1 115 -1-166 -1 76 -1 176 -1-122 -1 219 -1 94 -1 9 -1-101 -1-28 -1-60 -1 40 -1 177 -1-162 -1 63 -1-159 -1 176 -1 2 -1 202 -1-63 -1-69 -1-300 -1-150 -1 57 -1 122 -1 245 -1-76 -1 4 -1 75 -1-233 -1-70 -1-62 -1-123 -1 2 -1 71 -1-47 -1 59 -1 224 -1-33 -1 215 -1-200 -1 48 -1 21 -1-89 -1-52 -1-132 -1-138 -1-3 -1-21 -1 87 -1-144 -1 123 -1-186 -1 181 -1-58 -1 82 -1 184 -1 23 -1 143 -1-23 -1 16 -1 160 -1-162 -1 74 -1-3 -1-93 -1-88 -1-17 -1 40 -1-62 -1 92 -1-20 -1 104 -1 31 -1 64 -1 45 -1-170 -1-75 -1-378 -1-238 -1 339 -1 116 -1 213 -1 127 -1-82 -1-29 -1 84 -1-77 -1 135 -1 18 -1 78 -1 50 -1 256 -1-27 -1 90 -1 143 -1-66 -1-55 -1 50 -1-12 -1 207 -1 44 -1 50 -1-68 -1 206 -1 97 -1-33 -1-51 -1-155 -1 9 -1 68 -1-193 -1-101 -1 38 -1 260 -1-138 -1-74 -1-253 -1-106 -1-39 -1-216 -1 6 -1-191 -1-101 -1-376 -1 31 -1-281 -1 150 -1 91 -1 123 -1 30 -1-52 -1-123 -1 94 -1-59 -1 195 -1-29 -1 116 -1-129 -1-134 -1-40 -1 193 -1-147 -1 166 -1-1 -1 276 -1-42 -1 54 -1 81 -1 1 -1 2 -1 102 -1-123 -1-83 -1 144 -1 126 -1 156 -1-45 -1 142 -1-108 -1 39 -1 54 -1 25 -1 119 -1-104 -1-137 -1-164 -1-64 -1-55 -1-218 -1-97 -1-429 -1-248 -1-208 -1 79 -1 110 -1 142 -1 8 -1-28 -1 99 -1 109 -1-120 -1 50 -1 77 -1-252 -1-39 -1-35 -1 71 -1-3 -1-31 -1 65 -1-149 -1-15 -1-248 -1 145 -1 178 -1 227 -1 212 -1-100 -1 80 -1 87 -1 153 -1 152 -1-223 -1-134 -1 103 -1 78 -1 151 -1 42 -1 264 -1 151 -1-261 -1-17 -1-155 -1 126 -1-299 -1-299 -1-60 -1 95 -1 41 -1 105 -1 235 -1 96 -1 69 -1-249 -1 11 -1-166 -1-43 -1 9 -1-197 -1-34 -1-47 -1 38 -1 68 -1-124 -1-14 -1-9 -1-165 -1 0 -1-24 -1-18 -1 25 -1 166 -1-10 -1 235 -1-5 -1-33 -1 98 -1-57 -1 35 -1-142 -1-48 -1-58 -1 143 -1 135 -1 22 -1 84 -1-100 -1-151 -1 285 -1 9 -1 358 -1 683 -1 766 -1 874 -1 851 -1-571 -1-673 -1-618 -1-1065 -1-395 -1-294 -1 48 -1 164 -1 117 -1 342 -1 60 -1-30 -1 6 -1 117 -1-178 -1-71 -1-222 -1-29 -1-38 -1-58 -1-54 -1 130 -1 212 -1 47 -1 322 -1-241z" fill="#8680b6" fill-opacity="0.7"/><path transform="translate(1452.50 119.50) scale(1.35771 0.1)" d="M0 1426l1-97 1-71 1 6 1-46 1 103 1 5 1 101 1 34 1 7 1-12 1-99 1 78 1-59 1 39 1-59 1-69 1-106 1-77 1-64 1-115 1 301 1 222 1 253 1 224 1-193 1-142 1-188 1-24 1-218 1-79 1 106 1-14 1 3 1 31 1 164 1 122 1 266 1-105 1-11 1-139 1-12 1-36 1-110 1-179 1-53 1-179 1-172 1 0 1-37 1-64 1-5 1-92 1 77 1 124 1 66 1-87 1-175 1 119 1 197 1 28 1 114 1-10 1 79 1 234 1-19 1 203 1 15 1 38 1-72 1 12 1 0 1-99 1-39 1-63 1-139 1 137 1-78 1-15 1-24 1 63 1 57 1 115 1 48 1 68 1 155 1-29 1-10 1-94 1 26 1 48 1-61 1-79 1-127 1-169 1-77 1-54 1 3 1-54 1-102 1-97 1-2 1 71 1-15 1 85 1-22 1-24 1-56 1 104 1-138 1-4 1 12 1 30 1 89 1-56 1-93 1-1 1-1 1-51 1-49 1-13 1 31 1-31 1-27 1 109 1 85 1 32 1 184 1 35 1 88 1 169 1-28 1 110 1 95 1 124 1-94 1-37 1-112 1-11 1-219 1 60 1-88 1 22 1-36 1-211 1-12 1-83 1-70 1-21 1-117 1-40 1 69 1 22 1 44 1 9 1 165 1 78 1 55 1-68 1 141 1-94 1 118 1-34 1-94 1-50 1 14 1 126 1 182 1 69 1 10 1-18 1 145 1 36 1 93 1 147 1 66 1 158 1 147 1 292 1 73 1 95 1 106 1 96 1-138 1-143 1-87 1-86 1-24 1-136 1-38 1-101 1-22 1 12 1-12 1 8 1-103 1-78 1-75 1 10 1-16 1-12 1-10 1-51 1-62 1-13 1-100 1-182 1 17 1-101 1-38 1 76 1-25 1 10 1-81 1 19 1-294 1 180 1-99 1 215 1 137 1 90 1 76 1 57 1 89 1 56 1 40 1 18 1 14 1-13 1-13 1-56 1-55 1-110 1-74 1-113 1 95 1-63 1-90 1-88 1 22 1-127 1-12 1-128 1 250 1 93 1 64 1 86 1-61 1 0 1 3 1 23 1-4 1 46 1-31 1-40 1-24 1 37 1-77 1 45 1 11 1 4 1-15 1-72 1-18 1-53 1-56 1-33 1 47 1-67 1 44 1-93 1-11 1-53 1-6 1-48 1-45 1 47 1 39 1-12 1-42 1 109 1 62 1-85 1-30 1-165 1 21 1 11 1-2 1-26 1-53 1 124 1 49 1-34 1-1 1 39 1-85 1 105 1-76 1 45 1 22 1 44 1 30 1-108 1 153 1 158 1-19 1 51 1-23 1 101 1-129 1 129 1-207 1 73 1 8 1 180 1 21 1 125 1-54 1 31 1-49 1-102 1 26 1-10 1 16 1 6 1-73 1 163 1-83 1 110 1 47 1 151 1-126 1-43 1-75 1-135 1 136 1-6 1 107 1-126 1 3 1 159 1-131 1-69 1-103 1 19 1-151 1 141 1 40 1 80 1 61 1 33 1-124 1-2 1 21 1-138 1 43 1-43 1 25 1 78 1 97 1 79 1 4 1-130 1 92 1-31 1 3 1 6 1-105 1 12 1-62 1 106 1 3 1 102 1-148 1 4 1 12 1 21 1-7 1-41 1 2 1 25 1-22 1-98 1-26 1 112 1 137 1 99 1-27 1-11 1-16 1-41 1-75 1-51 1 6 1-9 1 143 1-108 1 5 1-105 1 37 1-80 1 42 1-25 1-3 1-54 1 40 1-62 1 44 1 130 1-10 1 175 1-47 1 27 1-127 1 33 1-70 1-45 1-15 1 180 1-63 1-50 1 58 1 31 1-27 1 43 1-27 1 19 1-87 1-12 1 71 1-44 1 6 1-16 1-17 1-88 1 55 1-17 1 112V1746l-1-81 -1-24 -1-58 -1 18 -1-66 -1 153 -1-97 -1 209 -1-65 -1-15 -1-9 -1 28 -1 26 -1 84 -1 79 -1-101 -1-47 -1-63 -1-6 -1-98 -1-68 -1 260 -1-37 -1 58 -1-82 -1 1 -1 12 -1 10 -1 47 -1-118 -1-124 -1 19 -1-65 -1 97 -1 113 -1 107 -1-58 -1-92 -1-73 -1 162 -1-31 -1 8 -1-30 -1 132 -1 98 -1-4 -1-59 -1-30 -1 48 -1 83 -1-54 -1-93 -1-56 -1-131 -1-74 -1 48 -1 26 -1 42 -1 82 -1 9 -1 19 -1 50 -1-67 -1-43 -1 8 -1-39 -1 54 -1-65 -1 134 -1-64 -1 9 -1 56 -1-87 -1 43 -1-111 -1 53 -1-7 -1-23 -1 110 -1-134 -1-37 -1-35 -1 136 -1 86 -1-62 -1-38 -1 91 -1-91 -1-25 -1-67 -1 39 -1-110 -1 82 -1 6 -1 96 -1 91 -1 92 -1 59 -1-137 -1-58 -1-75 -1 7 -1 10 -1-56 -1 115 -1 25 -1 162 -1-83 -1-71 -1-23 -1-86 -1-2 -1 66 -1-44 -1-103 -1-39 -1 3 -1 54 -1 55 -1-51 -1 29 -1-33 -1-20 -1-33 -1-69 -1-10 -1 23 -1-98 -1 37 -1 60 -1 96 -1 34 -1-48 -1-178 -1-40 -1 80 -1 61 -1-222 -1-85 -1-40 -1-47 -1 3 -1 20 -1 113 -1 18 -1 20 -1-92 -1-186 -1 66 -1-61 -1 79 -1 174 -1 76 -1 30 -1-139 -1 121 -1-181 -1 7 -1-25 -1 42 -1-33 -1-4 -1 83 -1 5 -1 29 -1 56 -1 27 -1 79 -1-48 -1 92 -1 0 -1 114 -1 61 -1-168 -1 18 -1 72 -1-29 -1 148 -1-51 -1-24 -1 34 -1-72 -1-59 -1-53 -1 121 -1 92 -1 54 -1-5 -1-27 -1-94 -1 133 -1-171 -1-19 -1-214 -1 38 -1-86 -1 117 -1 38 -1 89 -1-23 -1 87 -1 127 -1 46 -1 167 -1-68 -1 0 -1 63 -1 1 -1 88 -1 52 -1-80 -1-83 -1-27 -1-53 -1-113 -1-95 -1-63 -1-48 -1-190 -1-9 -1-35 -1-71 -1 166 -1-28 -1 119 -1-10 -1-3 -1 48 -1 50 -1 140 -1-8 -1 23 -1 77 -1 195 -1-63 -1 92 -1 0 -1 98 -1-14 -1 57 -1 108 -1 71 -1-119 -1-56 -1 83 -1 24 -1-42 -1 121 -1 127 -1 132 -1 45 -1-24 -1 136 -1 133 -1 81 -1 35 -1-160 -1-113 -1-51 -1-186 -1-123 -1-177 -1-68 -1-119 -1-64 -1-155 -1-148 -1-92 -1 71 -1-100 -1-19 -1-229 -1 8 -1 56 -1-9 -1-10 -1 20 -1-25 -1-142 -1 110 -1-145 -1-6 -1 4 -1-109 -1-68 -1-59 -1 27 -1 49 -1 90 -1-73 -1 70 -1 115 -1-13 -1 95 -1 281 -1 121 -1 55 -1-137 -1 111 -1 4 -1 142 -1 101 -1-43 -1-79 -1-130 -1 8 -1-84 -1-122 -1-63 -1-91 -1-156 -1-101 -1 5 -1-152 -1 56 -1 48 -1-19 -1 83 -1-48 -1 6 -1 19 -1 48 -1 108 -1-43 -1-72 -1-40 -1-11 -1 0 -1 71 -1-69 -1 31 -1-15 -1-6 -1-5 -1 88 -1 81 -1-159 -1 74 -1 130 -1 120 -1 42 -1 117 -1 37 -1 71 -1 16 -1 97 -1 66 -1 154 -1-75 -1-21 -1-75 -1 8 -1-33 -1-23 -1-72 -1-151 -1-22 -1-103 -1 8 -1-7 -1 7 -1-44 -1 21 -1 158 -1-22 -1 97 -1 126 -1 125 -1-37 -1-75 -1 19 -1-156 -1 2 -1-234 -1-114 -1 35 -1-97 -1-70 -1-212 -1-69 -1 204 -1 151 -1-235 -1-18 -1-44 -1 5 -1-91 -1 77 -1 124 -1-46 -1 211 -1 142 -1-9 -1 177 -1 99 -1 134 -1-2 -1 192 -1-7 -1-20 -1-76 -1-136 -1-180 -1-137 -1-95 -1 26 -1 40 -1-10 -1 197 -1 147 -1 254 -1 92 -1 85 -1-176 -1-258 -1-198 -1-327 -1 29 -1 174 -1 91 -1 275 -1 29 -1-89 -1 78 -1 46 -1-118 -1-48 -1-47 -1 66 -1-121 -1-40 -1 54 -1-52 -1 93 -1-70 -1 136 -1 62z" fill="#e8957a" fill-opacity="0.7"/><path transform="translate(1452.50 119.50) scale(1.35771 0.1)" d="M0 1692l1 50 1-168 1-102 1-112 1-71 1 80 1 33 1 51 1 19 1 139 1 128 1 110 1-46 1-1 1-38 1-36 1-345 1-248 1-206 1 82 1 233 1 389 1 881 1 898 1 726 1 667 1-909 1-895 1-821 1-634 1-407 1-210 1-67 1 121 1 23 1-64 1 32 1-111 1-43 1 62 1 51 1 40 1 12 1 38 1-60 1 41 1-61 1-193 1-32 1-78 1-24 1 38 1-27 1-5 1 139 1-47 1 44 1-45 1 87 1-36 1 62 1 22 1 174 1 36 1 56 1 163 1-67 1 145 1-44 1-59 1-139 1-193 1-41 1-120 1 148 1 307 1 255 1-30 1 93 1-29 1 148 1-56 1-176 1-22 1-231 1-44 1-100 1 96 1 30 1 29 1-114 1 5 1-105 1 95 1-140 1-231 1-226 1-213 1 216 1 70 1 114 1-58 1 36 1-5 1-122 1 16 1 58 1 291 1-56 1-9 1 11 1-90 1-120 1 61 1 18 1-112 1-66 1-105 1 178 1 201 1 416 1 106 1 199 1 96 1 73 1 132 1 107 1 92 1-63 1-28 1-18 1-46 1 138 1-175 1 97 1-214 1-85 1-172 1 25 1 81 1-16 1 2 1-14 1-95 1-34 1-54 1-111 1-31 1-146 1 22 1-91 1-22 1 91 1 99 1-93 1-2 1-40 1 3 1-99 1 116 1 56 1-24 1-164 1-129 1-64 1 235 1 122 1 301 1 173 1 89 1 3 1 221 1 30 1 237 1 179 1-28 1-142 1-26 1 60 1 108 1 102 1-32 1 72 1 143 1 69 1-16 1-108 1-169 1 48 1-72 1 21 1-159 1-40 1-71 1 14 1 24 1-60 1-106 1-55 1-146 1-11 1-109 1-27 1-133 1 73 1-77 1-19 1 61 1-122 1-209 1-140 1-301 1 242 1 299 1 156 1 113 1-34 1 13 1-28 1-36 1 33 1-104 1 46 1-27 1-2 1 20 1 40 1 49 1-19 1 132 1-119 1-25 1 23 1-194 1-16 1-149 1-91 1 40 1-159 1 121 1-72 1 84 1-66 1 107 1 15 1 54 1 115 1 86 1 81 1-49 1-7 1 65 1-139 1 40 1-212 1-56 1 8 1-87 1 23 1 79 1 21 1 81 1 141 1 101 1-30 1-22 1-96 1-113 1-35 1 208 1 150 1 82 1 36 1-101 1-8 1-201 1 86 1-69 1 60 1-14 1-72 1 141 1 115 1 26 1-46 1-192 1-104 1 41 1-161 1-68 1 195 1-40 1 35 1-65 1 61 1 57 1 122 1 100 1-7 1 26 1-7 1 39 1 99 1-109 1 35 1-47 1-71 1-5 1-3 1-127 1 4 1 28 1 80 1 174 1 148 1-95 1-23 1 36 1 28 1 79 1 46 1-29 1 89 1 29 1 52 1 26 1-191 1-159 1-155 1-115 1 145 1-65 1 42 1 160 1 32 1 41 1-62 1-38 1 35 1-47 1-35 1-18 1 131 1-92 1 61 1 15 1 98 1 154 1 7 1 69 1-129 1-90 1-6 1-59 1-84 1-27 1 0 1 28 1-28 1-30 1 31 1 41 1-43 1 138 1 104 1 82 1 66 1 28 1 89 1-268 1-104 1-92 1-82 1-90 1-40 1 6 1 5 1 75 1-109 1 51 1-55 1 96 1 61 1 83 1-135 1 75 1 36 1 136 1-3 1 14 1-94 1-29 1 94 1-148 1 127 1-2 1-146 1 23 1 131 1 91 1 38 1 25 1-72 1-78 1-127 1-41 1-97 1-78 1-37 1 120 1 62 1 120 1 28 1-21 1-182 1-132 1-125 1 47 1 119 1 163 1 76 1 174 1 87 1-33 1-82 1 4 1-183 1-108 1-131 1-103 1-127 1 105 1 109 1 98 1 87 1 114 1 81" fill="none" stroke="#1c1c7a" stroke-width="2.2" stroke-linejoin="round" vector-effect="non-scaling-stroke"/><path transform="translate(1452.50 119.50) scale(1.35771 0.1)" d="M0 1576l1-57 1 161 1-89 1 94 1-57 1-127 1-13 1 124 1 180 1-21 1-518 1-14 1 306 1 9 1 319 1-250 1-364 1-209 1-284 1 857 1 683 1 1092 1 938 1 256 1-321 1-499 1-537 1-606 1-532 1-140 1-330 1-36 1-279 1-45 1-350 1 82 1 173 1 171 1 54 1-159 1-44 1 97 1-25 1 56 1 79 1 12 1-42 1-135 1 1 1-203 1-13 1 100 1-105 1-28 1-51 1 110 1 44 1-106 1-212 1 124 1-242 1 136 1 178 1 178 1 163 1 37 1 113 1 55 1-103 1 64 1-77 1-134 1 155 1-46 1 185 1 98 1 124 1-22 1 57 1 47 1-42 1-164 1-38 1 41 1-319 1-103 1-41 1 3 1-115 1-151 1 81 1 0 1 71 1 212 1-209 1 65 1-178 1 188 1-141 1-38 1-50 1-132 1 10 1-196 1-20 1-5 1 10 1 76 1 42 1-58 1-2 1 15 1 7 1-161 1-9 1-80 1-128 1-89 1-101 1 19 1 241 1 154 1 127 1 37 1 17 1 184 1 171 1-59 1-8 1-57 1 91 1-55 1 97 1 57 1-69 1 29 1 40 1-152 1 190 1 219 1 170 1 238 1-136 1-213 1-155 1-183 1-53 1 19 1-141 1 39 1 19 1 18 1 28 1-33 1-21 1 45 1 69 1-9 1-11 1-130 1 7 1-53 1 4 1-41 1-24 1 156 1 270 1 57 1 121 1 29 1 18 1 26 1 123 1 7 1 64 1-78 1 16 1-120 1 234 1 134 1 150 1-106 1 152 1-124 1-79 1 54 1 43 1-17 1-55 1-164 1 48 1-128 1 51 1-121 1-94 1 142 1-147 1 134 1-36 1-67 1-197 1-84 1-161 1-23 1 38 1 67 1-137 1-30 1-200 1-51 1-347 1-38 1 406 1 360 1 204 1-232 1-46 1-207 1 216 1 55 1 118 1 198 1-80 1-134 1-31 1-79 1-29 1 114 1-98 1 74 1 120 1-142 1-88 1-11 1 85 1 16 1 148 1 68 1 22 1 159 1 61 1 8 1 42 1 134 1 38 1-81 1-4 1-164 1 154 1-51 1 135 1-85 1-94 1-154 1-97 1-10 1-51 1-22 1-47 1-154 1 172 1 112 1 25 1 115 1-53 1 222 1-41 1 161 1-13 1 11 1 60 1 81 1-5 1-127 1-88 1 59 1-129 1-81 1 5 1 81 1-33 1 136 1-169 1 314 1-17 1-155 1-100 1-26 1 64 1-23 1-33 1-19 1-176 1-32 1-114 1 107 1 81 1 19 1 85 1 36 1 10 1 54 1 115 1 2 1 105 1-32 1-8 1-61 1 25 1-106 1-79 1 157 1 10 1 61 1 58 1-78 1 128 1-77 1 30 1-154 1-131 1-125 1-122 1-125 1 401 1 55 1 88 1 235 1 128 1 33 1 117 1-241 1 52 1-114 1-10 1-14 1 71 1-74 1-47 1-30 1 170 1 174 1 46 1 75 1-194 1-244 1-41 1 5 1 135 1-149 1 6 1 34 1-82 1 110 1-112 1 35 1-85 1 79 1 182 1 93 1 293 1-129 1-91 1-83 1-204 1-42 1-22 1 124 1 62 1-29 1-17 1 74 1 13 1 59 1-118 1-84 1 14 1-100 1 21 1 50 1 71 1-6 1 31 1-80 1-18 1-101 1 114 1-119 1-50 1 41 1-112 1 96 1-49 1-18 1-2 1-92 1-137 1-186 1-193 1 117 1 106 1 20 1 152 1-72 1 151 1 31 1 139 1 117 1-169 1-58 1-49 1-221 1 52 1-25 1-53 1 14 1 84 1 95 1-123 1 23 1-76 1 117 1-222 1-130 1 144 1 59 1 53 1 51 1 183 1-24 1 159 1-170 1 141 1-101 1-4 1 12 1-17" fill="none" stroke="#3a88c8" stroke-width="2.2" stroke-linejoin="round" vector-effect="non-scaling-stroke"/><path transform="translate(1452.50 119.50) scale(1.35771 0.1)" d="M0 1614l1-58 1-145 1 44 1-48 1 71 1-9 1 52 1 87 1-21 1-4 1-50 1 70 1 5 1-35 1-26 1-34 1-124 1-97 1-139 1-52 1 288 1 166 1 319 1 214 1-147 1-157 1-189 1-95 1-183 1 30 1-41 1-22 1 25 1 126 1 169 1 158 1 126 1-3 1-71 1-157 1 22 1-91 1-91 1-201 1-34 1-152 1-184 1 9 1-78 1-68 1 38 1-48 1 65 1 75 1 81 1-43 1-181 1 99 1 155 1 81 1 88 1-21 1 140 1 190 1 25 1 190 1-25 1 46 1 1 1-63 1-75 1-79 1-43 1-84 1-28 1 44 1-66 1 3 1-17 1 94 1 35 1 119 1 47 1 95 1 65 1-9 1 29 1-43 1 34 1-30 1-46 1-109 1-78 1-117 1-62 1-85 1 7 1-116 1-100 1-81 1 79 1-11 1-52 1 11 1 33 1-25 1-23 1 78 1-98 1-11 1 18 1 48 1 66 1 21 1-120 1-40 1-9 1-13 1-22 1-45 1 37 1-41 1-45 1 111 1 40 1 67 1 185 1 92 1 40 1 155 1 44 1 44 1 101 1 111 1-42 1-56 1-139 1-4 1-148 1 96 1-137 1-41 1-117 1-132 1-8 1-93 1-81 1 19 1-87 1-53 1 27 1 19 1 56 1 60 1 80 1 54 1 35 1-37 1 131 1-13 1 51 1-1 1-34 1-71 1-18 1 134 1 166 1 93 1-24 1 32 1 123 1 110 1 69 1 141 1 73 1 168 1 166 1 203 1 56 1 135 1 124 1 11 1-120 1-119 1-103 1-59 1-43 1-122 1-60 1-108 1-11 1-31 1-18 1 23 1-21 1-46 1-86 1-27 1 11 1-50 1-3 1-84 1-34 1-76 1-60 1-76 1-27 1-108 1-57 1 23 1-35 1-25 1-59 1 24 1-212 1 111 1-5 1 85 1 151 1 85 1 44 1 103 1 93 1 46 1 44 1 52 1 39 1-32 1-60 1-34 1-38 1-57 1 0 1-135 1 1 1-80 1-68 1-50 1-32 1-97 1-54 1-36 1 115 1 142 1 28 1 120 1-52 1 57 1 4 1 15 1-16 1-43 1-72 1 5 1 11 1 78 1-72 1 41 1 22 1-73 1 24 1-74 1-38 1 43 1-37 1-58 1-2 1-67 1 60 1-110 1-2 1-68 1-11 1-53 1-32 1 5 1 47 1-21 1-18 1 55 1 80 1-42 1 11 1-118 1 12 1-59 1-54 1-15 1-17 1 139 1 65 1-25 1 20 1-54 1-65 1 63 1-16 1 45 1 49 1 79 1 39 1-16 1 21 1 164 1 2 1 27 1-66 1 11 1-59 1 86 1-94 1 32 1 33 1 114 1 5 1 100 1-49 1 23 1-30 1-71 1-10 1 26 1 54 1 26 1-37 1 51 1 14 1 84 1 41 1 92 1-110 1-24 1-124 1-105 1 115 1 17 1 76 1-9 1 46 1 58 1-115 1-54 1-135 1-5 1-53 1 97 1 0 1 58 1 49 1 55 1-97 1-14 1 66 1-91 1-64 1-3 1 45 1 58 1 33 1 23 1 24 1-84 1 99 1-71 1 54 1-8 1-48 1 9 1-76 1 107 1-42 1 65 1-67 1 16 1 42 1-7 1-22 1-36 1-14 1-25 1-39 1-52 1 45 1 59 1 142 1 68 1-24 1 22 1-59 1 13 1-30 1-17 1-7 1-52 1 41 1-47 1 4 1-109 1 59 1-23 1 39 1-62 1-33 1-80 1 35 1-28 1 83 1 94 1-3 1 72 1-23 1 6 1 13 1-48 1-60 1-100 1 31 1 143 1-25 1 12 1 55 1 32 1-31 1-27 1-25 1 2 1-66 1 26 1 11 1-102 1 33 1-35 1 22 1-48 1 42 1 2 1 103" fill="none" stroke="#ff1e1e" stroke-width="2.2" stroke-linejoin="round" vector-effect="non-scaling-stroke"/></g><path d="M1452.5 588.5h6.5M2046.5 588.5h-6.5M1452.5 536.4h6.5M2046.5 536.4h-6.5M1452.5 484.3h6.5M2046.5 484.3h-6.5M1452.5 432.2h6.5M2046.5 432.2h-6.5M1452.5 380.1h6.5M2046.5 380.1h-6.5M1452.5 327.9h6.5M2046.5 327.9h-6.5M1452.5 275.8h6.5M2046.5 275.8h-6.5M1452.5 223.7h6.5M2046.5 223.7h-6.5M1452.5 171.6h6.5M2046.5 171.6h-6.5M1452.5 119.5h6.5M2046.5 119.5h-6.5M1469.5 119.5v6.5M1469.5 588.5v-6.5M1554.3 119.5v6.5M1554.3 588.5v-6.5M1639.2 119.5v6.5M1639.2 588.5v-6.5M1724.0 119.5v6.5M1724.0 588.5v-6.5M1808.9 119.5v6.5M1808.9 588.5v-6.5M1893.8 119.5v6.5M1893.8 588.5v-6.5M1978.6 119.5v6.5M1978.6 588.5v-6.5" stroke="#5a5a5a" stroke-width="1.1" fill="none"/><rect x="1452.5" y="119.5" width="594.0" height="469.0" fill="none" stroke="#5a5a5a" stroke-width="1.1"/><rect x="1933.4" y="130.5" width="98" height="75.7" fill="#fff" stroke="#444" stroke-width="1"/><rect x="1941.0" y="139.4" width="20.8" height="12.5" fill="#e8957a" fill-opacity="0.7"/><rect x="1941.0" y="144.8" width="20.8" height="2" fill="#ff1e1e"/><text x="1971.8" y="150.7" font-size="16.4">Young</text><rect x="1941.0" y="162.2" width="20.8" height="12.5" fill="#8680b6" fill-opacity="0.7"/><rect x="1941.0" y="167.6" width="20.8" height="2" fill="#1c1c7a"/><text x="1971.8" y="173.5" font-size="16.4">60 - 68</text><rect x="1941.0" y="184.9" width="20.8" height="12.5" fill="#a2c0e4" fill-opacity="0.7"/><rect x="1941.0" y="190.3" width="20.8" height="2" fill="#3a88c8"/><text x="1971.8" y="196.2" font-size="16.4">&gt; 68</text><rect x="1852.4" y="445.4" width="177.4" height="126.0" fill="#fff" stroke="#6e6e6e" stroke-width="1"/><g transform="translate(1858.3 449.9)"><path d="M0.0 30.8C-0.5 26.7 0.7 22.0 3.0 18.0C5.3 14.0 9.8 9.8 14.0 7.0C18.2 4.2 23.2 2.7 28.0 1.5C32.8 0.3 38.3 0.0 43.0 0.0C47.7 0.0 52.0 0.5 56.0 1.5C60.0 2.5 63.7 3.6 67.0 6.0C70.3 8.4 73.6 12.0 76.0 16.0C78.4 20.0 80.7 26.3 81.5 30.0C82.3 33.7 81.9 35.6 81.0 38.0C80.1 40.4 78.8 42.8 76.0 44.5C73.2 46.2 68.7 46.8 64.0 48.0C59.3 49.2 53.0 50.4 48.0 52.0C43.0 53.6 37.5 56.7 34.0 57.5C30.5 58.3 28.8 57.9 27.0 57.0C25.2 56.1 23.9 53.6 23.5 52.0C23.1 50.4 25.9 48.5 24.5 47.5C23.1 46.5 18.1 46.8 15.0 46.0C11.9 45.2 8.5 45.0 6.0 42.5C3.5 40.0 0.5 34.9 0.0 30.8Z" fill="url(#bg)" stroke="#3c3c3c" stroke-width="0.9"/><path d="M25.0 47.0C21.5 49.0 31.5 42.3 35.0 40.0C38.5 37.7 42.5 35.0 46.0 33.0C49.5 31.0 59.5 25.7 56.0 28.0" fill="none" stroke="#4e4e4e" stroke-width="1.2" stroke-linecap="round" opacity="0.8"/><path d="M44.0 1.0C44.7 -2.2 41.8 8.5 41.0 12.0C40.2 15.5 39.7 18.8 39.0 22.0C38.3 25.2 36.2 34.5 37.0 31.0" fill="none" stroke="#4e4e4e" stroke-width="1.2" stroke-linecap="round" opacity="0.8"/><path d="M29.0 54.0C24.7 55.3 37.5 49.8 42.0 48.0C46.5 46.2 51.7 44.3 56.0 43.0C60.3 41.7 72.5 38.2 68.0 40.0" fill="none" stroke="#4e4e4e" stroke-width="1.2" stroke-linecap="round" opacity="0.8"/><path d="M52.0 2.0C52.2 0.3 50.5 10.3 50.0 14.0C49.5 17.7 48.7 26.0 49.0 24.0" fill="none" stroke="#4e4e4e" stroke-width="1.2" stroke-linecap="round" opacity="0.8"/><path d="M8.0 22.0C6.0 22.3 14.3 17.3 18.0 16.0C21.7 14.7 31.7 13.0 30.0 14.0" fill="none" stroke="#4e4e4e" stroke-width="1.2" stroke-linecap="round" opacity="0.8"/><path d="M6.0 31.0C3.8 30.0 11.3 27.5 14.0 27.0C16.7 26.5 19.8 27.0 22.0 28.0C24.2 29.0 29.7 32.5 27.0 33.0" fill="none" stroke="#4e4e4e" stroke-width="1.2" stroke-linecap="round" opacity="0.8"/><path d="M54.0 16.0C51.7 13.8 60.0 12.7 63.0 13.0C66.0 13.3 69.7 15.8 72.0 18.0C74.3 20.2 80.0 26.3 77.0 26.0" fill="none" stroke="#4e4e4e" stroke-width="1.2" stroke-linecap="round" opacity="0.8"/><path d="M34.0 56.0C29.7 57.3 43.3 52.7 48.0 51.0C52.7 49.3 57.7 47.3 62.0 46.0C66.3 44.7 78.7 41.3 74.0 43.0" fill="none" stroke="#4e4e4e" stroke-width="1.2" stroke-linecap="round" opacity="0.8"/><path d="M14.0 10.0C12.3 10.2 19.0 7.7 22.0 7.0C25.0 6.3 33.3 5.5 32.0 6.0" fill="none" stroke="#4e4e4e" stroke-width="1.2" stroke-linecap="round" opacity="0.8"/><path d="M62.0 30.0C61.0 29.0 67.7 30.7 70.0 32.0C72.3 33.3 77.3 38.3 76.0 38.0" fill="none" stroke="#4e4e4e" stroke-width="1.2" stroke-linecap="round" opacity="0.8"/></g><g transform="translate(1942.3 449.9)"><path d="M81.5 30.8C82.0 26.7 80.8 22.0 78.5 18.0C76.2 14.0 71.7 9.8 67.5 7.0C63.3 4.2 58.3 2.7 53.5 1.5C48.7 0.3 43.2 0.0 38.5 0.0C33.8 0.0 29.5 0.5 25.5 1.5C21.5 2.5 17.8 3.6 14.5 6.0C11.2 8.4 7.9 12.0 5.5 16.0C3.1 20.0 0.8 26.3 0.0 30.0C-0.8 33.7 -0.4 35.6 0.5 38.0C1.4 40.4 2.7 42.8 5.5 44.5C8.3 46.2 12.8 46.8 17.5 48.0C22.2 49.2 28.5 50.4 33.5 52.0C38.5 53.6 44.0 56.7 47.5 57.5C51.0 58.3 52.8 57.9 54.5 57.0C56.2 56.1 57.6 53.6 58.0 52.0C58.4 50.4 55.6 48.5 57.0 47.5C58.4 46.5 63.4 46.8 66.5 46.0C69.6 45.2 73.0 45.0 75.5 42.5C78.0 40.0 81.0 34.9 81.5 30.8Z" fill="url(#bg)" stroke="#3c3c3c" stroke-width="0.9"/><path d="M56.5 47.0C60.0 49.0 50.0 42.3 46.5 40.0C43.0 37.7 39.0 35.0 35.5 33.0C32.0 31.0 22.0 25.7 25.5 28.0" fill="none" stroke="#4e4e4e" stroke-width="1.2" stroke-linecap="round" opacity="0.8"/><path d="M37.5 1.0C36.8 -2.2 39.7 8.5 40.5 12.0C41.3 15.5 41.8 18.8 42.5 22.0C43.2 25.2 45.3 34.5 44.5 31.0" fill="none" stroke="#4e4e4e" stroke-width="1.2" stroke-linecap="round" opacity="0.8"/><path d="M52.5 54.0C56.8 55.3 44.0 49.8 39.5 48.0C35.0 46.2 29.8 44.3 25.5 43.0C21.2 41.7 9.0 38.2 13.5 40.0" fill="none" stroke="#4e4e4e" stroke-width="1.2" stroke-linecap="round" opacity="0.8"/><path d="M29.5 2.0C29.3 0.3 31.0 10.3 31.5 14.0C32.0 17.7 32.8 26.0 32.5 24.0" fill="none" stroke="#4e4e4e" stroke-width="1.2" stroke-linecap="round" opacity="0.8"/><path d="M73.5 22.0C75.5 22.3 67.2 17.3 63.5 16.0C59.8 14.7 49.8 13.0 51.5 14.0" fill="none" stroke="#4e4e4e" stroke-width="1.2" stroke-linecap="round" opacity="0.8"/><path d="M75.5 31.0C77.7 30.0 70.2 27.5 67.5 27.0C64.8 26.5 61.7 27.0 59.5 28.0C57.3 29.0 51.8 32.5 54.5 33.0" fill="none" stroke="#4e4e4e" stroke-width="1.2" stroke-linecap="round" opacity="0.8"/><path d="M27.5 16.0C29.8 13.8 21.5 12.7 18.5 13.0C15.5 13.3 11.8 15.8 9.5 18.0C7.2 20.2 1.5 26.3 4.5 26.0" fill="none" stroke="#4e4e4e" stroke-width="1.2" stroke-linecap="round" opacity="0.8"/><path d="M47.5 56.0C51.8 57.3 38.2 52.7 33.5 51.0C28.8 49.3 23.8 47.3 19.5 46.0C15.2 44.7 2.8 41.3 7.5 43.0" fill="none" stroke="#4e4e4e" stroke-width="1.2" stroke-linecap="round" opacity="0.8"/><path d="M67.5 10.0C69.2 10.2 62.5 7.7 59.5 7.0C56.5 6.3 48.2 5.5 49.5 6.0" fill="none" stroke="#4e4e4e" stroke-width="1.2" stroke-linecap="round" opacity="0.8"/><path d="M19.5 30.0C20.5 29.0 13.8 30.7 11.5 32.0C9.2 33.3 4.2 38.3 5.5 38.0" fill="none" stroke="#4e4e4e" stroke-width="1.2" stroke-linecap="round" opacity="0.8"/></g><g transform="translate(1858.3 509.4)"><path d="M0.0 31.9C0.0 28.9 1.0 23.8 3.0 20.0C5.0 16.2 8.3 11.9 12.0 9.0C15.7 6.1 20.3 4.0 25.0 2.5C29.7 1.0 35.0 0.2 40.0 0.0C45.0 -0.2 50.3 0.0 55.0 1.0C59.7 2.0 64.3 3.5 68.0 6.0C71.7 8.5 74.8 12.0 77.0 16.0C79.2 20.0 81.2 26.0 81.5 30.0C81.8 34.0 80.6 37.4 79.0 40.0C77.4 42.6 75.2 44.2 72.0 45.5C68.8 46.8 62.2 46.9 60.0 48.0C57.8 49.1 59.3 50.5 58.5 52.0C57.7 53.5 56.4 56.0 55.0 57.0C53.6 58.0 51.8 58.5 50.0 58.3C48.2 58.1 46.5 57.4 44.0 56.0C41.5 54.6 38.7 51.7 35.0 50.0C31.3 48.3 26.2 47.3 22.0 46.0C17.8 44.7 13.2 43.3 10.0 42.0C6.8 40.7 4.7 39.7 3.0 38.0C1.3 36.3 0.0 34.9 0.0 31.9Z" fill="url(#bg2)" stroke="#3c3c3c" stroke-width="0.9"/><path d="M8.0 36.0C-1.8 33.7 12.3 25.8 16.0 22.0C19.7 18.2 25.0 14.8 30.0 13.0C35.0 11.2 40.7 10.7 46.0 11.0C51.3 11.3 57.7 12.7 62.0 15.0C66.3 17.3 69.8 21.5 72.0 25.0C74.2 28.5 85.7 34.2 75.0 36.0" fill="none" stroke="#4e4e4e" stroke-width="1.2" stroke-linecap="round" opacity="0.8"/><path d="M10.0 40.0C6.0 38.5 18.0 40.3 22.0 41.0C26.0 41.7 30.0 42.5 34.0 44.0C38.0 45.5 50.0 50.7 46.0 50.0" fill="none" stroke="#4e4e4e" stroke-width="1.2" stroke-linecap="round" opacity="0.8"/><path d="M24.0 34.0C24.7 31.8 31.7 28.3 36.0 27.0C40.3 25.7 45.7 25.5 50.0 26.0C54.3 26.5 59.7 28.2 62.0 30.0C64.3 31.8 65.0 35.3 64.0 37.0C63.0 38.7 59.3 39.8 56.0 40.0C52.7 40.2 48.0 38.0 44.0 38.0C40.0 38.0 35.3 40.7 32.0 40.0C28.7 39.3 23.3 36.2 24.0 34.0Z" fill="#c9c9c9" stroke="#8a8a8a" stroke-width="0.6" opacity="0.8"/></g><g transform="translate(1942.3 509.4)"><path d="M81.5 31.9C81.5 28.9 80.5 23.8 78.5 20.0C76.5 16.2 73.2 11.9 69.5 9.0C65.8 6.1 61.2 4.0 56.5 2.5C51.8 1.0 46.5 0.2 41.5 0.0C36.5 -0.2 31.2 0.0 26.5 1.0C21.8 2.0 17.2 3.5 13.5 6.0C9.8 8.5 6.8 12.0 4.5 16.0C2.2 20.0 0.3 26.0 0.0 30.0C-0.3 34.0 0.9 37.4 2.5 40.0C4.1 42.6 6.3 44.2 9.5 45.5C12.7 46.8 19.2 46.9 21.5 48.0C23.8 49.1 22.2 50.5 23.0 52.0C23.8 53.5 25.1 56.0 26.5 57.0C27.9 58.0 29.7 58.5 31.5 58.3C33.3 58.1 35.0 57.4 37.5 56.0C40.0 54.6 42.8 51.7 46.5 50.0C50.2 48.3 55.3 47.3 59.5 46.0C63.7 44.7 68.3 43.3 71.5 42.0C74.7 40.7 76.8 39.7 78.5 38.0C80.2 36.3 81.5 34.9 81.5 31.9Z" fill="url(#bg2)" stroke="#3c3c3c" stroke-width="0.9"/><path d="M73.5 36.0C83.3 33.7 69.2 25.8 65.5 22.0C61.8 18.2 56.5 14.8 51.5 13.0C46.5 11.2 40.8 10.7 35.5 11.0C30.2 11.3 23.8 12.7 19.5 15.0C15.2 17.3 11.7 21.5 9.5 25.0C7.3 28.5 -4.2 34.2 6.5 36.0" fill="none" stroke="#4e4e4e" stroke-width="1.2" stroke-linecap="round" opacity="0.8"/><path d="M71.5 40.0C75.5 38.5 63.5 40.3 59.5 41.0C55.5 41.7 51.5 42.5 47.5 44.0C43.5 45.5 31.5 50.7 35.5 50.0" fill="none" stroke="#4e4e4e" stroke-width="1.2" stroke-linecap="round" opacity="0.8"/><path d="M57.5 34.0C56.8 31.8 49.8 28.3 45.5 27.0C41.2 25.7 35.8 25.5 31.5 26.0C27.2 26.5 21.8 28.2 19.5 30.0C17.2 31.8 16.5 35.3 17.5 37.0C18.5 38.7 22.2 39.8 25.5 40.0C28.8 40.2 33.5 38.0 37.5 38.0C41.5 38.0 46.2 40.7 49.5 40.0C52.8 39.3 58.2 36.2 57.5 34.0Z" fill="#c9c9c9" stroke="#8a8a8a" stroke-width="0.6" opacity="0.8"/></g><polygon points="1865.3,489.9 1867.3,484.9 1871.3,482.9 1876.3,482.4 1880.3,484.9 1881.8,489.9 1878.3,494.9 1872.3,496.9 1867.3,494.9" fill="#f02222" stroke="#e01818" stroke-width="0.8" stroke-linejoin="round"/><polygon points="1882.8,482.9 1885.3,482.4 1886.3,484.9 1883.8,485.9" fill="#f02222" stroke="#e01818" stroke-width="0.8" stroke-linejoin="round"/><polygon points="1883.3,493.9 1886.3,491.4 1890.3,492.4 1889.3,496.9 1885.3,498.9" fill="#f02222" stroke="#e01818" stroke-width="0.8" stroke-linejoin="round"/><polygon points="1884.3,498.9 1890.3,496.9 1898.3,497.4 1905.3,496.4 1908.3,497.9 1904.3,500.9 1896.3,504.9 1888.3,508.4 1885.3,506.9" fill="#f02222" stroke="#e01818" stroke-width="0.8" stroke-linejoin="round"/><polygon points="1911.3,480.9 1914.3,479.9 1915.8,482.9 1913.3,484.9" fill="#f02222" stroke="#e01818" stroke-width="0.8" stroke-linejoin="round"/><polygon points="1912.3,485.9 1916.3,484.9 1917.8,487.9 1915.3,489.9" fill="#f02222" stroke="#e01818" stroke-width="0.8" stroke-linejoin="round"/><polygon points="1911.3,489.9 1914.3,489.4 1915.3,492.4 1912.3,492.9" fill="#f02222" stroke="#e01818" stroke-width="0.8" stroke-linejoin="round"/><polygon points="1894.3,520.4 1902.3,519.4 1910.3,519.0 1914.1,521.4 1913.3,526.4 1910.3,530.4 1902.3,532.3 1896.3,529.4 1895.3,524.4" fill="#f02222" stroke="#e01818" stroke-width="0.8" stroke-linejoin="round"/><polygon points="1917.3,532.4 1920.3,531.7 1921.6,534.4 1919.3,537.0 1917.3,535.4" fill="#f02222" stroke="#e01818" stroke-width="0.8" stroke-linejoin="round"/><polygon points="1913.3,549.4 1916.3,545.4 1921.3,543.4 1923.3,545.4 1920.3,549.4 1916.3,553.0" fill="#f02222" stroke="#e01818" stroke-width="0.8" stroke-linejoin="round"/><polygon points="1874.8,540.2 1883.3,538.9 1891.3,539.9 1889.3,546.4 1896.3,551.4 1905.3,555.4 1915.3,558.4 1917.3,562.4 1914.3,566.4 1908.3,566.4 1900.3,561.4 1888.3,555.4 1878.3,548.4" fill="#f02222" stroke="#e01818" stroke-width="0.8" stroke-linejoin="round"/><polygon points="1958.8,545.4 1963.3,544.0 1967.3,546.4 1970.3,551.4 1968.3,553.4 1963.3,550.4" fill="#f02222" stroke="#e01818" stroke-width="0.8" stroke-linejoin="round"/><polygon points="1992.7,540.9 1994.8,539.7 1996.0,541.9 1994.3,542.9" fill="#f02222" stroke="#e01818" stroke-width="0.8" stroke-linejoin="round"/><path d="M1681.1 432.0v8.8H1721.0v-8.8" stroke="#000" stroke-width="2.4" fill="none"/><text x="1443.7" y="591.6" font-size="20" text-anchor="end">-60</text><text x="1443.7" y="539.9" font-size="20" text-anchor="end">-50</text><text x="1443.7" y="488.2" font-size="20" text-anchor="end">-40</text><text x="1443.7" y="436.6" font-size="20" text-anchor="end">-30</text><text x="1443.7" y="384.9" font-size="20" text-anchor="end">-20</text><text x="1443.7" y="333.2" font-size="20" text-anchor="end">-10</text><text x="1443.7" y="281.6" font-size="20" text-anchor="end">0</text><text x="1443.7" y="229.9" font-size="20" text-anchor="end">10</text><text x="1443.7" y="178.2" font-size="20" text-anchor="end">20</text><text x="1443.7" y="126.6" font-size="20" text-anchor="end">30</text><text x="1468.8" y="608.4" font-size="20" text-anchor="middle">0</text><text x="1551.8" y="608.4" font-size="20" text-anchor="middle">0.5</text><text x="1637.0" y="608.4" font-size="20" text-anchor="middle">1</text><text x="1721.2" y="608.4" font-size="20" text-anchor="middle">1.5</text><text x="1807.4" y="608.4" font-size="20" text-anchor="middle">2</text><text x="1890.3" y="608.4" font-size="20" text-anchor="middle">2.5</text><text x="1977.1" y="608.4" font-size="20" text-anchor="middle">3</text><text x="1740.2" y="635.9" font-size="21.5" text-anchor="middle">Time (s)</text><text transform="translate(1402.6 375.0) rotate(-90)" font-size="21.5" text-anchor="middle">Neural activity index</text><text x="1676.1" y="93.1" font-size="31" textLength="120.9" lengthAdjust="spacingAndGlyphs">Novel T3</text><text transform="translate(1452.2 678.4) scale(1.280 1)" font-size="29.45" fill="#000" font-family="'Noto Sans CJK JP', sans-serif">&#9834;</text><text transform="translate(1517.4 678.4) scale(1.280 1)" font-size="29.45" fill="#000" font-family="'Noto Sans CJK JP', sans-serif">&#9834;</text><text transform="translate(1576.1 678.4) scale(1.280 1)" font-size="29.45" fill="#000" font-family="'Noto Sans CJK JP', sans-serif">&#9834;</text><text transform="translate(1638.6 678.4) scale(1.280 1)" font-size="29.45" fill="#e8262a" font-family="'Noto Sans CJK JP', sans-serif">&#9834;</text><text transform="translate(1699.3 678.4) scale(1.280 1)" font-size="29.45" fill="#e8262a" font-family="'Noto Sans CJK JP', sans-serif">&#9834;</text><clipPath id="c10"><rect x="68.6" y="838.5" width="594.0" height="469.0"/></clipPath><g clip-path="url(#c10)"><rect x="158.5" y="838.5" width="7.3" height="469.0" fill="#dcdcdd"/><rect x="196.4" y="838.5" width="11.4" height="469.0" fill="#dcdcdd"/><path d="M85.6 838.5V1307.5M102.5 838.5V1307.5M119.5 838.5V1307.5M136.5 838.5V1307.5M153.5 838.5V1307.5M170.4 838.5V1307.5M187.4 838.5V1307.5M204.4 838.5V1307.5M221.3 838.5V1307.5M238.3 838.5V1307.5M255.3 838.5V1307.5M272.3 838.5V1307.5M289.2 838.5V1307.5M306.2 838.5V1307.5M323.2 838.5V1307.5M340.1 838.5V1307.5M357.1 838.5V1307.5M374.1 838.5V1307.5M391.1 838.5V1307.5M408.0 838.5V1307.5M425.0 838.5V1307.5M442.0 838.5V1307.5M458.9 838.5V1307.5M475.9 838.5V1307.5M492.9 838.5V1307.5M509.9 838.5V1307.5M526.8 838.5V1307.5M543.8 838.5V1307.5M560.8 838.5V1307.5M577.7 838.5V1307.5M594.7 838.5V1307.5M611.7 838.5V1307.5M628.7 838.5V1307.5M645.6 838.5V1307.5M68.6 1297.1H662.6M68.6 1286.7H662.6M68.6 1276.2H662.6M68.6 1265.8H662.6M68.6 1255.4H662.6M68.6 1245.0H662.6M68.6 1234.5H662.6M68.6 1224.1H662.6M68.6 1213.7H662.6M68.6 1203.3H662.6M68.6 1192.9H662.6M68.6 1182.4H662.6M68.6 1172.0H662.6M68.6 1161.6H662.6M68.6 1151.2H662.6M68.6 1140.7H662.6M68.6 1130.3H662.6M68.6 1119.9H662.6M68.6 1109.5H662.6M68.6 1099.1H662.6M68.6 1088.6H662.6M68.6 1078.2H662.6M68.6 1067.8H662.6M68.6 1057.4H662.6M68.6 1046.9H662.6M68.6 1036.5H662.6M68.6 1026.1H662.6M68.6 1015.7H662.6M68.6 1005.3H662.6M68.6 994.8H662.6M68.6 984.4H662.6M68.6 974.0H662.6M68.6 963.6H662.6M68.6 953.1H662.6M68.6 942.7H662.6M68.6 932.3H662.6M68.6 921.9H662.6M68.6 911.5H662.6M68.6 901.0H662.6M68.6 890.6H662.6M68.6 880.2H662.6M68.6 869.8H662.6M68.6 859.3H662.6M68.6 848.9H662.6" stroke="#bdbdbd" stroke-width="0.9" stroke-dasharray="1.2 2.3" fill="none"/><path transform="translate(68.60 838.50) scale(1.35771 0.1)" d="M0 1637l1-126 1 110 1-355 1 49 1-22 1-9 1 143 1 181 1-383 1 173 1-293 1 134 1-499 1 305 1-107 1-71 1-153 1-6 1 308 1 633 1 634 1 374 1 570 1-375 1-434 1-79 1-251 1-309 1-358 1-306 1-110 1-39 1-156 1 40 1 40 1 74 1 87 1-18 1 162 1-225 1 506 1 178 1 119 1 25 1 19 1-202 1-103 1-139 1-187 1-63 1-297 1 215 1 93 1-319 1 119 1 49 1 106 1-50 1-31 1 18 1 140 1 259 1 73 1-48 1 97 1-8 1-94 1-89 1-356 1-172 1-225 1 264 1 137 1 215 1 318 1-38 1 362 1-102 1 66 1 200 1 55 1 184 1-276 1 28 1-263 1-391 1 59 1 195 1 70 1 33 1-88 1 86 1-376 1 201 1-242 1 129 1 99 1-2 1-63 1-403 1-56 1-15 1 194 1-87 1-24 1 43 1 134 1 34 1-254 1 178 1 26 1-495 1 221 1-10 1-56 1 115 1-88 1-4 1 155 1 306 1 266 1 177 1-162 1 197 1 30 1-61 1-85 1-80 1-257 1 381 1 163 1-236 1-104 1-63 1-90 1-34 1-45 1-158 1-21 1-1 1 137 1-23 1-132 1 4 1-86 1 71 1-26 1 78 1 48 1-275 1-205 1 230 1 17 1 127 1-59 1-118 1 146 1-65 1 139 1 3 1-254 1 11 1-100 1-44 1-149 1 469 1 248 1-79 1 240 1 39 1-62 1-18 1 60 1-13 1 57 1-398 1-118 1 187 1 61 1-68 1 139 1-134 1-94 1 28 1-16 1 223 1-462 1 512 1-148 1 85 1-34 1-64 1-84 1 104 1-14 1-144 1 73 1 120 1-210 1 27 1 193 1-190 1 410 1 26 1-139 1 25 1-290 1-224 1-191 1-170 1-43 1 299 1 329 1 178 1 490 1 62 1-135 1-20 1-14 1 51 1-41 1-172 1 115 1-125 1-50 1-135 1-106 1 34 1-24 1-130 1-67 1 73 1 20 1-186 1 151 1 101 1-16 1-148 1-332 1-16 1-57 1 87 1 81 1-46 1 191 1 22 1-70 1-447 1 330 1 101 1-435 1 322 1 39 1-121 1 66 1-59 1 204 1 165 1 29 1 27 1 71 1-130 1-3 1-16 1-268 1 115 1 117 1 204 1 168 1 72 1 189 1-72 1-146 1-295 1 22 1-75 1 57 1-187 1 68 1 67 1 45 1-219 1 115 1 73 1-191 1 127 1-38 1-3 1 159 1 14 1-5 1 280 1 71 1-107 1-21 1 1 1-81 1-24 1-108 1 90 1 129 1 32 1 207 1 81 1-29 1-81 1-251 1 47 1 65 1-13 1 95 1-51 1-63 1 195 1-59 1 133 1-236 1-51 1-39 1 174 1-165 1-178 1 72 1-21 1-21 1 52 1 70 1 144 1-20 1 50 1-31 1 116 1 20 1 31 1-78 1-22 1-61 1 130 1 130 1-130 1 26 1-67 1-206 1 125 1-134 1 32 1-71 1-138 1 210 1 120 1 67 1-35 1-19 1-2 1-59 1-25 1-242 1-45 1 11 1-108 1-103 1-191 1 36 1 222 1 150 1 242 1 18 1 34 1-29 1-52 1-118 1-354 1 197 1-109 1-41 1 292 1 23 1 79 1 196 1-6 1 56 1-11 1 96 1 13 1-227 1 201 1-51 1-287 1 176 1-19 1-12 1 7 1 121 1-39 1-18 1 201 1-174 1 85 1-342 1 259 1-302 1-131 1-117 1 378 1-5 1 323 1-132 1-64 1-285 1-93 1 240 1-257 1 74 1 37 1 142 1-81 1 62 1 48 1-56 1-33 1 39 1-261 1 404 1-47 1-202 1 71 1 27 1 126 1-263 1 267 1 31 1 60 1 18 1 187 1-620 1 304 1 7V2280l-1 144 -1-90 -1 258 -1 54 -1-197 -1-71 -1-225 -1-21 -1-239 -1-73 -1 141 -1 60 -1 224 -1-83 -1-49 -1 47 -1 84 -1-22 -1-102 -1-196 -1-147 -1 128 -1-73 -1 20 -1 287 -1-229 -1 109 -1-142 -1 186 -1 186 -1 45 -1-295 -1-82 -1-144 -1 122 -1 26 -1 270 -1-41 -1 179 -1 19 -1 168 -1-103 -1 29 -1-94 -1-72 -1-135 -1-91 -1 95 -1 137 -1 170 -1-33 -1-49 -1-129 -1 87 -1-80 -1-80 -1-26 -1-71 -1-113 -1-22 -1-31 -1 13 -1-105 -1 33 -1-2 -1 363 -1-316 -1 64 -1 17 -1-200 -1-35 -1-38 -1 124 -1-40 -1 2 -1-3 -1-107 -1 2 -1 278 -1 603 -1-349 -1-44 -1-2 -1 19 -1 165 -1 159 -1-82 -1-276 -1-194 -1-43 -1 73 -1 126 -1 35 -1 64 -1 144 -1 35 -1-101 -1 39 -1-139 -1-6 -1-53 -1 133 -1 279 -1-265 -1-11 -1-29 -1-133 -1-68 -1 7 -1-103 -1 42 -1-77 -1-201 -1 94 -1 28 -1 210 -1 76 -1-184 -1 53 -1 170 -1 328 -1 32 -1-83 -1 216 -1-420 -1-75 -1 347 -1-510 -1 42 -1 242 -1 40 -1 119 -1-141 -1-84 -1-110 -1 26 -1 50 -1-302 -1 33 -1 74 -1 128 -1-46 -1 3 -1-67 -1 203 -1-377 -1 194 -1-157 -1-75 -1 9 -1 91 -1-123 -1-204 -1-119 -1 172 -1-46 -1 234 -1-124 -1 32 -1 42 -1 13 -1 177 -1 270 -1-345 -1 35 -1 214 -1 133 -1-156 -1-231 -1-300 -1 109 -1 11 -1 201 -1-72 -1 72 -1-63 -1-162 -1-176 -1 124 -1 190 -1-400 -1 7 -1-272 -1-56 -1 54 -1 152 -1 211 -1-211 -1-31 -1 116 -1 21 -1-61 -1 157 -1-23 -1-74 -1-51 -1-139 -1 233 -1 177 -1 245 -1-181 -1 359 -1-281 -1 525 -1-229 -1-145 -1 19 -1 166 -1-116 -1-107 -1-10 -1 274 -1-133 -1 33 -1-22 -1 158 -1 193 -1 80 -1 185 -1 80 -1 116 -1-303 -1-505 -1-98 -1-289 -1-330 -1 127 -1 166 -1 92 -1 113 -1 121 -1 207 -1 13 -1-42 -1 51 -1-71 -1-45 -1-139 -1 138 -1-150 -1-119 -1 121 -1 259 -1-32 -1 229 -1-319 -1-122 -1-59 -1 96 -1 20 -1-227 -1 314 -1-307 -1 169 -1-5 -1-53 -1 108 -1 435 -1-386 -1-86 -1-8 -1 53 -1 68 -1 197 -1-1 -1 14 -1-94 -1-297 -1-5 -1-43 -1-117 -1-211 -1-111 -1-4 -1-74 -1 109 -1 2 -1 104 -1 40 -1 174 -1-197 -1 72 -1 17 -1-134 -1 46 -1 128 -1 12 -1 82 -1 3 -1-220 -1 185 -1 19 -1 166 -1 115 -1-27 -1-39 -1-79 -1 25 -1-55 -1 119 -1-50 -1 125 -1 129 -1 130 -1 109 -1 273 -1-149 -1-3 -1-132 -1-179 -1 155 -1 88 -1 63 -1 360 -1-582 -1-40 -1-237 -1-216 -1-379 -1-49 -1 134 -1 21 -1 307 -1-8 -1-155 -1 287 -1-70 -1 161 -1-199 -1-40 -1-94 -1 109 -1-236 -1-50 -1-142 -1 156 -1 84 -1 339 -1-90 -1 227 -1-145 -1 151 -1-18 -1-170 -1 141 -1 38 -1 98 -1 226 -1-97 -1-163 -1-27 -1 111 -1 134 -1 387 -1-57 -1 190 -1 22 -1-158 -1-73 -1 39 -1-180 -1-203 -1-197 -1-555 -1-141 -1-79 -1 194 -1-102 -1 346 -1 308 -1 60 -1-101 -1-139 -1-2 -1 38 -1-189 -1 0 -1-139 -1-137 -1 71 -1-36 -1-92 -1 360 -1-117 -1 76 -1 166 -1 145 -1-92 -1 91 -1 368 -1-245 -1 380 -1-81 -1-83 -1-265 -1-192 -1-38 -1-168 -1-51 -1 0 -1-236 -1-25 -1 214 -1-18 -1 215 -1-259 -1 629 -1-24 -1 332 -1 63 -1 438 -1 96 -1 330 -1 368 -1-555 -1-638 -1-657 -1-533 -1 61 -1-95 -1 101 -1-98 -1 253 -1 54 -1 188 -1-35 -1 95 -1-155 -1 145 -1-124 -1-60 -1 92 -1-111 -1 211 -1 114 -1 152 -1 1z" fill="#a2c0e4" fill-opacity="0.7"/><path transform="translate(68.60 838.50) scale(1.35771 0.1)" d="M0 1266l1-1 1-97 1 177 1 7 1 285 1-67 1-112 1-78 1-58 1 115 1-124 1-91 1 143 1 93 1-78 1-128 1-181 1-99 1 185 1 208 1 616 1 434 1 235 1 269 1 345 1-316 1-495 1-379 1-341 1-421 1 42 1-143 1 50 1 20 1-42 1 211 1 21 1 7 1-19 1 108 1-79 1 74 1-31 1 73 1-226 1-38 1 1 1 40 1-82 1 34 1-251 1 144 1-60 1-17 1 116 1-88 1 134 1-293 1 70 1 9 1-25 1 25 1-4 1-4 1 118 1-177 1 270 1-131 1-15 1-82 1 3 1-69 1 150 1 47 1 258 1 149 1 255 1-247 1 59 1-17 1-38 1-57 1-93 1-8 1-255 1-46 1-52 1 124 1 36 1 42 1 78 1-111 1-199 1 6 1 98 1 8 1-190 1-78 1 123 1 76 1 168 1-40 1 37 1-21 1-52 1-71 1-109 1 112 1-40 1 127 1-166 1 107 1-93 1-74 1 62 1-117 1 30 1 36 1 72 1 57 1 169 1 164 1-84 1-29 1 22 1-171 1-120 1 41 1 152 1 119 1 86 1 28 1-34 1 60 1-19 1 44 1 29 1-22 1-167 1-354 1 74 1 60 1-12 1 151 1-133 1-61 1-84 1-55 1-44 1 99 1-99 1 172 1-7 1 18 1 78 1-99 1 234 1-109 1-79 1-27 1 54 1 31 1-60 1 35 1 48 1 68 1 125 1 209 1 125 1-173 1-27 1-111 1 91 1 57 1 6 1 47 1-15 1 43 1-46 1-60 1-48 1 97 1 29 1 21 1-51 1 118 1-176 1-46 1-57 1-92 1 19 1-323 1-24 1-60 1-101 1 161 1 64 1 57 1-98 1 147 1-99 1 126 1-2 1-81 1 32 1-26 1 74 1 7 1-75 1-93 1 48 1-127 1 270 1 339 1 148 1 84 1-117 1-8 1 57 1-111 1-311 1 145 1-117 1 119 1-150 1-36 1 33 1-62 1-21 1 26 1-120 1-61 1-120 1 3 1-149 1 121 1-35 1-157 1-61 1-68 1-26 1 230 1-72 1 20 1 180 1 10 1 158 1-74 1 228 1-139 1 100 1 27 1-123 1 239 1-71 1-35 1 38 1-36 1 134 1 199 1-124 1-51 1 43 1 38 1 7 1-47 1-150 1 106 1-185 1 6 1-22 1-4 1 75 1-9 1 91 1-30 1 54 1-65 1 59 1 35 1-159 1-45 1 102 1 50 1-17 1-82 1 24 1-5 1 27 1-77 1 83 1 11 1-76 1-33 1 40 1 108 1 5 1-84 1 74 1 19 1 150 1-137 1 31 1 142 1 28 1 54 1 23 1 140 1 13 1-91 1-57 1-75 1-5 1-16 1 84 1-88 1-160 1 63 1 12 1 75 1 19 1-7 1-36 1 16 1 110 1 18 1 132 1-272 1 41 1 14 1 22 1 11 1 25 1-68 1 70 1 15 1 9 1 55 1-103 1 21 1-202 1 93 1-19 1 5 1 110 1-190 1 149 1-114 1 80 1-4 1 62 1-22 1-212 1-138 1 49 1 82 1-80 1 10 1-17 1-69 1 103 1 148 1 31 1 89 1-276 1 47 1 5 1-13 1-51 1 121 1 50 1-54 1 29 1-87 1 27 1 53 1-195 1 199 1 28 1 141 1-11 1-53 1-264 1 61 1-186 1-14 1 54 1 78 1 99 1 94 1 16 1 39 1-144 1 76 1-116 1-3 1-109 1-86 1-115 1-19 1-8 1 68 1 53 1 101 1-21 1 147 1-103 1-19 1-50 1 10 1-7 1 70 1 77 1-27 1-145 1 118 1 111 1 10 1 53 1-53 1 15 1-31 1 28 1 51 1-57 1 91 1-294 1-95 1 168 1 5 1 30 1-80 1-74 1-47 1-6 1 20 1 23V1550l-1 105 -1 59 -1 97 -1-34 -1 46 -1-142 -1-174 -1 35 -1 30 -1-27 -1 261 -1-29 -1 142 -1-42 -1-24 -1 1 -1-66 -1 23 -1-80 -1 119 -1-45 -1-40 -1 83 -1-103 -1 10 -1-65 -1 30 -1-63 -1 7 -1 22 -1 116 -1-36 -1 35 -1-108 -1-121 -1 43 -1 37 -1 125 -1 92 -1-64 -1-41 -1 97 -1 134 -1 54 -1 67 -1-28 -1-77 -1 13 -1-314 -1 61 -1-26 -1-30 -1 199 -1 60 -1 28 -1 46 -1 11 -1-101 -1 25 -1-188 -1 137 -1-84 -1-60 -1-49 -1-14 -1 266 -1-213 -1-17 -1 220 -1 155 -1-67 -1 148 -1-82 -1-51 -1 31 -1-327 -1 181 -1-313 -1 99 -1-54 -1 104 -1 44 -1 23 -1 2 -1 48 -1 108 -1 44 -1 40 -1-143 -1 64 -1-23 -1 41 -1-40 -1 16 -1 47 -1 8 -1 128 -1-166 -1 51 -1 180 -1-49 -1-2 -1-179 -1 152 -1-76 -1-53 -1 142 -1-17 -1-22 -1 89 -1-130 -1 121 -1-62 -1-46 -1 4 -1-103 -1 116 -1-123 -1-13 -1-132 -1 37 -1 59 -1-48 -1 35 -1-3 -1 47 -1 92 -1 118 -1-61 -1 9 -1-82 -1 2 -1 30 -1-164 -1 126 -1-88 -1-150 -1-32 -1-56 -1 28 -1 75 -1-143 -1 8 -1 12 -1 72 -1-55 -1 276 -1-149 -1 86 -1 5 -1-72 -1-14 -1 130 -1-13 -1-131 -1-165 -1 85 -1 8 -1-116 -1 56 -1-22 -1 60 -1-111 -1-5 -1 23 -1 41 -1-46 -1 90 -1 38 -1-63 -1 97 -1-14 -1-68 -1 98 -1 129 -1-135 -1 118 -1-99 -1-75 -1 6 -1-65 -1-72 -1-79 -1 2 -1-5 -1 9 -1-95 -1 76 -1-178 -1 253 -1-241 -1 193 -1-149 -1-74 -1-52 -1-102 -1-99 -1 54 -1-67 -1 80 -1 13 -1 56 -1 217 -1 59 -1 151 -1 70 -1-73 -1 43 -1 118 -1 86 -1-124 -1 145 -1-45 -1-18 -1-45 -1 124 -1 93 -1-94 -1 40 -1 144 -1 202 -1-236 -1-301 -1-358 -1-52 -1 188 -1-49 -1-4 -1-1 -1 118 -1-113 -1 88 -1-19 -1 47 -1-28 -1 32 -1 30 -1 23 -1-61 -1-92 -1-105 -1-93 -1 187 -1 68 -1-89 -1 78 -1 54 -1 306 -1 115 -1 71 -1-37 -1-48 -1 55 -1-119 -1-72 -1 70 -1 70 -1 1 -1 37 -1 36 -1-221 -1 21 -1-79 -1 255 -1-217 -1-43 -1 61 -1 112 -1 116 -1-256 -1-43 -1 261 -1-473 -1-114 -1 15 -1 28 -1 21 -1 109 -1 49 -1-107 -1-140 -1-110 -1 121 -1 47 -1-93 -1-94 -1-57 -1 55 -1 175 -1 54 -1-18 -1-117 -1 141 -1-16 -1 163 -1 1 -1 53 -1 129 -1 47 -1 85 -1-48 -1-60 -1 122 -1-155 -1-233 -1-38 -1 3 -1 48 -1 36 -1-95 -1 93 -1 69 -1-149 -1 122 -1 24 -1-172 -1-3 -1-57 -1-158 -1 49 -1-172 -1 44 -1-130 -1 145 -1 28 -1 79 -1 109 -1 133 -1-10 -1-86 -1-93 -1 90 -1 69 -1-69 -1 63 -1 94 -1-19 -1-50 -1-77 -1-240 -1 90 -1 135 -1 66 -1 78 -1-48 -1 20 -1 5 -1 16 -1 33 -1-70 -1-57 -1 33 -1 110 -1 75 -1 152 -1 137 -1-39 -1 119 -1-51 -1-15 -1-157 -1-141 -1-221 -1 131 -1-207 -1 44 -1-109 -1 91 -1-106 -1 240 -1-41 -1 36 -1-36 -1-23 -1-115 -1 16 -1 23 -1 19 -1-114 -1 120 -1-12 -1 90 -1-31 -1-1 -1 13 -1 78 -1-30 -1 50 -1-97 -1-14 -1 27 -1 59 -1 222 -1-10 -1 33 -1 61 -1 207 -1-161 -1 32 -1-190 -1-148 -1-25 -1-140 -1-2 -1-224 -1 279 -1-92 -1 493 -1 479 -1 211 -1 392 -1 528 -1-240 -1-465 -1-288 -1-413 -1-571 -1-104 -1-319 -1 251 -1 22 -1 168 -1 159 -1 6 -1-124 -1 82 -1 48 -1-151 -1 48 -1 151 -1 137 -1-53 -1-231 -1-21 -1 2 -1-86 -1 102z" fill="#8680b6" fill-opacity="0.7"/><path transform="translate(68.60 838.50) scale(1.35771 0.1)" d="M0 1136l1-88 1 227 1 119 1 28 1 64 1-163 1 178 1-120 1 170 1-144 1 6 1 31 1-20 1-14 1-53 1-68 1-25 1-80 1 178 1 188 1 309 1 357 1 434 1 432 1 127 1-412 1-399 1-462 1-656 1 151 1-43 1-59 1-33 1 9 1 174 1 75 1-17 1 146 1 38 1-43 1-112 1-36 1-135 1-125 1-168 1-106 1-117 1 38 1-11 1 148 1 139 1 102 1 212 1-128 1-91 1 41 1-35 1 43 1 58 1 115 1-29 1 169 1 83 1 83 1 76 1 150 1 147 1-188 1 17 1-133 1-118 1-45 1-103 1-109 1 55 1 167 1 55 1 169 1 33 1 115 1-196 1-233 1-136 1-99 1 81 1-127 1-58 1-76 1 63 1-77 1-62 1-165 1-87 1-158 1 29 1-104 1-58 1-220 1 93 1 142 1 89 1-60 1 77 1 136 1 42 1 12 1 42 1-33 1 39 1 163 1 187 1-46 1-25 1 18 1 128 1-39 1-83 1-73 1-38 1-1 1 24 1 42 1 229 1 61 1 273 1 1 1 25 1-128 1-38 1-42 1-115 1-31 1-26 1 24 1-138 1 39 1-2 1-138 1-84 1-52 1-77 1 34 1 37 1-130 1-33 1-101 1-50 1-57 1-40 1 128 1 212 1 38 1 223 1-96 1 121 1-38 1 195 1 51 1 110 1-81 1-117 1-63 1-124 1 39 1 62 1 25 1 67 1 22 1 86 1 207 1 199 1-43 1-63 1-19 1-57 1-32 1 56 1-53 1-53 1-47 1-11 1-67 1-85 1-88 1-38 1-77 1-98 1-121 1 3 1-34 1-18 1-99 1-165 1 47 1 2 1 79 1 52 1 115 1 68 1 249 1-106 1-15 1 5 1 77 1 153 1 7 1-76 1-174 1-28 1-28 1 23 1 27 1 198 1 90 1 48 1 57 1 50 1 35 1-91 1 21 1-1 1-109 1 69 1-65 1-17 1-110 1-26 1-114 1-44 1-38 1-6 1-57 1-52 1-148 1-18 1 94 1-77 1-138 1-22 1-122 1 171 1 55 1 52 1-183 1 133 1-76 1 227 1 9 1 140 1 164 1 196 1 98 1 87 1 6 1-40 1-14 1-92 1 73 1 50 1 91 1 33 1-78 1 46 1 2 1-63 1-119 1-27 1-108 1-8 1-155 1 17 1-131 1-24 1-62 1 94 1-12 1-14 1-18 1-75 1 82 1-23 1 170 1 51 1 77 1-59 1-43 1-81 1-53 1-40 1 56 1 16 1-7 1 40 1-17 1 21 1-54 1 90 1-5 1-106 1 7 1 1 1 136 1 8 1 184 1-23 1-162 1 38 1 25 1-29 1 32 1 64 1 23 1-103 1 62 1 75 1 81 1 6 1-128 1 36 1-73 1 0 1-65 1 71 1 68 1-81 1 69 1-87 1 10 1 77 1 129 1 58 1-116 1-112 1-41 1 37 1-81 1 101 1-16 1 126 1 49 1-44 1-28 1-15 1-39 1-135 1 93 1-27 1-46 1 113 1-1 1 85 1-99 1-20 1-113 1 42 1 14 1 98 1 73 1 130 1-161 1 18 1 7 1-23 1-14 1 80 1-120 1-39 1-54 1 162 1-46 1-48 1-71 1 37 1-102 1 25 1-35 1-9 1 44 1 4 1-77 1 150 1 2 1 175 1-18 1-13 1-3 1-214 1-56 1-16 1 47 1 73 1 38 1-99 1 45 1-88 1 87 1-81 1 111 1-137 1-84 1 81 1 24 1-44 1 48 1-43 1 38 1-11 1-33 1-177 1 85 1 82 1 5 1-56 1-15 1 85 1 43 1-86 1-123 1-129 1 54 1-58 1 142 1 109 1 127 1-101 1 128 1-7 1-82 1 54 1 84 1 55 1-22 1-4 1-28 1-31 1-20 1-77V1616l-1 6 -1 103 -1 54 -1-18 -1-70 -1 88 -1-58 -1-26 -1 34 -1 51 -1-91 -1-4 -1-24 -1 13 -1-160 -1-6 -1-153 -1-27 -1 157 -1 146 -1 112 -1-141 -1-37 -1-165 -1 51 -1 4 -1 87 -1 63 -1 2 -1 44 -1 8 -1-82 -1 7 -1-96 -1 109 -1 19 -1 45 -1 28 -1 2 -1-103 -1 79 -1 75 -1 15 -1-7 -1 76 -1-113 -1 31 -1-54 -1-12 -1 135 -1 111 -1-75 -1 46 -1 119 -1-117 -1-22 -1-256 -1 39 -1-62 -1-28 -1 47 -1 118 -1-43 -1 127 -1-78 -1 100 -1 86 -1 79 -1-61 -1-81 -1-14 -1-39 -1 40 -1-14 -1 203 -1-66 -1 71 -1 37 -1-134 -1-43 -1-152 -1 62 -1-28 -1 153 -1-176 -1 85 -1 37 -1 14 -1-11 -1-42 -1 8 -1-10 -1-31 -1 199 -1-33 -1-47 -1 58 -1-104 -1-113 -1-26 -1 93 -1 105 -1-29 -1-56 -1 109 -1 8 -1-25 -1-123 -1 33 -1 81 -1-64 -1-125 -1-59 -1 80 -1-20 -1 81 -1 0 -1 153 -1-92 -1-48 -1-68 -1-127 -1 42 -1-90 -1 154 -1-67 -1 72 -1-44 -1 40 -1 17 -1 37 -1-71 -1-46 -1-11 -1 43 -1-103 -1-158 -1-19 -1 92 -1 123 -1 64 -1-44 -1-27 -1-131 -1 9 -1-65 -1 68 -1-33 -1 32 -1 14 -1-57 -1 36 -1-2 -1 2 -1 84 -1-125 -1-22 -1-52 -1 51 -1-38 -1 88 -1-98 -1 129 -1 22 -1 5 -1 4 -1 8 -1 69 -1 81 -1 172 -1-6 -1 73 -1 9 -1 44 -1 51 -1-41 -1 41 -1-47 -1 45 -1-112 -1 98 -1-108 -1 12 -1 115 -1-130 -1-173 -1-190 -1-143 -1-56 -1-97 -1-60 -1 93 -1-38 -1 31 -1-206 -1-101 -1-60 -1 161 -1-39 -1 17 -1 41 -1 2 -1 79 -1 205 -1 68 -1 18 -1 44 -1-29 -1 53 -1 20 -1 136 -1 57 -1 52 -1 104 -1-68 -1 57 -1-13 -1 57 -1 14 -1-83 -1-121 -1 26 -1-50 -1 7 -1-101 -1 7 -1 33 -1 7 -1-50 -1 106 -1-64 -1 5 -1-132 -1 38 -1-28 -1 9 -1 68 -1-153 -1-113 -1-56 -1-197 -1-41 -1 14 -1-106 -1 114 -1 148 -1 42 -1 112 -1 64 -1 135 -1 47 -1 30 -1 89 -1 47 -1 14 -1 204 -1-83 -1 56 -1 28 -1 142 -1 33 -1-1 -1 56 -1-24 -1 45 -1-39 -1-126 -1-148 -1-184 -1-125 -1-117 -1-4 -1 42 -1-16 -1 113 -1 72 -1 68 -1 61 -1-17 -1-172 -1-66 -1-27 -1-73 -1-30 -1-149 -1-16 -1-191 -1-130 -1 10 -1 26 -1 171 -1 3 -1-1 -1 133 -1-26 -1 64 -1 52 -1 81 -1-18 -1 68 -1 111 -1 61 -1 118 -1-34 -1 44 -1 100 -1-59 -1 59 -1-52 -1 139 -1 1 -1 5 -1-161 -1-144 -1-103 -1-162 -1-125 -1-54 -1 133 -1 134 -1 69 -1-1 -1 111 -1-110 -1 17 -1-88 -1-149 -1-121 -1-50 -1 71 -1 19 -1-206 -1-86 -1-124 -1 81 -1 46 -1-20 -1-194 -1 47 -1 0 -1 139 -1 59 -1 135 -1 180 -1-12 -1 39 -1 77 -1 161 -1-59 -1 110 -1-41 -1 27 -1 55 -1 158 -1 198 -1 69 -1 94 -1 35 -1-67 -1-113 -1-126 -1-45 -1-108 -1 185 -1-20 -1-32 -1 81 -1 172 -1 162 -1 120 -1-177 -1-144 -1-156 -1-86 -1-62 -1-11 -1-58 -1 6 -1-149 -1 1 -1-46 -1-36 -1 132 -1 134 -1-232 -1-100 -1-145 -1-188 -1-47 -1-149 -1 92 -1 129 -1 285 -1 151 -1 225 -1 172 -1-53 -1-52 -1-119 -1-98 -1-32 -1-17 -1-153 -1-38 -1 98 -1 15 -1 43 -1 3 -1 402 -1 450 -1 431 -1 494 -1-31 -1-379 -1-449 -1-397 -1-427 -1-284 -1-193 -1 143 -1 134 -1 69 -1 48 -1-70 -1 123 -1 30 -1 204 -1-41 -1-132 -1-72 -1-107 -1 25 -1 0 -1 46 -1-52 -1-182 -1-35z" fill="#e8957a" fill-opacity="0.7"/><path transform="translate(68.60 838.50) scale(1.35771 0.1)" d="M0 1489l1 10 1 11 1 79 1 21 1 208 1-14 1-119 1-106 1-39 1 94 1-62 1-51 1 124 1 23 1-99 1-132 1-105 1-177 1 247 1 151 1 567 1 457 1 253 1 317 1 350 1-427 1-452 1-377 1-323 1-419 1-15 1-158 1 112 1 3 1 79 1 96 1 104 1 76 1-25 1 138 1-115 1-6 1-44 1 38 1-218 1-44 1-19 1 27 1 22 1-19 1-126 1 37 1-36 1 29 1 54 1-82 1 67 1-190 1 78 1-22 1 4 1-16 1 37 1 37 1 69 1-22 1 51 1-179 1 52 1-86 1 79 1-33 1 145 1-41 1 235 1 115 1 220 1 6 1-109 1 9 1-45 1-63 1-144 1-58 1-151 1-46 1 12 1 87 1 14 1-19 1 15 1-20 1-23 1-116 1 39 1-51 1-63 1 102 1 54 1 28 1 77 1-58 1-24 1-14 1-20 1-79 1 53 1 2 1 3 1-2 1-156 1 7 1-55 1-49 1 49 1-34 1-4 1 54 1 132 1 64 1 73 1 159 1-65 1-43 1 61 1-121 1-40 1 11 1 17 1 60 1 49 1 43 1 77 1 141 1-83 1 45 1-11 1-18 1-111 1-113 1-17 1-76 1-47 1 70 1-108 1-30 1 9 1-47 1-136 1 41 1-112 1 182 1 89 1-8 1-36 1 84 1 93 1 51 1-127 1-10 1-28 1 5 1-25 1 91 1 93 1 79 1 76 1 214 1 1 1-135 1-63 1-49 1 139 1-64 1 39 1 6 1 79 1 35 1-53 1 4 1-52 1-13 1 29 1 82 1-17 1 55 1-69 1-69 1-63 1-174 1-38 1-145 1-88 1 10 1-176 1 124 1 89 1 78 1 20 1-16 1-51 1 80 1 38 1-77 1 34 1-76 1 87 1-43 1-37 1-51 1 46 1-142 1 156 1 330 1 238 1 155 1-171 1-91 1 44 1-53 1-155 1 6 1-59 1 61 1-57 1-67 1 70 1-57 1-51 1-22 1-44 1-76 1-120 1-31 1-176 1 32 1-15 1-140 1 24 1-64 1 59 1 122 1 13 1 89 1 126 1-59 1 62 1 25 1 105 1-64 1 53 1 5 1 10 1 61 1 33 1-12 1 67 1-39 1 127 1 120 1-88 1-52 1-9 1 20 1 23 1-11 1-110 1 55 1-74 1-65 1 2 1-6 1 26 1-1 1 79 1-8 1 4 1-59 1 86 1 3 1-100 1 71 1 115 1 42 1-84 1-49 1 57 1 18 1-77 1 38 1-77 1 20 1-25 1-37 1-7 1 117 1-17 1-66 1 48 1 60 1 104 1 34 1-71 1 148 1-25 1 30 1 91 1 50 1 19 1-121 1-33 1-94 1 29 1-9 1 62 1-87 1-83 1 67 1 58 1 77 1-45 1 10 1-36 1 44 1 86 1-6 1 106 1-170 1 45 1-56 1-8 1 30 1-8 1-55 1 133 1 3 1 62 1-87 1-84 1 38 1-94 1 37 1-48 1-14 1 79 1-95 1 59 1-72 1 137 1-49 1 0 1-61 1-157 1-9 1-4 1 15 1-81 1-25 1-45 1 70 1 33 1 181 1 83 1 34 1-142 1 26 1-10 1-40 1-127 1 40 1-32 1 24 1 13 1-19 1 2 1 109 1-116 1 129 1 16 1 126 1-9 1-60 1-132 1-46 1-183 1 79 1-46 1 41 1 76 1 176 1 75 1-16 1-75 1-24 1-98 1-42 1-36 1-35 1-122 1-45 1 8 1-7 1 95 1 70 1 9 1 68 1-115 1-10 1-24 1 58 1 1 1 17 1 42 1 39 1-62 1 20 1 43 1-2 1 50 1-33 1 40 1-17 1 44 1 57 1-129 1 14 1-227 1-48 1 71 1 24 1 94 1-72 1 40 1-46 1-23 1-41 1 17" fill="none" stroke="#1c1c7a" stroke-width="2.2" stroke-linejoin="round" vector-effect="non-scaling-stroke"/><path transform="translate(68.60 838.50) scale(1.35771 0.1)" d="M0 1913l1-91 1 5 1-193 1-76 1-13 1 5 1 65 1 127 1-188 1 123 1-137 1 66 1-167 1-79 1-178 1 20 1-107 1 10 1 160 1 544 1 632 1 538 1 472 1-308 1-369 1-93 1-327 1-174 1-373 1-364 1-128 1 19 1-108 1 13 1-73 1 80 1 116 1 32 1 124 1 131 1 56 1 177 1 173 1 124 1-129 1-168 1-153 1-10 1-91 1 30 1-183 1-67 1-15 1-142 1-48 1 31 1 119 1-75 1 49 1 83 1 87 1 167 1 63 1-75 1 150 1 78 1-99 1-217 1-331 1-19 1-220 1 159 1 145 1 455 1 206 1 167 1 159 1-93 1 114 1 61 1 137 1 6 1 24 1-361 1-211 1-323 1 138 1 173 1 85 1-79 1-93 1 25 1-239 1 122 1-103 1 49 1 60 1-81 1-30 1-316 1-65 1-127 1 187 1-10 1 113 1-93 1 179 1 41 1 72 1-84 1-94 1-161 1-17 1 57 1-152 1 60 1-101 1 9 1 210 1 320 1 235 1 99 1 112 1 28 1-31 1-113 1-104 1 95 1 115 1 12 1 116 1-222 1-76 1-138 1-94 1-52 1-24 1-84 1-46 1 32 1 77 1 29 1-115 1-31 1-99 1-22 1-109 1 141 1 56 1-130 1 43 1-126 1-3 1 69 1-34 1-31 1 102 1-93 1 64 1-63 1 18 1-186 1-1 1-37 1 118 1 221 1 158 1 17 1 62 1 191 1 35 1 0 1 39 1-97 1-44 1-137 1-76 1 81 1-15 1 9 1-24 1-30 1-90 1-2 1-6 1 80 1 53 1 85 1-117 1 55 1 38 1-3 1-25 1 12 1-39 1-123 1 36 1 126 1-117 1 53 1 113 1 114 1 20 1 50 1-105 1-88 1-165 1-182 1-158 1-138 1-107 1 285 1 346 1 174 1 414 1 188 1-102 1-83 1-102 1 20 1-137 1-108 1 17 1-75 1 31 1-182 1-41 1 80 1 32 1-127 1-70 1 115 1-88 1-121 1-51 1 83 1 113 1-235 1-181 1-155 1 40 1 59 1 50 1 82 1-35 1 7 1 1 1-92 1 19 1 103 1-120 1-110 1-13 1-62 1 145 1 4 1 131 1 137 1-19 1 139 1 78 1-27 1-31 1-53 1-146 1 53 1-14 1 259 1 189 1 134 1-1 1-158 1-52 1-230 1 107 1-95 1 7 1-83 1-10 1 117 1-104 1 86 1-170 1 44 1 18 1 132 1-80 1 55 1 64 1 94 1-55 1 92 1 113 1-64 1 39 1-11 1-74 1-54 1-48 1 123 1 71 1 21 1 131 1 87 1 124 1-149 1-56 1-182 1 29 1 35 1 77 1 17 1-17 1 179 1-81 1 158 1-290 1-77 1-80 1 168 1-137 1-202 1 41 1-46 1 33 1 108 1-1 1 145 1 13 1 43 1 120 1-18 1 17 1 32 1-102 1-40 1 47 1 27 1 132 1-69 1 38 1-52 1-125 1 8 1-147 1 28 1-115 1-41 1 220 1 181 1 63 1-65 1-96 1 33 1-89 1 23 1-91 1-104 1-229 1-87 1 72 1-119 1-17 1 201 1-35 1 160 1 46 1 78 1-5 1-63 1-108 1-71 1 42 1-63 1 175 1-18 1 15 1 57 1 149 1 39 1 41 1 12 1 85 1-7 1 56 1-16 1-5 1-101 1-95 1-59 1 26 1 53 1 121 1 42 1-4 1 127 1-128 1-23 1-92 1 10 1-331 1-72 1-55 1 220 1 76 1 239 1-55 1-110 1-246 1 136 1-50 1-113 1-7 1 34 1 45 1-40 1 105 1 92 1 41 1 12 1-39 1 36 1 8 1 8 1-202 1 79 1-84 1 52 1 186 1-21 1 72 1 96 1 290 1-55 1-246 1-163 1 24" fill="none" stroke="#3a88c8" stroke-width="2.2" stroke-linejoin="round" vector-effect="non-scaling-stroke"/><path transform="translate(68.60 838.50) scale(1.35771 0.1)" d="M0 1259l1 70 1 157 1 50 1 3 1 36 1-101 1 151 1 10 1 124 1 6 1-158 1-32 1-37 1 10 1-56 1-58 1-74 1-126 1 223 1 177 1 379 1 433 1 342 1 466 1 98 1-468 1-416 1-446 1-451 1-15 1-39 1 5 1-99 1 36 1 139 1 46 1 1 1 121 1 72 1-1 1-33 1-61 1-196 1-140 1-209 1-122 1-115 1 116 1 0 1 161 1 150 1 101 1 215 1-152 1-95 1 44 1 1 1 55 1 55 1 75 1 19 1 97 1 59 1 78 1 130 1 154 1 157 1-177 1-90 1-153 1-75 1 0 1-52 1-139 1 79 1 132 1 65 1 147 1 65 1 5 1-120 1-189 1-90 1-159 1 11 1-67 1-30 1-78 1 11 1-80 1-63 1-96 1-92 1-118 1-60 1-123 1-57 1-166 1 92 1 158 1 43 1-27 1-3 1 99 1 61 1 98 1 6 1-20 1 58 1 117 1 186 1-3 1 0 1 58 1-1 1-23 1-89 1-74 1-90 1 12 1 88 1 86 1 181 1 121 1 192 1 5 1 11 1-150 1 5 1-22 1-43 1-45 1-37 1 5 1-110 1-16 1-58 1-103 1-62 1-48 1-55 1-6 1 25 1-126 1-15 1-71 1-84 1-57 1-33 1 139 1 177 1 74 1 142 1 11 1 63 1 54 1 73 1 60 1 120 1-48 1-91 1-78 1-143 1 45 1 5 1 25 1 91 1 74 1 193 1 88 1 183 1 3 1-62 1-9 1-51 1-20 1 22 1-96 1-30 1-68 1 43 1-141 1-41 1-70 1-69 1-51 1-64 1-106 1-55 1-78 1-51 1-105 1-138 1 67 1 25 1 46 1 130 1 69 1 125 1 175 1-101 1-2 1 18 1 27 1 134 1-12 1-7 1-135 1 26 1-35 1 3 1 19 1 137 1 37 1 50 1 34 1 66 1 75 1-59 1-6 1-5 1-40 1 24 1-93 1-36 1-39 1-117 1-47 1-30 1-32 1-23 1-67 1-20 1-178 1-73 1 58 1-69 1-50 1-36 1-97 1 100 1 70 1 112 1-57 1 70 1-105 1 138 1 66 1 89 1 163 1 183 1 146 1 115 1-52 1-40 1-10 1-28 1 92 1 2 1 71 1-5 1-42 1 19 1-24 1-36 1-82 1-9 1-141 1-69 1-116 1 35 1-89 1 3 1-54 1-15 1 63 1-72 1 29 1-58 1 25 1 36 1 114 1-4 1 40 1-29 1-29 1-29 1-39 1-15 1 26 1-12 1 52 1-16 1 80 1-7 1 45 1-15 1-64 1-127 1 41 1 53 1 133 1-18 1 87 1 10 1-29 1-24 1 31 1-52 1 48 1-26 1 19 1-62 1 79 1-3 1 95 1 45 1-34 1 57 1-101 1-11 1-50 1 23 1-9 1 19 1 70 1-64 1 25 1 18 1 106 1 49 1-81 1-66 1-8 1 24 1-22 1-69 1 28 1 93 1 85 1-34 1 19 1-66 1-86 1 32 1-17 1-8 1 17 1 34 1 1 1-5 1-67 1 33 1-87 1 34 1-18 1 105 1 65 1 109 1-30 1-78 1 27 1-90 1-14 1 12 1-20 1 2 1 20 1 102 1-65 1-93 1-66 1 58 1-91 1-2 1-75 1-16 1 20 1 33 1-47 1 201 1 7 1 136 1-41 1-28 1 14 1-133 1-108 1-8 1 25 1 42 1 41 1-35 1 2 1-64 1 34 1-57 1 69 1-57 1-77 1 32 1-8 1-76 1 77 1-1 1 19 1 18 1-45 1-32 1-4 1-50 1 6 1-37 1 54 1 65 1 101 1-115 1-99 1-138 1 20 1 4 1 84 1 123 1 86 1-19 1 55 1 41 1-47 1-5 1 32 1 43 1-36 1 60 1-39 1-35 1-48 1-36" fill="none" stroke="#ff1e1e" stroke-width="2.2" stroke-linejoin="round" vector-effect="non-scaling-stroke"/></g><path d="M68.6 1307.5h6.5M662.6 1307.5h-6.5M68.6 1255.4h6.5M662.6 1255.4h-6.5M68.6 1203.3h6.5M662.6 1203.3h-6.5M68.6 1151.2h6.5M662.6 1151.2h-6.5M68.6 1099.1h6.5M662.6 1099.1h-6.5M68.6 1046.9h6.5M662.6 1046.9h-6.5M68.6 994.8h6.5M662.6 994.8h-6.5M68.6 942.7h6.5M662.6 942.7h-6.5M68.6 890.6h6.5M662.6 890.6h-6.5M68.6 838.5h6.5M662.6 838.5h-6.5M85.6 838.5v6.5M85.6 1307.5v-6.5M170.4 838.5v6.5M170.4 1307.5v-6.5M255.3 838.5v6.5M255.3 1307.5v-6.5M340.1 838.5v6.5M340.1 1307.5v-6.5M425.0 838.5v6.5M425.0 1307.5v-6.5M509.9 838.5v6.5M509.9 1307.5v-6.5M594.7 838.5v6.5M594.7 1307.5v-6.5" stroke="#5a5a5a" stroke-width="1.1" fill="none"/><rect x="68.6" y="838.5" width="594.0" height="469.0" fill="none" stroke="#5a5a5a" stroke-width="1.1"/><rect x="549.5" y="849.5" width="98" height="75.7" fill="#fff" stroke="#444" stroke-width="1"/><rect x="557.1" y="858.4" width="20.8" height="12.5" fill="#e8957a" fill-opacity="0.7"/><rect x="557.1" y="863.8" width="20.8" height="2" fill="#ff1e1e"/><text x="587.9" y="869.7" font-size="16.4">Young</text><rect x="557.1" y="881.1" width="20.8" height="12.5" fill="#8680b6" fill-opacity="0.7"/><rect x="557.1" y="886.5" width="20.8" height="2" fill="#1c1c7a"/><text x="587.9" y="892.4" font-size="16.4">60 - 68</text><rect x="557.1" y="903.9" width="20.8" height="12.5" fill="#a2c0e4" fill-opacity="0.7"/><rect x="557.1" y="909.3" width="20.8" height="2" fill="#3a88c8"/><text x="587.9" y="915.2" font-size="16.4">&gt; 68</text><rect x="468.5" y="1164.4" width="177.4" height="126.0" fill="#fff" stroke="#6e6e6e" stroke-width="1"/><g transform="translate(474.4 1168.9)"><path d="M0.0 30.8C-0.5 26.7 0.7 22.0 3.0 18.0C5.3 14.0 9.8 9.8 14.0 7.0C18.2 4.2 23.2 2.7 28.0 1.5C32.8 0.3 38.3 0.0 43.0 0.0C47.7 0.0 52.0 0.5 56.0 1.5C60.0 2.5 63.7 3.6 67.0 6.0C70.3 8.4 73.6 12.0 76.0 16.0C78.4 20.0 80.7 26.3 81.5 30.0C82.3 33.7 81.9 35.6 81.0 38.0C80.1 40.4 78.8 42.8 76.0 44.5C73.2 46.2 68.7 46.8 64.0 48.0C59.3 49.2 53.0 50.4 48.0 52.0C43.0 53.6 37.5 56.7 34.0 57.5C30.5 58.3 28.8 57.9 27.0 57.0C25.2 56.1 23.9 53.6 23.5 52.0C23.1 50.4 25.9 48.5 24.5 47.5C23.1 46.5 18.1 46.8 15.0 46.0C11.9 45.2 8.5 45.0 6.0 42.5C3.5 40.0 0.5 34.9 0.0 30.8Z" fill="url(#bg)" stroke="#3c3c3c" stroke-width="0.9"/><path d="M25.0 47.0C21.5 49.0 31.5 42.3 35.0 40.0C38.5 37.7 42.5 35.0 46.0 33.0C49.5 31.0 59.5 25.7 56.0 28.0" fill="none" stroke="#4e4e4e" stroke-width="1.2" stroke-linecap="round" opacity="0.8"/><path d="M44.0 1.0C44.7 -2.2 41.8 8.5 41.0 12.0C40.2 15.5 39.7 18.8 39.0 22.0C38.3 25.2 36.2 34.5 37.0 31.0" fill="none" stroke="#4e4e4e" stroke-width="1.2" stroke-linecap="round" opacity="0.8"/><path d="M29.0 54.0C24.7 55.3 37.5 49.8 42.0 48.0C46.5 46.2 51.7 44.3 56.0 43.0C60.3 41.7 72.5 38.2 68.0 40.0" fill="none" stroke="#4e4e4e" stroke-width="1.2" stroke-linecap="round" opacity="0.8"/><path d="M52.0 2.0C52.2 0.3 50.5 10.3 50.0 14.0C49.5 17.7 48.7 26.0 49.0 24.0" fill="none" stroke="#4e4e4e" stroke-width="1.2" stroke-linecap="round" opacity="0.8"/><path d="M8.0 22.0C6.0 22.3 14.3 17.3 18.0 16.0C21.7 14.7 31.7 13.0 30.0 14.0" fill="none" stroke="#4e4e4e" stroke-width="1.2" stroke-linecap="round" opacity="0.8"/><path d="M6.0 31.0C3.8 30.0 11.3 27.5 14.0 27.0C16.7 26.5 19.8 27.0 22.0 28.0C24.2 29.0 29.7 32.5 27.0 33.0" fill="none" stroke="#4e4e4e" stroke-width="1.2" stroke-linecap="round" opacity="0.8"/><path d="M54.0 16.0C51.7 13.8 60.0 12.7 63.0 13.0C66.0 13.3 69.7 15.8 72.0 18.0C74.3 20.2 80.0 26.3 77.0 26.0" fill="none" stroke="#4e4e4e" stroke-width="1.2" stroke-linecap="round" opacity="0.8"/><path d="M34.0 56.0C29.7 57.3 43.3 52.7 48.0 51.0C52.7 49.3 57.7 47.3 62.0 46.0C66.3 44.7 78.7 41.3 74.0 43.0" fill="none" stroke="#4e4e4e" stroke-width="1.2" stroke-linecap="round" opacity="0.8"/><path d="M14.0 10.0C12.3 10.2 19.0 7.7 22.0 7.0C25.0 6.3 33.3 5.5 32.0 6.0" fill="none" stroke="#4e4e4e" stroke-width="1.2" stroke-linecap="round" opacity="0.8"/><path d="M62.0 30.0C61.0 29.0 67.7 30.7 70.0 32.0C72.3 33.3 77.3 38.3 76.0 38.0" fill="none" stroke="#4e4e4e" stroke-width="1.2" stroke-linecap="round" opacity="0.8"/></g><g transform="translate(558.4 1168.9)"><path d="M81.5 30.8C82.0 26.7 80.8 22.0 78.5 18.0C76.2 14.0 71.7 9.8 67.5 7.0C63.3 4.2 58.3 2.7 53.5 1.5C48.7 0.3 43.2 0.0 38.5 0.0C33.8 0.0 29.5 0.5 25.5 1.5C21.5 2.5 17.8 3.6 14.5 6.0C11.2 8.4 7.9 12.0 5.5 16.0C3.1 20.0 0.8 26.3 0.0 30.0C-0.8 33.7 -0.4 35.6 0.5 38.0C1.4 40.4 2.7 42.8 5.5 44.5C8.3 46.2 12.8 46.8 17.5 48.0C22.2 49.2 28.5 50.4 33.5 52.0C38.5 53.6 44.0 56.7 47.5 57.5C51.0 58.3 52.8 57.9 54.5 57.0C56.2 56.1 57.6 53.6 58.0 52.0C58.4 50.4 55.6 48.5 57.0 47.5C58.4 46.5 63.4 46.8 66.5 46.0C69.6 45.2 73.0 45.0 75.5 42.5C78.0 40.0 81.0 34.9 81.5 30.8Z" fill="url(#bg)" stroke="#3c3c3c" stroke-width="0.9"/><path d="M56.5 47.0C60.0 49.0 50.0 42.3 46.5 40.0C43.0 37.7 39.0 35.0 35.5 33.0C32.0 31.0 22.0 25.7 25.5 28.0" fill="none" stroke="#4e4e4e" stroke-width="1.2" stroke-linecap="round" opacity="0.8"/><path d="M37.5 1.0C36.8 -2.2 39.7 8.5 40.5 12.0C41.3 15.5 41.8 18.8 42.5 22.0C43.2 25.2 45.3 34.5 44.5 31.0" fill="none" stroke="#4e4e4e" stroke-width="1.2" stroke-linecap="round" opacity="0.8"/><path d="M52.5 54.0C56.8 55.3 44.0 49.8 39.5 48.0C35.0 46.2 29.8 44.3 25.5 43.0C21.2 41.7 9.0 38.2 13.5 40.0" fill="none" stroke="#4e4e4e" stroke-width="1.2" stroke-linecap="round" opacity="0.8"/><path d="M29.5 2.0C29.3 0.3 31.0 10.3 31.5 14.0C32.0 17.7 32.8 26.0 32.5 24.0" fill="none" stroke="#4e4e4e" stroke-width="1.2" stroke-linecap="round" opacity="0.8"/><path d="M73.5 22.0C75.5 22.3 67.2 17.3 63.5 16.0C59.8 14.7 49.8 13.0 51.5 14.0" fill="none" stroke="#4e4e4e" stroke-width="1.2" stroke-linecap="round" opacity="0.8"/><path d="M75.5 31.0C77.7 30.0 70.2 27.5 67.5 27.0C64.8 26.5 61.7 27.0 59.5 28.0C57.3 29.0 51.8 32.5 54.5 33.0" fill="none" stroke="#4e4e4e" stroke-width="1.2" stroke-linecap="round" opacity="0.8"/><path d="M27.5 16.0C29.8 13.8 21.5 12.7 18.5 13.0C15.5 13.3 11.8 15.8 9.5 18.0C7.2 20.2 1.5 26.3 4.5 26.0" fill="none" stroke="#4e4e4e" stroke-width="1.2" stroke-linecap="round" opacity="0.8"/><path d="M47.5 56.0C51.8 57.3 38.2 52.7 33.5 51.0C28.8 49.3 23.8 47.3 19.5 46.0C15.2 44.7 2.8 41.3 7.5 43.0" fill="none" stroke="#4e4e4e" stroke-width="1.2" stroke-linecap="round" opacity="0.8"/><path d="M67.5 10.0C69.2 10.2 62.5 7.7 59.5 7.0C56.5 6.3 48.2 5.5 49.5 6.0" fill="none" stroke="#4e4e4e" stroke-width="1.2" stroke-linecap="round" opacity="0.8"/><path d="M19.5 30.0C20.5 29.0 13.8 30.7 11.5 32.0C9.2 33.3 4.2 38.3 5.5 38.0" fill="none" stroke="#4e4e4e" stroke-width="1.2" stroke-linecap="round" opacity="0.8"/></g><g transform="translate(474.4 1228.4)"><path d="M0.0 31.9C0.0 28.9 1.0 23.8 3.0 20.0C5.0 16.2 8.3 11.9 12.0 9.0C15.7 6.1 20.3 4.0 25.0 2.5C29.7 1.0 35.0 0.2 40.0 0.0C45.0 -0.2 50.3 0.0 55.0 1.0C59.7 2.0 64.3 3.5 68.0 6.0C71.7 8.5 74.8 12.0 77.0 16.0C79.2 20.0 81.2 26.0 81.5 30.0C81.8 34.0 80.6 37.4 79.0 40.0C77.4 42.6 75.2 44.2 72.0 45.5C68.8 46.8 62.2 46.9 60.0 48.0C57.8 49.1 59.3 50.5 58.5 52.0C57.7 53.5 56.4 56.0 55.0 57.0C53.6 58.0 51.8 58.5 50.0 58.3C48.2 58.1 46.5 57.4 44.0 56.0C41.5 54.6 38.7 51.7 35.0 50.0C31.3 48.3 26.2 47.3 22.0 46.0C17.8 44.7 13.2 43.3 10.0 42.0C6.8 40.7 4.7 39.7 3.0 38.0C1.3 36.3 0.0 34.9 0.0 31.9Z" fill="url(#bg2)" stroke="#3c3c3c" stroke-width="0.9"/><path d="M8.0 36.0C-1.8 33.7 12.3 25.8 16.0 22.0C19.7 18.2 25.0 14.8 30.0 13.0C35.0 11.2 40.7 10.7 46.0 11.0C51.3 11.3 57.7 12.7 62.0 15.0C66.3 17.3 69.8 21.5 72.0 25.0C74.2 28.5 85.7 34.2 75.0 36.0" fill="none" stroke="#4e4e4e" stroke-width="1.2" stroke-linecap="round" opacity="0.8"/><path d="M10.0 40.0C6.0 38.5 18.0 40.3 22.0 41.0C26.0 41.7 30.0 42.5 34.0 44.0C38.0 45.5 50.0 50.7 46.0 50.0" fill="none" stroke="#4e4e4e" stroke-width="1.2" stroke-linecap="round" opacity="0.8"/><path d="M24.0 34.0C24.7 31.8 31.7 28.3 36.0 27.0C40.3 25.7 45.7 25.5 50.0 26.0C54.3 26.5 59.7 28.2 62.0 30.0C64.3 31.8 65.0 35.3 64.0 37.0C63.0 38.7 59.3 39.8 56.0 40.0C52.7 40.2 48.0 38.0 44.0 38.0C40.0 38.0 35.3 40.7 32.0 40.0C28.7 39.3 23.3 36.2 24.0 34.0Z" fill="#c9c9c9" stroke="#8a8a8a" stroke-width="0.6" opacity="0.8"/></g><g transform="translate(558.4 1228.4)"><path d="M81.5 31.9C81.5 28.9 80.5 23.8 78.5 20.0C76.5 16.2 73.2 11.9 69.5 9.0C65.8 6.1 61.2 4.0 56.5 2.5C51.8 1.0 46.5 0.2 41.5 0.0C36.5 -0.2 31.2 0.0 26.5 1.0C21.8 2.0 17.2 3.5 13.5 6.0C9.8 8.5 6.8 12.0 4.5 16.0C2.2 20.0 0.3 26.0 0.0 30.0C-0.3 34.0 0.9 37.4 2.5 40.0C4.1 42.6 6.3 44.2 9.5 45.5C12.7 46.8 19.2 46.9 21.5 48.0C23.8 49.1 22.2 50.5 23.0 52.0C23.8 53.5 25.1 56.0 26.5 57.0C27.9 58.0 29.7 58.5 31.5 58.3C33.3 58.1 35.0 57.4 37.5 56.0C40.0 54.6 42.8 51.7 46.5 50.0C50.2 48.3 55.3 47.3 59.5 46.0C63.7 44.7 68.3 43.3 71.5 42.0C74.7 40.7 76.8 39.7 78.5 38.0C80.2 36.3 81.5 34.9 81.5 31.9Z" fill="url(#bg2)" stroke="#3c3c3c" stroke-width="0.9"/><path d="M73.5 36.0C83.3 33.7 69.2 25.8 65.5 22.0C61.8 18.2 56.5 14.8 51.5 13.0C46.5 11.2 40.8 10.7 35.5 11.0C30.2 11.3 23.8 12.7 19.5 15.0C15.2 17.3 11.7 21.5 9.5 25.0C7.3 28.5 -4.2 34.2 6.5 36.0" fill="none" stroke="#4e4e4e" stroke-width="1.2" stroke-linecap="round" opacity="0.8"/><path d="M71.5 40.0C75.5 38.5 63.5 40.3 59.5 41.0C55.5 41.7 51.5 42.5 47.5 44.0C43.5 45.5 31.5 50.7 35.5 50.0" fill="none" stroke="#4e4e4e" stroke-width="1.2" stroke-linecap="round" opacity="0.8"/><path d="M57.5 34.0C56.8 31.8 49.8 28.3 45.5 27.0C41.2 25.7 35.8 25.5 31.5 26.0C27.2 26.5 21.8 28.2 19.5 30.0C17.2 31.8 16.5 35.3 17.5 37.0C18.5 38.7 22.2 39.8 25.5 40.0C28.8 40.2 33.5 38.0 37.5 38.0C41.5 38.0 46.2 40.7 49.5 40.0C52.8 39.3 58.2 36.2 57.5 34.0Z" fill="#c9c9c9" stroke="#8a8a8a" stroke-width="0.6" opacity="0.8"/></g><polygon points="605.4,1173.4 607.9,1173.7 608.4,1175.4 605.9,1175.7" fill="#f02222" stroke="#e01818" stroke-width="0.8" stroke-linejoin="round"/><polygon points="615.4,1203.9 620.4,1200.9 628.4,1201.9 631.4,1206.9 629.4,1213.9 622.4,1215.9 616.4,1212.9" fill="#f02222" stroke="#e01818" stroke-width="0.8" stroke-linejoin="round"/><polygon points="620.4,1191.9 623.4,1190.9 624.4,1193.9 621.4,1194.9" fill="#f02222" stroke="#e01818" stroke-width="0.8" stroke-linejoin="round"/><polygon points="626.4,1195.9 630.4,1195.9 631.4,1198.9 627.4,1199.9" fill="#f02222" stroke="#e01818" stroke-width="0.8" stroke-linejoin="round"/><polygon points="611.4,1201.9 615.4,1201.9 615.4,1203.9 611.4,1204.4" fill="#f02222" stroke="#e01818" stroke-width="0.8" stroke-linejoin="round"/><polygon points="580.4,1199.9 583.4,1200.9 587.4,1206.9 586.4,1211.9 582.4,1210.9 580.4,1205.9" fill="#f02222" stroke="#e01818" stroke-width="0.8" stroke-linejoin="round"/><polygon points="581.4,1215.9 588.4,1213.9 596.4,1215.9 604.4,1216.9 611.4,1214.9 616.4,1217.9 616.4,1223.9 610.4,1226.9 602.4,1224.9 592.4,1220.9 584.4,1218.9" fill="#f02222" stroke="#e01818" stroke-width="0.8" stroke-linejoin="round"/><polygon points="605.4,1208.9 609.4,1206.9 612.4,1211.9 608.4,1213.9" fill="#f02222" stroke="#e01818" stroke-width="0.8" stroke-linejoin="round"/><polygon points="502.9,1259.4 505.4,1258.9 506.4,1261.4 503.9,1262.4" fill="#f02222" stroke="#e01818" stroke-width="0.8" stroke-linejoin="round"/><polygon points="530.4,1270.9 534.4,1265.4 537.4,1263.4 538.9,1264.9 535.4,1268.4 531.4,1271.9" fill="#f02222" stroke="#e01818" stroke-width="0.8" stroke-linejoin="round"/><polygon points="585.4,1239.4 591.4,1238.0 598.4,1239.4 605.4,1238.2 607.4,1240.4 603.4,1244.4 595.4,1244.9 588.4,1243.4" fill="#f02222" stroke="#e01818" stroke-width="0.8" stroke-linejoin="round"/><polygon points="574.4,1264.4 578.4,1262.4 583.4,1263.4 586.4,1268.4 587.4,1273.4 583.4,1274.4 578.4,1269.4" fill="#f02222" stroke="#e01818" stroke-width="0.8" stroke-linejoin="round"/><polygon points="608.4,1260.4 616.4,1257.4 624.4,1258.4 624.4,1264.4 620.4,1270.4 614.4,1276.4 606.4,1281.4 596.4,1285.4 587.4,1286.4 585.4,1282.4 594.4,1278.4 604.4,1273.4 610.4,1268.4 609.4,1263.4" fill="#f02222" stroke="#e01818" stroke-width="0.8" stroke-linejoin="round"/><text x="59.8" y="1310.6" font-size="20" text-anchor="end">-60</text><text x="59.8" y="1258.9" font-size="20" text-anchor="end">-50</text><text x="59.8" y="1207.2" font-size="20" text-anchor="end">-40</text><text x="59.8" y="1155.6" font-size="20" text-anchor="end">-30</text><text x="59.8" y="1103.9" font-size="20" text-anchor="end">-20</text><text x="59.8" y="1052.2" font-size="20" text-anchor="end">-10</text><text x="59.8" y="1000.6" font-size="20" text-anchor="end">0</text><text x="59.8" y="948.9" font-size="20" text-anchor="end">10</text><text x="59.8" y="897.2" font-size="20" text-anchor="end">20</text><text x="59.8" y="845.5" font-size="20" text-anchor="end">30</text><text x="84.9" y="1327.4" font-size="20" text-anchor="middle">0</text><text x="167.9" y="1327.4" font-size="20" text-anchor="middle">0.5</text><text x="253.1" y="1327.4" font-size="20" text-anchor="middle">1</text><text x="337.3" y="1327.4" font-size="20" text-anchor="middle">1.5</text><text x="423.5" y="1327.4" font-size="20" text-anchor="middle">2</text><text x="506.4" y="1327.4" font-size="20" text-anchor="middle">2.5</text><text x="593.2" y="1327.4" font-size="20" text-anchor="middle">3</text><text x="356.3" y="1354.9" font-size="21.5" text-anchor="middle">Time (s)</text><text transform="translate(18.7 1094.0) rotate(-90)" font-size="21.5" text-anchor="middle">Neural activity index</text><text x="272.3" y="812.1" font-size="31" textLength="153.3" lengthAdjust="spacingAndGlyphs">Memorised</text><text transform="translate(68.3 1397.4) scale(1.280 1)" font-size="29.45" fill="#000" font-family="'Noto Sans CJK JP', sans-serif">&#9834;</text><text transform="translate(133.5 1397.4) scale(1.280 1)" font-size="29.45" fill="#000" font-family="'Noto Sans CJK JP', sans-serif">&#9834;</text><text transform="translate(192.2 1397.4) scale(1.280 1)" font-size="29.45" fill="#000" font-family="'Noto Sans CJK JP', sans-serif">&#9834;</text><text transform="translate(254.7 1397.4) scale(1.280 1)" font-size="29.45" fill="#000" font-family="'Noto Sans CJK JP', sans-serif">&#9834;</text><text transform="translate(315.4 1397.4) scale(1.280 1)" font-size="29.45" fill="#000" font-family="'Noto Sans CJK JP', sans-serif">&#9834;</text><clipPath id="c11"><rect x="760.5" y="838.5" width="594.0" height="469.0"/></clipPath><g clip-path="url(#c11)"><rect x="773.1" y="838.5" width="3.2" height="469.0" fill="#dcdcdd"/><rect x="882.0" y="838.5" width="9.5" height="469.0" fill="#dcdcdd"/><rect x="938.0" y="838.5" width="9.8" height="469.0" fill="#dcdcdd"/><rect x="1005.4" y="838.5" width="5.3" height="469.0" fill="#dcdcdd"/><rect x="1065.0" y="838.5" width="8.3" height="469.0" fill="#dcdcdd"/><path d="M777.5 838.5V1307.5M794.4 838.5V1307.5M811.4 838.5V1307.5M828.4 838.5V1307.5M845.4 838.5V1307.5M862.3 838.5V1307.5M879.3 838.5V1307.5M896.3 838.5V1307.5M913.2 838.5V1307.5M930.2 838.5V1307.5M947.2 838.5V1307.5M964.2 838.5V1307.5M981.1 838.5V1307.5M998.1 838.5V1307.5M1015.1 838.5V1307.5M1032.0 838.5V1307.5M1049.0 838.5V1307.5M1066.0 838.5V1307.5M1083.0 838.5V1307.5M1099.9 838.5V1307.5M1116.9 838.5V1307.5M1133.9 838.5V1307.5M1150.8 838.5V1307.5M1167.8 838.5V1307.5M1184.8 838.5V1307.5M1201.8 838.5V1307.5M1218.7 838.5V1307.5M1235.7 838.5V1307.5M1252.7 838.5V1307.5M1269.6 838.5V1307.5M1286.6 838.5V1307.5M1303.6 838.5V1307.5M1320.6 838.5V1307.5M1337.5 838.5V1307.5M760.5 1297.1H1354.5M760.5 1286.7H1354.5M760.5 1276.2H1354.5M760.5 1265.8H1354.5M760.5 1255.4H1354.5M760.5 1245.0H1354.5M760.5 1234.5H1354.5M760.5 1224.1H1354.5M760.5 1213.7H1354.5M760.5 1203.3H1354.5M760.5 1192.9H1354.5M760.5 1182.4H1354.5M760.5 1172.0H1354.5M760.5 1161.6H1354.5M760.5 1151.2H1354.5M760.5 1140.7H1354.5M760.5 1130.3H1354.5M760.5 1119.9H1354.5M760.5 1109.5H1354.5M760.5 1099.1H1354.5M760.5 1088.6H1354.5M760.5 1078.2H1354.5M760.5 1067.8H1354.5M760.5 1057.4H1354.5M760.5 1046.9H1354.5M760.5 1036.5H1354.5M760.5 1026.1H1354.5M760.5 1015.7H1354.5M760.5 1005.3H1354.5M760.5 994.8H1354.5M760.5 984.4H1354.5M760.5 974.0H1354.5M760.5 963.6H1354.5M760.5 953.1H1354.5M760.5 942.7H1354.5M760.5 932.3H1354.5M760.5 921.9H1354.5M760.5 911.5H1354.5M760.5 901.0H1354.5M760.5 890.6H1354.5M760.5 880.2H1354.5M760.5 869.8H1354.5M760.5 859.3H1354.5M760.5 848.9H1354.5" stroke="#bdbdbd" stroke-width="0.9" stroke-dasharray="1.2 2.3" fill="none"/><path transform="translate(760.50 838.50) scale(1.35771 0.1)" d="M0 1322l1-137 1 175 1 165 1 77 1-402 1 335 1-491 1 100 1-247 1-181 1 23 1 153 1 307 1-168 1-116 1 15 1-39 1-66 1 660 1 398 1-3 1 999 1 448 1-463 1-275 1-468 1-208 1-274 1-172 1-22 1-309 1-217 1-278 1 134 1-41 1 112 1 86 1 319 1-6 1 223 1 267 1-155 1-35 1-106 1-75 1-126 1-41 1-152 1-162 1 180 1-126 1-33 1 159 1-106 1-45 1-76 1 60 1-332 1 346 1-8 1 319 1 15 1 12 1 51 1 49 1 118 1-211 1-79 1 76 1-65 1-186 1-63 1 91 1 125 1-15 1 170 1 94 1 212 1 182 1 202 1-266 1 136 1-215 1-83 1 53 1-228 1-92 1-202 1-108 1-16 1-31 1 41 1-31 1-40 1 160 1-142 1 27 1-7 1-134 1 382 1 121 1-30 1-35 1-178 1 27 1 38 1 86 1-43 1-61 1-83 1 133 1-142 1-163 1 96 1-47 1 136 1-96 1-83 1-175 1 70 1 443 1 240 1 56 1-244 1 599 1-9 1-167 1-209 1-71 1-166 1 117 1-163 1 95 1-336 1 333 1-17 1-130 1 123 1 175 1-37 1-153 1 350 1-36 1 105 1-7 1 177 1-414 1 80 1-78 1-348 1 517 1-102 1-143 1 136 1-81 1 19 1-195 1-312 1 144 1 96 1-175 1-170 1-32 1-3 1-16 1 153 1 119 1 151 1 202 1-19 1 51 1 165 1-144 1-30 1-187 1 22 1-166 1 195 1 6 1 81 1-25 1-7 1-75 1-32 1-100 1 14 1 148 1 82 1 84 1-337 1 230 1-518 1 403 1-96 1 29 1 218 1-87 1-52 1-127 1 194 1-20 1-64 1-145 1-119 1 286 1-228 1-25 1-199 1-42 1-1 1-136 1 325 1 386 1 249 1 18 1-102 1-30 1 117 1-24 1-150 1-25 1-175 1 44 1 107 1 128 1 13 1-167 1-76 1-33 1-186 1-143 1-26 1 139 1-166 1-29 1 123 1 69 1 78 1 272 1 95 1-205 1-187 1 40 1-125 1-178 1-197 1 258 1 121 1 106 1 68 1 56 1-98 1-57 1 154 1 3 1 101 1 175 1 259 1 69 1 144 1-236 1-200 1-58 1 6 1-128 1 46 1-123 1-159 1-58 1-17 1 1 1-201 1 66 1 148 1 105 1-84 1-408 1-17 1 119 1-130 1-214 1-62 1 109 1 122 1-55 1 193 1-25 1 95 1-426 1 551 1-196 1 146 1 64 1 81 1-10 1 195 1-183 1 148 1-218 1 328 1 43 1-49 1 124 1-100 1 318 1-496 1 352 1-72 1-223 1-3 1-31 1-62 1-122 1 2 1-47 1-8 1 173 1 22 1 36 1 111 1 56 1-251 1 27 1 64 1 10 1-86 1 32 1-43 1 186 1 61 1 161 1 62 1-121 1 222 1-246 1 116 1 103 1 138 1-209 1-494 1 322 1 105 1 209 1 154 1-619 1 431 1-82 1 44 1-38 1-371 1 282 1-313 1 157 1 19 1-1 1 48 1-156 1-309 1 20 1 85 1-184 1 551 1 142 1-59 1-29 1 109 1-62 1-207 1-102 1-40 1-19 1 98 1-156 1 45 1-332 1 8 1 76 1 274 1-188 1 151 1 39 1 135 1 120 1 71 1 178 1 30 1-83 1-54 1-115 1-222 1-18 1 174 1-70 1 3 1 151 1-151 1-221 1 282 1-109 1-170 1 187 1-180 1 157 1-19 1-26 1 66 1 44 1-354 1 500 1 39 1-218 1-191 1-438 1 426 1-93 1-206 1 339 1-43 1-43 1-116 1 170 1-147 1 71 1-443 1 479 1 89 1 40 1-124 1 104 1 61 1 19 1 26 1-334 1 273 1 51 1 7 1-211V1561l-1 400 -1-162 -1 77 -1-17 -1 84 -1-113 -1-179 -1-202 -1 158 -1 149 -1-52 -1-259 -1 113 -1-1 -1 64 -1-14 -1 43 -1-163 -1 151 -1-63 -1-51 -1-5 -1 113 -1 109 -1 22 -1 91 -1 38 -1 295 -1-463 -1 108 -1 6 -1-50 -1 2 -1 7 -1-189 -1 70 -1 54 -1-4 -1 141 -1 206 -1 458 -1-268 -1-287 -1-198 -1 86 -1-54 -1 140 -1-3 -1 60 -1 218 -1-158 -1 179 -1-158 -1-142 -1-17 -1-95 -1-339 -1 23 -1 96 -1 33 -1 22 -1 157 -1 37 -1-66 -1 318 -1-282 -1 315 -1-336 -1-33 -1 1 -1 250 -1 99 -1 322 -1-318 -1-69 -1-25 -1-288 -1-300 -1 113 -1 177 -1-39 -1 260 -1-147 -1 141 -1 148 -1 151 -1-473 -1 128 -1-48 -1 92 -1 182 -1 225 -1 144 -1-250 -1-349 -1-164 -1 75 -1 398 -1 77 -1-62 -1-149 -1 124 -1 46 -1 133 -1-368 -1-75 -1 43 -1-181 -1-151 -1 10 -1-6 -1-71 -1 67 -1-42 -1 135 -1-51 -1 76 -1-13 -1-77 -1 123 -1-320 -1 32 -1-64 -1-126 -1 145 -1 133 -1 100 -1-124 -1 218 -1 112 -1-44 -1 12 -1-216 -1 77 -1 82 -1 32 -1-22 -1-214 -1 9 -1-150 -1 12 -1-160 -1 23 -1-176 -1 12 -1-42 -1 408 -1-179 -1-144 -1-50 -1-79 -1-105 -1-116 -1-22 -1 11 -1 74 -1 588 -1-311 -1 283 -1 10 -1 119 -1-167 -1 119 -1-37 -1-50 -1 130 -1-235 -1 149 -1-144 -1 322 -1-11 -1 97 -1 161 -1 241 -1 468 -1-447 -1 78 -1-211 -1-29 -1-117 -1-48 -1-47 -1-89 -1 344 -1-523 -1 181 -1-159 -1-84 -1 1 -1-41 -1-143 -1 428 -1-513 -1 229 -1 352 -1-156 -1 165 -1-207 -1-235 -1-70 -1 8 -1-5 -1 59 -1 407 -1-530 -1 455 -1-123 -1 120 -1 33 -1 99 -1 262 -1-160 -1-100 -1-5 -1 92 -1 96 -1-118 -1 12 -1 502 -1-443 -1 29 -1 16 -1-144 -1-187 -1-243 -1 298 -1 60 -1-306 -1-64 -1 211 -1-37 -1 117 -1-135 -1 128 -1 72 -1 92 -1 206 -1-149 -1-29 -1-127 -1 110 -1-107 -1 144 -1-22 -1 13 -1 31 -1 173 -1-2 -1-164 -1-60 -1 104 -1-32 -1-76 -1-151 -1-81 -1-106 -1 191 -1-17 -1 211 -1-142 -1 173 -1-152 -1 124 -1 142 -1 309 -1-110 -1-189 -1 18 -1-274 -1-83 -1-180 -1-71 -1-278 -1 27 -1 84 -1 148 -1 222 -1 262 -1 96 -1-81 -1 87 -1-63 -1 120 -1-149 -1 165 -1-185 -1-100 -1 45 -1 88 -1 67 -1 124 -1-134 -1-24 -1 181 -1 25 -1-65 -1-40 -1-136 -1-184 -1-41 -1 88 -1 69 -1-248 -1 274 -1 147 -1-119 -1-142 -1 188 -1 139 -1 64 -1-35 -1 62 -1-118 -1-223 -1-168 -1-271 -1-45 -1-65 -1 108 -1 113 -1-11 -1 363 -1-308 -1 69 -1 214 -1-14 -1-198 -1-67 -1 469 -1-398 -1-87 -1 246 -1-228 -1 449 -1-336 -1-207 -1-115 -1 190 -1 209 -1 82 -1-576 -1 166 -1-82 -1 11 -1 82 -1-83 -1 410 -1-262 -1 461 -1-257 -1-30 -1 192 -1 90 -1 369 -1 264 -1-153 -1-133 -1-113 -1-28 -1 41 -1-61 -1-388 -1 68 -1-561 -1 203 -1-117 -1 164 -1 267 -1 206 -1 36 -1-108 -1-233 -1 109 -1-47 -1-98 -1-189 -1-115 -1 155 -1-123 -1 172 -1-136 -1 245 -1-108 -1 169 -1 212 -1 206 -1-427 -1-132 -1 98 -1 38 -1 85 -1 170 -1 175 -1 316 -1-364 -1 158 -1-164 -1-215 -1-256 -1-329 -1-64 -1-49 -1 63 -1-55 -1 283 -1 48 -1 162 -1 603 -1-117 -1 331 -1 136 -1 451 -1 510 -1 99 -1-645 -1-407 -1-238 -1-432 -1-324 -1-185 -1 12 -1-21 -1 57 -1 119 -1-260 -1-163 -1 0 -1 86 -1 181 -1 223 -1 398 -1-157 -1-49 -1 22 -1 22 -1-138 -1 121z" fill="#a2c0e4" fill-opacity="0.7"/><path transform="translate(760.50 838.50) scale(1.35771 0.1)" d="M0 1479l1-87 1-111 1 23 1-70 1 95 1-27 1-74 1 182 1-45 1 83 1-16 1 15 1 141 1-116 1-176 1-5 1-13 1 4 1 74 1-12 1 103 1 351 1 407 1 528 1 475 1 275 1-566 1-570 1-396 1-603 1-57 1-101 1 15 1 90 1-170 1 12 1 232 1 51 1 261 1 9 1-108 1 94 1-295 1 69 1-59 1 13 1-114 1 3 1-88 1 112 1-37 1 1 1 39 1 81 1-126 1-45 1-42 1-43 1-13 1 19 1 68 1 136 1 91 1 15 1 47 1-67 1-26 1-12 1-202 1-119 1-177 1-156 1 281 1 192 1 111 1 438 1 390 1-80 1-151 1-10 1-194 1-111 1-197 1-152 1-22 1 171 1 129 1-51 1 18 1 10 1 248 1 49 1-4 1-43 1-130 1 60 1-22 1 78 1-9 1-91 1-20 1-50 1-79 1-28 1 79 1-77 1-213 1 112 1 24 1-13 1-26 1-92 1 78 1-183 1 39 1-251 1-203 1-104 1 121 1 199 1 7 1 187 1 168 1-54 1 7 1 42 1-219 1 50 1-153 1 9 1-207 1 224 1 130 1 205 1 66 1-143 1-109 1 41 1 14 1-22 1 107 1 72 1-16 1 21 1 10 1 91 1-75 1-167 1-242 1 132 1-6 1 129 1 20 1 8 1-164 1 190 1-67 1-115 1-212 1 119 1-3 1-62 1-46 1 90 1-14 1 125 1-87 1 120 1 89 1 96 1-83 1-38 1-158 1 1 1 115 1 37 1 1 1 112 1 117 1-38 1 86 1-102 1-5 1 111 1 89 1-175 1 194 1-8 1-88 1-98 1 45 1-75 1-77 1 61 1-88 1 36 1-26 1 125 1-163 1 197 1-219 1-26 1-62 1-39 1 232 1-14 1-46 1-221 1 81 1-41 1 54 1-142 1 126 1 15 1 62 1 11 1 28 1-12 1 102 1 53 1 16 1-59 1 0 1 32 1-115 1 62 1 62 1 15 1-46 1 49 1 49 1 87 1 31 1-66 1-137 1 323 1-49 1-14 1-133 1 32 1-43 1 25 1-37 1 210 1 2 1-172 1-72 1 10 1-133 1 118 1 49 1-18 1 66 1-166 1 84 1-30 1-123 1-1 1-20 1 75 1-167 1-14 1-68 1 80 1 65 1 21 1-91 1 149 1-92 1-243 1-31 1 122 1 34 1 81 1-99 1-46 1 31 1 50 1-180 1 79 1 102 1-22 1 107 1-124 1-131 1-52 1-69 1 88 1 93 1-127 1 2 1 21 1 133 1-72 1-213 1 37 1-48 1 127 1 90 1 100 1 178 1-19 1-61 1 150 1 104 1-161 1 189 1 32 1-41 1 16 1 13 1 166 1-20 1 26 1-24 1 114 1-107 1-23 1-103 1-45 1-17 1 14 1 32 1-293 1 379 1 55 1 99 1-14 1 38 1-75 1 132 1-88 1 57 1-69 1-134 1 69 1 6 1-114 1 158 1-71 1-49 1-81 1 114 1 24 1-97 1-30 1 181 1-9 1-69 1-78 1-31 1 35 1 97 1 94 1-108 1-122 1-6 1 88 1 46 1-95 1 2 1-75 1-34 1 117 1-21 1 96 1-50 1-9 1-45 1 66 1 57 1-112 1 8 1-58 1-272 1 211 1-43 1 83 1-273 1 281 1-52 1 53 1 17 1 157 1 49 1-156 1-32 1 141 1-49 1 62 1 27 1-75 1 21 1 38 1-71 1 150 1-186 1 133 1-22 1 61 1-51 1 138 1-15 1-103 1-148 1-68 1 111 1-82 1-141 1-106 1-65 1-7 1 35 1 90 1 67 1 45 1 42 1-4 1 19 1 105 1-121 1 13 1-80 1 127 1-122 1 58 1-6 1 168 1 32 1-64 1-113 1-127 1-82 1 56 1-30 1-145 1 246V1815l-1-204 -1 168 -1 14 -1 75 -1 44 -1 74 -1-1 -1 113 -1-59 -1-80 -1 165 -1-72 -1 50 -1-181 -1 43 -1-46 -1 83 -1 29 -1 79 -1-145 -1-172 -1-57 -1 27 -1-179 -1 167 -1 18 -1-64 -1 6 -1-10 -1 149 -1 3 -1 143 -1 253 -1-135 -1 63 -1-59 -1 186 -1-272 -1-169 -1 83 -1 66 -1 16 -1-32 -1-18 -1-43 -1 121 -1-27 -1-36 -1 93 -1-167 -1-80 -1 113 -1-5 -1 27 -1 12 -1-95 -1-172 -1-140 -1 7 -1 165 -1 87 -1 258 -1-77 -1 208 -1-74 -1-9 -1-29 -1-136 -1 5 -1 62 -1 17 -1-20 -1-5 -1-72 -1 116 -1-16 -1-65 -1 85 -1 12 -1-41 -1-11 -1-128 -1 67 -1 90 -1 59 -1 87 -1 44 -1-220 -1-3 -1 118 -1-268 -1 204 -1-206 -1-6 -1 119 -1-9 -1-44 -1-21 -1 103 -1 150 -1 27 -1 43 -1-62 -1 106 -1 2 -1 70 -1-157 -1-13 -1-218 -1 2 -1-53 -1-4 -1-58 -1 50 -1-49 -1 46 -1-61 -1 110 -1-61 -1 52 -1 183 -1 38 -1 21 -1-20 -1-111 -1-107 -1-152 -1 6 -1 38 -1 151 -1-184 -1 179 -1-220 -1 1 -1 70 -1-62 -1-62 -1-303 -1-8 -1-229 -1 8 -1 108 -1 46 -1 43 -1-102 -1 70 -1-59 -1 56 -1-141 -1 43 -1 208 -1 136 -1-34 -1 72 -1-129 -1-77 -1-6 -1 21 -1 95 -1 45 -1 147 -1-141 -1 35 -1-65 -1 95 -1-19 -1 54 -1 63 -1 80 -1-55 -1-85 -1 81 -1-100 -1 292 -1-283 -1-57 -1 173 -1-78 -1-3 -1 67 -1 97 -1-21 -1-11 -1 100 -1 5 -1 22 -1-98 -1-196 -1 138 -1 276 -1 54 -1 2 -1 74 -1-87 -1-7 -1-130 -1-37 -1 25 -1 166 -1-140 -1 47 -1-29 -1-89 -1 107 -1-3 -1-128 -1-29 -1-88 -1-106 -1 58 -1-25 -1-72 -1 96 -1-115 -1-47 -1 145 -1 233 -1-194 -1-105 -1 39 -1 1 -1-11 -1-32 -1 25 -1-119 -1 49 -1-50 -1 30 -1-93 -1 67 -1-7 -1 1 -1-44 -1 75 -1 52 -1 90 -1 135 -1-23 -1 7 -1-119 -1-77 -1 32 -1 280 -1-349 -1 26 -1 99 -1 50 -1 9 -1 50 -1-51 -1 112 -1 98 -1-88 -1-134 -1-39 -1 62 -1-22 -1 8 -1 11 -1-114 -1-139 -1-146 -1-61 -1 48 -1 202 -1 96 -1-23 -1-53 -1 11 -1 94 -1-100 -1-169 -1-84 -1-161 -1-98 -1 110 -1 368 -1-95 -1 135 -1 83 -1 6 -1-108 -1-14 -1-24 -1 54 -1 57 -1 32 -1-125 -1 171 -1-84 -1 105 -1 8 -1 148 -1-218 -1 126 -1 7 -1 91 -1-148 -1-41 -1-178 -1 54 -1-18 -1-136 -1-64 -1 63 -1-164 -1 11 -1 0 -1 193 -1 196 -1 114 -1-54 -1-82 -1-30 -1-172 -1-45 -1 18 -1-159 -1-187 -1 150 -1 75 -1 242 -1-41 -1 262 -1-89 -1 185 -1-3 -1 7 -1-114 -1-141 -1 141 -1 14 -1 0 -1 311 -1-138 -1 241 -1-85 -1 30 -1-55 -1-60 -1-52 -1-34 -1 70 -1 68 -1 31 -1 46 -1-23 -1-218 -1-109 -1-31 -1-144 -1-44 -1 180 -1 118 -1 163 -1-40 -1 266 -1 69 -1 167 -1-29 -1-536 -1-271 -1-106 -1-191 -1 48 -1-49 -1 181 -1 123 -1 53 -1 147 -1 72 -1 77 -1-113 -1-157 -1-82 -1 43 -1-79 -1-73 -1-39 -1 121 -1 59 -1-51 -1 16 -1-1 -1-9 -1-38 -1-9 -1 68 -1-53 -1-27 -1-14 -1 110 -1-164 -1 82 -1 197 -1 55 -1 182 -1-137 -1-146 -1-107 -1-196 -1-117 -1 214 -1 35 -1-34 -1 65 -1 125 -1 589 -1 561 -1 417 -1 517 -1-257 -1-542 -1-484 -1-470 -1-280 -1-54 -1 35 -1-132 -1 188 -1 40 -1-46 -1-2 -1 227 -1-19 -1-25 -1-42 -1-111 -1 111 -1-340 -1 8 -1-14 -1-153 -1 172 -1 76 -1 51 -1 47z" fill="#8680b6" fill-opacity="0.7"/><path transform="translate(760.50 838.50) scale(1.35771 0.1)" d="M0 1253l1 38 1 76 1 11 1 11 1-31 1 188 1 59 1-38 1-15 1-163 1-22 1 58 1 75 1 17 1 93 1-75 1-142 1-74 1-113 1 207 1 146 1 291 1 554 1 522 1 198 1-263 1-193 1-366 1-275 1-252 1-165 1-142 1 9 1 96 1 52 1 98 1-131 1 224 1 49 1 85 1-150 1-149 1-191 1-100 1-96 1-61 1-65 1-129 1 91 1-91 1 131 1 26 1-16 1 151 1-20 1 91 1 64 1-25 1 30 1 51 1 94 1 178 1 112 1 56 1-12 1-6 1-5 1-74 1-50 1-59 1-110 1-31 1-35 1-150 1 29 1 60 1 238 1 242 1 91 1 0 1-143 1-155 1-11 1-156 1-77 1 127 1 70 1 66 1 141 1 195 1 16 1-48 1-112 1-111 1-45 1 0 1 26 1-2 1-95 1-143 1-84 1 135 1 45 1-150 1 92 1-35 1 89 1-52 1-48 1-86 1 100 1 46 1 51 1-222 1-120 1-122 1-203 1-28 1-36 1-47 1 17 1 6 1 185 1 365 1 155 1 134 1 90 1-60 1-23 1 9 1-31 1 46 1 70 1-10 1 45 1-91 1-185 1-81 1-148 1-60 1-55 1-110 1 107 1-48 1-36 1 33 1-86 1-103 1 2 1-45 1 19 1 71 1 71 1 58 1-1 1 92 1 36 1 62 1-43 1 41 1-187 1 47 1-86 1-87 1-79 1-160 1 100 1 122 1-84 1 384 1 142 1 178 1 147 1 24 1-21 1 4 1 26 1 43 1 145 1 81 1-69 1-38 1-88 1-133 1 40 1-162 1-133 1-161 1 28 1-74 1-120 1-129 1 34 1 63 1 178 1 73 1 25 1-16 1-35 1-24 1 48 1-37 1 143 1-44 1 20 1 18 1 2 1-74 1-153 1-49 1-68 1 45 1-74 1-177 1 60 1 240 1 250 1 136 1 66 1 88 1-6 1-7 1 87 1 38 1 62 1 27 1-62 1 74 1-107 1-133 1-27 1-54 1-51 1-87 1-106 1-109 1-56 1-13 1-21 1 37 1-58 1-26 1 32 1-17 1 36 1 12 1-14 1 64 1-3 1-55 1-50 1-126 1 81 1 100 1 20 1-14 1-58 1 116 1-76 1 63 1 76 1-100 1 76 1 99 1-69 1-109 1 21 1 9 1-2 1-165 1-157 1-56 1 46 1 103 1-110 1-12 1-36 1-40 1 86 1 174 1-31 1-87 1 112 1 52 1-75 1-24 1-34 1-10 1-70 1 38 1-47 1-89 1-59 1 54 1-3 1-27 1 79 1 68 1 93 1 134 1 41 1-112 1 79 1-144 1 139 1-39 1-25 1-16 1 43 1 85 1 7 1-65 1 19 1 81 1 81 1 56 1-127 1-52 1-33 1-48 1-13 1-24 1-33 1-38 1 180 1 77 1-35 1 69 1 141 1 33 1-136 1-89 1-69 1 13 1-20 1 136 1-112 1 139 1 55 1 13 1-44 1-53 1-43 1-77 1-15 1 41 1 94 1 32 1 24 1 89 1-57 1 67 1-92 1-41 1 17 1-51 1 0 1 79 1-20 1 169 1 11 1 14 1-29 1 36 1-24 1 12 1-155 1-187 1 2 1-23 1 130 1 33 1-18 1 66 1 18 1-106 1-41 1-2 1 19 1-112 1 31 1 63 1 109 1 14 1 5 1-79 1 89 1-38 1-33 1 5 1 41 1-58 1 14 1 79 1 107 1 17 1-170 1-106 1-98 1 75 1-149 1 173 1 188 1 101 1-121 1-32 1-69 1-75 1-53 1 25 1 116 1 107 1-26 1 129 1 19 1-109 1-112 1-20 1 33 1-27 1-19 1-106 1 50 1-40 1-6 1 12 1 17 1-7 1-16 1 17 1 41 1-38 1-18 1-39 1-59 1 140 1-19V1750l-1-44 -1-78 -1 16 -1-55 -1-17 -1 98 -1-36 -1 86 -1 68 -1 66 -1-123 -1-40 -1-74 -1 109 -1-112 -1 70 -1 20 -1 102 -1 79 -1-45 -1 21 -1 34 -1 0 -1-78 -1-48 -1-40 -1-93 -1 61 -1-9 -1 48 -1 34 -1 87 -1-9 -1 23 -1-129 -1 26 -1-7 -1-157 -1 54 -1 105 -1 50 -1 45 -1-25 -1 30 -1 10 -1-47 -1-92 -1 66 -1 39 -1-38 -1-44 -1 103 -1-31 -1 66 -1 8 -1-33 -1 2 -1 12 -1-55 -1 60 -1 42 -1 0 -1-52 -1 32 -1-7 -1 4 -1-65 -1-14 -1-98 -1 91 -1 95 -1 49 -1 13 -1-3 -1 67 -1 70 -1-47 -1-56 -1-129 -1-88 -1-2 -1 69 -1-50 -1-22 -1 7 -1-127 -1 66 -1 41 -1 23 -1-27 -1 77 -1-115 -1-13 -1 2 -1-7 -1 60 -1 28 -1 5 -1-30 -1-94 -1 27 -1 31 -1 22 -1 40 -1-24 -1 19 -1 122 -1-46 -1-67 -1-93 -1-50 -1-53 -1 94 -1-137 -1-41 -1-13 -1 88 -1 66 -1 153 -1-140 -1 119 -1-65 -1-38 -1-66 -1 75 -1-133 -1 15 -1-81 -1 57 -1-39 -1 136 -1 21 -1 34 -1-29 -1-135 -1 170 -1-140 -1-77 -1-146 -1 57 -1-199 -1 34 -1-49 -1-84 -1 147 -1 92 -1 27 -1 13 -1-20 -1 140 -1-3 -1 32 -1-32 -1-41 -1-64 -1 32 -1 68 -1-66 -1-18 -1 41 -1-38 -1-119 -1-63 -1-16 -1 54 -1 146 -1-10 -1 106 -1 55 -1 50 -1 96 -1 76 -1 76 -1-142 -1 89 -1-77 -1-73 -1-38 -1-48 -1 18 -1 58 -1-30 -1-89 -1-7 -1 30 -1 21 -1-77 -1 106 -1-5 -1 46 -1 33 -1-58 -1-115 -1-77 -1 81 -1 75 -1-7 -1-54 -1-7 -1 13 -1 31 -1 242 -1 67 -1 9 -1 90 -1 83 -1 69 -1 76 -1 98 -1 18 -1 95 -1-73 -1-76 -1-57 -1-13 -1 7 -1 114 -1-173 -1-91 -1-201 -1-242 -1-131 -1-136 -1 111 -1-24 -1 22 -1 182 -1 80 -1 94 -1 50 -1 78 -1 49 -1-40 -1-94 -1-95 -1 44 -1 10 -1 151 -1-179 -1-104 -1 55 -1-106 -1 8 -1-48 -1-75 -1-15 -1 150 -1 47 -1 75 -1 146 -1 108 -1 131 -1 77 -1 173 -1 91 -1-46 -1-103 -1-31 -1-19 -1-74 -1-128 -1-83 -1 104 -1 95 -1-73 -1-271 -1-180 -1-166 -1 8 -1-70 -1-194 -1 40 -1 52 -1 142 -1 105 -1 39 -1 44 -1 152 -1-13 -1-92 -1-71 -1-183 -1-20 -1-71 -1-68 -1-52 -1-28 -1 132 -1 52 -1 56 -1 57 -1-141 -1 125 -1 47 -1 10 -1 115 -1 84 -1 53 -1 39 -1 108 -1 157 -1 30 -1-39 -1-9 -1-64 -1 37 -1 7 -1 100 -1-122 -1 172 -1-289 -1-46 -1-215 -1-199 -1-190 -1-58 -1-77 -1 102 -1-5 -1 167 -1 111 -1 173 -1 213 -1 50 -1-38 -1-124 -1-44 -1 214 -1-13 -1-64 -1-88 -1 85 -1-59 -1 76 -1-59 -1-46 -1 134 -1 62 -1 97 -1-70 -1 94 -1 53 -1 81 -1 9 -1-13 -1 91 -1-47 -1-60 -1-264 -1-36 -1-16 -1-129 -1 76 -1 41 -1 122 -1 146 -1 195 -1-9 -1-63 -1-312 -1-251 -1-105 -1 7 -1 54 -1 189 -1-11 -1 216 -1-52 -1 47 -1-1 -1 31 -1 13 -1-14 -1 5 -1-79 -1-58 -1-143 -1-113 -1-72 -1 8 -1-83 -1-62 -1 30 -1-115 -1 40 -1-29 -1-72 -1 53 -1 29 -1 44 -1 132 -1 12 -1 26 -1 213 -1 26 -1 91 -1 171 -1-75 -1 24 -1-270 -1-5 -1-105 -1 58 -1-9 -1-47 -1 62 -1 198 -1 354 -1 284 -1 271 -1 218 -1 293 -1-145 -1-598 -1-569 -1-353 -1-250 -1-166 -1 57 -1 116 -1 191 -1 80 -1-110 -1 30 -1 94 -1-31 -1 33 -1 103 -1-68 -1 116 -1-105 -1-104 -1-145 -1-74 -1-68 -1 113 -1-14z" fill="#e8957a" fill-opacity="0.7"/><path transform="translate(760.50 838.50) scale(1.35771 0.1)" d="M0 1672l1-83 1-86 1-35 1-79 1 122 1-2 1-54 1 134 1 35 1 76 1 43 1 54 1 56 1-179 1-98 1 24 1-16 1-88 1 12 1 79 1 63 1 308 1 437 1 508 1 505 1 260 1-528 1-552 1-414 1-618 1-73 1-75 1 34 1-1 1-188 1 79 1 215 1 62 1 193 1 83 1-115 1-14 1-183 1-68 1 38 1-19 1-25 1-33 1-23 1 48 1-31 1-5 1 55 1 53 1-84 1 18 1-38 1-121 1-3 1 81 1 96 1 16 1 59 1 12 1 175 1-83 1-27 1-74 1-57 1-172 1-216 1-138 1 211 1 184 1 155 1 323 1 434 1-9 1-175 1-15 1-223 1-57 1-183 1-135 1-91 1 121 1 139 1-20 1 65 1 2 1 235 1 7 1-12 1-64 1-80 1 26 1 46 1 62 1 5 1 28 1-133 1-75 1-116 1-35 1 77 1-45 1-182 1 85 1 75 1 12 1-27 1-111 1 47 1-193 1 15 1-213 1-173 1-109 1 150 1 183 1 16 1 75 1 167 1 0 1 92 1-2 1-55 1-152 1-157 1-34 1-89 1 200 1 8 1 131 1 106 1-81 1-51 1 109 1 20 1 8 1 22 1 55 1-50 1 109 1-66 1 54 1-95 1-54 1-167 1 84 1 22 1-17 1 12 1 1 1-38 1 124 1-37 1-95 1-141 1-39 1-53 1-100 1 29 1 121 1 21 1 127 1 51 1-2 1 46 1 78 1-42 1-65 1-169 1-40 1 96 1 76 1 58 1 118 1 85 1 8 1 24 1-66 1 11 1 107 1 53 1-30 1-35 1 21 1-80 1-29 1-24 1-109 1-6 1 53 1-35 1-18 1 32 1 117 1-102 1 102 1-129 1-79 1-46 1-48 1 116 1-13 1-10 1-156 1 81 1-25 1 48 1-87 1 114 1 13 1 42 1 26 1 5 1-9 1 55 1 27 1 22 1-103 1 15 1 55 1-108 1 120 1 35 1-38 1 2 1 69 1 75 1 80 1 29 1-86 1 117 1 45 1-46 1 43 1-112 1-24 1-32 1 85 1 19 1 143 1-63 1-56 1-98 1-111 1-111 1 145 1 47 1 16 1 5 1-134 1 55 1-26 1-119 1 8 1-38 1 78 1-155 1 19 1-39 1 35 1 90 1-44 1 16 1 106 1-94 1-46 1-118 1 41 1-39 1 82 1-80 1 19 1 11 1-31 1-113 1 7 1 59 1 44 1 95 1-122 1-24 1-112 1-132 1 45 1 119 1-112 1 53 1-48 1 126 1-40 1-138 1-21 1-53 1 105 1 113 1 174 1 137 1 29 1-47 1 79 1 78 1-53 1 130 1-34 1-6 1 9 1 27 1 150 1 47 1-10 1-4 1 21 1-120 1-62 1-31 1-19 1 9 1-37 1 62 1-91 1 114 1 22 1 81 1-4 1 116 1-15 1 130 1-88 1 69 1-92 1 37 1-62 1-20 1-136 1 48 1-7 1-41 1-2 1-32 1 19 1 13 1-65 1 82 1 86 1-21 1 8 1-9 1-24 1 3 1 39 1-91 1 41 1-44 1 1 1 60 1-51 1 16 1-61 1-76 1 90 1 64 1 10 1-57 1 14 1-38 1 62 1 64 1-18 1 5 1-110 1-30 1-126 1-45 1-44 1-92 1 142 1 63 1 51 1 48 1 80 1 16 1-156 1 38 1 147 1-57 1 64 1 11 1-108 1 52 1 42 1-44 1 72 1-93 1-24 1 97 1 161 1-120 1 51 1 20 1-54 1-154 1-104 1 42 1-86 1-56 1-89 1-13 1 57 1-106 1 135 1 16 1 48 1 101 1 96 1-65 1 54 1-140 1 63 1-33 1 117 1-80 1 70 1-66 1 89 1 65 1-92 1-78 1-83 1-49 1-38 1-28 1-111 1 192" fill="none" stroke="#1c1c7a" stroke-width="2.2" stroke-linejoin="round" vector-effect="non-scaling-stroke"/><path transform="translate(760.50 838.50) scale(1.35771 0.1)" d="M0 1665l1-101 1 123 1 105 1-29 1 8 1 64 1-409 1-64 1-250 1-125 1 48 1 138 1 273 1-146 1-10 1-116 1 217 1 122 1 225 1 413 1 314 1 544 1 522 1-105 1-540 1-447 1-216 1-286 1-239 1-109 1-218 1-138 1-275 1 115 1-55 1 62 1 61 1 321 1 161 1 207 1 186 1-123 1-24 1-51 1-114 1-177 1-19 1-129 1 31 1 31 1-33 1-47 1 76 1-107 1 20 1-125 1-35 1 15 1-8 1-4 1 180 1 120 1 45 1 4 1 13 1 190 1-37 1-72 1-97 1-133 1-214 1-70 1 100 1 164 1 77 1 303 1 144 1 41 1 121 1 119 1-45 1 122 1-153 1-304 1-46 1-179 1-31 1-217 1 5 1-64 1-68 1 19 1-33 1-25 1 133 1-153 1 68 1-7 1 113 1 20 1 64 1 80 1 0 1-69 1-49 1 30 1 64 1 34 1-120 1 44 1 120 1-89 1-154 1-22 1-6 1 29 1-21 1-92 1-136 1 199 1 107 1 257 1 115 1 154 1 200 1-42 1-40 1-144 1-125 1-152 1 87 1-141 1 107 1-269 1 250 1-40 1-116 1 94 1 201 1 92 1-20 1 91 1-33 1-1 1-25 1 164 1-244 1-15 1-24 1-5 1 43 1 2 1-103 1 182 1-134 1 0 1-100 1 44 1-109 1-121 1-165 1-222 1-11 1-27 1 148 1 92 1 111 1 177 1 256 1-77 1 231 1 83 1-235 1-116 1-146 1 100 1-164 1 163 1-102 1 46 1-107 1 1 1 54 1 37 1-7 1 54 1-22 1 96 1 82 1-4 1-122 1-53 1-37 1-4 1-49 1 130 1-83 1 34 1-25 1 120 1-80 1-48 1-139 1-67 1 120 1-96 1-52 1-137 1-147 1-39 1 22 1 194 1 312 1 181 1 168 1-118 1-16 1 29 1-20 1-64 1 33 1-132 1-50 1 86 1 97 1 41 1-143 1-101 1-59 1-127 1-142 1-81 1 109 1-109 1-22 1 41 1 30 1 84 1 286 1 135 1-177 1-105 1-95 1-155 1-103 1 4 1 175 1 21 1 86 1 76 1 68 1-112 1 106 1 43 1 44 1 74 1 116 1 155 1 97 1 148 1-161 1-46 1-141 1-48 1-160 1-20 1-58 1-235 1-36 1-10 1 103 1-139 1 29 1 73 1 55 1-20 1-90 1-159 1-75 1-98 1-205 1-72 1 66 1 22 1 127 1 77 1 40 1 67 1 62 1 163 1-301 1 92 1 24 1 122 1 31 1 138 1-81 1 148 1-22 1 139 1 13 1-1 1 28 1-73 1 278 1-66 1-41 1-42 1-204 1 12 1-23 1-130 1-131 1 62 1 9 1-11 1 240 1-33 1 0 1 109 1-18 1-21 1-132 1 49 1-16 1-41 1 42 1-41 1 173 1 185 1-18 1 105 1-69 1 236 1-90 1-65 1 152 1 52 1-95 1-274 1-43 1 149 1 170 1 204 1-24 1-227 1-70 1-45 1-23 1-95 1 79 1 58 1-110 1-94 1 86 1-124 1-30 1-132 1-144 1 155 1 230 1 87 1 128 1 32 1-35 1-23 1-166 1-152 1 76 1-29 1-38 1 66 1-126 1 42 1-193 1-13 1-45 1 29 1-15 1 71 1 151 1 150 1 71 1 61 1 187 1-56 1-54 1-58 1-70 1 20 1-71 1-84 1-55 1 168 1 151 1-64 1 20 1-140 1-171 1-74 1 63 1-102 1 149 1-2 1-53 1 45 1 70 1-20 1 149 1 1 1-109 1-119 1-27 1-85 1-95 1-118 1 255 1-34 1-123 1 85 1 13 1-19 1-86 1 56 1-61 1 185 1 17 1-149 1 51 1 118 1 101 1 27 1-16 1-36 1 0 1-27 1-178" fill="none" stroke="#3a88c8" stroke-width="2.2" stroke-linejoin="round" vector-effect="non-scaling-stroke"/><path transform="translate(760.50 838.50) scale(1.35771 0.1)" d="M0 1430l1 24 1-29 1 16 1 96 1 103 1 83 1 84 1-93 1 4 1-94 1-51 1 67 1-31 1-3 1 88 1-90 1-137 1-96 1-49 1 139 1 206 1 297 1 585 1 544 1 172 1-265 1-203 1-320 1-299 1-286 1-180 1-110 1 28 1 62 1-1 1 75 1 20 1 178 1 26 1 80 1-149 1-140 1-170 1-93 1-38 1-88 1-71 1-66 1-15 1-19 1 58 1 49 1-7 1 95 1 6 1 64 1 76 1-2 1 52 1 90 1 89 1 112 1 106 1 15 1 4 1-2 1-19 1-15 1-51 1-29 1-148 1-32 1-95 1-71 1 1 1 61 1 247 1 276 1 110 1-49 1-165 1-129 1-69 1-89 1-87 1 111 1 38 1 64 1 163 1 167 1 20 1-69 1-47 1-29 1-102 1-10 1-19 1 34 1-115 1-101 1-98 1 104 1 46 1-98 1 19 1-32 1 86 1 32 1-53 1-126 1 64 1 101 1 17 1-139 1-123 1-187 1-113 1-131 1-23 1-83 1 50 1 60 1 195 1 256 1 191 1 60 1 220 1-106 1 31 1-51 1-21 1 25 1 54 1-15 1 68 1-69 1-168 1-95 1-106 1-41 1-69 1-117 1 43 1-84 1-15 1 72 1-75 1-56 1-72 1-57 1 12 1 61 1 60 1 82 1-9 1 144 1 65 1 63 1-12 1-62 1-89 1-11 1-100 1-106 1-74 1-112 1 135 1 121 1 33 1 200 1 163 1 216 1 100 1-29 1-64 1 47 1 112 1 16 1 82 1 65 1 14 1 1 1-75 1-153 1-46 1-127 1-115 1-123 1-62 1-55 1-111 1-72 1 39 1 56 1 98 1 73 1 2 1 34 1 36 1-43 1-4 1 19 1 73 1 65 1-11 1-6 1-67 1-72 1-79 1-96 1-108 1 14 1-47 1-134 1 105 1 188 1 265 1 151 1 69 1 116 1-56 1 27 1 53 1 29 1 73 1 60 1-100 1 50 1-109 1-78 1-57 1-72 1-91 1-56 1-118 1-139 1-28 1-25 1-19 1 55 1-21 1-51 1-22 1 39 1 67 1 32 1-50 1 27 1 12 1-86 1 6 1-93 1 64 1 41 1 55 1-24 1-19 1 50 1-4 1 45 1 72 1 2 1-30 1 94 1-19 1-107 1-42 1-28 1-47 1-102 1-104 1-109 1 13 1 59 1-17 1 40 1 19 1-22 1 36 1 115 1-28 1-29 1 14 1 68 1-20 1-18 1-25 1-91 1 11 1-3 1-42 1-71 1-86 1 43 1-15 1 16 1 52 1 69 1 122 1 81 1 63 1-87 1 103 1 9 1-24 1 2 1-95 1-11 1 22 1 75 1-6 1 22 1-23 1 88 1 50 1 61 1-115 1 17 1-73 1-74 1-30 1-14 1-6 1 50 1 60 1 73 1 4 1 84 1 101 1 38 1-105 1-102 1-27 1 4 1-64 1 77 1-17 1 71 1 68 1-28 1-2 1-51 1-20 1-67 1 26 1 44 1 29 1 34 1-10 1 21 1-42 1 113 1-70 1-2 1 10 1-46 1-6 1 82 1 65 1 126 1 20 1-35 1-53 1 43 1-5 1-60 1-123 1-136 1 72 1-28 1 101 1 4 1 42 1-14 1 28 1-44 1-71 1-2 1 23 1-11 1-27 1 41 1 45 1-39 1 33 1-45 1 36 1-2 1-44 1-34 1 56 1 17 1 3 1 14 1 75 1-26 1-99 1-111 1-44 1 47 1 44 1 5 1 136 1 50 1-86 1-42 1-52 1-31 1-48 1 4 1 52 1 124 1 44 1 77 1 9 1-63 1-85 1-24 1 6 1-51 1-21 1-87 1 79 1-85 1 49 1 21 1 80 1-37 1-48 1-59 1 42 1-71 1-3 1 1 1-33 1 120 1 48" fill="none" stroke="#ff1e1e" stroke-width="2.2" stroke-linejoin="round" vector-effect="non-scaling-stroke"/></g><path d="M760.5 1307.5h6.5M1354.5 1307.5h-6.5M760.5 1255.4h6.5M1354.5 1255.4h-6.5M760.5 1203.3h6.5M1354.5 1203.3h-6.5M760.5 1151.2h6.5M1354.5 1151.2h-6.5M760.5 1099.1h6.5M1354.5 1099.1h-6.5M760.5 1046.9h6.5M1354.5 1046.9h-6.5M760.5 994.8h6.5M1354.5 994.8h-6.5M760.5 942.7h6.5M1354.5 942.7h-6.5M760.5 890.6h6.5M1354.5 890.6h-6.5M760.5 838.5h6.5M1354.5 838.5h-6.5M777.5 838.5v6.5M777.5 1307.5v-6.5M862.3 838.5v6.5M862.3 1307.5v-6.5M947.2 838.5v6.5M947.2 1307.5v-6.5M1032.0 838.5v6.5M1032.0 1307.5v-6.5M1116.9 838.5v6.5M1116.9 1307.5v-6.5M1201.8 838.5v6.5M1201.8 1307.5v-6.5M1286.6 838.5v6.5M1286.6 1307.5v-6.5" stroke="#5a5a5a" stroke-width="1.1" fill="none"/><rect x="760.5" y="838.5" width="594.0" height="469.0" fill="none" stroke="#5a5a5a" stroke-width="1.1"/><rect x="1241.4" y="849.5" width="98" height="75.7" fill="#fff" stroke="#444" stroke-width="1"/><rect x="1249.0" y="858.4" width="20.8" height="12.5" fill="#e8957a" fill-opacity="0.7"/><rect x="1249.0" y="863.8" width="20.8" height="2" fill="#ff1e1e"/><text x="1279.8" y="869.7" font-size="16.4">Young</text><rect x="1249.0" y="881.1" width="20.8" height="12.5" fill="#8680b6" fill-opacity="0.7"/><rect x="1249.0" y="886.5" width="20.8" height="2" fill="#1c1c7a"/><text x="1279.8" y="892.4" font-size="16.4">60 - 68</text><rect x="1249.0" y="903.9" width="20.8" height="12.5" fill="#a2c0e4" fill-opacity="0.7"/><rect x="1249.0" y="909.3" width="20.8" height="2" fill="#3a88c8"/><text x="1279.8" y="915.2" font-size="16.4">&gt; 68</text><rect x="1160.4" y="1164.4" width="177.4" height="126.0" fill="#fff" stroke="#6e6e6e" stroke-width="1"/><g transform="translate(1166.3 1168.9)"><path d="M0.0 30.8C-0.5 26.7 0.7 22.0 3.0 18.0C5.3 14.0 9.8 9.8 14.0 7.0C18.2 4.2 23.2 2.7 28.0 1.5C32.8 0.3 38.3 0.0 43.0 0.0C47.7 0.0 52.0 0.5 56.0 1.5C60.0 2.5 63.7 3.6 67.0 6.0C70.3 8.4 73.6 12.0 76.0 16.0C78.4 20.0 80.7 26.3 81.5 30.0C82.3 33.7 81.9 35.6 81.0 38.0C80.1 40.4 78.8 42.8 76.0 44.5C73.2 46.2 68.7 46.8 64.0 48.0C59.3 49.2 53.0 50.4 48.0 52.0C43.0 53.6 37.5 56.7 34.0 57.5C30.5 58.3 28.8 57.9 27.0 57.0C25.2 56.1 23.9 53.6 23.5 52.0C23.1 50.4 25.9 48.5 24.5 47.5C23.1 46.5 18.1 46.8 15.0 46.0C11.9 45.2 8.5 45.0 6.0 42.5C3.5 40.0 0.5 34.9 0.0 30.8Z" fill="url(#bg)" stroke="#3c3c3c" stroke-width="0.9"/><path d="M25.0 47.0C21.5 49.0 31.5 42.3 35.0 40.0C38.5 37.7 42.5 35.0 46.0 33.0C49.5 31.0 59.5 25.7 56.0 28.0" fill="none" stroke="#4e4e4e" stroke-width="1.2" stroke-linecap="round" opacity="0.8"/><path d="M44.0 1.0C44.7 -2.2 41.8 8.5 41.0 12.0C40.2 15.5 39.7 18.8 39.0 22.0C38.3 25.2 36.2 34.5 37.0 31.0" fill="none" stroke="#4e4e4e" stroke-width="1.2" stroke-linecap="round" opacity="0.8"/><path d="M29.0 54.0C24.7 55.3 37.5 49.8 42.0 48.0C46.5 46.2 51.7 44.3 56.0 43.0C60.3 41.7 72.5 38.2 68.0 40.0" fill="none" stroke="#4e4e4e" stroke-width="1.2" stroke-linecap="round" opacity="0.8"/><path d="M52.0 2.0C52.2 0.3 50.5 10.3 50.0 14.0C49.5 17.7 48.7 26.0 49.0 24.0" fill="none" stroke="#4e4e4e" stroke-width="1.2" stroke-linecap="round" opacity="0.8"/><path d="M8.0 22.0C6.0 22.3 14.3 17.3 18.0 16.0C21.7 14.7 31.7 13.0 30.0 14.0" fill="none" stroke="#4e4e4e" stroke-width="1.2" stroke-linecap="round" opacity="0.8"/><path d="M6.0 31.0C3.8 30.0 11.3 27.5 14.0 27.0C16.7 26.5 19.8 27.0 22.0 28.0C24.2 29.0 29.7 32.5 27.0 33.0" fill="none" stroke="#4e4e4e" stroke-width="1.2" stroke-linecap="round" opacity="0.8"/><path d="M54.0 16.0C51.7 13.8 60.0 12.7 63.0 13.0C66.0 13.3 69.7 15.8 72.0 18.0C74.3 20.2 80.0 26.3 77.0 26.0" fill="none" stroke="#4e4e4e" stroke-width="1.2" stroke-linecap="round" opacity="0.8"/><path d="M34.0 56.0C29.7 57.3 43.3 52.7 48.0 51.0C52.7 49.3 57.7 47.3 62.0 46.0C66.3 44.7 78.7 41.3 74.0 43.0" fill="none" stroke="#4e4e4e" stroke-width="1.2" stroke-linecap="round" opacity="0.8"/><path d="M14.0 10.0C12.3 10.2 19.0 7.7 22.0 7.0C25.0 6.3 33.3 5.5 32.0 6.0" fill="none" stroke="#4e4e4e" stroke-width="1.2" stroke-linecap="round" opacity="0.8"/><path d="M62.0 30.0C61.0 29.0 67.7 30.7 70.0 32.0C72.3 33.3 77.3 38.3 76.0 38.0" fill="none" stroke="#4e4e4e" stroke-width="1.2" stroke-linecap="round" opacity="0.8"/></g><g transform="translate(1250.3 1168.9)"><path d="M81.5 30.8C82.0 26.7 80.8 22.0 78.5 18.0C76.2 14.0 71.7 9.8 67.5 7.0C63.3 4.2 58.3 2.7 53.5 1.5C48.7 0.3 43.2 0.0 38.5 0.0C33.8 0.0 29.5 0.5 25.5 1.5C21.5 2.5 17.8 3.6 14.5 6.0C11.2 8.4 7.9 12.0 5.5 16.0C3.1 20.0 0.8 26.3 0.0 30.0C-0.8 33.7 -0.4 35.6 0.5 38.0C1.4 40.4 2.7 42.8 5.5 44.5C8.3 46.2 12.8 46.8 17.5 48.0C22.2 49.2 28.5 50.4 33.5 52.0C38.5 53.6 44.0 56.7 47.5 57.5C51.0 58.3 52.8 57.9 54.5 57.0C56.2 56.1 57.6 53.6 58.0 52.0C58.4 50.4 55.6 48.5 57.0 47.5C58.4 46.5 63.4 46.8 66.5 46.0C69.6 45.2 73.0 45.0 75.5 42.5C78.0 40.0 81.0 34.9 81.5 30.8Z" fill="url(#bg)" stroke="#3c3c3c" stroke-width="0.9"/><path d="M56.5 47.0C60.0 49.0 50.0 42.3 46.5 40.0C43.0 37.7 39.0 35.0 35.5 33.0C32.0 31.0 22.0 25.7 25.5 28.0" fill="none" stroke="#4e4e4e" stroke-width="1.2" stroke-linecap="round" opacity="0.8"/><path d="M37.5 1.0C36.8 -2.2 39.7 8.5 40.5 12.0C41.3 15.5 41.8 18.8 42.5 22.0C43.2 25.2 45.3 34.5 44.5 31.0" fill="none" stroke="#4e4e4e" stroke-width="1.2" stroke-linecap="round" opacity="0.8"/><path d="M52.5 54.0C56.8 55.3 44.0 49.8 39.5 48.0C35.0 46.2 29.8 44.3 25.5 43.0C21.2 41.7 9.0 38.2 13.5 40.0" fill="none" stroke="#4e4e4e" stroke-width="1.2" stroke-linecap="round" opacity="0.8"/><path d="M29.5 2.0C29.3 0.3 31.0 10.3 31.5 14.0C32.0 17.7 32.8 26.0 32.5 24.0" fill="none" stroke="#4e4e4e" stroke-width="1.2" stroke-linecap="round" opacity="0.8"/><path d="M73.5 22.0C75.5 22.3 67.2 17.3 63.5 16.0C59.8 14.7 49.8 13.0 51.5 14.0" fill="none" stroke="#4e4e4e" stroke-width="1.2" stroke-linecap="round" opacity="0.8"/><path d="M75.5 31.0C77.7 30.0 70.2 27.5 67.5 27.0C64.8 26.5 61.7 27.0 59.5 28.0C57.3 29.0 51.8 32.5 54.5 33.0" fill="none" stroke="#4e4e4e" stroke-width="1.2" stroke-linecap="round" opacity="0.8"/><path d="M27.5 16.0C29.8 13.8 21.5 12.7 18.5 13.0C15.5 13.3 11.8 15.8 9.5 18.0C7.2 20.2 1.5 26.3 4.5 26.0" fill="none" stroke="#4e4e4e" stroke-width="1.2" stroke-linecap="round" opacity="0.8"/><path d="M47.5 56.0C51.8 57.3 38.2 52.7 33.5 51.0C28.8 49.3 23.8 47.3 19.5 46.0C15.2 44.7 2.8 41.3 7.5 43.0" fill="none" stroke="#4e4e4e" stroke-width="1.2" stroke-linecap="round" opacity="0.8"/><path d="M67.5 10.0C69.2 10.2 62.5 7.7 59.5 7.0C56.5 6.3 48.2 5.5 49.5 6.0" fill="none" stroke="#4e4e4e" stroke-width="1.2" stroke-linecap="round" opacity="0.8"/><path d="M19.5 30.0C20.5 29.0 13.8 30.7 11.5 32.0C9.2 33.3 4.2 38.3 5.5 38.0" fill="none" stroke="#4e4e4e" stroke-width="1.2" stroke-linecap="round" opacity="0.8"/></g><g transform="translate(1166.3 1228.4)"><path d="M0.0 31.9C0.0 28.9 1.0 23.8 3.0 20.0C5.0 16.2 8.3 11.9 12.0 9.0C15.7 6.1 20.3 4.0 25.0 2.5C29.7 1.0 35.0 0.2 40.0 0.0C45.0 -0.2 50.3 0.0 55.0 1.0C59.7 2.0 64.3 3.5 68.0 6.0C71.7 8.5 74.8 12.0 77.0 16.0C79.2 20.0 81.2 26.0 81.5 30.0C81.8 34.0 80.6 37.4 79.0 40.0C77.4 42.6 75.2 44.2 72.0 45.5C68.8 46.8 62.2 46.9 60.0 48.0C57.8 49.1 59.3 50.5 58.5 52.0C57.7 53.5 56.4 56.0 55.0 57.0C53.6 58.0 51.8 58.5 50.0 58.3C48.2 58.1 46.5 57.4 44.0 56.0C41.5 54.6 38.7 51.7 35.0 50.0C31.3 48.3 26.2 47.3 22.0 46.0C17.8 44.7 13.2 43.3 10.0 42.0C6.8 40.7 4.7 39.7 3.0 38.0C1.3 36.3 0.0 34.9 0.0 31.9Z" fill="url(#bg2)" stroke="#3c3c3c" stroke-width="0.9"/><path d="M8.0 36.0C-1.8 33.7 12.3 25.8 16.0 22.0C19.7 18.2 25.0 14.8 30.0 13.0C35.0 11.2 40.7 10.7 46.0 11.0C51.3 11.3 57.7 12.7 62.0 15.0C66.3 17.3 69.8 21.5 72.0 25.0C74.2 28.5 85.7 34.2 75.0 36.0" fill="none" stroke="#4e4e4e" stroke-width="1.2" stroke-linecap="round" opacity="0.8"/><path d="M10.0 40.0C6.0 38.5 18.0 40.3 22.0 41.0C26.0 41.7 30.0 42.5 34.0 44.0C38.0 45.5 50.0 50.7 46.0 50.0" fill="none" stroke="#4e4e4e" stroke-width="1.2" stroke-linecap="round" opacity="0.8"/><path d="M24.0 34.0C24.7 31.8 31.7 28.3 36.0 27.0C40.3 25.7 45.7 25.5 50.0 26.0C54.3 26.5 59.7 28.2 62.0 30.0C64.3 31.8 65.0 35.3 64.0 37.0C63.0 38.7 59.3 39.8 56.0 40.0C52.7 40.2 48.0 38.0 44.0 38.0C40.0 38.0 35.3 40.7 32.0 40.0C28.7 39.3 23.3 36.2 24.0 34.0Z" fill="#c9c9c9" stroke="#8a8a8a" stroke-width="0.6" opacity="0.8"/></g><g transform="translate(1250.3 1228.4)"><path d="M81.5 31.9C81.5 28.9 80.5 23.8 78.5 20.0C76.5 16.2 73.2 11.9 69.5 9.0C65.8 6.1 61.2 4.0 56.5 2.5C51.8 1.0 46.5 0.2 41.5 0.0C36.5 -0.2 31.2 0.0 26.5 1.0C21.8 2.0 17.2 3.5 13.5 6.0C9.8 8.5 6.8 12.0 4.5 16.0C2.2 20.0 0.3 26.0 0.0 30.0C-0.3 34.0 0.9 37.4 2.5 40.0C4.1 42.6 6.3 44.2 9.5 45.5C12.7 46.8 19.2 46.9 21.5 48.0C23.8 49.1 22.2 50.5 23.0 52.0C23.8 53.5 25.1 56.0 26.5 57.0C27.9 58.0 29.7 58.5 31.5 58.3C33.3 58.1 35.0 57.4 37.5 56.0C40.0 54.6 42.8 51.7 46.5 50.0C50.2 48.3 55.3 47.3 59.5 46.0C63.7 44.7 68.3 43.3 71.5 42.0C74.7 40.7 76.8 39.7 78.5 38.0C80.2 36.3 81.5 34.9 81.5 31.9Z" fill="url(#bg2)" stroke="#3c3c3c" stroke-width="0.9"/><path d="M73.5 36.0C83.3 33.7 69.2 25.8 65.5 22.0C61.8 18.2 56.5 14.8 51.5 13.0C46.5 11.2 40.8 10.7 35.5 11.0C30.2 11.3 23.8 12.7 19.5 15.0C15.2 17.3 11.7 21.5 9.5 25.0C7.3 28.5 -4.2 34.2 6.5 36.0" fill="none" stroke="#4e4e4e" stroke-width="1.2" stroke-linecap="round" opacity="0.8"/><path d="M71.5 40.0C75.5 38.5 63.5 40.3 59.5 41.0C55.5 41.7 51.5 42.5 47.5 44.0C43.5 45.5 31.5 50.7 35.5 50.0" fill="none" stroke="#4e4e4e" stroke-width="1.2" stroke-linecap="round" opacity="0.8"/><path d="M57.5 34.0C56.8 31.8 49.8 28.3 45.5 27.0C41.2 25.7 35.8 25.5 31.5 26.0C27.2 26.5 21.8 28.2 19.5 30.0C17.2 31.8 16.5 35.3 17.5 37.0C18.5 38.7 22.2 39.8 25.5 40.0C28.8 40.2 33.5 38.0 37.5 38.0C41.5 38.0 46.2 40.7 49.5 40.0C52.8 39.3 58.2 36.2 57.5 34.0Z" fill="#c9c9c9" stroke="#8a8a8a" stroke-width="0.6" opacity="0.8"/></g><polygon points="1297.3,1173.4 1299.8,1173.7 1300.3,1175.4 1297.8,1175.7" fill="#f02222" stroke="#e01818" stroke-width="0.8" stroke-linejoin="round"/><polygon points="1307.3,1203.9 1312.3,1200.9 1320.3,1201.9 1323.3,1206.9 1321.3,1213.9 1314.3,1215.9 1308.3,1212.9" fill="#f02222" stroke="#e01818" stroke-width="0.8" stroke-linejoin="round"/><polygon points="1312.3,1191.9 1315.3,1190.9 1316.3,1193.9 1313.3,1194.9" fill="#f02222" stroke="#e01818" stroke-width="0.8" stroke-linejoin="round"/><polygon points="1318.3,1195.9 1322.3,1195.9 1323.3,1198.9 1319.3,1199.9" fill="#f02222" stroke="#e01818" stroke-width="0.8" stroke-linejoin="round"/><polygon points="1303.3,1201.9 1307.3,1201.9 1307.3,1203.9 1303.3,1204.4" fill="#f02222" stroke="#e01818" stroke-width="0.8" stroke-linejoin="round"/><polygon points="1272.3,1199.9 1275.3,1200.9 1279.3,1206.9 1278.3,1211.9 1274.3,1210.9 1272.3,1205.9" fill="#f02222" stroke="#e01818" stroke-width="0.8" stroke-linejoin="round"/><polygon points="1273.3,1215.9 1280.3,1213.9 1288.3,1215.9 1296.3,1216.9 1303.3,1214.9 1308.3,1217.9 1308.3,1223.9 1302.3,1226.9 1294.3,1224.9 1284.3,1220.9 1276.3,1218.9" fill="#f02222" stroke="#e01818" stroke-width="0.8" stroke-linejoin="round"/><polygon points="1297.3,1208.9 1301.3,1206.9 1304.3,1211.9 1300.3,1213.9" fill="#f02222" stroke="#e01818" stroke-width="0.8" stroke-linejoin="round"/><polygon points="1194.8,1259.4 1197.3,1258.9 1198.3,1261.4 1195.8,1262.4" fill="#f02222" stroke="#e01818" stroke-width="0.8" stroke-linejoin="round"/><polygon points="1222.3,1270.9 1226.3,1265.4 1229.3,1263.4 1230.8,1264.9 1227.3,1268.4 1223.3,1271.9" fill="#f02222" stroke="#e01818" stroke-width="0.8" stroke-linejoin="round"/><polygon points="1277.3,1239.4 1283.3,1238.0 1290.3,1239.4 1297.3,1238.2 1299.3,1240.4 1295.3,1244.4 1287.3,1244.9 1280.3,1243.4" fill="#f02222" stroke="#e01818" stroke-width="0.8" stroke-linejoin="round"/><polygon points="1266.3,1264.4 1270.3,1262.4 1275.3,1263.4 1278.3,1268.4 1279.3,1273.4 1275.3,1274.4 1270.3,1269.4" fill="#f02222" stroke="#e01818" stroke-width="0.8" stroke-linejoin="round"/><polygon points="1300.3,1260.4 1308.3,1257.4 1316.3,1258.4 1316.3,1264.4 1312.3,1270.4 1306.3,1276.4 1298.3,1281.4 1288.3,1285.4 1279.3,1286.4 1277.3,1282.4 1286.3,1278.4 1296.3,1273.4 1302.3,1268.4 1301.3,1263.4" fill="#f02222" stroke="#e01818" stroke-width="0.8" stroke-linejoin="round"/><path d="M874.5 1078.8v8.8H899.3v-8.8" stroke="#000" stroke-width="2.4" fill="none"/><text x="751.7" y="1310.6" font-size="20" text-anchor="end">-60</text><text x="751.7" y="1258.9" font-size="20" text-anchor="end">-50</text><text x="751.7" y="1207.2" font-size="20" text-anchor="end">-40</text><text x="751.7" y="1155.6" font-size="20" text-anchor="end">-30</text><text x="751.7" y="1103.9" font-size="20" text-anchor="end">-20</text><text x="751.7" y="1052.2" font-size="20" text-anchor="end">-10</text><text x="751.7" y="1000.6" font-size="20" text-anchor="end">0</text><text x="751.7" y="948.9" font-size="20" text-anchor="end">10</text><text x="751.7" y="897.2" font-size="20" text-anchor="end">20</text><text x="751.7" y="845.5" font-size="20" text-anchor="end">30</text><text x="776.8" y="1327.4" font-size="20" text-anchor="middle">0</text><text x="859.8" y="1327.4" font-size="20" text-anchor="middle">0.5</text><text x="945.0" y="1327.4" font-size="20" text-anchor="middle">1</text><text x="1029.2" y="1327.4" font-size="20" text-anchor="middle">1.5</text><text x="1115.4" y="1327.4" font-size="20" text-anchor="middle">2</text><text x="1198.3" y="1327.4" font-size="20" text-anchor="middle">2.5</text><text x="1285.1" y="1327.4" font-size="20" text-anchor="middle">3</text><text x="1048.2" y="1354.9" font-size="21.5" text-anchor="middle">Time (s)</text><text transform="translate(710.6 1094.0) rotate(-90)" font-size="21.5" text-anchor="middle">Neural activity index</text><text x="984.1" y="812.1" font-size="31" textLength="115.6" lengthAdjust="spacingAndGlyphs">Novel T1</text><text transform="translate(760.2 1397.4) scale(1.280 1)" font-size="29.45" fill="#000" font-family="'Noto Sans CJK JP', sans-serif">&#9834;</text><text transform="translate(825.4 1397.4) scale(1.280 1)" font-size="29.45" fill="#e8262a" font-family="'Noto Sans CJK JP', sans-serif">&#9834;</text><text transform="translate(884.1 1397.4) scale(1.280 1)" font-size="29.45" fill="#e8262a" font-family="'Noto Sans CJK JP', sans-serif">&#9834;</text><text transform="translate(946.6 1397.4) scale(1.280 1)" font-size="29.45" fill="#e8262a" font-family="'Noto Sans CJK JP', sans-serif">&#9834;</text><text transform="translate(1007.3 1397.4) scale(1.280 1)" font-size="29.45" fill="#e8262a" font-family="'Noto Sans CJK JP', sans-serif">&#9834;</text><clipPath id="c12"><rect x="1452.5" y="838.5" width="594.0" height="469.0"/></clipPath><g clip-path="url(#c12)"><rect x="1541.9" y="838.5" width="8.7" height="469.0" fill="#dcdcdd"/><rect x="1692.1" y="838.5" width="13.9" height="469.0" fill="#dcdcdd"/><rect x="1708.6" y="838.5" width="4.1" height="469.0" fill="#dcdcdd"/><rect x="1741.5" y="838.5" width="2.9" height="469.0" fill="#dcdcdd"/><path d="M1469.5 838.5V1307.5M1486.4 838.5V1307.5M1503.4 838.5V1307.5M1520.4 838.5V1307.5M1537.4 838.5V1307.5M1554.3 838.5V1307.5M1571.3 838.5V1307.5M1588.3 838.5V1307.5M1605.2 838.5V1307.5M1622.2 838.5V1307.5M1639.2 838.5V1307.5M1656.2 838.5V1307.5M1673.1 838.5V1307.5M1690.1 838.5V1307.5M1707.1 838.5V1307.5M1724.0 838.5V1307.5M1741.0 838.5V1307.5M1758.0 838.5V1307.5M1775.0 838.5V1307.5M1791.9 838.5V1307.5M1808.9 838.5V1307.5M1825.9 838.5V1307.5M1842.8 838.5V1307.5M1859.8 838.5V1307.5M1876.8 838.5V1307.5M1893.8 838.5V1307.5M1910.7 838.5V1307.5M1927.7 838.5V1307.5M1944.7 838.5V1307.5M1961.6 838.5V1307.5M1978.6 838.5V1307.5M1995.6 838.5V1307.5M2012.6 838.5V1307.5M2029.5 838.5V1307.5M1452.5 1297.1H2046.5M1452.5 1286.7H2046.5M1452.5 1276.2H2046.5M1452.5 1265.8H2046.5M1452.5 1255.4H2046.5M1452.5 1245.0H2046.5M1452.5 1234.5H2046.5M1452.5 1224.1H2046.5M1452.5 1213.7H2046.5M1452.5 1203.3H2046.5M1452.5 1192.9H2046.5M1452.5 1182.4H2046.5M1452.5 1172.0H2046.5M1452.5 1161.6H2046.5M1452.5 1151.2H2046.5M1452.5 1140.7H2046.5M1452.5 1130.3H2046.5M1452.5 1119.9H2046.5M1452.5 1109.5H2046.5M1452.5 1099.1H2046.5M1452.5 1088.6H2046.5M1452.5 1078.2H2046.5M1452.5 1067.8H2046.5M1452.5 1057.4H2046.5M1452.5 1046.9H2046.5M1452.5 1036.5H2046.5M1452.5 1026.1H2046.5M1452.5 1015.7H2046.5M1452.5 1005.3H2046.5M1452.5 994.8H2046.5M1452.5 984.4H2046.5M1452.5 974.0H2046.5M1452.5 963.6H2046.5M1452.5 953.1H2046.5M1452.5 942.7H2046.5M1452.5 932.3H2046.5M1452.5 921.9H2046.5M1452.5 911.5H2046.5M1452.5 901.0H2046.5M1452.5 890.6H2046.5M1452.5 880.2H2046.5M1452.5 869.8H2046.5M1452.5 859.3H2046.5M1452.5 848.9H2046.5" stroke="#bdbdbd" stroke-width="0.9" stroke-dasharray="1.2 2.3" fill="none"/><path transform="translate(1452.50 838.50) scale(1.35771 0.1)" d="M0 1307l1 163 1-42 1 31 1 86 1 42 1-548 1 270 1-74 1-70 1-206 1 197 1-111 1 12 1 113 1-239 1 153 1-51 1-282 1 155 1 509 1 547 1 740 1 566 1-90 1-415 1-131 1-414 1-271 1-577 1-266 1-107 1-168 1 68 1-160 1 240 1 261 1 24 1 23 1-215 1-18 1-32 1 39 1 98 1-106 1 142 1-129 1 241 1-102 1 168 1-120 1-220 1-21 1 69 1-181 1 83 1-514 1 573 1-452 1 310 1-48 1 58 1 61 1 4 1-9 1-270 1 163 1-112 1 118 1-230 1-108 1-58 1-87 1 111 1-404 1 774 1-247 1 814 1-163 1 190 1-524 1 433 1 274 1-158 1 72 1-112 1-241 1-123 1-29 1-84 1-37 1 6 1 190 1-82 1 199 1-139 1-75 1-67 1 13 1-41 1 133 1-244 1 151 1-20 1 237 1-28 1 161 1-86 1-108 1-350 1 413 1 29 1-138 1-204 1 94 1 50 1-323 1-481 1 62 1 648 1 226 1 226 1 127 1 236 1-145 1 117 1-82 1-303 1 145 1-8 1 42 1-138 1 41 1-152 1-184 1-167 1 106 1 5 1 115 1 84 1-84 1 30 1 7 1-5 1-417 1 271 1-438 1 505 1-127 1-98 1 117 1 161 1 107 1-299 1 26 1 267 1-57 1 55 1-62 1-148 1-13 1-96 1-328 1-58 1 90 1 211 1 230 1 301 1 257 1 74 1 141 1 142 1-58 1-94 1-189 1-196 1-21 1 5 1 161 1 187 1-40 1 123 1-78 1-68 1-120 1-87 1-40 1 129 1 26 1-195 1 111 1-53 1 194 1-132 1-100 1-37 1 93 1 111 1-24 1 43 1-217 1 71 1-148 1-257 1 42 1 94 1-28 1-43 1 134 1-57 1-24 1-436 1 112 1 44 1 140 1 68 1-267 1 478 1-37 1-78 1-228 1-213 1 265 1-144 1 121 1-30 1-90 1-62 1-32 1 42 1 116 1-36 1 109 1 1 1-354 1 139 1-92 1-22 1-292 1 354 1-20 1-61 1-25 1-46 1-5 1-107 1 207 1 175 1-50 1-45 1-43 1-36 1 181 1-137 1-240 1-29 1 178 1-98 1-24 1 114 1-248 1 461 1 32 1 164 1 151 1 0 1-5 1-247 1-157 1-13 1-209 1-142 1-174 1 52 1 1 1 161 1 70 1 133 1-178 1 202 1-552 1 369 1 45 1 79 1-172 1-54 1-93 1-261 1 406 1 144 1-66 1 102 1 1 1 75 1 89 1-100 1-4 1 194 1-99 1 26 1-31 1-159 1-41 1-31 1 192 1 66 1 171 1 134 1 48 1 94 1-48 1 107 1 96 1 149 1-187 1 56 1-46 1 55 1 82 1 69 1 4 1-33 1 18 1 154 1 36 1-10 1-115 1 158 1-229 1-76 1 175 1-150 1-162 1 203 1 58 1 80 1 161 1 36 1-443 1 43 1-298 1 247 1-333 1 165 1 200 1-27 1 66 1-59 1 151 1-87 1 107 1-16 1-77 1 93 1-25 1-168 1 318 1 71 1-195 1-159 1-260 1 371 1-117 1-59 1 145 1 166 1 109 1-9 1 43 1-100 1-180 1-110 1-151 1-127 1 382 1 11 1 90 1-25 1 55 1-623 1 539 1-406 1-119 1 166 1-325 1 355 1-24 1-330 1 189 1-202 1-108 1 274 1 15 1-19 1-1 1-27 1-4 1 146 1 13 1 145 1-150 1-94 1 59 1 172 1-49 1 123 1 27 1-73 1 359 1-8 1 117 1-551 1 484 1 18 1-143 1-83 1-169 1-27 1-340 1 36 1 280 1-35 1-97 1 20 1 145 1-40 1 246 1-27 1 76 1-265 1 199 1 103 1-190 1-404 1 250 1-21 1-1 1 39V1593l-1 134 -1 59 -1 18 -1-51 -1 6 -1 189 -1-133 -1 484 -1-202 -1 91 -1-62 -1-63 -1-12 -1-103 -1 65 -1-33 -1 69 -1 25 -1 3 -1 133 -1-61 -1-33 -1 6 -1 139 -1 71 -1 161 -1-233 -1-122 -1 19 -1-57 -1 6 -1 87 -1-225 -1 148 -1-92 -1-260 -1 102 -1 84 -1-162 -1 24 -1-110 -1-43 -1 26 -1 125 -1 57 -1 133 -1 347 -1-474 -1-64 -1 2 -1-15 -1-1 -1-17 -1 219 -1-29 -1-58 -1 229 -1-157 -1 151 -1-45 -1 117 -1-51 -1 106 -1-99 -1 93 -1 263 -1-343 -1 587 -1-169 -1 15 -1-98 -1-335 -1-16 -1 139 -1-36 -1 30 -1 115 -1-317 -1 105 -1 75 -1 71 -1-94 -1 9 -1-59 -1-45 -1 5 -1 46 -1 74 -1-207 -1-45 -1 170 -1-219 -1 139 -1-63 -1 36 -1 484 -1-500 -1 117 -1 100 -1 378 -1-83 -1-409 -1-139 -1 35 -1-27 -1 21 -1 159 -1-96 -1 236 -1 7 -1 50 -1 9 -1-35 -1 89 -1-350 -1 82 -1-149 -1 163 -1 9 -1-28 -1 9 -1-166 -1 80 -1 111 -1 12 -1-262 -1-84 -1-117 -1-84 -1-112 -1-32 -1-220 -1-55 -1-35 -1-29 -1 14 -1 152 -1-111 -1-68 -1 180 -1-112 -1 40 -1 27 -1 325 -1-347 -1-81 -1-27 -1 138 -1-155 -1 43 -1-180 -1-51 -1-134 -1 144 -1 238 -1 49 -1 171 -1 179 -1-227 -1-33 -1-459 -1 268 -1-487 -1 26 -1 89 -1 232 -1 231 -1 47 -1-122 -1 113 -1 239 -1 152 -1 24 -1-118 -1-176 -1-50 -1-34 -1-43 -1-239 -1 120 -1-8 -1 124 -1-246 -1 95 -1-39 -1-34 -1 290 -1 153 -1-152 -1-11 -1 26 -1 204 -1-225 -1-88 -1 269 -1-299 -1-18 -1 104 -1-48 -1-34 -1 129 -1 68 -1 23 -1-135 -1 153 -1 31 -1 99 -1-229 -1-17 -1-15 -1-50 -1 189 -1 14 -1-54 -1 120 -1-135 -1 105 -1 206 -1 224 -1-109 -1 84 -1-255 -1-131 -1-232 -1 1 -1 79 -1 387 -1 218 -1-229 -1 7 -1-57 -1 207 -1-186 -1 118 -1-42 -1 127 -1-30 -1-76 -1-38 -1 301 -1 59 -1 151 -1 15 -1-22 -1-161 -1-3 -1 303 -1-353 -1 397 -1-431 -1 129 -1-21 -1 11 -1-44 -1-35 -1 24 -1-73 -1 6 -1 335 -1-427 -1-126 -1-99 -1 240 -1 323 -1-189 -1 87 -1-28 -1 98 -1-294 -1-231 -1 273 -1-619 -1-347 -1-226 -1-75 -1 398 -1 81 -1 217 -1 322 -1 34 -1 146 -1-236 -1-71 -1-162 -1 123 -1-16 -1-11 -1-33 -1 23 -1 156 -1-227 -1 18 -1-52 -1 126 -1 45 -1 5 -1 99 -1-215 -1-169 -1 170 -1 201 -1-138 -1 390 -1-213 -1 96 -1 74 -1 127 -1 417 -1-479 -1 111 -1 51 -1-85 -1-12 -1 12 -1-198 -1-54 -1-231 -1-208 -1-228 -1 171 -1 173 -1 200 -1 251 -1-332 -1-39 -1 225 -1 269 -1-337 -1-98 -1 59 -1-3 -1-77 -1 87 -1-132 -1-17 -1-160 -1 190 -1-276 -1 308 -1 121 -1-13 -1-79 -1-88 -1-196 -1 0 -1-42 -1 48 -1 27 -1 69 -1 116 -1 85 -1 43 -1 24 -1-27 -1 216 -1 303 -1-274 -1-12 -1-68 -1 18 -1-280 -1-213 -1-312 -1-107 -1 70 -1 46 -1-110 -1 87 -1 111 -1 113 -1 84 -1 49 -1 206 -1-190 -1-65 -1-56 -1 91 -1 13 -1 109 -1 59 -1-32 -1 304 -1-551 -1 247 -1-141 -1 205 -1 216 -1 100 -1-80 -1-187 -1-78 -1-49 -1 49 -1 17 -1 16 -1 93 -1 217 -1-262 -1 230 -1-82 -1-121 -1-159 -1 3 -1-24 -1-11 -1-142 -1 205 -1 353 -1 451 -1 272 -1 363 -1 460 -1 387 -1-109 -1-253 -1-718 -1-750 -1-452 -1-316 -1 199 -1 249 -1 72 -1-161 -1 13 -1-123 -1-53 -1-117 -1 247 -1 181 -1 123 -1 38 -1 307 -1-192 -1-6 -1-101 -1-30 -1-110z" fill="#a2c0e4" fill-opacity="0.7"/><path transform="translate(1452.50 838.50) scale(1.35771 0.1)" d="M0 1240l1 105 1 25 1-5 1-118 1-83 1 109 1 73 1-1 1 56 1-111 1 11 1 45 1-35 1 184 1-221 1-110 1-128 1-99 1-80 1 241 1 160 1 374 1 598 1 552 1 587 1 304 1-518 1-701 1-475 1-528 1-155 1-318 1 21 1-111 1 307 1 62 1 296 1 30 1 92 1-106 1-108 1-117 1-113 1-134 1 29 1 76 1-201 1 101 1-117 1 170 1-18 1-36 1 38 1-82 1 52 1 72 1-52 1-17 1-78 1 20 1-208 1 241 1-250 1 210 1 181 1 211 1-2 1 57 1-116 1-170 1-99 1-35 1-25 1 238 1 285 1 154 1 222 1-22 1-160 1-175 1-31 1-168 1-87 1-4 1-77 1-237 1 79 1-161 1-92 1-38 1-313 1 361 1 119 1 221 1-70 1-58 1-58 1 412 1-13 1-77 1-144 1-204 1-277 1 273 1-39 1-31 1-15 1-82 1 47 1 128 1 14 1 91 1-19 1-100 1-153 1 4 1-306 1 91 1 255 1-64 1 252 1 166 1 149 1-79 1 82 1 30 1 180 1-101 1 158 1-27 1-74 1-102 1-72 1-149 1 146 1-43 1-11 1-67 1-26 1 149 1 111 1 68 1-177 1-174 1 65 1-18 1 60 1 47 1-197 1 44 1 12 1-49 1-27 1 68 1 110 1-22 1 59 1-149 1 104 1-262 1-74 1-36 1-145 1 3 1 181 1 196 1-55 1 464 1 158 1 78 1-63 1 4 1-173 1-64 1-170 1-175 1 113 1 87 1-77 1 385 1 186 1 154 1 279 1 23 1-57 1-236 1-137 1-163 1-165 1-170 1 67 1 27 1 96 1 25 1-54 1-79 1-90 1 109 1 72 1-106 1-41 1-127 1 22 1-181 1 31 1 64 1-83 1-163 1-174 1-64 1-203 1-63 1-30 1 513 1 25 1 276 1-240 1-19 1-93 1-23 1-83 1-222 1 101 1-69 1 156 1-118 1 259 1 6 1-9 1 45 1 25 1 17 1-178 1 276 1-134 1-126 1-22 1 65 1 17 1 70 1 126 1-52 1 38 1 13 1-27 1 55 1-68 1-1 1-29 1-15 1-66 1-98 1 169 1 11 1 147 1 6 1-62 1-50 1-81 1 49 1 32 1-91 1-51 1 133 1 12 1-6 1 54 1-260 1 7 1-90 1-38 1 184 1-147 1-35 1-104 1 185 1 134 1-20 1-71 1 33 1 237 1-23 1-109 1 75 1 11 1-321 1 353 1 46 1 60 1-241 1 288 1-21 1-23 1 52 1-103 1 414 1 6 1 152 1-37 1 9 1-25 1-124 1 31 1-190 1 0 1 96 1 49 1 30 1 88 1 8 1-13 1 132 1-186 1 75 1-11 1 19 1 100 1-34 1 3 1 13 1-14 1 11 1 83 1-49 1-144 1-54 1-42 1-55 1 72 1-87 1 70 1 52 1 126 1 149 1 15 1-14 1-116 1-41 1-96 1-220 1 209 1 179 1-108 1 109 1 99 1-72 1 4 1-226 1-59 1 7 1-234 1 79 1 69 1-6 1 130 1 89 1-59 1-178 1 102 1-70 1-2 1-20 1 3 1 74 1-19 1-116 1 52 1-84 1 48 1 19 1-112 1 206 1-76 1 162 1 3 1-26 1-41 1-35 1 85 1 29 1 132 1 78 1-137 1 101 1-56 1-88 1-134 1-221 1 105 1-58 1 1 1 13 1 113 1 33 1 50 1-69 1-49 1 118 1-27 1-105 1 20 1 43 1 32 1 41 1 85 1 94 1 76 1-22 1-281 1 13 1-141 1 54 1-154 1 169 1 121 1-187 1 306 1-66 1 49 1-124 1 55 1-377 1 251 1-40 1 152 1-106 1-5 1 107 1-72 1-27 1-8 1-140 1 13 1 58 1 54 1 157 1-70V1765l-1 76 -1-79 -1-22 -1 69 -1 131 -1 64 -1-212 -1 167 -1 135 -1 93 -1 30 -1-269 -1-88 -1 20 -1 11 -1 84 -1-68 -1-20 -1-39 -1 119 -1-169 -1 68 -1 1 -1-103 -1-93 -1-49 -1 55 -1 221 -1 3 -1 260 -1-160 -1 89 -1-73 -1 99 -1-18 -1 13 -1-152 -1 108 -1-203 -1-43 -1 30 -1 96 -1-139 -1 53 -1-152 -1 56 -1-5 -1 120 -1 264 -1-40 -1 63 -1 1 -1-29 -1-190 -1 23 -1-64 -1 147 -1 24 -1-59 -1-104 -1 83 -1 220 -1-77 -1-35 -1 7 -1-191 -1-62 -1-126 -1-60 -1 125 -1 4 -1 112 -1 81 -1-55 -1 15 -1-28 -1-52 -1 200 -1-16 -1 13 -1-262 -1-8 -1 23 -1 119 -1-151 -1 39 -1 104 -1 18 -1 111 -1 91 -1-84 -1 54 -1 37 -1-102 -1 125 -1-204 -1 84 -1-54 -1 140 -1 55 -1 103 -1 71 -1-64 -1-83 -1-150 -1 24 -1-62 -1 22 -1-183 -1 107 -1-55 -1 130 -1 95 -1 64 -1-110 -1 34 -1-31 -1-91 -1-42 -1 3 -1 39 -1-18 -1 140 -1-75 -1 106 -1-153 -1-12 -1-31 -1-91 -1 6 -1-41 -1 12 -1-17 -1 132 -1-148 -1 56 -1 180 -1-127 -1 85 -1-114 -1 31 -1-210 -1 24 -1-221 -1-4 -1-52 -1 83 -1-13 -1-42 -1-163 -1 44 -1 33 -1 36 -1-205 -1 137 -1-47 -1-49 -1 112 -1-31 -1-106 -1 240 -1-291 -1-101 -1 113 -1 270 -1-348 -1 159 -1 153 -1 74 -1-31 -1 20 -1-92 -1 26 -1-203 -1 54 -1 100 -1 113 -1 16 -1-57 -1-106 -1-19 -1 65 -1-30 -1 19 -1-54 -1 69 -1 11 -1-3 -1 53 -1 63 -1-141 -1 127 -1-175 -1-43 -1 56 -1 14 -1-20 -1-54 -1 19 -1-107 -1 45 -1 188 -1 154 -1 134 -1-300 -1-82 -1-73 -1-14 -1 290 -1-180 -1-241 -1-53 -1-80 -1-24 -1-72 -1 144 -1 32 -1 46 -1 91 -1 84 -1 150 -1-209 -1-185 -1-145 -1-56 -1 483 -1-154 -1 76 -1 103 -1 49 -1 38 -1 85 -1 269 -1-128 -1-7 -1-88 -1 31 -1 36 -1 164 -1 21 -1 74 -1 12 -1-1 -1-182 -1 60 -1-134 -1 206 -1 152 -1 178 -1 106 -1 113 -1 199 -1 57 -1-83 -1-99 -1-267 -1-228 -1-342 -1 4 -1-78 -1-77 -1 174 -1 184 -1 268 -1 95 -1 24 -1-144 -1-59 -1-198 -1-195 -1-107 -1-157 -1-15 -1-190 -1 273 -1 53 -1 201 -1 82 -1-91 -1 48 -1-125 -1-114 -1-34 -1-33 -1 79 -1-34 -1-22 -1 36 -1 167 -1-167 -1 14 -1-38 -1 410 -1-10 -1 231 -1-73 -1-245 -1-147 -1 63 -1-26 -1 72 -1 125 -1-34 -1-39 -1 9 -1 81 -1 9 -1-2 -1 116 -1-54 -1-82 -1-210 -1 230 -1-195 -1-38 -1-251 -1-250 -1 75 -1-142 -1 161 -1-125 -1 76 -1 92 -1 225 -1-104 -1-49 -1-154 -1-16 -1-68 -1 210 -1 25 -1 19 -1 25 -1-93 -1 87 -1 52 -1 29 -1 45 -1 64 -1-95 -1 139 -1-163 -1 71 -1-163 -1-76 -1 11 -1-119 -1 133 -1 39 -1-10 -1-71 -1 256 -1 264 -1-55 -1 39 -1 91 -1 160 -1 273 -1 47 -1-40 -1-274 -1-258 -1-196 -1-279 -1 224 -1 162 -1 218 -1 10 -1-45 -1-157 -1 23 -1-211 -1-92 -1-255 -1 139 -1-30 -1 84 -1 76 -1 128 -1 58 -1 8 -1-183 -1-65 -1 113 -1 186 -1-178 -1 101 -1-155 -1 52 -1-91 -1 94 -1-9 -1 49 -1 177 -1 150 -1 26 -1-11 -1 100 -1-94 -1 30 -1-183 -1-36 -1-34 -1-243 -1-52 -1 112 -1 244 -1 633 -1 529 -1 544 -1 557 -1-298 -1-574 -1-543 -1-673 -1-256 -1-15 -1-329 -1-187 -1 114 -1 346 -1 32 -1 100 -1 122 -1-83 -1 220 -1-236 -1-66 -1-12 -1-36 -1 7 -1-102 -1-39 -1 184 -1 51 -1 99 -1-146z" fill="#8680b6" fill-opacity="0.7"/><path transform="translate(1452.50 838.50) scale(1.35771 0.1)" d="M0 1292l1 19 1 91 1 48 1 45 1 23 1 8 1-9 1-52 1-9 1-9 1-82 1-18 1-53 1 93 1 20 1-50 1-50 1-102 1-20 1 300 1 223 1 474 1 496 1 321 1 140 1-309 1-419 1-471 1-306 1-82 1-73 1-55 1-72 1 61 1 112 1-29 1 88 1 45 1 203 1-57 1 42 1-17 1-184 1-154 1-123 1-203 1-131 1-48 1 169 1 44 1 94 1-99 1 17 1-69 1 14 1-1 1 199 1-92 1 148 1 75 1 221 1 91 1 64 1-92 1 22 1 248 1-22 1 16 1-117 1 13 1-157 1-95 1-227 1 88 1 154 1 105 1 67 1 30 1 219 1-29 1-125 1-135 1-176 1-75 1-122 1-119 1-286 1 76 1-33 1-62 1-65 1-71 1-22 1-38 1-96 1-60 1 91 1 16 1-142 1-19 1 77 1 157 1-65 1 58 1 26 1 138 1 5 1 103 1 102 1-8 1 7 1 68 1 130 1 100 1 16 1-55 1-59 1-33 1-43 1 58 1-105 1 54 1 74 1 122 1 70 1-50 1 111 1 45 1-118 1 97 1-22 1-14 1-72 1-63 1-34 1-127 1 122 1-61 1-33 1-227 1 29 1-72 1-25 1 32 1-93 1-40 1-110 1 54 1 1 1 39 1-26 1 124 1 21 1 139 1 39 1 196 1-68 1-24 1-56 1-99 1 68 1-86 1 73 1-39 1-137 1-8 1 98 1 127 1 133 1 197 1 140 1-90 1-354 1 67 1 77 1 198 1 221 1 234 1 313 1 242 1 238 1 39 1 121 1-30 1-183 1-209 1-144 1-121 1-170 1-62 1-31 1-139 1-50 1-174 1 64 1 47 1-78 1-104 1-97 1-110 1-162 1 14 1-152 1-43 1-140 1-116 1-63 1 32 1-25 1-138 1-158 1-151 1-191 1-21 1 72 1 96 1 285 1 179 1 247 1 131 1 184 1 90 1 2 1 181 1 46 1-86 1 80 1-140 1 44 1 6 1-45 1-102 1 17 1-32 1-39 1-93 1-96 1-2 1-56 1-20 1-80 1 91 1 33 1 66 1 71 1-164 1 89 1-1 1 78 1-143 1 16 1 124 1 79 1 64 1-5 1-4 1-48 1-149 1-86 1-32 1 25 1 65 1 56 1-72 1-54 1 12 1-26 1-19 1 2 1-26 1-90 1-44 1-7 1 124 1-70 1 36 1-45 1-45 1 92 1 67 1 44 1 55 1-30 1 76 1 27 1 15 1-127 1 32 1-15 1-18 1 0 1 39 1-5 1 3 1 118 1-7 1 120 1-74 1-85 1 140 1 9 1 111 1 6 1-75 1-39 1-135 1 137 1-41 1-86 1-16 1 29 1 97 1-9 1 23 1 94 1-103 1-19 1-167 1 45 1 153 1 76 1-18 1-29 1-38 1 59 1-131 1-49 1 129 1 2 1-14 1-20 1-37 1-49 1 130 1 16 1 84 1 90 1 2 1-53 1-54 1-99 1 111 1-12 1 0 1-99 1-19 1 37 1 8 1 121 1 30 1-73 1-129 1-1 1-3 1 82 1-109 1 4 1-15 1-25 1 153 1 64 1 55 1-32 1-2 1-33 1-140 1 288 1 15 1 107 1-17 1-137 1-58 1-12 1 16 1 13 1 37 1-62 1-66 1-68 1 214 1-42 1-130 1 84 1 50 1 24 1-89 1 29 1-183 1 95 1-69 1 53 1-13 1 102 1 17 1 37 1 38 1 37 1 171 1-70 1-74 1-88 1-89 1 30 1-98 1-27 1 61 1 123 1-90 1 65 1-79 1-28 1-54 1-136 1 61 1-65 1 155 1 31 1 46 1-25 1 52 1-21 1-54 1-194 1 46 1-116 1 72 1 93 1-72 1-51 1 18 1-26 1 42 1 34 1 17 1-36 1-13 1 54V1686l-1 60 -1-114 -1-7 -1-100 -1 104 -1-18 -1 60 -1-174 -1 45 -1 112 -1-161 -1 9 -1 156 -1 39 -1-79 -1 103 -1 155 -1-63 -1-22 -1 7 -1-114 -1 29 -1 33 -1 40 -1 45 -1-7 -1 33 -1 180 -1-70 -1 34 -1 100 -1-133 -1-11 -1-42 -1-17 -1-32 -1 35 -1 11 -1 111 -1-23 -1 50 -1-102 -1-8 -1-52 -1-9 -1-86 -1 126 -1 99 -1-25 -1 44 -1-149 -1 54 -1-38 -1 18 -1-16 -1 67 -1-16 -1-145 -1 54 -1-4 -1 5 -1 65 -1 22 -1 151 -1-64 -1-54 -1-25 -1-22 -1-48 -1 37 -1-176 -1-2 -1 5 -1 66 -1 26 -1 65 -1-75 -1-40 -1-76 -1-77 -1 117 -1-56 -1 64 -1 19 -1 73 -1-30 -1-63 -1-5 -1-6 -1 13 -1-86 -1-55 -1 51 -1 206 -1-16 -1 29 -1-26 -1-86 -1 39 -1-7 -1 7 -1-205 -1-34 -1-49 -1-18 -1 37 -1 89 -1 56 -1 157 -1-150 -1-46 -1 126 -1 12 -1-28 -1-92 -1-41 -1-32 -1-20 -1 121 -1-4 -1-3 -1 72 -1 6 -1-60 -1-5 -1-61 -1-32 -1-95 -1 85 -1 112 -1-63 -1 89 -1-21 -1-45 -1 121 -1-82 -1 30 -1-93 -1-40 -1 26 -1-33 -1 36 -1-178 -1 47 -1-89 -1-12 -1-58 -1 52 -1 42 -1-33 -1 20 -1 0 -1-5 -1 120 -1-83 -1 24 -1-63 -1-97 -1 4 -1-43 -1 43 -1-63 -1 35 -1 37 -1 79 -1 68 -1-25 -1 37 -1-3 -1 79 -1-23 -1-28 -1-12 -1 36 -1 20 -1 36 -1 4 -1-16 -1 32 -1 123 -1 45 -1-86 -1-49 -1 7 -1-67 -1-77 -1-71 -1 6 -1 39 -1-36 -1 13 -1 263 -1-176 -1-89 -1-85 -1-84 -1 2 -1 111 -1-20 -1 210 -1-90 -1 166 -1-50 -1 166 -1 30 -1 14 -1-32 -1-47 -1 96 -1 89 -1-38 -1-19 -1 112 -1-218 -1-2 -1-246 -1-54 -1-113 -1-195 -1-197 -1-277 -1-132 -1-19 -1 30 -1 132 -1 128 -1 102 -1 79 -1 98 -1 16 -1 292 -1-66 -1 20 -1 95 -1 154 -1 90 -1 138 -1 104 -1 45 -1 58 -1 54 -1 11 -1 56 -1 94 -1-11 -1 47 -1 60 -1 140 -1 87 -1 183 -1 206 -1 291 -1-10 -1 32 -1-95 -1-157 -1-209 -1-205 -1-165 -1-212 -1-284 -1-171 -1-82 -1-93 -1 233 -1 120 -1-241 -1-126 -1-41 -1 18 -1-46 -1-32 -1-10 -1 30 -1 10 -1 56 -1-6 -1 31 -1 57 -1-82 -1-19 -1-18 -1 2 -1-114 -1-203 -1-7 -1 82 -1-24 -1-38 -1-68 -1 56 -1-27 -1 95 -1 66 -1 69 -1 73 -1-23 -1 36 -1 52 -1 19 -1 8 -1 52 -1 17 -1 179 -1-7 -1 41 -1 8 -1 15 -1 143 -1 5 -1-99 -1-138 -1-107 -1-59 -1-52 -1 103 -1-49 -1-33 -1 210 -1-80 -1 15 -1-23 -1-53 -1-39 -1-40 -1-140 -1-79 -1 94 -1-98 -1 51 -1-77 -1-102 -1-168 -1-103 -1 11 -1-60 -1 73 -1-48 -1 12 -1-19 -1-31 -1 133 -1 48 -1-10 -1 66 -1 35 -1 100 -1 58 -1-20 -1 39 -1 94 -1 119 -1 181 -1 187 -1 157 -1 64 -1 48 -1 64 -1-168 -1-188 -1 78 -1-179 -1 51 -1-105 -1 215 -1 80 -1 318 -1-87 -1 68 -1-53 -1-63 -1-202 -1-2 -1 143 -1-76 -1-94 -1-142 -1-161 -1-107 -1-21 -1-78 -1-166 -1 87 -1 98 -1-22 -1-5 -1-61 -1-92 -1-80 -1-24 -1 189 -1 173 -1 186 -1 124 -1 140 -1-51 -1 53 -1 108 -1-164 -1-40 -1-108 -1-108 -1-115 -1-66 -1 67 -1 21 -1 109 -1 201 -1 289 -1 433 -1 419 -1 309 -1-77 -1-310 -1-545 -1-417 -1-337 -1-296 -1-45 -1 171 -1 160 -1 5 -1-43 -1 28 -1-43 -1 57 -1 42 -1 50 -1-28 -1 67 -1-82 -1-64 -1-92 -1 39 -1-26 -1-36 -1-11z" fill="#e8957a" fill-opacity="0.7"/><path transform="translate(1452.50 838.50) scale(1.35771 0.1)" d="M0 1504l1 76 1 16 1-41 1-171 1 43 1 55 1 50 1 62 1-65 1 27 1 96 1-62 1 82 1-36 1-157 1-90 1-207 1-127 1 44 1 242 1 172 1 305 1 560 1 612 1 566 1 307 1-546 1-587 1-528 1-594 1-182 1-212 1 35 1 173 1 41 1 52 1 251 1-11 1 128 1-135 1-32 1-65 1-152 1-123 1-41 1 47 1-152 1 93 1-73 1 149 1-53 1-18 1 45 1-130 1 63 1 84 1-6 1-37 1-68 1-25 1-51 1 16 1-162 1 211 1 137 1 207 1-11 1 109 1-41 1-122 1-109 1-129 1-109 1 249 1 257 1 213 1 228 1-20 1-82 1-164 1-144 1-118 1-81 1 30 1-142 1-266 1 100 1-104 1-77 1-79 1 13 1 90 1 84 1 195 1-104 1 110 1-33 1 130 1-10 1-58 1-115 1-74 1-98 1 64 1-47 1-36 1 13 1-156 1 96 1 32 1 106 1 47 1 57 1-161 1-123 1-46 1 25 1-124 1 160 1-61 1 280 1 188 1 102 1-59 1 35 1 155 1 88 1 11 1-2 1-25 1-41 1-97 1-27 1-26 1 76 1-118 1-18 1 3 1-50 1 117 1 165 1 83 1-189 1-159 1-103 1-3 1 32 1 95 1-110 1-39 1 16 1-4 1-54 1 15 1 71 1 55 1 49 1-34 1 71 1-145 1-149 1-72 1-210 1 232 1 2 1 159 1 166 1 234 1 157 1 46 1 21 1 17 1-158 1-155 1-185 1-140 1 77 1 84 1-18 1 315 1 206 1 242 1 165 1 91 1-92 1-206 1-113 1-146 1-191 1-142 1-62 1 43 1 42 1 80 1-1 1-33 1-79 1 38 1-45 1-83 1 9 1-58 1 34 1-58 1-91 1-17 1-87 1-91 1-136 1-63 1-143 1-139 1 61 1 266 1 117 1 186 1-148 1-103 1-70 1-4 1-80 1-138 1 44 1-1 1 118 1 56 1 118 1 45 1-62 1-16 1 92 1 62 1 109 1 9 1-134 1-184 1-35 1 121 1-14 1 74 1 42 1-47 1 30 1-6 1 27 1 32 1-37 1 2 1 33 1-21 1-26 1-102 1 94 1-4 1 129 1-56 1-22 1 19 1-36 1 74 1-69 1-84 1-57 1 173 1-23 1 52 1 21 1-140 1-30 1-91 1-107 1 133 1-111 1-41 1-16 1 95 1 90 1 60 1 38 1-93 1 104 1 21 1-103 1 135 1-28 1-55 1 24 1 114 1 63 1 11 1-38 1 30 1-23 1 141 1 58 1 176 1 6 1 102 1-2 1 55 1-104 1-86 1-5 1-37 1-45 1 40 1 85 1 14 1 87 1-13 1 5 1 164 1-136 1 50 1-68 1-10 1 39 1-7 1 19 1 68 1 17 1-17 1 71 1-48 1-116 1-106 1 35 1-91 1 125 1-64 1 63 1 45 1 105 1 142 1 15 1-24 1-93 1-88 1-105 1 24 1-51 1 212 1-119 1 84 1 6 1-29 1 31 1-166 1-55 1-13 1-153 1-1 1 119 1-96 1 78 1 45 1 33 1-3 1 20 1-123 1 96 1-50 1 1 1 46 1-66 1-102 1 21 1-81 1 31 1 104 1 11 1 133 1 11 1 15 1-58 1 88 1-126 1 32 1 48 1 12 1-3 1 73 1-85 1 141 1-2 1-76 1-72 1-115 1-69 1-36 1-31 1 6 1 126 1-23 1 93 1-126 1 28 1 38 1 51 1-25 1 54 1 5 1 41 1-29 1 96 1-16 1 111 1-136 1-75 1-166 1-104 1 36 1 62 1 94 1 23 1-12 1 96 1-63 1 29 1-19 1 43 1-108 1-11 1-43 1 135 1-27 1 98 1-31 1-66 1-84 1 52 1-89 1-51 1 4 1 70 1 98 1-75" fill="none" stroke="#1c1c7a" stroke-width="2.2" stroke-linejoin="round" vector-effect="non-scaling-stroke"/><path transform="translate(1452.50 838.50) scale(1.35771 0.1)" d="M0 1613l1 49 1 51 1 19 1 94 1 55 1-209 1-58 1-76 1-119 1-154 1 51 1 29 1 68 1 26 1 130 1-90 1-231 1-199 1 203 1 503 1 553 1 595 1 593 1 62 1-449 1-264 1-378 1-296 1-494 1-339 1-140 1-43 1 92 1-14 1 54 1 189 1 65 1 31 1-154 1-25 1-99 1 28 1 38 1 27 1 4 1 10 1 113 1 19 1 144 1-108 1-205 1-120 1 81 1-200 1 136 1-23 1 127 1-67 1-80 1-69 1 0 1 106 1-49 1 105 1-218 1 41 1-34 1-57 1-146 1-120 1-17 1-6 1-6 1 153 1 236 1 204 1 348 1-138 1 149 1-30 1-28 1 148 1-170 1 58 1-121 1-92 1-125 1-104 1-80 1 34 1-57 1 139 1-50 1 229 1-27 1-68 1-64 1 39 1-198 1 213 1-193 1 152 1 8 1 131 1 2 1 84 1-44 1-84 1 38 1 8 1-10 1-81 1-132 1 299 1-154 1-191 1-230 1-160 1 384 1 226 1 205 1 112 1 196 1 49 1-23 1-13 1-160 1-21 1 23 1 18 1-106 1-10 1-183 1 1 1-246 1 120 1-14 1-74 1 108 1-9 1 37 1-20 1-43 1-88 1 10 1-5 1 111 1-92 1-74 1 219 1-31 1 30 1-152 1 11 1 233 1-17 1 65 1-86 1-200 1-105 1-99 1-375 1-9 1 125 1 307 1 250 1 205 1 232 1 128 1 54 1 136 1-72 1-6 1-227 1-172 1-27 1 60 1 150 1 100 1-53 1 127 1-34 1-47 1-17 1-73 1 8 1-2 1 15 1-54 1 138 1-101 1 49 1 85 1 26 1-104 1 11 1-41 1-150 1 25 1-58 1 45 1-126 1-96 1-54 1 119 1-87 1-29 1 120 1-125 1 28 1-374 1 17 1 15 1 202 1 78 1 130 1 45 1 29 1-144 1-183 1-188 1 198 1-113 1 63 1 19 1-157 1 16 1-23 1 36 1 105 1-64 1 47 1-17 1-19 1-20 1-111 1-49 1 71 1-83 1 1 1-15 1-10 1-48 1 35 1 66 1 26 1 78 1-20 1-21 1-21 1-146 1 46 1-40 1-119 1 77 1 43 1-68 1-11 1 142 1 94 1 43 1 37 1 147 1 134 1-60 1 8 1-245 1-167 1 53 1-119 1-153 1-261 1 33 1-3 1 154 1 82 1 246 1-41 1 182 1-163 1-52 1-16 1-105 1-159 1 54 1 21 1 106 1-23 1 213 1-105 1 24 1 17 1-13 1 113 1-81 1 21 1 143 1-118 1-2 1 125 1-212 1-39 1 62 1 65 1 52 1 144 1 108 1 74 1 116 1 51 1 105 1 176 1 12 1-113 1 6 1 80 1-32 1 36 1 62 1-51 1 57 1-57 1 244 1-27 1-8 1 80 1-60 1-132 1-109 1 123 1-147 1-38 1 68 1-24 1 130 1 142 1 73 1-269 1-43 1-50 1-72 1-93 1 47 1 89 1-35 1 147 1-123 1 74 1-86 1 124 1-12 1-15 1 40 1 51 1 53 1 63 1-24 1-124 1 6 1-137 1 71 1 13 1-45 1 82 1 58 1 240 1 63 1-33 1-191 1-147 1-106 1 72 1 5 1 6 1 7 1 94 1-69 1 21 1-192 1 142 1-271 1-20 1 40 1-85 1-5 1 1 1-137 1 83 1-30 1 103 1 2 1-66 1-71 1-14 1-51 1 41 1 102 1-17 1 180 1-154 1-53 1 134 1 153 1-60 1 117 1 39 1-126 1 188 1 11 1 138 1 34 1-7 1-54 1-139 1 14 1-132 1 23 1-57 1 9 1-38 1-56 1-34 1-1 1 103 1 1 1 152 1 2 1 6 1-142 1-53 1 138 1-196 1-42 1 19 1-108 1 39 1-56" fill="none" stroke="#3a88c8" stroke-width="2.2" stroke-linejoin="round" vector-effect="non-scaling-stroke"/><path transform="translate(1452.50 838.50) scale(1.35771 0.1)" d="M0 1418l1 67 1 30 1 57 1 4 1 46 1 44 1 55 1-66 1 17 1-50 1-62 1-37 1 60 1-37 1 41 1-25 1-139 1-118 1 17 1 303 1 321 1 414 1 480 1 351 1 121 1-345 1-433 1-407 1-306 1-146 1-98 1-48 1-49 1 76 1 83 1 65 1 89 1 37 1 190 1-87 1-2 1 5 1-148 1-153 1-149 1-214 1-142 1 37 1 101 1 36 1 102 1-39 1 19 1-74 1-61 1 91 1 139 1-18 1 99 1 120 1 178 1 72 1 94 1-129 1 46 1 188 1 26 1 64 1-102 1-22 1-186 1-77 1-228 1 92 1 72 1 138 1-6 1 96 1 192 1-36 1-94 1-107 1-147 1-146 1-147 1-114 1-134 1-38 1 15 1-95 1-58 1-86 1-21 1-15 1-82 1-82 1 45 1 6 1-32 1 6 1-13 1 95 1-25 1 99 1 90 1 101 1 57 1 18 1 107 1-47 1 34 1 121 1 70 1 58 1 34 1-20 1-47 1-30 1-77 1 77 1-43 1-39 1 73 1 121 1 64 1 83 1 82 1 5 1-108 1 62 1-71 1-20 1-63 1-82 1-29 1-77 1 54 1-56 1-32 1-117 1-1 1-85 1-31 1-12 1-85 1-18 1-57 1 51 1-2 1 42 1-35 1 38 1 124 1 132 1 19 1 112 1-44 1 16 1-15 1-63 1 7 1-31 1-22 1-4 1-56 1-7 1 74 1 39 1 109 1 160 1 175 1-109 1-289 1 29 1 138 1 212 1 241 1 210 1 227 1 252 1 199 1 119 1 124 1-57 1-99 1-271 1-149 1-161 1-114 1-87 1-34 1-115 1-26 1-107 1-24 1 20 1-60 1-83 1-99 1-66 1-169 1-44 1-137 1-76 1-94 1-80 1-122 1 16 1-51 1-106 1-152 1-135 1-141 1-34 1 40 1 102 1 304 1 171 1 240 1 136 1 102 1 172 1 5 1 171 1 7 1-31 1 33 1-120 1-33 1 41 1-5 1-55 1-7 1-105 1-7 1-121 1-60 1-51 1-25 1-41 1-45 1 86 1 41 1 85 1 53 1-111 1 15 1 62 1-31 1-59 1 55 1 91 1 48 1 54 1 2 1 83 1-112 1-111 1-49 1-13 1 21 1 5 1 14 1-44 1-23 1 4 1 8 1-39 1 2 1-52 1-44 1-32 1-1 1-3 1-31 1 11 1-28 1 21 1 53 1 86 1 19 1 19 1 0 1 2 1 12 1 25 1-87 1 42 1-52 1 9 1-29 1 79 1 31 1-29 1 126 1-5 1 76 1-40 1-29 1 97 1 19 1 49 1-24 1-3 1-33 1-99 1 55 1-20 1-88 1 32 1 40 1 67 1-21 1 75 1 16 1-50 1-42 1-61 1-39 1 77 1 60 1 12 1 22 1 36 1-10 1-129 1 23 1 55 1-26 1-50 1-26 1-56 1-74 1 151 1 44 1 139 1 33 1 12 1-50 1 3 1-28 1 40 1-30 1-61 1-79 1 19 1 51 1 19 1 72 1-9 1 17 1-45 1-40 1-12 1-12 1-41 1-48 1 43 1 55 1 66 1 100 1-37 1-30 1-39 1-19 1 6 1 154 1-34 1 135 1-25 1-66 1 25 1-4 1-52 1 20 1-39 1-37 1-51 1-26 1 180 1-25 1-87 1 38 1 11 1 32 1-78 1 90 1-104 1 59 1-110 1-2 1 11 1 79 1 45 1 0 1 81 1-7 1 78 1-85 1-60 1-40 1-25 1 29 1-4 1-34 1 51 1 29 1-9 1 74 1-170 1-38 1 5 1-109 1 10 1-3 1 29 1 80 1 5 1-23 1 19 1-12 1-87 1-46 1-9 1-117 1 7 1 86 1-36 1-64 1 80 1-29 1 21 1-23 1 43 1 4 1 41 1-4" fill="none" stroke="#ff1e1e" stroke-width="2.2" stroke-linejoin="round" vector-effect="non-scaling-stroke"/></g><path d="M1452.5 1307.5h6.5M2046.5 1307.5h-6.5M1452.5 1255.4h6.5M2046.5 1255.4h-6.5M1452.5 1203.3h6.5M2046.5 1203.3h-6.5M1452.5 1151.2h6.5M2046.5 1151.2h-6.5M1452.5 1099.1h6.5M2046.5 1099.1h-6.5M1452.5 1046.9h6.5M2046.5 1046.9h-6.5M1452.5 994.8h6.5M2046.5 994.8h-6.5M1452.5 942.7h6.5M2046.5 942.7h-6.5M1452.5 890.6h6.5M2046.5 890.6h-6.5M1452.5 838.5h6.5M2046.5 838.5h-6.5M1469.5 838.5v6.5M1469.5 1307.5v-6.5M1554.3 838.5v6.5M1554.3 1307.5v-6.5M1639.2 838.5v6.5M1639.2 1307.5v-6.5M1724.0 838.5v6.5M1724.0 1307.5v-6.5M1808.9 838.5v6.5M1808.9 1307.5v-6.5M1893.8 838.5v6.5M1893.8 1307.5v-6.5M1978.6 838.5v6.5M1978.6 1307.5v-6.5" stroke="#5a5a5a" stroke-width="1.1" fill="none"/><rect x="1452.5" y="838.5" width="594.0" height="469.0" fill="none" stroke="#5a5a5a" stroke-width="1.1"/><rect x="1933.4" y="849.5" width="98" height="75.7" fill="#fff" stroke="#444" stroke-width="1"/><rect x="1941.0" y="858.4" width="20.8" height="12.5" fill="#e8957a" fill-opacity="0.7"/><rect x="1941.0" y="863.8" width="20.8" height="2" fill="#ff1e1e"/><text x="1971.8" y="869.7" font-size="16.4">Young</text><rect x="1941.0" y="881.1" width="20.8" height="12.5" fill="#8680b6" fill-opacity="0.7"/><rect x="1941.0" y="886.5" width="20.8" height="2" fill="#1c1c7a"/><text x="1971.8" y="892.4" font-size="16.4">60 - 68</text><rect x="1941.0" y="903.9" width="20.8" height="12.5" fill="#a2c0e4" fill-opacity="0.7"/><rect x="1941.0" y="909.3" width="20.8" height="2" fill="#3a88c8"/><text x="1971.8" y="915.2" font-size="16.4">&gt; 68</text><rect x="1852.4" y="1164.4" width="177.4" height="126.0" fill="#fff" stroke="#6e6e6e" stroke-width="1"/><g transform="translate(1858.3 1168.9)"><path d="M0.0 30.8C-0.5 26.7 0.7 22.0 3.0 18.0C5.3 14.0 9.8 9.8 14.0 7.0C18.2 4.2 23.2 2.7 28.0 1.5C32.8 0.3 38.3 0.0 43.0 0.0C47.7 0.0 52.0 0.5 56.0 1.5C60.0 2.5 63.7 3.6 67.0 6.0C70.3 8.4 73.6 12.0 76.0 16.0C78.4 20.0 80.7 26.3 81.5 30.0C82.3 33.7 81.9 35.6 81.0 38.0C80.1 40.4 78.8 42.8 76.0 44.5C73.2 46.2 68.7 46.8 64.0 48.0C59.3 49.2 53.0 50.4 48.0 52.0C43.0 53.6 37.5 56.7 34.0 57.5C30.5 58.3 28.8 57.9 27.0 57.0C25.2 56.1 23.9 53.6 23.5 52.0C23.1 50.4 25.9 48.5 24.5 47.5C23.1 46.5 18.1 46.8 15.0 46.0C11.9 45.2 8.5 45.0 6.0 42.5C3.5 40.0 0.5 34.9 0.0 30.8Z" fill="url(#bg)" stroke="#3c3c3c" stroke-width="0.9"/><path d="M25.0 47.0C21.5 49.0 31.5 42.3 35.0 40.0C38.5 37.7 42.5 35.0 46.0 33.0C49.5 31.0 59.5 25.7 56.0 28.0" fill="none" stroke="#4e4e4e" stroke-width="1.2" stroke-linecap="round" opacity="0.8"/><path d="M44.0 1.0C44.7 -2.2 41.8 8.5 41.0 12.0C40.2 15.5 39.7 18.8 39.0 22.0C38.3 25.2 36.2 34.5 37.0 31.0" fill="none" stroke="#4e4e4e" stroke-width="1.2" stroke-linecap="round" opacity="0.8"/><path d="M29.0 54.0C24.7 55.3 37.5 49.8 42.0 48.0C46.5 46.2 51.7 44.3 56.0 43.0C60.3 41.7 72.5 38.2 68.0 40.0" fill="none" stroke="#4e4e4e" stroke-width="1.2" stroke-linecap="round" opacity="0.8"/><path d="M52.0 2.0C52.2 0.3 50.5 10.3 50.0 14.0C49.5 17.7 48.7 26.0 49.0 24.0" fill="none" stroke="#4e4e4e" stroke-width="1.2" stroke-linecap="round" opacity="0.8"/><path d="M8.0 22.0C6.0 22.3 14.3 17.3 18.0 16.0C21.7 14.7 31.7 13.0 30.0 14.0" fill="none" stroke="#4e4e4e" stroke-width="1.2" stroke-linecap="round" opacity="0.8"/><path d="M6.0 31.0C3.8 30.0 11.3 27.5 14.0 27.0C16.7 26.5 19.8 27.0 22.0 28.0C24.2 29.0 29.7 32.5 27.0 33.0" fill="none" stroke="#4e4e4e" stroke-width="1.2" stroke-linecap="round" opacity="0.8"/><path d="M54.0 16.0C51.7 13.8 60.0 12.7 63.0 13.0C66.0 13.3 69.7 15.8 72.0 18.0C74.3 20.2 80.0 26.3 77.0 26.0" fill="none" stroke="#4e4e4e" stroke-width="1.2" stroke-linecap="round" opacity="0.8"/><path d="M34.0 56.0C29.7 57.3 43.3 52.7 48.0 51.0C52.7 49.3 57.7 47.3 62.0 46.0C66.3 44.7 78.7 41.3 74.0 43.0" fill="none" stroke="#4e4e4e" stroke-width="1.2" stroke-linecap="round" opacity="0.8"/><path d="M14.0 10.0C12.3 10.2 19.0 7.7 22.0 7.0C25.0 6.3 33.3 5.5 32.0 6.0" fill="none" stroke="#4e4e4e" stroke-width="1.2" stroke-linecap="round" opacity="0.8"/><path d="M62.0 30.0C61.0 29.0 67.7 30.7 70.0 32.0C72.3 33.3 77.3 38.3 76.0 38.0" fill="none" stroke="#4e4e4e" stroke-width="1.2" stroke-linecap="round" opacity="0.8"/></g><g transform="translate(1942.3 1168.9)"><path d="M81.5 30.8C82.0 26.7 80.8 22.0 78.5 18.0C76.2 14.0 71.7 9.8 67.5 7.0C63.3 4.2 58.3 2.7 53.5 1.5C48.7 0.3 43.2 0.0 38.5 0.0C33.8 0.0 29.5 0.5 25.5 1.5C21.5 2.5 17.8 3.6 14.5 6.0C11.2 8.4 7.9 12.0 5.5 16.0C3.1 20.0 0.8 26.3 0.0 30.0C-0.8 33.7 -0.4 35.6 0.5 38.0C1.4 40.4 2.7 42.8 5.5 44.5C8.3 46.2 12.8 46.8 17.5 48.0C22.2 49.2 28.5 50.4 33.5 52.0C38.5 53.6 44.0 56.7 47.5 57.5C51.0 58.3 52.8 57.9 54.5 57.0C56.2 56.1 57.6 53.6 58.0 52.0C58.4 50.4 55.6 48.5 57.0 47.5C58.4 46.5 63.4 46.8 66.5 46.0C69.6 45.2 73.0 45.0 75.5 42.5C78.0 40.0 81.0 34.9 81.5 30.8Z" fill="url(#bg)" stroke="#3c3c3c" stroke-width="0.9"/><path d="M56.5 47.0C60.0 49.0 50.0 42.3 46.5 40.0C43.0 37.7 39.0 35.0 35.5 33.0C32.0 31.0 22.0 25.7 25.5 28.0" fill="none" stroke="#4e4e4e" stroke-width="1.2" stroke-linecap="round" opacity="0.8"/><path d="M37.5 1.0C36.8 -2.2 39.7 8.5 40.5 12.0C41.3 15.5 41.8 18.8 42.5 22.0C43.2 25.2 45.3 34.5 44.5 31.0" fill="none" stroke="#4e4e4e" stroke-width="1.2" stroke-linecap="round" opacity="0.8"/><path d="M52.5 54.0C56.8 55.3 44.0 49.8 39.5 48.0C35.0 46.2 29.8 44.3 25.5 43.0C21.2 41.7 9.0 38.2 13.5 40.0" fill="none" stroke="#4e4e4e" stroke-width="1.2" stroke-linecap="round" opacity="0.8"/><path d="M29.5 2.0C29.3 0.3 31.0 10.3 31.5 14.0C32.0 17.7 32.8 26.0 32.5 24.0" fill="none" stroke="#4e4e4e" stroke-width="1.2" stroke-linecap="round" opacity="0.8"/><path d="M73.5 22.0C75.5 22.3 67.2 17.3 63.5 16.0C59.8 14.7 49.8 13.0 51.5 14.0" fill="none" stroke="#4e4e4e" stroke-width="1.2" stroke-linecap="round" opacity="0.8"/><path d="M75.5 31.0C77.7 30.0 70.2 27.5 67.5 27.0C64.8 26.5 61.7 27.0 59.5 28.0C57.3 29.0 51.8 32.5 54.5 33.0" fill="none" stroke="#4e4e4e" stroke-width="1.2" stroke-linecap="round" opacity="0.8"/><path d="M27.5 16.0C29.8 13.8 21.5 12.7 18.5 13.0C15.5 13.3 11.8 15.8 9.5 18.0C7.2 20.2 1.5 26.3 4.5 26.0" fill="none" stroke="#4e4e4e" stroke-width="1.2" stroke-linecap="round" opacity="0.8"/><path d="M47.5 56.0C51.8 57.3 38.2 52.7 33.5 51.0C28.8 49.3 23.8 47.3 19.5 46.0C15.2 44.7 2.8 41.3 7.5 43.0" fill="none" stroke="#4e4e4e" stroke-width="1.2" stroke-linecap="round" opacity="0.8"/><path d="M67.5 10.0C69.2 10.2 62.5 7.7 59.5 7.0C56.5 6.3 48.2 5.5 49.5 6.0" fill="none" stroke="#4e4e4e" stroke-width="1.2" stroke-linecap="round" opacity="0.8"/><path d="M19.5 30.0C20.5 29.0 13.8 30.7 11.5 32.0C9.2 33.3 4.2 38.3 5.5 38.0" fill="none" stroke="#4e4e4e" stroke-width="1.2" stroke-linecap="round" opacity="0.8"/></g><g transform="translate(1858.3 1228.4)"><path d="M0.0 31.9C0.0 28.9 1.0 23.8 3.0 20.0C5.0 16.2 8.3 11.9 12.0 9.0C15.7 6.1 20.3 4.0 25.0 2.5C29.7 1.0 35.0 0.2 40.0 0.0C45.0 -0.2 50.3 0.0 55.0 1.0C59.7 2.0 64.3 3.5 68.0 6.0C71.7 8.5 74.8 12.0 77.0 16.0C79.2 20.0 81.2 26.0 81.5 30.0C81.8 34.0 80.6 37.4 79.0 40.0C77.4 42.6 75.2 44.2 72.0 45.5C68.8 46.8 62.2 46.9 60.0 48.0C57.8 49.1 59.3 50.5 58.5 52.0C57.7 53.5 56.4 56.0 55.0 57.0C53.6 58.0 51.8 58.5 50.0 58.3C48.2 58.1 46.5 57.4 44.0 56.0C41.5 54.6 38.7 51.7 35.0 50.0C31.3 48.3 26.2 47.3 22.0 46.0C17.8 44.7 13.2 43.3 10.0 42.0C6.8 40.7 4.7 39.7 3.0 38.0C1.3 36.3 0.0 34.9 0.0 31.9Z" fill="url(#bg2)" stroke="#3c3c3c" stroke-width="0.9"/><path d="M8.0 36.0C-1.8 33.7 12.3 25.8 16.0 22.0C19.7 18.2 25.0 14.8 30.0 13.0C35.0 11.2 40.7 10.7 46.0 11.0C51.3 11.3 57.7 12.7 62.0 15.0C66.3 17.3 69.8 21.5 72.0 25.0C74.2 28.5 85.7 34.2 75.0 36.0" fill="none" stroke="#4e4e4e" stroke-width="1.2" stroke-linecap="round" opacity="0.8"/><path d="M10.0 40.0C6.0 38.5 18.0 40.3 22.0 41.0C26.0 41.7 30.0 42.5 34.0 44.0C38.0 45.5 50.0 50.7 46.0 50.0" fill="none" stroke="#4e4e4e" stroke-width="1.2" stroke-linecap="round" opacity="0.8"/><path d="M24.0 34.0C24.7 31.8 31.7 28.3 36.0 27.0C40.3 25.7 45.7 25.5 50.0 26.0C54.3 26.5 59.7 28.2 62.0 30.0C64.3 31.8 65.0 35.3 64.0 37.0C63.0 38.7 59.3 39.8 56.0 40.0C52.7 40.2 48.0 38.0 44.0 38.0C40.0 38.0 35.3 40.7 32.0 40.0C28.7 39.3 23.3 36.2 24.0 34.0Z" fill="#c9c9c9" stroke="#8a8a8a" stroke-width="0.6" opacity="0.8"/></g><g transform="translate(1942.3 1228.4)"><path d="M81.5 31.9C81.5 28.9 80.5 23.8 78.5 20.0C76.5 16.2 73.2 11.9 69.5 9.0C65.8 6.1 61.2 4.0 56.5 2.5C51.8 1.0 46.5 0.2 41.5 0.0C36.5 -0.2 31.2 0.0 26.5 1.0C21.8 2.0 17.2 3.5 13.5 6.0C9.8 8.5 6.8 12.0 4.5 16.0C2.2 20.0 0.3 26.0 0.0 30.0C-0.3 34.0 0.9 37.4 2.5 40.0C4.1 42.6 6.3 44.2 9.5 45.5C12.7 46.8 19.2 46.9 21.5 48.0C23.8 49.1 22.2 50.5 23.0 52.0C23.8 53.5 25.1 56.0 26.5 57.0C27.9 58.0 29.7 58.5 31.5 58.3C33.3 58.1 35.0 57.4 37.5 56.0C40.0 54.6 42.8 51.7 46.5 50.0C50.2 48.3 55.3 47.3 59.5 46.0C63.7 44.7 68.3 43.3 71.5 42.0C74.7 40.7 76.8 39.7 78.5 38.0C80.2 36.3 81.5 34.9 81.5 31.9Z" fill="url(#bg2)" stroke="#3c3c3c" stroke-width="0.9"/><path d="M73.5 36.0C83.3 33.7 69.2 25.8 65.5 22.0C61.8 18.2 56.5 14.8 51.5 13.0C46.5 11.2 40.8 10.7 35.5 11.0C30.2 11.3 23.8 12.7 19.5 15.0C15.2 17.3 11.7 21.5 9.5 25.0C7.3 28.5 -4.2 34.2 6.5 36.0" fill="none" stroke="#4e4e4e" stroke-width="1.2" stroke-linecap="round" opacity="0.8"/><path d="M71.5 40.0C75.5 38.5 63.5 40.3 59.5 41.0C55.5 41.7 51.5 42.5 47.5 44.0C43.5 45.5 31.5 50.7 35.5 50.0" fill="none" stroke="#4e4e4e" stroke-width="1.2" stroke-linecap="round" opacity="0.8"/><path d="M57.5 34.0C56.8 31.8 49.8 28.3 45.5 27.0C41.2 25.7 35.8 25.5 31.5 26.0C27.2 26.5 21.8 28.2 19.5 30.0C17.2 31.8 16.5 35.3 17.5 37.0C18.5 38.7 22.2 39.8 25.5 40.0C28.8 40.2 33.5 38.0 37.5 38.0C41.5 38.0 46.2 40.7 49.5 40.0C52.8 39.3 58.2 36.2 57.5 34.0Z" fill="#c9c9c9" stroke="#8a8a8a" stroke-width="0.6" opacity="0.8"/></g><polygon points="1989.3,1173.4 1991.8,1173.7 1992.3,1175.4 1989.8,1175.7" fill="#f02222" stroke="#e01818" stroke-width="0.8" stroke-linejoin="round"/><polygon points="1999.3,1203.9 2004.3,1200.9 2012.3,1201.9 2015.3,1206.9 2013.3,1213.9 2006.3,1215.9 2000.3,1212.9" fill="#f02222" stroke="#e01818" stroke-width="0.8" stroke-linejoin="round"/><polygon points="2004.3,1191.9 2007.3,1190.9 2008.3,1193.9 2005.3,1194.9" fill="#f02222" stroke="#e01818" stroke-width="0.8" stroke-linejoin="round"/><polygon points="2010.3,1195.9 2014.3,1195.9 2015.3,1198.9 2011.3,1199.9" fill="#f02222" stroke="#e01818" stroke-width="0.8" stroke-linejoin="round"/><polygon points="1995.3,1201.9 1999.3,1201.9 1999.3,1203.9 1995.3,1204.4" fill="#f02222" stroke="#e01818" stroke-width="0.8" stroke-linejoin="round"/><polygon points="1964.3,1199.9 1967.3,1200.9 1971.3,1206.9 1970.3,1211.9 1966.3,1210.9 1964.3,1205.9" fill="#f02222" stroke="#e01818" stroke-width="0.8" stroke-linejoin="round"/><polygon points="1965.3,1215.9 1972.3,1213.9 1980.3,1215.9 1988.3,1216.9 1995.3,1214.9 2000.3,1217.9 2000.3,1223.9 1994.3,1226.9 1986.3,1224.9 1976.3,1220.9 1968.3,1218.9" fill="#f02222" stroke="#e01818" stroke-width="0.8" stroke-linejoin="round"/><polygon points="1989.3,1208.9 1993.3,1206.9 1996.3,1211.9 1992.3,1213.9" fill="#f02222" stroke="#e01818" stroke-width="0.8" stroke-linejoin="round"/><polygon points="1886.8,1259.4 1889.3,1258.9 1890.3,1261.4 1887.8,1262.4" fill="#f02222" stroke="#e01818" stroke-width="0.8" stroke-linejoin="round"/><polygon points="1914.3,1270.9 1918.3,1265.4 1921.3,1263.4 1922.8,1264.9 1919.3,1268.4 1915.3,1271.9" fill="#f02222" stroke="#e01818" stroke-width="0.8" stroke-linejoin="round"/><polygon points="1969.3,1239.4 1975.3,1238.0 1982.3,1239.4 1989.3,1238.2 1991.3,1240.4 1987.3,1244.4 1979.3,1244.9 1972.3,1243.4" fill="#f02222" stroke="#e01818" stroke-width="0.8" stroke-linejoin="round"/><polygon points="1958.3,1264.4 1962.3,1262.4 1967.3,1263.4 1970.3,1268.4 1971.3,1273.4 1967.3,1274.4 1962.3,1269.4" fill="#f02222" stroke="#e01818" stroke-width="0.8" stroke-linejoin="round"/><polygon points="1992.3,1260.4 2000.3,1257.4 2008.3,1258.4 2008.3,1264.4 2004.3,1270.4 1998.3,1276.4 1990.3,1281.4 1980.3,1285.4 1971.3,1286.4 1969.3,1282.4 1978.3,1278.4 1988.3,1273.4 1994.3,1268.4 1993.3,1263.4" fill="#f02222" stroke="#e01818" stroke-width="0.8" stroke-linejoin="round"/><path d="M1684.7 1184.6v8.8H1716.6v-8.8" stroke="#000" stroke-width="2.4" fill="none"/><path d="M1725.4 867.6v-8.8H1756.3v8.8" stroke="#000" stroke-width="2.4" fill="none"/><text x="1443.7" y="1310.6" font-size="20" text-anchor="end">-60</text><text x="1443.7" y="1258.9" font-size="20" text-anchor="end">-50</text><text x="1443.7" y="1207.2" font-size="20" text-anchor="end">-40</text><text x="1443.7" y="1155.6" font-size="20" text-anchor="end">-30</text><text x="1443.7" y="1103.9" font-size="20" text-anchor="end">-20</text><text x="1443.7" y="1052.2" font-size="20" text-anchor="end">-10</text><text x="1443.7" y="1000.6" font-size="20" text-anchor="end">0</text><text x="1443.7" y="948.9" font-size="20" text-anchor="end">10</text><text x="1443.7" y="897.2" font-size="20" text-anchor="end">20</text><text x="1443.7" y="845.5" font-size="20" text-anchor="end">30</text><text x="1468.8" y="1327.4" font-size="20" text-anchor="middle">0</text><text x="1551.8" y="1327.4" font-size="20" text-anchor="middle">0.5</text><text x="1637.0" y="1327.4" font-size="20" text-anchor="middle">1</text><text x="1721.2" y="1327.4" font-size="20" text-anchor="middle">1.5</text><text x="1807.4" y="1327.4" font-size="20" text-anchor="middle">2</text><text x="1890.3" y="1327.4" font-size="20" text-anchor="middle">2.5</text><text x="1977.1" y="1327.4" font-size="20" text-anchor="middle">3</text><text x="1740.2" y="1354.9" font-size="21.5" text-anchor="middle">Time (s)</text><text transform="translate(1402.6 1094.0) rotate(-90)" font-size="21.5" text-anchor="middle">Neural activity index</text><text x="1676.1" y="812.1" font-size="31" textLength="120.9" lengthAdjust="spacingAndGlyphs">Novel T3</text><text transform="translate(1452.2 1397.4) scale(1.280 1)" font-size="29.45" fill="#000" font-family="'Noto Sans CJK JP', sans-serif">&#9834;</text><text transform="translate(1517.4 1397.4) scale(1.280 1)" font-size="29.45" fill="#000" font-family="'Noto Sans CJK JP', sans-serif">&#9834;</text><text transform="translate(1576.1 1397.4) scale(1.280 1)" font-size="29.45" fill="#000" font-family="'Noto Sans CJK JP', sans-serif">&#9834;</text><text transform="translate(1638.6 1397.4) scale(1.280 1)" font-size="29.45" fill="#e8262a" font-family="'Noto Sans CJK JP', sans-serif">&#9834;</text><text transform="translate(1699.3 1397.4) scale(1.280 1)" font-size="29.45" fill="#e8262a" font-family="'Noto Sans CJK JP', sans-serif">&#9834;</text><clipPath id="c20"><rect x="68.6" y="1572.5" width="594.0" height="469.0"/></clipPath><g clip-path="url(#c20)"><rect x="158.2" y="1572.5" width="10.0" height="469.0" fill="#dcdcdd"/><rect x="201.0" y="1572.5" width="4.1" height="469.0" fill="#dcdcdd"/><rect x="410.9" y="1572.5" width="2.5" height="469.0" fill="#dcdcdd"/><rect x="415.2" y="1572.5" width="4.9" height="469.0" fill="#dcdcdd"/><path d="M85.6 1572.5V2041.5M102.5 1572.5V2041.5M119.5 1572.5V2041.5M136.5 1572.5V2041.5M153.5 1572.5V2041.5M170.4 1572.5V2041.5M187.4 1572.5V2041.5M204.4 1572.5V2041.5M221.3 1572.5V2041.5M238.3 1572.5V2041.5M255.3 1572.5V2041.5M272.3 1572.5V2041.5M289.2 1572.5V2041.5M306.2 1572.5V2041.5M323.2 1572.5V2041.5M340.1 1572.5V2041.5M357.1 1572.5V2041.5M374.1 1572.5V2041.5M391.1 1572.5V2041.5M408.0 1572.5V2041.5M425.0 1572.5V2041.5M442.0 1572.5V2041.5M458.9 1572.5V2041.5M475.9 1572.5V2041.5M492.9 1572.5V2041.5M509.9 1572.5V2041.5M526.8 1572.5V2041.5M543.8 1572.5V2041.5M560.8 1572.5V2041.5M577.7 1572.5V2041.5M594.7 1572.5V2041.5M611.7 1572.5V2041.5M628.7 1572.5V2041.5M645.6 1572.5V2041.5M68.6 2031.1H662.6M68.6 2020.7H662.6M68.6 2010.2H662.6M68.6 1999.8H662.6M68.6 1989.4H662.6M68.6 1979.0H662.6M68.6 1968.5H662.6M68.6 1958.1H662.6M68.6 1947.7H662.6M68.6 1937.3H662.6M68.6 1926.9H662.6M68.6 1916.4H662.6M68.6 1906.0H662.6M68.6 1895.6H662.6M68.6 1885.2H662.6M68.6 1874.7H662.6M68.6 1864.3H662.6M68.6 1853.9H662.6M68.6 1843.5H662.6M68.6 1833.1H662.6M68.6 1822.6H662.6M68.6 1812.2H662.6M68.6 1801.8H662.6M68.6 1791.4H662.6M68.6 1780.9H662.6M68.6 1770.5H662.6M68.6 1760.1H662.6M68.6 1749.7H662.6M68.6 1739.3H662.6M68.6 1728.8H662.6M68.6 1718.4H662.6M68.6 1708.0H662.6M68.6 1697.6H662.6M68.6 1687.1H662.6M68.6 1676.7H662.6M68.6 1666.3H662.6M68.6 1655.9H662.6M68.6 1645.5H662.6M68.6 1635.0H662.6M68.6 1624.6H662.6M68.6 1614.2H662.6M68.6 1603.8H662.6M68.6 1593.3H662.6M68.6 1582.9H662.6" stroke="#bdbdbd" stroke-width="0.9" stroke-dasharray="1.2 2.3" fill="none"/><path transform="translate(68.60 1572.50) scale(1.35771 0.1)" d="M0 1398l1 61 1-59 1-211 1-212 1 93 1 101 1 85 1 1 1-86 1 52 1 93 1 160 1-263 1-162 1-136 1-39 1 192 1-145 1-150 1 131 1 1074 1 633 1 349 1 426 1 534 1-341 1-501 1-417 1-493 1-468 1 190 1-207 1-143 1-241 1-131 1-217 1 147 1-107 1 97 1-149 1 183 1 4 1 141 1 24 1-103 1-83 1 167 1-56 1 29 1-210 1-425 1 299 1 62 1 33 1-301 1 244 1 63 1-1 1-11 1 67 1-137 1 303 1-49 1-414 1 265 1-135 1-85 1 153 1 46 1-27 1-341 1-76 1-88 1-139 1 618 1 511 1 7 1 91 1 149 1-277 1 254 1-16 1-42 1-150 1-145 1-76 1-583 1 542 1 107 1-51 1 119 1-312 1 12 1 12 1 147 1 55 1-102 1-565 1 90 1 527 1 120 1-187 1-146 1-224 1 115 1 39 1 13 1 99 1-18 1-132 1 277 1-183 1 54 1-33 1-164 1-97 1 1 1-184 1-92 1 434 1 143 1 190 1 46 1 86 1 92 1-112 1-184 1-13 1-88 1 8 1-291 1 243 1 217 1-19 1-111 1 26 1 42 1-163 1 26 1-17 1 48 1 26 1 13 1-247 1 142 1-28 1 322 1 5 1 143 1-307 1-50 1-180 1-52 1-173 1 200 1 161 1-22 1 109 1 49 1-132 1-310 1-28 1 19 1 62 1 183 1-115 1 81 1-18 1 176 1-4 1 350 1-51 1 150 1-216 1 27 1 29 1-170 1-52 1-30 1 139 1-184 1 260 1-171 1-238 1 384 1 31 1 185 1 5 1-107 1-167 1-93 1-35 1 9 1 83 1-128 1 100 1-58 1 30 1-133 1 148 1-91 1-504 1 116 1 188 1-68 1-179 1-168 1 46 1-131 1-431 1 158 1 314 1 418 1 219 1 270 1 344 1-120 1 12 1-177 1 51 1-118 1 49 1-162 1-31 1-123 1 142 1 114 1-181 1-118 1-299 1 297 1-258 1-252 1 225 1-97 1 94 1-22 1-46 1-8 1-56 1 12 1 70 1-186 1 240 1-31 1-127 1 341 1-147 1 2 1-117 1-56 1-156 1-59 1-305 1 137 1-10 1 223 1 49 1 184 1 238 1 239 1 53 1-64 1-91 1-148 1 94 1 169 1-76 1 51 1 120 1-210 1 166 1-199 1-283 1-236 1 424 1 137 1 26 1-30 1-155 1-97 1-103 1-119 1 564 1 55 1-53 1-93 1-49 1 21 1 58 1 34 1 73 1 104 1-72 1 35 1 125 1-26 1 25 1-27 1-22 1-161 1 39 1-22 1 11 1 51 1-299 1-6 1 194 1 259 1 56 1 28 1 45 1 192 1 113 1-11 1 155 1-205 1 168 1-104 1 112 1 136 1-157 1-89 1 81 1 101 1-285 1-7 1 181 1-183 1 116 1-86 1-12 1-24 1-76 1 40 1-149 1 80 1 62 1-127 1 132 1-139 1 124 1-49 1 25 1-24 1 154 1-101 1-30 1-179 1 174 1-107 1 134 1-191 1 39 1-213 1-28 1 239 1-82 1 122 1-165 1-50 1 43 1 129 1 90 1 32 1 13 1-192 1-349 1 312 1 37 1-71 1 131 1 189 1-47 1-56 1-109 1-68 1 4 1-281 1 391 1 1 1-50 1 58 1 331 1-111 1 47 1-205 1-124 1 3 1-12 1 53 1-50 1 172 1-115 1-45 1 196 1 233 1-73 1 12 1-151 1 23 1 70 1-125 1-167 1 22 1 33 1-23 1 8 1-106 1 35 1 39 1 22 1-152 1-318 1-38 1 435 1 145 1 83 1-187 1-20 1 118 1-143 1 163 1-72 1-172 1-46 1-12 1-207 1 400 1 60 1 21 1 43 1 101 1-36 1-146 1-11 1-61V2034l-1 32 -1 120 -1 101 -1 203 -1-319 -1 70 -1-68 -1-36 -1-339 -1 169 -1 101 -1 53 -1 198 -1-217 -1 137 -1-318 -1 94 -1 47 -1 211 -1 269 -1-312 -1-238 -1 222 -1-92 -1 362 -1-447 -1-125 -1 3 -1 200 -1-198 -1 82 -1 54 -1 79 -1 188 -1 40 -1 1 -1-85 -1 67 -1-184 -1 159 -1-116 -1 1 -1 99 -1-36 -1-257 -1-110 -1 128 -1-44 -1 0 -1 352 -1-143 -1 238 -1-85 -1 102 -1-105 -1 20 -1-128 -1-28 -1-36 -1 93 -1-105 -1-114 -1 379 -1-319 -1 57 -1-76 -1 93 -1 15 -1-139 -1 124 -1-34 -1 140 -1-235 -1 69 -1 477 -1-495 -1 26 -1-99 -1-25 -1 80 -1-73 -1 52 -1 230 -1-79 -1 55 -1-17 -1 127 -1 5 -1-146 -1-173 -1-29 -1-21 -1 98 -1-32 -1 36 -1 8 -1 144 -1-7 -1 80 -1-48 -1 80 -1 72 -1-108 -1 53 -1 486 -1-513 -1-87 -1 14 -1 148 -1 81 -1 52 -1 151 -1-302 -1 47 -1-22 -1 150 -1-26 -1-86 -1 586 -1-178 -1-367 -1 207 -1 23 -1-247 -1-120 -1-140 -1-167 -1-128 -1-64 -1-56 -1-329 -1 221 -1-127 -1 229 -1 63 -1-152 -1 98 -1-50 -1 129 -1-110 -1 51 -1 15 -1-82 -1 103 -1 192 -1-309 -1-83 -1 85 -1 98 -1 165 -1-97 -1-201 -1 335 -1-509 -1-168 -1 78 -1 365 -1 65 -1-72 -1-189 -1-22 -1-76 -1-66 -1 192 -1 349 -1-285 -1 379 -1-236 -1 373 -1-492 -1-140 -1-6 -1 153 -1-53 -1 75 -1-148 -1-128 -1-82 -1-84 -1-23 -1 530 -1-647 -1-152 -1 259 -1-116 -1-13 -1 84 -1 28 -1-83 -1 73 -1 31 -1 173 -1 11 -1-191 -1-15 -1 332 -1-415 -1-3 -1 90 -1-149 -1 352 -1 12 -1-6 -1-183 -1 33 -1 243 -1-72 -1 116 -1 39 -1 123 -1-6 -1-46 -1 7 -1 227 -1-152 -1 0 -1 108 -1 73 -1 61 -1-39 -1 134 -1-170 -1-543 -1-103 -1-252 -1-197 -1-200 -1 211 -1 249 -1 166 -1 52 -1-8 -1 36 -1-70 -1 125 -1 218 -1 79 -1-266 -1 143 -1 45 -1 5 -1-73 -1 60 -1 124 -1-33 -1 325 -1-320 -1 91 -1 226 -1-221 -1 81 -1-145 -1 80 -1-187 -1 366 -1 22 -1 31 -1-163 -1 271 -1-401 -1 154 -1-1 -1 250 -1-25 -1-38 -1-243 -1-154 -1 315 -1-440 -1-16 -1-44 -1-68 -1-135 -1-211 -1 290 -1 85 -1 109 -1 427 -1-584 -1 53 -1 89 -1-85 -1 124 -1-68 -1 93 -1 40 -1-86 -1 146 -1-108 -1-36 -1 155 -1 58 -1-62 -1-122 -1-38 -1-130 -1 50 -1 35 -1 63 -1 117 -1-99 -1-154 -1 192 -1-8 -1 258 -1 225 -1-178 -1 65 -1 137 -1-99 -1-145 -1 104 -1-257 -1 18 -1-184 -1-25 -1-301 -1-254 -1-28 -1 307 -1-127 -1 229 -1 201 -1 282 -1-108 -1 149 -1 221 -1-493 -1-32 -1 281 -1-422 -1-25 -1-234 -1 383 -1 105 -1 116 -1-127 -1 31 -1 207 -1-341 -1 35 -1 104 -1 76 -1 74 -1-38 -1 223 -1-18 -1-182 -1-10 -1-132 -1 4 -1 76 -1 31 -1 2 -1 19 -1 462 -1-317 -1 261 -1-117 -1-238 -1 70 -1-485 -1-233 -1-223 -1 245 -1 205 -1 130 -1 165 -1-155 -1-110 -1 113 -1 86 -1 74 -1-401 -1-4 -1 231 -1-165 -1 129 -1 59 -1 151 -1-46 -1-74 -1-84 -1-76 -1-132 -1 138 -1-202 -1 160 -1 7 -1 151 -1 11 -1 32 -1 68 -1-174 -1 74 -1 175 -1-205 -1 19 -1-130 -1 144 -1-131 -1 202 -1-21 -1 115 -1 258 -1 255 -1 284 -1 83 -1 451 -1 411 -1 581 -1 420 -1-372 -1-902 -1-453 -1-546 -1-468 -1-513 -1 201 -1-170 -1 63 -1 271 -1 53 -1-5 -1 112 -1 78 -1-9 -1-179 -1 56 -1-130 -1-18 -1-28 -1 14 -1 114 -1 307 -1 37 -1-67z" fill="#a2c0e4" fill-opacity="0.7"/><path transform="translate(68.60 1572.50) scale(1.35771 0.1)" d="M0 966l1 99 1 42 1 241 1 73 1 16 1 100 1-337 1 203 1-8 1-87 1 119 1 139 1 60 1-166 1-73 1-89 1-22 1-298 1 160 1 419 1 252 1 883 1 925 1 3 1-312 1-339 1-511 1-379 1-347 1-347 1-138 1-466 1 131 1 58 1 231 1-32 1 78 1 4 1 27 1-143 1-78 1 175 1 15 1-3 1-7 1-87 1-170 1-43 1-209 1-44 1-47 1-14 1 62 1-22 1 162 1 124 1-74 1 78 1-57 1 88 1-74 1-121 1 138 1 33 1 31 1-67 1-41 1-60 1-20 1 179 1-20 1-28 1 171 1 227 1 359 1 69 1-261 1-235 1-234 1 271 1 28 1-16 1 76 1 14 1-100 1 129 1 36 1 39 1-102 1 31 1-7 1-27 1 100 1-77 1-156 1-77 1-27 1-402 1 135 1 116 1 108 1-42 1 190 1-130 1-222 1 73 1-168 1 75 1-161 1 22 1-7 1 169 1-35 1-98 1 164 1 5 1-36 1-18 1 55 1 94 1 300 1-110 1 69 1 69 1-32 1 98 1 53 1 33 1-128 1 170 1 53 1-36 1 87 1 63 1 17 1-64 1 157 1 59 1-394 1 63 1-106 1-90 1 104 1-77 1-48 1-74 1-228 1-11 1 136 1-60 1 56 1 35 1 182 1-82 1-168 1-152 1 157 1 17 1 114 1 66 1 35 1-229 1-126 1-134 1-72 1 308 1 192 1 274 1 18 1-220 1 204 1 174 1-120 1-8 1 101 1 104 1 177 1 28 1-64 1 117 1-119 1-158 1-41 1-24 1-6 1 82 1-104 1-139 1 28 1-34 1-79 1-194 1-186 1 38 1-116 1 4 1-39 1-119 1 115 1-85 1 37 1-13 1-6 1 150 1-96 1 59 1 4 1-89 1-154 1-98 1-34 1 323 1 19 1 255 1 297 1 44 1 74 1-145 1-264 1 213 1 79 1-20 1-37 1-36 1 48 1 127 1 7 1 187 1-69 1 54 1-97 1 35 1-132 1-70 1-303 1-61 1-210 1-1 1-350 1 108 1-5 1 21 1-32 1 3 1-32 1 70 1 131 1-18 1-39 1-25 1 87 1-126 1 96 1 133 1 45 1 52 1 137 1 38 1 10 1-18 1 66 1 65 1 64 1 6 1-55 1 125 1 33 1 23 1-109 1 58 1 68 1 65 1-15 1-145 1-65 1-12 1-200 1 40 1 224 1-80 1-5 1-131 1-19 1 170 1 5 1 84 1 39 1 33 1-17 1-43 1-51 1 75 1 63 1 3 1-149 1-52 1-83 1 87 1 76 1-17 1 200 1 60 1 18 1-58 1 86 1-5 1 72 1-81 1 85 1-4 1 76 1-16 1-138 1 143 1-18 1-21 1 17 1 18 1-111 1-13 1 113 1 19 1-41 1-32 1 65 1-27 1 100 1-112 1 0 1-34 1-63 1 19 1-57 1 72 1-15 1-26 1 150 1-106 1 86 1 14 1 105 1-141 1-171 1-84 1 46 1-161 1 155 1 114 1 28 1 63 1-44 1 165 1-144 1-144 1-212 1-4 1 11 1 112 1 28 1-46 1 209 1 25 1 178 1 12 1-61 1-171 1-61 1-98 1 46 1-117 1-72 1-49 1-163 1 38 1-216 1 62 1-12 1 14 1 149 1 87 1 104 1-100 1-205 1-202 1 100 1-25 1 116 1 163 1 54 1 118 1-149 1 180 1 10 1 67 1-120 1-268 1-19 1-417 1 188 1 60 1 128 1 68 1-130 1 161 1-38 1-281 1 278 1 54 1 103 1 1 1 99 1-55 1 17 1-158 1-19 1-268 1 169 1-77 1 41 1 98 1-2 1 109 1-25 1-277 1 262 1-338 1 282 1-47 1-62 1 148 1-3 1-72 1 89 1-232 1 52 1-1 1 113V1593l-1-22 -1 3 -1-33 -1 180 -1-136 -1 202 -1 0 -1 91 -1-53 -1-52 -1-159 -1 113 -1 24 -1 152 -1-22 -1-81 -1 58 -1-198 -1-120 -1 78 -1-145 -1 247 -1-48 -1 99 -1-50 -1 145 -1 4 -1 132 -1-134 -1-42 -1-182 -1 55 -1 15 -1-91 -1 103 -1 53 -1-139 -1 13 -1-33 -1 90 -1-40 -1 180 -1 72 -1-156 -1 18 -1 61 -1 43 -1-151 -1-53 -1 86 -1-39 -1 275 -1-156 -1-59 -1 19 -1 114 -1 50 -1-214 -1 83 -1 68 -1-117 -1-9 -1 83 -1 60 -1 49 -1-36 -1-7 -1 112 -1 254 -1-123 -1 9 -1 0 -1 115 -1-38 -1 42 -1-40 -1-244 -1-30 -1 20 -1-76 -1 190 -1-151 -1 94 -1 99 -1 152 -1-39 -1 18 -1-5 -1-75 -1-19 -1 100 -1-66 -1 42 -1 343 -1-278 -1 60 -1-62 -1 110 -1 76 -1-298 -1-77 -1 60 -1 72 -1-100 -1 22 -1-30 -1 26 -1 42 -1-77 -1 233 -1-2 -1 36 -1-90 -1 15 -1-63 -1 86 -1-182 -1 287 -1-168 -1 123 -1-71 -1 51 -1-42 -1 119 -1-117 -1 6 -1 22 -1 107 -1-97 -1-91 -1-8 -1 12 -1 46 -1-61 -1 48 -1-72 -1-287 -1-70 -1-27 -1 48 -1-57 -1 137 -1-126 -1 102 -1 128 -1 24 -1 18 -1-172 -1-71 -1-15 -1-13 -1-133 -1 70 -1-118 -1 60 -1-31 -1 104 -1 113 -1-13 -1-21 -1-108 -1 227 -1-117 -1 170 -1-111 -1-17 -1 6 -1 16 -1 60 -1-36 -1-14 -1-4 -1 29 -1-92 -1-93 -1-22 -1-165 -1-223 -1 6 -1-27 -1-20 -1-74 -1-39 -1-108 -1 104 -1-69 -1 67 -1 23 -1-6 -1 30 -1-86 -1-67 -1 71 -1-94 -1-22 -1 25 -1 190 -1 8 -1 21 -1 125 -1 104 -1 167 -1 110 -1 117 -1 170 -1-150 -1 107 -1 80 -1 4 -1 9 -1-127 -1-108 -1-74 -1 84 -1 231 -1-80 -1-127 -1 39 -1 38 -1 8 -1 28 -1-106 -1-213 -1-306 -1-172 -1-279 -1 39 -1 75 -1 72 -1 103 -1 77 -1-18 -1 56 -1-77 -1-34 -1-21 -1 29 -1 154 -1-148 -1 66 -1-62 -1 44 -1 77 -1 88 -1 265 -1 161 -1 178 -1-59 -1-34 -1 18 -1 3 -1-68 -1 200 -1-10 -1-12 -1 78 -1 7 -1-84 -1 53 -1-80 -1-27 -1-54 -1 9 -1 62 -1-138 -1-67 -1 9 -1 166 -1-216 -1-149 -1-329 -1-277 -1 5 -1 213 -1 143 -1 178 -1-91 -1-82 -1-148 -1 125 -1 80 -1 99 -1 32 -1-33 -1-68 -1-6 -1 44 -1-176 -1-45 -1 94 -1 9 -1 22 -1 81 -1 39 -1-9 -1 131 -1 230 -1 0 -1 330 -1-161 -1-30 -1 6 -1-15 -1-69 -1-7 -1-40 -1-22 -1-169 -1 6 -1-62 -1-78 -1 100 -1 20 -1-141 -1-79 -1 44 -1 157 -1-198 -1-267 -1-138 -1 17 -1 77 -1 119 -1-32 -1 57 -1-282 -1 71 -1-351 -1 209 -1 252 -1 83 -1 67 -1 30 -1 105 -1-144 -1 141 -1-140 -1 169 -1-89 -1 129 -1-63 -1-45 -1 65 -1 147 -1 75 -1-131 -1 156 -1-143 -1 55 -1-126 -1-112 -1 160 -1 139 -1 24 -1-173 -1 66 -1-26 -1 151 -1 181 -1 223 -1-52 -1-368 -1-335 -1-103 -1-149 -1 46 -1 58 -1 111 -1-127 -1 16 -1 3 -1 189 -1-74 -1-178 -1-100 -1 16 -1-12 -1 77 -1 118 -1-71 -1-52 -1 109 -1-391 -1 144 -1-239 -1 15 -1 119 -1 186 -1-10 -1 107 -1 96 -1 118 -1-65 -1 87 -1-10 -1-39 -1 48 -1 97 -1-183 -1 48 -1-73 -1-33 -1-142 -1-12 -1 110 -1 171 -1 201 -1 141 -1 412 -1 549 -1 439 -1 372 -1 292 -1 5 -1-1004 -1-800 -1-439 -1-364 -1 204 -1 287 -1-15 -1-53 -1 42 -1 105 -1 159 -1-422 -1-199 -1 162 -1 39 -1 172 -1 12 -1-254 -1 54 -1 38 -1-30 -1-137 -1-157z" fill="#8680b6" fill-opacity="0.7"/><path transform="translate(68.60 1572.50) scale(1.35771 0.1)" d="M0 1024l1 117 1 66 1 60 1 5 1 101 1-41 1 156 1 45 1 7 1 38 1-140 1 35 1 69 1-7 1 15 1-164 1 12 1-153 1-16 1 105 1 68 1 436 1 370 1 530 1 159 1-364 1-351 1-195 1-390 1-22 1-87 1-238 1-197 1 64 1 321 1 164 1 120 1-40 1-44 1-105 1-3 1 107 1-143 1-226 1-79 1-161 1-115 1 12 1 3 1-35 1 35 1 61 1 126 1-102 1 23 1 31 1 19 1 73 1 103 1 116 1 151 1 170 1 85 1 45 1 6 1 106 1 158 1-149 1-82 1-120 1-115 1-6 1-162 1-6 1 69 1 5 1 93 1 92 1 78 1 125 1-91 1 55 1-113 1-94 1-41 1 39 1-85 1 10 1-145 1-107 1-73 1-147 1-110 1-51 1-72 1-24 1-38 1-28 1-106 1 112 1 46 1 73 1-23 1 79 1-108 1 132 1 85 1 11 1 150 1 97 1-46 1-26 1 4 1 8 1 34 1-107 1-102 1-20 1 68 1 31 1 82 1 82 1-1 1 137 1 69 1 150 1-13 1 2 1-63 1 153 1-9 1 0 1 46 1 11 1-17 1-92 1 36 1-27 1-121 1-74 1-168 1-156 1-103 1-129 1-24 1-144 1 8 1-41 1-110 1 212 1 130 1 115 1 11 1 127 1 75 1 59 1-36 1-106 1 57 1 115 1-17 1-108 1-38 1 5 1-142 1 79 1 92 1-29 1 190 1 262 1 186 1 93 1 81 1 26 1-6 1 76 1 5 1-112 1 67 1-29 1-28 1-131 1-15 1-87 1-111 1-105 1-107 1-29 1-73 1-149 1-81 1-57 1-71 1-104 1-75 1 4 1-1 1 43 1-49 1 309 1 159 1 24 1 105 1-104 1 48 1 22 1-44 1-5 1-37 1-52 1-40 1-18 1 57 1-109 1-130 1 284 1 211 1 257 1-14 1 54 1-25 1-2 1-90 1-45 1-117 1 28 1-82 1-59 1-116 1-48 1-39 1-163 1-1 1-157 1-18 1-58 1 76 1-117 1-153 1-131 1 2 1 126 1 112 1 83 1 0 1 82 1 27 1 94 1 151 1 260 1 150 1 82 1 96 1-19 1-41 1-135 1 36 1-40 1 205 1-41 1-21 1-109 1-76 1 1 1 63 1-15 1 119 1-89 1-4 1 22 1-58 1-122 1-26 1-199 1-18 1-22 1-56 1 38 1 28 1-34 1-18 1 17 1 183 1-31 1 93 1 33 1-77 1-70 1-132 1-90 1 89 1 112 1 111 1-24 1 97 1 27 1 97 1 88 1-21 1-133 1-59 1-24 1 153 1 142 1 46 1 65 1 29 1-54 1 38 1-96 1 31 1 55 1 20 1-62 1 47 1-2 1 59 1-92 1-38 1-117 1 131 1 21 1-160 1 69 1-25 1 25 1-74 1 74 1-19 1 44 1-50 1 43 1 43 1 41 1 62 1-109 1 118 1-25 1-57 1-78 1-168 1-3 1 68 1 82 1 20 1-114 1 108 1 12 1 48 1-59 1-69 1 22 1-33 1-53 1 59 1-69 1-22 1-50 1-35 1 61 1 145 1 52 1 46 1-21 1-132 1 112 1-98 1-60 1-162 1 10 1-52 1 74 1 0 1 0 1-136 1 155 1-57 1 22 1-73 1-46 1 55 1 83 1 44 1 56 1 13 1-6 1-30 1-104 1-54 1-71 1 91 1 107 1 130 1 100 1-75 1-1 1-80 1-32 1 39 1 46 1-87 1 10 1 67 1-45 1 130 1-51 1-60 1 138 1-23 1-153 1-30 1-39 1-195 1 125 1 146 1-89 1 2 1 5 1-107 1-72 1-160 1 62 1-47 1 132 1 59 1 129 1 96 1 108 1-27 1-83 1-101 1 36 1-14 1 52 1 15 1-46 1 28V1877l-1-66 -1 60 -1 19 -1-115 -1 16 -1-2 -1 60 -1 50 -1 123 -1-107 -1-161 -1-65 -1 22 -1-20 -1-61 -1-65 -1 92 -1 113 -1 124 -1 17 -1-41 -1 55 -1-186 -1 88 -1 12 -1 49 -1 37 -1 130 -1 43 -1-96 -1 70 -1-107 -1-53 -1 30 -1 8 -1 24 -1 29 -1 3 -1-53 -1 60 -1-37 -1 54 -1-39 -1-112 -1-111 -1 11 -1-104 -1 101 -1-12 -1 123 -1 5 -1 126 -1 19 -1-68 -1-60 -1-100 -1 10 -1-124 -1 60 -1 5 -1 39 -1-64 -1 31 -1 2 -1 21 -1-21 -1 265 -1-137 -1 7 -1 39 -1 46 -1 54 -1-20 -1 3 -1-55 -1-60 -1 39 -1 48 -1 24 -1 32 -1-82 -1 18 -1 2 -1-8 -1 54 -1-58 -1 36 -1 80 -1-29 -1-8 -1-28 -1 7 -1 35 -1 51 -1 6 -1-32 -1 95 -1-21 -1-107 -1 97 -1-57 -1 88 -1 6 -1-43 -1 35 -1-182 -1 17 -1-51 -1 28 -1 28 -1 71 -1-70 -1 21 -1-63 -1 124 -1 106 -1-28 -1 63 -1 17 -1-36 -1-41 -1 51 -1-66 -1 110 -1-78 -1-43 -1 61 -1-35 -1 45 -1-43 -1-37 -1-131 -1-15 -1-120 -1-43 -1-21 -1 48 -1 42 -1 38 -1-28 -1-42 -1 28 -1-135 -1-8 -1-106 -1 60 -1 71 -1-72 -1 106 -1-62 -1-21 -1-120 -1-84 -1 57 -1-59 -1 20 -1-42 -1-24 -1-9 -1 44 -1 79 -1 68 -1 55 -1 145 -1 27 -1 155 -1-37 -1-45 -1-111 -1 67 -1-52 -1 49 -1 65 -1-102 -1 70 -1 137 -1-104 -1 27 -1-23 -1-60 -1-19 -1 49 -1 76 -1 45 -1-126 -1-181 -1-35 -1-161 -1-246 -1-59 -1 13 -1-13 -1-112 -1-64 -1-123 -1-73 -1-28 -1 87 -1 83 -1 134 -1-35 -1 80 -1-41 -1 226 -1 45 -1 138 -1 38 -1 88 -1 70 -1 136 -1 72 -1 9 -1 138 -1 89 -1 48 -1-53 -1-72 -1-56 -1-87 -1-107 -1-66 -1-234 -1 130 -1 12 -1-63 -1-83 -1-12 -1 93 -1 30 -1 19 -1 41 -1 230 -1-104 -1 0 -1-131 -1-156 -1-114 -1-214 -1-34 -1 30 -1 11 -1-153 -1 172 -1 199 -1 71 -1-7 -1 36 -1 117 -1 136 -1-30 -1 110 -1 155 -1 111 -1 110 -1 7 -1 49 -1 100 -1-79 -1-8 -1-58 -1 33 -1-66 -1 72 -1-49 -1-175 -1-18 -1-192 -1-131 -1-289 -1 105 -1-17 -1-102 -1 100 -1 34 -1 142 -1 9 -1-129 -1-53 -1-28 -1 55 -1-38 -1 45 -1-80 -1-152 -1-45 -1-62 -1-103 -1-267 -1 147 -1 79 -1 53 -1 63 -1 139 -1 48 -1 47 -1 62 -1 225 -1-7 -1 180 -1 30 -1-15 -1 108 -1 45 -1 76 -1-17 -1-63 -1-17 -1-174 -1-86 -1 26 -1-28 -1-16 -1-62 -1-89 -1-23 -1-112 -1-71 -1-45 -1-2 -1 85 -1 81 -1-28 -1-13 -1-15 -1 22 -1-78 -1 66 -1-105 -1-29 -1-60 -1-111 -1-128 -1 65 -1 30 -1-4 -1-69 -1-119 -1-70 -1 16 -1 108 -1 1 -1 128 -1 121 -1 68 -1 1 -1 186 -1 133 -1-94 -1 117 -1 22 -1 160 -1-9 -1-5 -1 141 -1 63 -1 13 -1-39 -1 31 -1 52 -1-129 -1-131 -1-100 -1-20 -1 36 -1 146 -1 14 -1 95 -1 96 -1 34 -1 49 -1 89 -1-202 -1-24 -1-173 -1-73 -1-95 -1-191 -1 82 -1-115 -1-137 -1-180 -1-31 -1 115 -1 83 -1-65 -1-107 -1 22 -1 15 -1 95 -1-4 -1-25 -1 158 -1 46 -1 198 -1 62 -1-124 -1 96 -1 113 -1 54 -1-70 -1-19 -1-95 -1-162 -1-136 -1 144 -1 190 -1 73 -1 242 -1 163 -1 249 -1 401 -1 455 -1-176 -1-576 -1-490 -1-285 -1-204 -1-133 -1-45 -1 106 -1 166 -1 216 -1-29 -1-71 -1 101 -1 5 -1 115 -1-247 -1-25 -1-14 -1-159 -1 56 -1-15 -1-101 -1 59 -1-164 -1-79z" fill="#e8957a" fill-opacity="0.7"/><path transform="translate(68.60 1572.50) scale(1.35771 0.1)" d="M0 1225l1 102 1 114 1 125 1 11 1-30 1 180 1-137 1-31 1-8 1-119 1 144 1 196 1 55 1-157 1-63 1-7 1-32 1-226 1-62 1 398 1 462 1 720 1 964 1-20 1-290 1-370 1-438 1-481 1-362 1-235 1-228 1-367 1 81 1 81 1 168 1 11 1 45 1-21 1 105 1-104 1-38 1 81 1 7 1-52 1 4 1-107 1-75 1-98 1-95 1-146 1-82 1-35 1 162 1-55 1 148 1 138 1-25 1 45 1-46 1 18 1-36 1-73 1 112 1 119 1-42 1-24 1-41 1-75 1-31 1 159 1-70 1 31 1 127 1 178 1 328 1 201 1-102 1-128 1-168 1-65 1 28 1-31 1 124 1-45 1-64 1-43 1 67 1 89 1-78 1 93 1-77 1 35 1-27 1-41 1-156 1-4 1 31 1-242 1 44 1 15 1 111 1-43 1 114 1-118 1-76 1-29 1-78 1-143 1-174 1 67 1 95 1 187 1-8 1 37 1-59 1-58 1-11 1 82 1 63 1 190 1 110 1-28 1 54 1 72 1-67 1 34 1 60 1 42 1-10 1 75 1 97 1 43 1 3 1 93 1-25 1-14 1 66 1 61 1-167 1-88 1-188 1-98 1 2 1-25 1-33 1-51 1-98 1-58 1 69 1-44 1 117 1 32 1 75 1-26 1 5 1-122 1-22 1-75 1 116 1 82 1 98 1-242 1-117 1-169 1-24 1 273 1 253 1 181 1 120 1-75 1 25 1 117 1-81 1 22 1 60 1 119 1 67 1 66 1-54 1 91 1-94 1-80 1-19 1-51 1-64 1 64 1-38 1-71 1 29 1 6 1-143 1-181 1-192 1-39 1-126 1-20 1 42 1-71 1 76 1-56 1-21 1-29 1 35 1 109 1-49 1 9 1-31 1-106 1-81 1-105 1-67 1 326 1 158 1 215 1 258 1 74 1 38 1-36 1-62 1-66 1 142 1-109 1-26 1-88 1 102 1 103 1 86 1 84 1-66 1 10 1-122 1 103 1-169 1-80 1-194 1-120 1-138 1-72 1-70 1-79 1-80 1-2 1 6 1 7 1-22 1 79 1 101 1-31 1-29 1-24 1 2 1 101 1-119 1 113 1 45 1 76 1 57 1 28 1 22 1 106 1 120 1 11 1 118 1 34 1-19 1 37 1 51 1 0 1-66 1 19 1 20 1 18 1 0 1-69 1-109 1 20 1-63 1 116 1 34 1-95 1-68 1-76 1 12 1 117 1-21 1 88 1 22 1 63 1 13 1 62 1-21 1-31 1 57 1-100 1-125 1 8 1 62 1-27 1 44 1 16 1 225 1 36 1 50 1 32 1-36 1-4 1 51 1 3 1 101 1-40 1 1 1-23 1 87 1-82 1 18 1-23 1 27 1-52 1-6 1-96 1 117 1-17 1-21 1 16 1 69 1-33 1 55 1-173 1-16 1 10 1-36 1 46 1-46 1 55 1-36 1-22 1 105 1 20 1 86 1-64 1 86 1-107 1-56 1-95 1 0 1-187 1 211 1 49 1 46 1 51 1-36 1 90 1-172 1-115 1-120 1-49 1-9 1 91 1 29 1-16 1 248 1 7 1 75 1 19 1-88 1-91 1-57 1-91 1-6 1-78 1-59 1 8 1-117 1-12 1-132 1 28 1 52 1-14 1 50 1 6 1 120 1-82 1-122 1-116 1 101 1-110 1 78 1 72 1 101 1 91 1-36 1 10 1-19 1 108 1-124 1-174 1 12 1-165 1 10 1 32 1 119 1 52 1-171 1 137 1-54 1-49 1 132 1 79 1 68 1-50 1 70 1-128 1 57 1-148 1 51 1-249 1 142 1-79 1 78 1 109 1 15 1 68 1 7 1-101 1 15 1-118 1 139 1-2 1 38 1-40 1-31 1-98 1 94 1-216 1 63 1-59 1 121" fill="none" stroke="#1c1c7a" stroke-width="2.2" stroke-linejoin="round" vector-effect="non-scaling-stroke"/><path transform="translate(68.60 1572.50) scale(1.35771 0.1)" d="M0 1734l1 18 1-32 1-215 1-175 1 58 1 35 1 16 1 28 1 24 1 100 1 54 1 12 1-158 1-67 1-24 1-248 1 54 1 13 1-115 1 441 1 615 1 585 1 398 1 536 1 525 1-336 1-502 1-433 1-483 1-108 1-190 1-211 1-254 1-198 1-38 1-210 1 101 1-27 1 34 1-23 1 168 1-68 1 12 1-11 1 28 1-49 1 74 1-130 1 47 1-229 1 158 1-164 1 90 1 48 1 89 1-35 1 80 1-100 1-24 1-15 1 83 1-45 1 10 1-62 1 75 1-86 1-90 1 116 1 99 1-81 1-104 1-243 1-208 1 227 1 285 1 515 1-29 1 93 1 161 1-229 1 62 1-63 1-36 1-53 1-89 1-57 1-37 1 25 1 111 1 51 1 22 1-226 1 62 1-48 1-22 1 32 1-94 1 14 1 41 1 40 1 76 1-126 1-149 1-255 1 159 1 18 1 43 1 104 1-2 1 121 1 60 1-164 1 34 1-86 1-152 1-171 1 22 1-250 1-10 1 348 1 237 1 76 1 123 1 25 1 165 1-70 1-32 1 35 1-33 1-51 1-82 1 42 1-71 1-30 1-88 1 64 1 60 1-190 1 29 1-47 1 25 1 57 1 86 1-31 1 56 1-73 1 81 1 54 1 111 1-244 1 34 1-122 1-43 1 66 1-24 1 78 1-53 1 4 1 85 1-77 1-144 1-102 1-150 1 172 1 120 1-25 1 104 1-52 1 158 1 12 1 248 1 78 1 78 1-37 1-142 1 38 1-162 1-36 1 35 1 119 1 55 1 2 1-299 1 149 1-21 1 132 1 26 1 101 1-168 1-111 1-92 1 58 1 23 1-47 1-159 1 131 1-7 1-8 1-163 1 176 1-52 1-154 1-209 1 93 1-5 1-104 1-108 1-95 1-181 1-208 1 94 1 296 1 317 1 155 1 412 1 233 1-113 1 17 1-112 1-32 1-82 1 4 1-107 1-35 1-50 1 115 1 27 1-116 1-98 1-120 1 68 1-205 1-2 1 14 1-57 1 100 1-183 1 96 1-129 1-13 1 28 1 61 1-71 1 182 1 27 1 5 1-52 1-92 1 41 1-57 1-81 1-31 1-29 1-267 1 153 1 216 1-74 1 55 1 205 1 70 1 191 1 109 1-91 1-6 1-163 1 68 1 147 1 60 1-39 1 163 1-270 1 176 1-200 1-212 1 100 1 69 1 52 1 114 1-9 1-137 1-182 1-63 1 241 1 126 1 11 1 82 1-17 1-116 1 6 1-21 1 77 1-7 1 118 1-73 1 51 1 64 1-27 1 53 1-55 1 9 1-113 1 99 1-78 1-110 1 66 1-222 1 107 1 164 1 153 1 87 1 153 1 116 1 84 1 101 1 28 1 14 1-116 1 144 1-116 1 58 1 86 1-122 1-11 1-9 1 189 1-122 1-89 1 110 1-177 1-15 1 7 1-12 1 13 1-68 1 131 1-160 1-24 1 33 1-115 1 94 1-139 1 41 1 2 1 15 1-65 1 82 1-18 1 69 1-46 1 98 1-87 1 66 1-163 1 76 1-160 1-69 1 86 1-5 1 21 1 21 1-30 1 92 1-53 1 51 1 78 1-35 1-101 1-17 1 29 1 15 1-86 1 169 1-6 1-74 1-1 1 5 1 65 1-90 1 105 1 7 1 40 1-11 1 59 1 117 1-77 1-40 1 9 1-271 1 12 1-5 1-68 1 76 1 176 1-31 1-31 1 72 1 154 1-115 1 81 1-82 1 81 1 9 1-71 1-157 1-107 1 57 1-52 1 77 1-139 1 46 1 4 1 96 1-19 1-78 1-131 1 255 1 42 1 86 1-177 1-30 1 18 1-58 1 148 1 81 1-223 1-7 1-67 1-177 1 334 1 68 1-12 1 54 1 186 1-128 1-103 1-77 1-19" fill="none" stroke="#3a88c8" stroke-width="2.2" stroke-linejoin="round" vector-effect="non-scaling-stroke"/><path transform="translate(68.60 1572.50) scale(1.35771 0.1)" d="M0 1198l1 133 1 100 1-7 1 65 1 43 1-37 1 141 1 28 1 39 1 75 1-28 1-39 1-3 1 18 1 29 1-159 1-96 1-124 1-16 1 150 1 140 1 320 1 448 1 550 1 146 1-358 1-389 1-257 1-309 1-91 1-72 1-193 1-189 1 97 1 231 1 149 1 57 1 16 1-38 1-115 1-30 1 92 1-102 1-194 1-84 1-156 1-47 1-16 1-11 1-10 1-27 1 110 1 88 1-97 1-47 1 41 1 73 1 131 1 98 1 19 1 166 1 143 1 69 1 125 1 30 1 113 1 51 1-110 1-66 1-96 1-97 1-18 1-167 1-8 1 63 1 47 1 91 1 132 1 13 1 51 1-31 1 15 1-120 1-63 1-23 1 13 1-105 1-31 1-125 1-54 1-70 1-154 1-57 1-41 1-109 1-83 1-42 1-43 1-56 1 70 1 81 1 98 1 4 1-4 1-72 1 130 1 53 1 104 1 63 1 79 1-18 1-24 1 23 1-12 1 45 1-56 1-57 1-70 1 28 1 53 1 69 1 105 1 15 1 113 1 66 1 70 1 10 1-19 1 33 1 139 1-12 1 29 1 40 1-21 1-16 1-109 1 24 1-28 1-138 1-109 1-149 1-89 1-95 1-84 1-71 1-119 1-24 1-44 1-132 1 217 1 136 1 107 1 22 1 143 1 34 1 42 1-9 1-75 1 36 1 100 1 25 1-83 1-40 1-25 1-92 1 52 1 67 1-58 1 257 1 182 1 178 1 66 1 95 1 33 1-14 1 70 1-7 1-37 1 48 1 17 1-68 1-100 1 7 1-109 1-104 1-103 1-131 1 57 1-166 1-104 1-55 1-76 1-116 1-56 1-147 1 58 1-5 1 16 1 19 1 246 1 137 1 105 1 88 1-26 1 10 1-72 1-37 1 19 1-60 1-57 1-9 1 33 1 50 1-74 1-103 1 265 1 87 1 200 1 28 1 82 1 18 1 50 1-125 1-60 1-103 1-3 1-86 1-83 1-67 1-51 1-82 1-129 1-27 1-212 1 21 1-58 1 45 1-137 1-132 1-98 1 51 1 89 1 116 1 63 1 62 1 43 1 2 1 81 1 177 1 242 1 74 1 132 1 111 1-39 1-49 1-66 1 10 1 15 1 96 1-30 1 31 1-104 1-80 1 43 1 25 1-23 1 49 1-44 1 40 1 21 1-13 1-105 1-61 1-164 1-38 1-43 1-72 1-11 1 36 1-4 1 12 1-16 1 130 1-29 1 72 1 79 1-30 1-16 1-90 1-90 1 76 1 21 1 140 1-13 1 63 1 36 1 45 1 82 1-34 1-94 1-39 1-5 1 96 1 119 1 16 1 99 1 47 1-11 1 21 1-21 1-29 1 32 1 38 1-65 1 50 1 7 1 22 1-22 1-20 1-68 1 48 1-38 1-133 1 9 1 3 1 68 1-71 1 29 1-47 1 72 1-54 1 152 1-39 1 33 1 43 1-74 1 53 1-44 1 13 1-24 1-135 1 6 1 28 1 7 1 17 1-29 1 32 1 20 1 28 1-72 1-50 1 64 1-77 1-1 1 20 1-33 1 27 1-52 1-23 1 2 1 63 1 35 1 76 1-21 1-53 1 26 1-91 1-24 1-73 1-4 1-68 1 11 1-20 1 11 1-50 1 81 1-40 1-6 1-50 1 6 1 36 1 82 1 52 1 79 1-9 1-56 1-42 1-93 1-30 1-61 1 64 1 81 1 121 1 95 1 3 1-65 1-21 1-34 1 43 1 12 1-16 1-33 1 32 1-28 1 68 1 16 1-35 1 100 1-15 1-139 1-54 1-48 1-27 1-41 1 138 1-40 1 26 1-37 1-114 1-70 1-119 1 56 1-21 1 86 1 31 1 103 1 90 1 115 1-49 1-78 1-59 1 0 1 0 1 46 1 16 1-45 1 50" fill="none" stroke="#ff1e1e" stroke-width="2.2" stroke-linejoin="round" vector-effect="non-scaling-stroke"/></g><path d="M68.6 2041.5h6.5M662.6 2041.5h-6.5M68.6 1989.4h6.5M662.6 1989.4h-6.5M68.6 1937.3h6.5M662.6 1937.3h-6.5M68.6 1885.2h6.5M662.6 1885.2h-6.5M68.6 1833.1h6.5M662.6 1833.1h-6.5M68.6 1780.9h6.5M662.6 1780.9h-6.5M68.6 1728.8h6.5M662.6 1728.8h-6.5M68.6 1676.7h6.5M662.6 1676.7h-6.5M68.6 1624.6h6.5M662.6 1624.6h-6.5M68.6 1572.5h6.5M662.6 1572.5h-6.5M85.6 1572.5v6.5M85.6 2041.5v-6.5M170.4 1572.5v6.5M170.4 2041.5v-6.5M255.3 1572.5v6.5M255.3 2041.5v-6.5M340.1 1572.5v6.5M340.1 2041.5v-6.5M425.0 1572.5v6.5M425.0 2041.5v-6.5M509.9 1572.5v6.5M509.9 2041.5v-6.5M594.7 1572.5v6.5M594.7 2041.5v-6.5" stroke="#5a5a5a" stroke-width="1.1" fill="none"/><rect x="68.6" y="1572.5" width="594.0" height="469.0" fill="none" stroke="#5a5a5a" stroke-width="1.1"/><rect x="549.5" y="1583.5" width="98" height="75.7" fill="#fff" stroke="#444" stroke-width="1"/><rect x="557.1" y="1592.4" width="20.8" height="12.5" fill="#e8957a" fill-opacity="0.7"/><rect x="557.1" y="1597.8" width="20.8" height="2" fill="#ff1e1e"/><text x="587.9" y="1603.7" font-size="16.4">Young</text><rect x="557.1" y="1615.2" width="20.8" height="12.5" fill="#8680b6" fill-opacity="0.7"/><rect x="557.1" y="1620.6" width="20.8" height="2" fill="#1c1c7a"/><text x="587.9" y="1626.5" font-size="16.4">60 - 68</text><rect x="557.1" y="1637.9" width="20.8" height="12.5" fill="#a2c0e4" fill-opacity="0.7"/><rect x="557.1" y="1643.3" width="20.8" height="2" fill="#3a88c8"/><text x="587.9" y="1649.2" font-size="16.4">&gt; 68</text><rect x="468.5" y="1898.4" width="177.4" height="126.0" fill="#fff" stroke="#6e6e6e" stroke-width="1"/><g transform="translate(474.4 1902.9)"><path d="M0.0 30.8C-0.5 26.7 0.7 22.0 3.0 18.0C5.3 14.0 9.8 9.8 14.0 7.0C18.2 4.2 23.2 2.7 28.0 1.5C32.8 0.3 38.3 0.0 43.0 0.0C47.7 0.0 52.0 0.5 56.0 1.5C60.0 2.5 63.7 3.6 67.0 6.0C70.3 8.4 73.6 12.0 76.0 16.0C78.4 20.0 80.7 26.3 81.5 30.0C82.3 33.7 81.9 35.6 81.0 38.0C80.1 40.4 78.8 42.8 76.0 44.5C73.2 46.2 68.7 46.8 64.0 48.0C59.3 49.2 53.0 50.4 48.0 52.0C43.0 53.6 37.5 56.7 34.0 57.5C30.5 58.3 28.8 57.9 27.0 57.0C25.2 56.1 23.9 53.6 23.5 52.0C23.1 50.4 25.9 48.5 24.5 47.5C23.1 46.5 18.1 46.8 15.0 46.0C11.9 45.2 8.5 45.0 6.0 42.5C3.5 40.0 0.5 34.9 0.0 30.8Z" fill="url(#bg)" stroke="#3c3c3c" stroke-width="0.9"/><path d="M25.0 47.0C21.5 49.0 31.5 42.3 35.0 40.0C38.5 37.7 42.5 35.0 46.0 33.0C49.5 31.0 59.5 25.7 56.0 28.0" fill="none" stroke="#4e4e4e" stroke-width="1.2" stroke-linecap="round" opacity="0.8"/><path d="M44.0 1.0C44.7 -2.2 41.8 8.5 41.0 12.0C40.2 15.5 39.7 18.8 39.0 22.0C38.3 25.2 36.2 34.5 37.0 31.0" fill="none" stroke="#4e4e4e" stroke-width="1.2" stroke-linecap="round" opacity="0.8"/><path d="M29.0 54.0C24.7 55.3 37.5 49.8 42.0 48.0C46.5 46.2 51.7 44.3 56.0 43.0C60.3 41.7 72.5 38.2 68.0 40.0" fill="none" stroke="#4e4e4e" stroke-width="1.2" stroke-linecap="round" opacity="0.8"/><path d="M52.0 2.0C52.2 0.3 50.5 10.3 50.0 14.0C49.5 17.7 48.7 26.0 49.0 24.0" fill="none" stroke="#4e4e4e" stroke-width="1.2" stroke-linecap="round" opacity="0.8"/><path d="M8.0 22.0C6.0 22.3 14.3 17.3 18.0 16.0C21.7 14.7 31.7 13.0 30.0 14.0" fill="none" stroke="#4e4e4e" stroke-width="1.2" stroke-linecap="round" opacity="0.8"/><path d="M6.0 31.0C3.8 30.0 11.3 27.5 14.0 27.0C16.7 26.5 19.8 27.0 22.0 28.0C24.2 29.0 29.7 32.5 27.0 33.0" fill="none" stroke="#4e4e4e" stroke-width="1.2" stroke-linecap="round" opacity="0.8"/><path d="M54.0 16.0C51.7 13.8 60.0 12.7 63.0 13.0C66.0 13.3 69.7 15.8 72.0 18.0C74.3 20.2 80.0 26.3 77.0 26.0" fill="none" stroke="#4e4e4e" stroke-width="1.2" stroke-linecap="round" opacity="0.8"/><path d="M34.0 56.0C29.7 57.3 43.3 52.7 48.0 51.0C52.7 49.3 57.7 47.3 62.0 46.0C66.3 44.7 78.7 41.3 74.0 43.0" fill="none" stroke="#4e4e4e" stroke-width="1.2" stroke-linecap="round" opacity="0.8"/><path d="M14.0 10.0C12.3 10.2 19.0 7.7 22.0 7.0C25.0 6.3 33.3 5.5 32.0 6.0" fill="none" stroke="#4e4e4e" stroke-width="1.2" stroke-linecap="round" opacity="0.8"/><path d="M62.0 30.0C61.0 29.0 67.7 30.7 70.0 32.0C72.3 33.3 77.3 38.3 76.0 38.0" fill="none" stroke="#4e4e4e" stroke-width="1.2" stroke-linecap="round" opacity="0.8"/></g><g transform="translate(558.4 1902.9)"><path d="M81.5 30.8C82.0 26.7 80.8 22.0 78.5 18.0C76.2 14.0 71.7 9.8 67.5 7.0C63.3 4.2 58.3 2.7 53.5 1.5C48.7 0.3 43.2 0.0 38.5 0.0C33.8 0.0 29.5 0.5 25.5 1.5C21.5 2.5 17.8 3.6 14.5 6.0C11.2 8.4 7.9 12.0 5.5 16.0C3.1 20.0 0.8 26.3 0.0 30.0C-0.8 33.7 -0.4 35.6 0.5 38.0C1.4 40.4 2.7 42.8 5.5 44.5C8.3 46.2 12.8 46.8 17.5 48.0C22.2 49.2 28.5 50.4 33.5 52.0C38.5 53.6 44.0 56.7 47.5 57.5C51.0 58.3 52.8 57.9 54.5 57.0C56.2 56.1 57.6 53.6 58.0 52.0C58.4 50.4 55.6 48.5 57.0 47.5C58.4 46.5 63.4 46.8 66.5 46.0C69.6 45.2 73.0 45.0 75.5 42.5C78.0 40.0 81.0 34.9 81.5 30.8Z" fill="url(#bg)" stroke="#3c3c3c" stroke-width="0.9"/><path d="M56.5 47.0C60.0 49.0 50.0 42.3 46.5 40.0C43.0 37.7 39.0 35.0 35.5 33.0C32.0 31.0 22.0 25.7 25.5 28.0" fill="none" stroke="#4e4e4e" stroke-width="1.2" stroke-linecap="round" opacity="0.8"/><path d="M37.5 1.0C36.8 -2.2 39.7 8.5 40.5 12.0C41.3 15.5 41.8 18.8 42.5 22.0C43.2 25.2 45.3 34.5 44.5 31.0" fill="none" stroke="#4e4e4e" stroke-width="1.2" stroke-linecap="round" opacity="0.8"/><path d="M52.5 54.0C56.8 55.3 44.0 49.8 39.5 48.0C35.0 46.2 29.8 44.3 25.5 43.0C21.2 41.7 9.0 38.2 13.5 40.0" fill="none" stroke="#4e4e4e" stroke-width="1.2" stroke-linecap="round" opacity="0.8"/><path d="M29.5 2.0C29.3 0.3 31.0 10.3 31.5 14.0C32.0 17.7 32.8 26.0 32.5 24.0" fill="none" stroke="#4e4e4e" stroke-width="1.2" stroke-linecap="round" opacity="0.8"/><path d="M73.5 22.0C75.5 22.3 67.2 17.3 63.5 16.0C59.8 14.7 49.8 13.0 51.5 14.0" fill="none" stroke="#4e4e4e" stroke-width="1.2" stroke-linecap="round" opacity="0.8"/><path d="M75.5 31.0C77.7 30.0 70.2 27.5 67.5 27.0C64.8 26.5 61.7 27.0 59.5 28.0C57.3 29.0 51.8 32.5 54.5 33.0" fill="none" stroke="#4e4e4e" stroke-width="1.2" stroke-linecap="round" opacity="0.8"/><path d="M27.5 16.0C29.8 13.8 21.5 12.7 18.5 13.0C15.5 13.3 11.8 15.8 9.5 18.0C7.2 20.2 1.5 26.3 4.5 26.0" fill="none" stroke="#4e4e4e" stroke-width="1.2" stroke-linecap="round" opacity="0.8"/><path d="M47.5 56.0C51.8 57.3 38.2 52.7 33.5 51.0C28.8 49.3 23.8 47.3 19.5 46.0C15.2 44.7 2.8 41.3 7.5 43.0" fill="none" stroke="#4e4e4e" stroke-width="1.2" stroke-linecap="round" opacity="0.8"/><path d="M67.5 10.0C69.2 10.2 62.5 7.7 59.5 7.0C56.5 6.3 48.2 5.5 49.5 6.0" fill="none" stroke="#4e4e4e" stroke-width="1.2" stroke-linecap="round" opacity="0.8"/><path d="M19.5 30.0C20.5 29.0 13.8 30.7 11.5 32.0C9.2 33.3 4.2 38.3 5.5 38.0" fill="none" stroke="#4e4e4e" stroke-width="1.2" stroke-linecap="round" opacity="0.8"/></g><g transform="translate(474.4 1962.4)"><path d="M0.0 31.9C0.0 28.9 1.0 23.8 3.0 20.0C5.0 16.2 8.3 11.9 12.0 9.0C15.7 6.1 20.3 4.0 25.0 2.5C29.7 1.0 35.0 0.2 40.0 0.0C45.0 -0.2 50.3 0.0 55.0 1.0C59.7 2.0 64.3 3.5 68.0 6.0C71.7 8.5 74.8 12.0 77.0 16.0C79.2 20.0 81.2 26.0 81.5 30.0C81.8 34.0 80.6 37.4 79.0 40.0C77.4 42.6 75.2 44.2 72.0 45.5C68.8 46.8 62.2 46.9 60.0 48.0C57.8 49.1 59.3 50.5 58.5 52.0C57.7 53.5 56.4 56.0 55.0 57.0C53.6 58.0 51.8 58.5 50.0 58.3C48.2 58.1 46.5 57.4 44.0 56.0C41.5 54.6 38.7 51.7 35.0 50.0C31.3 48.3 26.2 47.3 22.0 46.0C17.8 44.7 13.2 43.3 10.0 42.0C6.8 40.7 4.7 39.7 3.0 38.0C1.3 36.3 0.0 34.9 0.0 31.9Z" fill="url(#bg2)" stroke="#3c3c3c" stroke-width="0.9"/><path d="M8.0 36.0C-1.8 33.7 12.3 25.8 16.0 22.0C19.7 18.2 25.0 14.8 30.0 13.0C35.0 11.2 40.7 10.7 46.0 11.0C51.3 11.3 57.7 12.7 62.0 15.0C66.3 17.3 69.8 21.5 72.0 25.0C74.2 28.5 85.7 34.2 75.0 36.0" fill="none" stroke="#4e4e4e" stroke-width="1.2" stroke-linecap="round" opacity="0.8"/><path d="M10.0 40.0C6.0 38.5 18.0 40.3 22.0 41.0C26.0 41.7 30.0 42.5 34.0 44.0C38.0 45.5 50.0 50.7 46.0 50.0" fill="none" stroke="#4e4e4e" stroke-width="1.2" stroke-linecap="round" opacity="0.8"/><path d="M24.0 34.0C24.7 31.8 31.7 28.3 36.0 27.0C40.3 25.7 45.7 25.5 50.0 26.0C54.3 26.5 59.7 28.2 62.0 30.0C64.3 31.8 65.0 35.3 64.0 37.0C63.0 38.7 59.3 39.8 56.0 40.0C52.7 40.2 48.0 38.0 44.0 38.0C40.0 38.0 35.3 40.7 32.0 40.0C28.7 39.3 23.3 36.2 24.0 34.0Z" fill="#c9c9c9" stroke="#8a8a8a" stroke-width="0.6" opacity="0.8"/></g><g transform="translate(558.4 1962.4)"><path d="M81.5 31.9C81.5 28.9 80.5 23.8 78.5 20.0C76.5 16.2 73.2 11.9 69.5 9.0C65.8 6.1 61.2 4.0 56.5 2.5C51.8 1.0 46.5 0.2 41.5 0.0C36.5 -0.2 31.2 0.0 26.5 1.0C21.8 2.0 17.2 3.5 13.5 6.0C9.8 8.5 6.8 12.0 4.5 16.0C2.2 20.0 0.3 26.0 0.0 30.0C-0.3 34.0 0.9 37.4 2.5 40.0C4.1 42.6 6.3 44.2 9.5 45.5C12.7 46.8 19.2 46.9 21.5 48.0C23.8 49.1 22.2 50.5 23.0 52.0C23.8 53.5 25.1 56.0 26.5 57.0C27.9 58.0 29.7 58.5 31.5 58.3C33.3 58.1 35.0 57.4 37.5 56.0C40.0 54.6 42.8 51.7 46.5 50.0C50.2 48.3 55.3 47.3 59.5 46.0C63.7 44.7 68.3 43.3 71.5 42.0C74.7 40.7 76.8 39.7 78.5 38.0C80.2 36.3 81.5 34.9 81.5 31.9Z" fill="url(#bg2)" stroke="#3c3c3c" stroke-width="0.9"/><path d="M73.5 36.0C83.3 33.7 69.2 25.8 65.5 22.0C61.8 18.2 56.5 14.8 51.5 13.0C46.5 11.2 40.8 10.7 35.5 11.0C30.2 11.3 23.8 12.7 19.5 15.0C15.2 17.3 11.7 21.5 9.5 25.0C7.3 28.5 -4.2 34.2 6.5 36.0" fill="none" stroke="#4e4e4e" stroke-width="1.2" stroke-linecap="round" opacity="0.8"/><path d="M71.5 40.0C75.5 38.5 63.5 40.3 59.5 41.0C55.5 41.7 51.5 42.5 47.5 44.0C43.5 45.5 31.5 50.7 35.5 50.0" fill="none" stroke="#4e4e4e" stroke-width="1.2" stroke-linecap="round" opacity="0.8"/><path d="M57.5 34.0C56.8 31.8 49.8 28.3 45.5 27.0C41.2 25.7 35.8 25.5 31.5 26.0C27.2 26.5 21.8 28.2 19.5 30.0C17.2 31.8 16.5 35.3 17.5 37.0C18.5 38.7 22.2 39.8 25.5 40.0C28.8 40.2 33.5 38.0 37.5 38.0C41.5 38.0 46.2 40.7 49.5 40.0C52.8 39.3 58.2 36.2 57.5 34.0Z" fill="#c9c9c9" stroke="#8a8a8a" stroke-width="0.6" opacity="0.8"/></g><polygon points="483.4,1938.9 486.4,1936.9 491.9,1936.4 490.4,1940.9 490.9,1946.9 488.4,1950.9 484.4,1948.9 483.4,1943.9" fill="#f02222" stroke="#e01818" stroke-width="0.8" stroke-linejoin="round"/><polygon points="496.2,1936.9 499.4,1936.4 502.0,1937.9 499.4,1939.4" fill="#f02222" stroke="#e01818" stroke-width="0.8" stroke-linejoin="round"/><polygon points="499.9,1948.9 502.4,1945.9 505.8,1946.9 503.4,1950.4 500.4,1950.9" fill="#f02222" stroke="#e01818" stroke-width="0.8" stroke-linejoin="round"/><polygon points="505.9,1951.4 507.4,1950.9 507.9,1952.4 506.2,1952.9" fill="#f02222" stroke="#e01818" stroke-width="0.8" stroke-linejoin="round"/><polygon points="600.9,1913.9 603.4,1911.4 608.4,1910.9 605.4,1914.9 604.4,1922.9 602.4,1921.9" fill="#f02222" stroke="#e01818" stroke-width="0.8" stroke-linejoin="round"/><polygon points="609.4,1914.9 613.4,1914.6 618.4,1917.9 622.7,1925.9 621.4,1928.4 615.4,1924.9 610.4,1919.9" fill="#f02222" stroke="#e01818" stroke-width="0.8" stroke-linejoin="round"/><polygon points="536.4,1984.7 540.4,1985.4 542.4,1990.4 546.4,1992.4 549.9,1995.4 548.4,2002.4 544.4,2007.4 536.4,2010.2 529.4,2009.4 530.4,2004.4 535.4,1998.4 536.4,1992.4" fill="#f02222" stroke="#e01818" stroke-width="0.8" stroke-linejoin="round"/><polygon points="568.4,1983.4 574.4,1983.1 578.4,1986.4 578.4,1993.4 583.4,1996.4 587.6,2002.4 586.4,2009.4 576.4,2010.2 568.4,2007.4 565.4,2000.4 567.4,1992.4" fill="#f02222" stroke="#e01818" stroke-width="0.8" stroke-linejoin="round"/><text x="59.8" y="2044.6" font-size="20" text-anchor="end">-60</text><text x="59.8" y="1992.9" font-size="20" text-anchor="end">-50</text><text x="59.8" y="1941.2" font-size="20" text-anchor="end">-40</text><text x="59.8" y="1889.6" font-size="20" text-anchor="end">-30</text><text x="59.8" y="1837.9" font-size="20" text-anchor="end">-20</text><text x="59.8" y="1786.2" font-size="20" text-anchor="end">-10</text><text x="59.8" y="1734.6" font-size="20" text-anchor="end">0</text><text x="59.8" y="1682.9" font-size="20" text-anchor="end">10</text><text x="59.8" y="1631.2" font-size="20" text-anchor="end">20</text><text x="59.8" y="1579.6" font-size="20" text-anchor="end">30</text><text x="84.9" y="2061.4" font-size="20" text-anchor="middle">0</text><text x="167.9" y="2061.4" font-size="20" text-anchor="middle">0.5</text><text x="253.1" y="2061.4" font-size="20" text-anchor="middle">1</text><text x="337.3" y="2061.4" font-size="20" text-anchor="middle">1.5</text><text x="423.5" y="2061.4" font-size="20" text-anchor="middle">2</text><text x="506.4" y="2061.4" font-size="20" text-anchor="middle">2.5</text><text x="593.2" y="2061.4" font-size="20" text-anchor="middle">3</text><text x="356.3" y="2088.9" font-size="21.5" text-anchor="middle">Time (s)</text><text transform="translate(18.7 1828.0) rotate(-90)" font-size="21.5" text-anchor="middle">Neural activity index</text><text x="272.3" y="1546.1" font-size="31" textLength="153.3" lengthAdjust="spacingAndGlyphs">Memorised</text><text transform="translate(68.3 2131.4) scale(1.280 1)" font-size="29.45" fill="#000" font-family="'Noto Sans CJK JP', sans-serif">&#9834;</text><text transform="translate(133.5 2131.4) scale(1.280 1)" font-size="29.45" fill="#000" font-family="'Noto Sans CJK JP', sans-serif">&#9834;</text><text transform="translate(192.2 2131.4) scale(1.280 1)" font-size="29.45" fill="#000" font-family="'Noto Sans CJK JP', sans-serif">&#9834;</text><text transform="translate(254.7 2131.4) scale(1.280 1)" font-size="29.45" fill="#000" font-family="'Noto Sans CJK JP', sans-serif">&#9834;</text><text transform="translate(315.4 2131.4) scale(1.280 1)" font-size="29.45" fill="#000" font-family="'Noto Sans CJK JP', sans-serif">&#9834;</text><clipPath id="c21"><rect x="760.5" y="1572.5" width="594.0" height="469.0"/></clipPath><g clip-path="url(#c21)"><rect x="1004.9" y="1572.5" width="5.4" height="469.0" fill="#dcdcdd"/><rect x="1065.0" y="1572.5" width="8.7" height="469.0" fill="#dcdcdd"/><rect x="1088.9" y="1572.5" width="3.2" height="469.0" fill="#dcdcdd"/><rect x="1158.1" y="1572.5" width="4.4" height="469.0" fill="#dcdcdd"/><rect x="1213.0" y="1572.5" width="3.6" height="469.0" fill="#dcdcdd"/><rect x="1227.7" y="1572.5" width="3.7" height="469.0" fill="#dcdcdd"/><path d="M777.5 1572.5V2041.5M794.4 1572.5V2041.5M811.4 1572.5V2041.5M828.4 1572.5V2041.5M845.4 1572.5V2041.5M862.3 1572.5V2041.5M879.3 1572.5V2041.5M896.3 1572.5V2041.5M913.2 1572.5V2041.5M930.2 1572.5V2041.5M947.2 1572.5V2041.5M964.2 1572.5V2041.5M981.1 1572.5V2041.5M998.1 1572.5V2041.5M1015.1 1572.5V2041.5M1032.0 1572.5V2041.5M1049.0 1572.5V2041.5M1066.0 1572.5V2041.5M1083.0 1572.5V2041.5M1099.9 1572.5V2041.5M1116.9 1572.5V2041.5M1133.9 1572.5V2041.5M1150.8 1572.5V2041.5M1167.8 1572.5V2041.5M1184.8 1572.5V2041.5M1201.8 1572.5V2041.5M1218.7 1572.5V2041.5M1235.7 1572.5V2041.5M1252.7 1572.5V2041.5M1269.6 1572.5V2041.5M1286.6 1572.5V2041.5M1303.6 1572.5V2041.5M1320.6 1572.5V2041.5M1337.5 1572.5V2041.5M760.5 2031.1H1354.5M760.5 2020.7H1354.5M760.5 2010.2H1354.5M760.5 1999.8H1354.5M760.5 1989.4H1354.5M760.5 1979.0H1354.5M760.5 1968.5H1354.5M760.5 1958.1H1354.5M760.5 1947.7H1354.5M760.5 1937.3H1354.5M760.5 1926.9H1354.5M760.5 1916.4H1354.5M760.5 1906.0H1354.5M760.5 1895.6H1354.5M760.5 1885.2H1354.5M760.5 1874.7H1354.5M760.5 1864.3H1354.5M760.5 1853.9H1354.5M760.5 1843.5H1354.5M760.5 1833.1H1354.5M760.5 1822.6H1354.5M760.5 1812.2H1354.5M760.5 1801.8H1354.5M760.5 1791.4H1354.5M760.5 1780.9H1354.5M760.5 1770.5H1354.5M760.5 1760.1H1354.5M760.5 1749.7H1354.5M760.5 1739.3H1354.5M760.5 1728.8H1354.5M760.5 1718.4H1354.5M760.5 1708.0H1354.5M760.5 1697.6H1354.5M760.5 1687.1H1354.5M760.5 1676.7H1354.5M760.5 1666.3H1354.5M760.5 1655.9H1354.5M760.5 1645.5H1354.5M760.5 1635.0H1354.5M760.5 1624.6H1354.5M760.5 1614.2H1354.5M760.5 1603.8H1354.5M760.5 1593.3H1354.5M760.5 1582.9H1354.5" stroke="#bdbdbd" stroke-width="0.9" stroke-dasharray="1.2 2.3" fill="none"/><path transform="translate(760.50 1572.50) scale(1.35771 0.1)" d="M0 1330l1-102 1 23 1 119 1-131 1 42 1 42 1-122 1-62 1-106 1 80 1 20 1 61 1-76 1-232 1 122 1-179 1-45 1-225 1 55 1 49 1 674 1 412 1 684 1 604 1 226 1-386 1-390 1-690 1 58 1-370 1 11 1-233 1-179 1-85 1-113 1 124 1 55 1 153 1 13 1 3 1-160 1-151 1-81 1 186 1-82 1 45 1-131 1 158 1 70 1-117 1-270 1 282 1 28 1-434 1 201 1 111 1 60 1 181 1-376 1 124 1-93 1 253 1-93 1-15 1-81 1 83 1-26 1 39 1 27 1 144 1-711 1 15 1-179 1 340 1 413 1 107 1 171 1 89 1 169 1-8 1 97 1-33 1-8 1-439 1 26 1-20 1 187 1-331 1 434 1-124 1-191 1 51 1 129 1 37 1 2 1 48 1 95 1 34 1-178 1 101 1 143 1 59 1-90 1 3 1 8 1-305 1 62 1 23 1 231 1-203 1 21 1 299 1-27 1 198 1-313 1-259 1-290 1-525 1 262 1 19 1 409 1 341 1 83 1-49 1 147 1-478 1 543 1-195 1-29 1 112 1-133 1 343 1-353 1 49 1-39 1 197 1-214 1 194 1-45 1-172 1-99 1-34 1-371 1 422 1-391 1 63 1-283 1 386 1 22 1 45 1-200 1 35 1 195 1-245 1 90 1-223 1 103 1-29 1-46 1 34 1-192 1-40 1-293 1 94 1 239 1 503 1 83 1 340 1 43 1 147 1-22 1-88 1-77 1 67 1 54 1-44 1-298 1 155 1-107 1-160 1-45 1-122 1-106 1 36 1-146 1 328 1-152 1 109 1 165 1-191 1 162 1-168 1 39 1-255 1 308 1-107 1 200 1-90 1-66 1-442 1 491 1 141 1-153 1-28 1-105 1 12 1 174 1-245 1-80 1-272 1 98 1-282 1 226 1 452 1 139 1-485 1 502 1-49 1-143 1 106 1 43 1 216 1-337 1 321 1-101 1-87 1-319 1 150 1 47 1 39 1 82 1-146 1-122 1-324 1 33 1 16 1 194 1-220 1 186 1 262 1 0 1-63 1-169 1 316 1 34 1 219 1-114 1-322 1-239 1 142 1 217 1-160 1-22 1 92 1 165 1-63 1-100 1-42 1 38 1-62 1 131 1-5 1 48 1 12 1-49 1-3 1 101 1-4 1 110 1-104 1-19 1-209 1-421 1 281 1 138 1-280 1 25 1-69 1-94 1 37 1 4 1 17 1-315 1 441 1 169 1-2 1 84 1 82 1 233 1-219 1 156 1 28 1 26 1 166 1-44 1-183 1 42 1 96 1-91 1-2 1-192 1 165 1-204 1 67 1-103 1-458 1 601 1-92 1 146 1 189 1-165 1 44 1-42 1 109 1-2 1-128 1 12 1 198 1 116 1 97 1-37 1-46 1-85 1-175 1-57 1 49 1-127 1 258 1 4 1 303 1-271 1-221 1 52 1 32 1-111 1-20 1 52 1 56 1-244 1 255 1 23 1-90 1 43 1-115 1 121 1-155 1-83 1-73 1-5 1-4 1-143 1 95 1-44 1 132 1 169 1-66 1-16 1 38 1-84 1-56 1-205 1 98 1 91 1 329 1 48 1 17 1 71 1-225 1 35 1-26 1-449 1 328 1 243 1 82 1-446 1 282 1-176 1 111 1-259 1 327 1 77 1 32 1-127 1 27 1-22 1 106 1 62 1 136 1-6 1 13 1-12 1 48 1 4 1-54 1 0 1-5 1-61 1 114 1 34 1-359 1 151 1 273 1-109 1-48 1-81 1-51 1-123 1 22 1 0 1-1 1-91 1 211 1-378 1 106 1 208 1 4 1-1 1 151 1-181 1-10 1-58 1 227 1-83 1-49 1-445 1 196 1 31 1-159 1 117 1 62 1 127 1-32 1-356 1 209 1 149 1-22 1 93V2029l-1 44 -1-182 -1-3 -1 143 -1-207 -1-240 -1-19 -1-10 -1 25 -1 46 -1 120 -1 234 -1 49 -1-63 -1 198 -1 25 -1 108 -1-97 -1 423 -1-480 -1-54 -1 67 -1-95 -1 343 -1-420 -1 132 -1-14 -1 138 -1-13 -1 375 -1-361 -1-270 -1 238 -1-17 -1 153 -1-145 -1 259 -1-222 -1 168 -1-191 -1 235 -1-119 -1-67 -1 52 -1-24 -1-119 -1-22 -1-60 -1 122 -1-205 -1 130 -1-239 -1 671 -1-573 -1 90 -1-45 -1-161 -1 596 -1-477 -1-157 -1-192 -1 171 -1-47 -1-96 -1 1 -1-99 -1 251 -1 69 -1-70 -1 310 -1-11 -1 106 -1-248 -1-166 -1-207 -1-129 -1 78 -1 76 -1-40 -1 168 -1-46 -1 88 -1-148 -1-109 -1 347 -1-297 -1-88 -1 171 -1 109 -1-33 -1 148 -1-99 -1-5 -1-22 -1 98 -1 161 -1 48 -1-73 -1-150 -1 41 -1-68 -1 116 -1 72 -1-113 -1-36 -1-3 -1 210 -1-12 -1 92 -1-127 -1-127 -1-88 -1 9 -1 148 -1-3 -1 390 -1-269 -1-3 -1 302 -1-407 -1 8 -1-68 -1-16 -1-37 -1 78 -1-12 -1 129 -1-205 -1 120 -1-77 -1-157 -1 241 -1 13 -1-126 -1 120 -1-28 -1 335 -1-488 -1 100 -1-127 -1 31 -1 283 -1 89 -1 273 -1-348 -1 38 -1-233 -1 27 -1-178 -1-58 -1-1 -1-281 -1-185 -1-120 -1 119 -1-56 -1 280 -1-38 -1 44 -1 226 -1 14 -1 42 -1-114 -1 23 -1-60 -1 175 -1 164 -1 15 -1 48 -1 408 -1-687 -1 61 -1 291 -1-267 -1-23 -1-42 -1 81 -1 277 -1-264 -1-17 -1 84 -1-25 -1-343 -1 101 -1 123 -1 272 -1-275 -1 77 -1-100 -1 8 -1 103 -1-25 -1 48 -1-145 -1 44 -1-15 -1-17 -1-27 -1-13 -1-82 -1-53 -1 107 -1-99 -1 245 -1 84 -1-43 -1-106 -1 55 -1 65 -1-201 -1 120 -1 125 -1-108 -1 113 -1-34 -1 40 -1 43 -1 105 -1-49 -1-20 -1 195 -1-134 -1-185 -1-539 -1-304 -1 252 -1 165 -1 50 -1 108 -1 282 -1-60 -1 2 -1-221 -1 38 -1 13 -1 30 -1 138 -1 56 -1 135 -1 92 -1-252 -1 463 -1-560 -1 51 -1-86 -1 30 -1-42 -1 229 -1-168 -1-1 -1 303 -1-569 -1-35 -1 139 -1 151 -1 322 -1-96 -1 377 -1-231 -1 49 -1 78 -1 172 -1 33 -1-258 -1 273 -1-24 -1-109 -1-293 -1-55 -1-152 -1-234 -1 224 -1-639 -1 36 -1 33 -1 66 -1 278 -1-180 -1 97 -1-85 -1 125 -1 108 -1 63 -1-17 -1-65 -1-64 -1 98 -1-199 -1 418 -1-300 -1 238 -1-71 -1 78 -1-107 -1 123 -1 42 -1-40 -1 196 -1-130 -1-142 -1 113 -1-10 -1 228 -1-74 -1 181 -1-164 -1 312 -1 169 -1-139 -1-32 -1-196 -1 188 -1-25 -1 48 -1-41 -1-437 -1-427 -1-27 -1 90 -1-22 -1 233 -1 402 -1 207 -1 32 -1 245 -1-658 -1 18 -1 44 -1 149 -1-134 -1-21 -1 93 -1-91 -1 16 -1 134 -1 1 -1-142 -1 305 -1-414 -1-108 -1 50 -1 48 -1 50 -1 11 -1-203 -1-180 -1 223 -1-98 -1 146 -1-162 -1 100 -1 285 -1 256 -1-298 -1 406 -1-316 -1 17 -1 71 -1-204 -1-120 -1-94 -1-214 -1-294 -1-446 -1 269 -1 423 -1 152 -1-92 -1 77 -1-45 -1-130 -1 47 -1 69 -1-111 -1 73 -1-131 -1 185 -1-27 -1 322 -1-304 -1 399 -1-603 -1-33 -1 216 -1 105 -1-161 -1-85 -1 132 -1-34 -1-92 -1 330 -1-423 -1 113 -1-25 -1 74 -1 126 -1 79 -1 199 -1-365 -1 90 -1 34 -1-147 -1 69 -1-74 -1 41 -1 782 -1-343 -1 400 -1 342 -1 168 -1 438 -1 291 -1-215 -1-632 -1-541 -1-344 -1-765 -1 192 -1-242 -1 156 -1 154 -1-9 -1 42 -1 189 -1-37 -1-2 -1-20 -1 121 -1 428 -1-360 -1 127 -1-37 -1 60 -1-2 -1-70 -1-50 -1-4z" fill="#a2c0e4" fill-opacity="0.7"/><path transform="translate(760.50 1572.50) scale(1.35771 0.1)" d="M0 1232l1-31 1-88 1 91 1-63 1 22 1 84 1-30 1 6 1 60 1 4 1 110 1 136 1-23 1-76 1-157 1 35 1 33 1-75 1-117 1 345 1 319 1 382 1 604 1 698 1-81 1-420 1-457 1-506 1-255 1-408 1-373 1-38 1-231 1-6 1 107 1 233 1 143 1 68 1-9 1 156 1 24 1-55 1-70 1-63 1-61 1 75 1-93 1-126 1-68 1 28 1-222 1 54 1 45 1 4 1-162 1 146 1 114 1 56 1 61 1-13 1 83 1-75 1-22 1-39 1-84 1 86 1-76 1-57 1-37 1-12 1 168 1-36 1 134 1 21 1 58 1 360 1 293 1-52 1 92 1-178 1-50 1 22 1 3 1-94 1 17 1 137 1 9 1-139 1 230 1-9 1 130 1-72 1 51 1-126 1 78 1 9 1 41 1-142 1-46 1-84 1 15 1-82 1-71 1-3 1-146 1 67 1-45 1 9 1-230 1 201 1-133 1-71 1-49 1 14 1-142 1-64 1-76 1-134 1 54 1 70 1 175 1 148 1 125 1 194 1-25 1 35 1-124 1 209 1-166 1-144 1-17 1 224 1-178 1 209 1 31 1 122 1 21 1 12 1 127 1-108 1-139 1-126 1-264 1-26 1-79 1 55 1 23 1-36 1-29 1-22 1 170 1 44 1-57 1 125 1-273 1 81 1-197 1 117 1-110 1-36 1 46 1-187 1 67 1-62 1 107 1 121 1 36 1 47 1 172 1 72 1-195 1 167 1-48 1-79 1 68 1 51 1 27 1 52 1-87 1 216 1-128 1 13 1 204 1 100 1-224 1 127 1-21 1 37 1-132 1 17 1 98 1 36 1 47 1-143 1-209 1-122 1 118 1-1 1 15 1 30 1-75 1-103 1 2 1 9 1-169 1 149 1 0 1-91 1 66 1-25 1 21 1 52 1-147 1 333 1 141 1 159 1 16 1-119 1 14 1 22 1 63 1-57 1-31 1-118 1 55 1 27 1 180 1 164 1-177 1 69 1-25 1-81 1-68 1 23 1 110 1 2 1-88 1 116 1-93 1-12 1 57 1-24 1 11 1-177 1 229 1-201 1-130 1-69 1 163 1-153 1 77 1 73 1 61 1-16 1-19 1 72 1 42 1-236 1-47 1 18 1 23 1 89 1 10 1 51 1 27 1-125 1 32 1-199 1 74 1-126 1 79 1-24 1 22 1 95 1-31 1 12 1-82 1-126 1-66 1-200 1 225 1 27 1 114 1-10 1-22 1-62 1 91 1-45 1-96 1 11 1-56 1-88 1-87 1 67 1 96 1-92 1 112 1-106 1 262 1 14 1-13 1 42 1 57 1-39 1 80 1-25 1 75 1 76 1 68 1 78 1-148 1 197 1 261 1-50 1-73 1-130 1 3 1-57 1 81 1 23 1-10 1 105 1 20 1-36 1-85 1-64 1 60 1-100 1 171 1 232 1-89 1-16 1 128 1-139 1 102 1-108 1-68 1-67 1-220 1 346 1-30 1 190 1-85 1-46 1 11 1-104 1-134 1 32 1-65 1 41 1 45 1 224 1-31 1-18 1 48 1 18 1-48 1-181 1-68 1-199 1-132 1 222 1 112 1-78 1 132 1-128 1 9 1 10 1-89 1 133 1 136 1-33 1 117 1-118 1 176 1-156 1 42 1-123 1-35 1-76 1 120 1-32 1 15 1 73 1-11 1 19 1-44 1 25 1-42 1-116 1 57 1 113 1 13 1-121 1-63 1-20 1-73 1-21 1-137 1 148 1-22 1 228 1-17 1 119 1-165 1 48 1-130 1 86 1-11 1 24 1-60 1-210 1 3 1-75 1 173 1 110 1 133 1 17 1-32 1-101 1-183 1 107 1 214 1 111 1-37 1-41 1-113 1-208 1-160 1-2 1 44 1-10 1-141 1 62 1-59 1 53 1-78V1815l-1-70 -1 51 -1-46 -1 283 -1-53 -1-78 -1-43 -1-2 -1 117 -1 171 -1 18 -1-27 -1 68 -1 58 -1-36 -1 138 -1-25 -1 2 -1-118 -1 77 -1-112 -1-76 -1-176 -1 26 -1 224 -1-195 -1 176 -1-52 -1 39 -1 11 -1 121 -1 28 -1-51 -1-13 -1-118 -1-127 -1 12 -1 4 -1 194 -1-52 -1-12 -1 30 -1-35 -1 180 -1-85 -1-134 -1-16 -1 103 -1-3 -1-143 -1 144 -1-22 -1-38 -1 11 -1 90 -1-6 -1-131 -1-16 -1 133 -1 100 -1 91 -1 189 -1-124 -1-41 -1-234 -1-7 -1-60 -1-25 -1 133 -1-36 -1-98 -1 31 -1-161 -1 154 -1 172 -1-10 -1 80 -1-87 -1 53 -1-17 -1 56 -1 24 -1 17 -1 26 -1-168 -1-131 -1 121 -1 38 -1 81 -1 104 -1 61 -1-59 -1-108 -1-43 -1-33 -1-71 -1 22 -1-4 -1 175 -1-92 -1 27 -1 51 -1-52 -1 39 -1-9 -1 100 -1 51 -1-251 -1-49 -1 151 -1-118 -1-76 -1 98 -1 22 -1-30 -1-13 -1 107 -1-34 -1-46 -1-33 -1-36 -1 64 -1 106 -1 44 -1-243 -1-7 -1-32 -1 53 -1-197 -1-92 -1-140 -1 89 -1 74 -1-21 -1 11 -1-190 -1-107 -1 75 -1 8 -1 8 -1-90 -1 26 -1-106 -1-88 -1 337 -1-121 -1 332 -1-254 -1 44 -1 38 -1 37 -1-91 -1 68 -1-207 -1-84 -1-62 -1 81 -1 18 -1 99 -1-23 -1 94 -1 80 -1-85 -1-16 -1 110 -1 102 -1-121 -1 100 -1 6 -1 53 -1-25 -1 54 -1-67 -1-88 -1 26 -1-189 -1 120 -1 45 -1 162 -1 44 -1 0 -1-133 -1-7 -1-61 -1 59 -1-58 -1-76 -1 185 -1-26 -1 85 -1-55 -1 247 -1-17 -1 172 -1-215 -1-52 -1-37 -1 86 -1 253 -1-398 -1 81 -1 16 -1 32 -1 77 -1-174 -1 15 -1 98 -1 180 -1 83 -1-150 -1-113 -1-147 -1-24 -1-18 -1 17 -1 58 -1 51 -1 71 -1 6 -1 16 -1-104 -1-111 -1-196 -1-243 -1 108 -1-198 -1 5 -1 91 -1 78 -1 142 -1-27 -1-6 -1-42 -1-138 -1 14 -1 137 -1 157 -1-65 -1-62 -1 63 -1-135 -1 260 -1 72 -1-99 -1 118 -1 161 -1 60 -1-61 -1-162 -1 47 -1-67 -1 74 -1-60 -1-28 -1-211 -1 71 -1-125 -1-37 -1-9 -1 156 -1-106 -1 47 -1-19 -1 161 -1 57 -1-124 -1 83 -1-176 -1-175 -1-52 -1-171 -1-185 -1-41 -1 55 -1-43 -1 78 -1 73 -1 129 -1 48 -1-175 -1 181 -1 49 -1 175 -1-60 -1-98 -1 68 -1-133 -1 67 -1-88 -1 58 -1 42 -1-27 -1 140 -1-68 -1 195 -1-23 -1 166 -1 189 -1 16 -1-78 -1-52 -1-96 -1-39 -1-97 -1 46 -1-88 -1 65 -1 76 -1 175 -1-147 -1 81 -1 51 -1 87 -1-206 -1-171 -1-342 -1-81 -1-96 -1-12 -1 137 -1 172 -1 12 -1-2 -1 62 -1 88 -1 42 -1 29 -1 30 -1 18 -1 3 -1 60 -1-44 -1 88 -1 73 -1 98 -1 59 -1 37 -1 418 -1-125 -1-4 -1 102 -1-197 -1-59 -1 6 -1-79 -1 281 -1-67 -1-119 -1-225 -1 34 -1-68 -1-30 -1-11 -1 3 -1-34 -1 147 -1-59 -1 92 -1-17 -1 13 -1-200 -1-419 -1 26 -1-24 -1-155 -1-21 -1-78 -1 29 -1 190 -1-28 -1 74 -1-34 -1-14 -1-17 -1 7 -1 103 -1 21 -1-123 -1 40 -1-200 -1-24 -1-33 -1 107 -1-80 -1-67 -1 12 -1 182 -1 49 -1-33 -1 49 -1 35 -1 175 -1 1 -1-59 -1 112 -1 242 -1-267 -1 8 -1-36 -1 32 -1-124 -1-209 -1-181 -1 104 -1 79 -1 161 -1 140 -1 865 -1 67 -1 509 -1 243 -1 507 -1-68 -1-633 -1-591 -1-452 -1-378 -1-321 -1 120 -1 462 -1-148 -1 82 -1-2 -1-33 -1-41 -1-142 -1-40 -1-17 -1 208 -1-187 -1 35 -1-162 -1 27 -1 307 -1 109 -1-333 -1-84z" fill="#8680b6" fill-opacity="0.7"/><path transform="translate(760.50 1572.50) scale(1.35771 0.1)" d="M0 1265l1-1 1-44 1 56 1 84 1 119 1 149 1-32 1 86 1-41 1 8 1-4 1-70 1-179 1-33 1-6 1-40 1-52 1-195 1-21 1 38 1 143 1 196 1 424 1 462 1 436 1-311 1-225 1-327 1-224 1-253 1-203 1-20 1 166 1 51 1 145 1-44 1-12 1 28 1 31 1 18 1-75 1-216 1-118 1-26 1-165 1-66 1-42 1-72 1-200 1-126 1 137 1 68 1 73 1 43 1 6 1 42 1 41 1 161 1 41 1 97 1 116 1 127 1 90 1 69 1 2 1 87 1-2 1 41 1-155 1 100 1-123 1-103 1-23 1-12 1-16 1 30 1 89 1 219 1 84 1-158 1-18 1-82 1 23 1-7 1 159 1-5 1 207 1 133 1 214 1 29 1-22 1-15 1-146 1-99 1-21 1-200 1-48 1-82 1 30 1 103 1 39 1 94 1-100 1 22 1-132 1-148 1 14 1-11 1 51 1-33 1-94 1-10 1-50 1-92 1 20 1-156 1-7 1-161 1-141 1-72 1 9 1 90 1 128 1 133 1 227 1 144 1 105 1 129 1 108 1-17 1 125 1 18 1 101 1 109 1 23 1-86 1-178 1-187 1-131 1-11 1-275 1-70 1-125 1-126 1-4 1-3 1 66 1-84 1 52 1 1 1-22 1 3 1 89 1 16 1 104 1 67 1 148 1 40 1-53 1-25 1-53 1-14 1-147 1-203 1-158 1-6 1 29 1 125 1 34 1 256 1 120 1 53 1 47 1 91 1 76 1 76 1 183 1 114 1 91 1 85 1 215 1-182 1-5 1-234 1-131 1-276 1-62 1-208 1-127 1-110 1-96 1-70 1 125 1 112 1 1 1 140 1 110 1-31 1-15 1-35 1 12 1-46 1 82 1-125 1 140 1 27 1 126 1-152 1-74 1-173 1-167 1-50 1-39 1 78 1 75 1 132 1 196 1 77 1 174 1 129 1 50 1-3 1 121 1 150 1 120 1 2 1 45 1-86 1-46 1-93 1-132 1-97 1-57 1-201 1-122 1-143 1 39 1-81 1-39 1-98 1-10 1-35 1-22 1 57 1-55 1 286 1 9 1 96 1-126 1-89 1-4 1-186 1 104 1 63 1 132 1 38 1-109 1-67 1-19 1 2 1 71 1-16 1-55 1 171 1 59 1 3 1-123 1-31 1-101 1-70 1-1 1-10 1-77 1-20 1-64 1-143 1 77 1 89 1 65 1-100 1-45 1 24 1 150 1-53 1 67 1-87 1-77 1-167 1-78 1 18 1-16 1-27 1 106 1 125 1 21 1-37 1 5 1 119 1 27 1 51 1-46 1 40 1-4 1 62 1-41 1 0 1 40 1 28 1 212 1 59 1 40 1-64 1 85 1-13 1 45 1-64 1 34 1 215 1-51 1-43 1 61 1-85 1-21 1-33 1 67 1 108 1-9 1-25 1-93 1 118 1-125 1-67 1-202 1 118 1 24 1 83 1-18 1-15 1 45 1-79 1-19 1 20 1-80 1 18 1-1 1-73 1 150 1 85 1 59 1-50 1 42 1-27 1-52 1-14 1-72 1-9 1 41 1 60 1 85 1 77 1-21 1 51 1 69 1-32 1-27 1-57 1-78 1-1 1-69 1 11 1 77 1-3 1-80 1 17 1-8 1 0 1-56 1-23 1-24 1 49 1-122 1 110 1 29 1-14 1 5 1 81 1 46 1 63 1-97 1 54 1-38 1 42 1-38 1-1 1 47 1 29 1-127 1-89 1-18 1 98 1 61 1 70 1 95 1 8 1-61 1-120 1-144 1 85 1 41 1 29 1 33 1-145 1 60 1 106 1 63 1 104 1-88 1-67 1-119 1 9 1-64 1-45 1 48 1-49 1-15 1 42 1 57 1-17 1 69 1 47 1-9 1-5 1-40 1 1 1 97 1-71 1-38V1907l-1-27 -1 81 -1 15 -1-10 -1-4 -1-92 -1 20 -1-72 -1-27 -1 80 -1-14 -1-19 -1-90 -1 64 -1-105 -1 33 -1 145 -1-62 -1 151 -1-3 -1 39 -1-41 -1 52 -1-19 -1-157 -1 47 -1-81 -1 103 -1 6 -1-57 -1 156 -1-22 -1 80 -1-132 -1-12 -1-21 -1-21 -1-49 -1-30 -1 152 -1 5 -1-37 -1-66 -1 2 -1 2 -1-55 -1 48 -1 80 -1-73 -1-26 -1 58 -1-31 -1-31 -1-10 -1 29 -1 41 -1 33 -1-45 -1 54 -1-64 -1-91 -1 93 -1-85 -1-24 -1 44 -1-97 -1 21 -1-48 -1 136 -1 46 -1 203 -1 42 -1 41 -1-116 -1-75 -1-81 -1 62 -1 12 -1-72 -1 40 -1-74 -1 34 -1-62 -1-48 -1 136 -1-45 -1-3 -1-2 -1 1 -1-15 -1-122 -1-3 -1-101 -1-8 -1 143 -1-15 -1 13 -1 96 -1-52 -1-9 -1-67 -1-50 -1 11 -1 17 -1 139 -1 26 -1 113 -1-130 -1 43 -1-80 -1-8 -1-96 -1 48 -1 25 -1 120 -1-86 -1 28 -1-19 -1 109 -1-80 -1-19 -1 83 -1-152 -1 93 -1-123 -1-9 -1-126 -1 1 -1-70 -1 18 -1 26 -1-119 -1-24 -1-134 -1 60 -1-63 -1 18 -1 4 -1 25 -1-126 -1-74 -1-78 -1 21 -1-39 -1-6 -1 33 -1-2 -1-6 -1-20 -1 249 -1 29 -1-9 -1-37 -1 57 -1 0 -1-45 -1-83 -1-10 -1-20 -1 15 -1 21 -1 58 -1 28 -1-56 -1 175 -1-30 -1 151 -1 29 -1 82 -1-73 -1 94 -1 100 -1 0 -1-266 -1 55 -1-2 -1-33 -1 52 -1-77 -1 112 -1-28 -1 8 -1-100 -1-72 -1 54 -1 215 -1-41 -1 44 -1-78 -1-54 -1 63 -1 92 -1-118 -1-29 -1-103 -1 8 -1 6 -1 111 -1-61 -1 159 -1 40 -1 93 -1 166 -1 40 -1 140 -1 267 -1 82 -1 95 -1 76 -1-102 -1-124 -1-99 -1-108 -1-19 -1-8 -1-92 -1-55 -1-212 -1-94 -1-80 -1-110 -1-196 -1-109 -1-92 -1 65 -1 107 -1 77 -1 126 -1 110 -1 250 -1-99 -1 14 -1-129 -1-53 -1-2 -1 66 -1 107 -1-38 -1-34 -1-14 -1-30 -1-128 -1 35 -1-91 -1-164 -1-76 -1 191 -1 30 -1 233 -1 74 -1 107 -1 234 -1 162 -1 208 -1 100 -1 92 -1-128 -1-204 -1-84 -1-214 -1-33 -1-144 -1 80 -1-55 -1-39 -1-54 -1-121 -1-243 -1-70 -1-149 -1 13 -1-54 -1 200 -1 63 -1 161 -1-3 -1 98 -1 25 -1 159 -1 5 -1-209 -1-86 -1-2 -1-110 -1-61 -1-136 -1-17 -1-74 -1 107 -1 149 -1-27 -1-9 -1-14 -1 271 -1-188 -1 125 -1 289 -1 179 -1 114 -1 73 -1 50 -1 163 -1 103 -1-147 -1-148 -1 34 -1-108 -1-59 -1-84 -1-107 -1-33 -1-167 -1-236 -1-75 -1-136 -1-115 -1-123 -1 200 -1 160 -1 169 -1-99 -1 57 -1-20 -1 191 -1 62 -1-27 -1 35 -1 42 -1 70 -1 69 -1 31 -1 62 -1 21 -1 5 -1 64 -1-70 -1-50 -1-96 -1 9 -1-11 -1 39 -1 151 -1 103 -1 201 -1 117 -1 3 -1 76 -1-151 -1-227 -1-171 -1-67 -1 13 -1-136 -1-51 -1-79 -1 49 -1 50 -1 111 -1-23 -1-252 -1-161 -1-62 -1-8 -1 26 -1 157 -1 65 -1 58 -1 110 -1 48 -1-5 -1-69 -1-17 -1-155 -1 0 -1-63 -1-64 -1-193 -1-129 -1-88 -1 45 -1-153 -1-54 -1-54 -1 14 -1-10 -1-99 -1-96 -1 141 -1 104 -1 57 -1 72 -1 114 -1 164 -1 95 -1 154 -1 163 -1 54 -1 24 -1-70 -1-52 -1 72 -1 2 -1-130 -1-122 -1-69 -1-43 -1 295 -1 169 -1 262 -1 285 -1 252 -1 233 -1-432 -1-451 -1-358 -1-249 -1-169 -1-93 -1 81 -1 268 -1 192 -1 33 -1-89 -1-52 -1 69 -1 131 -1-40 -1-6 -1-20 -1-46 -1 42 -1-147 -1-82 -1-14 -1-6 -1 39 -1-35z" fill="#e8957a" fill-opacity="0.7"/><path transform="translate(760.50 1572.50) scale(1.35771 0.1)" d="M0 1447l1 11 1 138 1-31 1-125 1-14 1-14 1 60 1-12 1 39 1 28 1 73 1 172 1-49 1 9 1-90 1-23 1-32 1-140 1-111 1 299 1 407 1 407 1 582 1 679 1-97 1-390 1-347 1-487 1-307 1-518 1-215 1-132 1-198 1-17 1 139 1 201 1 152 1 10 1 16 1 63 1 8 1 4 1-87 1-11 1-79 1 8 1-37 1-85 1-25 1-34 1-181 1 4 1 63 1 36 1-103 1 39 1 81 1 61 1 91 1 29 1 64 1-100 1-11 1-11 1-19 1 22 1-56 1-41 1-94 1 2 1 101 1-31 1 188 1-34 1 47 1 375 1 264 1 48 1-22 1-130 1-27 1-62 1 15 1 7 1-17 1 87 1 24 1-64 1 223 1 26 1 7 1-48 1 59 1-74 1 65 1 88 1 0 1-74 1-76 1-138 1-24 1-57 1-53 1-95 1-72 1 35 1-54 1 7 1-18 1-61 1-44 1-62 1-77 1-8 1-71 1-58 1-112 1-118 1 43 1 91 1 92 1 264 1 162 1 165 1-17 1-50 1-36 1 91 1-152 1-105 1-40 1 137 1-5 1 118 1-18 1 97 1 33 1 98 1 26 1-152 1-135 1-82 1-211 1 35 1-130 1 49 1-9 1-54 1 30 1-35 1 132 1 4 1 46 1 42 1-167 1-35 1-152 1 127 1-70 1-101 1-2 1-121 1 9 1-34 1 77 1 157 1 88 1 67 1 204 1 47 1-5 1 53 1-51 1-135 1 64 1-3 1 64 1-28 1-56 1 129 1 45 1-57 1 159 1 86 1-91 1 7 1 53 1 1 1 30 1-8 1 19 1-57 1-4 1-86 1-167 1-100 1 101 1-28 1 53 1 36 1-106 1-96 1-28 1 70 1-76 1 91 1 13 1-104 1-23 1-79 1 42 1-2 1 46 1 202 1 177 1 173 1 15 1-73 1 40 1 48 1-155 1 10 1 1 1-40 1 45 1 76 1 128 1 163 1-117 1-90 1-56 1-14 1 115 1-107 1 65 1-59 1-56 1 152 1-83 1-38 1 48 1 38 1 148 1-142 1 26 1-210 1-100 1-21 1 93 1-172 1 78 1 43 1 29 1 12 1 10 1 62 1 65 1-114 1-150 1-7 1-46 1 94 1 55 1 38 1 63 1-75 1 18 1-108 1 19 1-145 1 117 1-58 1-42 1 57 1-1 1-8 1-73 1-62 1-69 1-64 1 4 1 52 1 106 1 81 1-61 1 24 1 11 1 0 1-90 1-18 1-59 1-22 1-169 1 83 1 7 1 72 1 51 1 23 1 20 1 31 1 14 1 98 1 80 1-42 1 4 1-19 1 68 1 98 1 113 1 40 1-3 1 43 1 239 1-29 1-105 1-84 1 23 1-17 1 31 1 44 1-56 1 63 1 18 1-23 1-81 1-6 1 91 1-72 1 74 1 226 1-47 1-64 1 53 1-76 1 62 1-54 1-86 1-30 1-100 1 125 1-44 1 157 1-13 1-2 1 36 1 0 1-20 1-104 1-102 1 6 1-11 1 157 1 37 1 8 1 32 1-17 1-35 1-108 1-37 1-50 1-33 1-54 1 96 1-142 1 125 1-109 1 75 1 52 1-148 1 95 1 100 1-5 1 122 1 20 1 116 1-185 1 1 1-109 1-70 1-14 1 72 1-6 1 2 1-5 1 49 1-9 1-92 1 105 1-38 1-98 1 49 1 104 1-3 1-113 1-24 1-1 1-31 1 25 1-140 1 62 1-43 1 192 1 42 1 68 1-68 1-1 1-88 1 9 1 4 1-49 1-56 1-114 1-16 1-57 1 183 1 90 1 150 1-44 1 29 1-32 1 12 1-135 1 179 1-17 1-27 1-15 1-89 1-169 1-145 1 23 1 3 1 37 1-121 1-32 1-5 1-2 1 37" fill="none" stroke="#1c1c7a" stroke-width="2.2" stroke-linejoin="round" vector-effect="non-scaling-stroke"/><path transform="translate(760.50 1572.50) scale(1.35771 0.1)" d="M0 1579l1-30 1 73 1 65 1-80 1-22 1 42 1-73 1-54 1-81 1-34 1 7 1 86 1-37 1-179 1 16 1-88 1-141 1-161 1 69 1-22 1 681 1 450 1 541 1 640 1 239 1-332 1-415 1-287 1-296 1-362 1-60 1-288 1-62 1-58 1-87 1 60 1 136 1-52 1 58 1 64 1-123 1-131 1-111 1 120 1-94 1 93 1-96 1 118 1 61 1-93 1 22 1 45 1-8 1-195 1 19 1 146 1 33 1 243 1-362 1 74 1-87 1 108 1-62 1 59 1-22 1-17 1 56 1 46 1-23 1 113 1-282 1-401 1-175 1 343 1 394 1 178 1 102 1 114 1 175 1-15 1 34 1 5 1-79 1-232 1-22 1-98 1 54 1 106 1-49 1-36 1-120 1 45 1 145 1 45 1-26 1-13 1 14 1 89 1-95 1 88 1 133 1 65 1-72 1-46 1 55 1-224 1 84 1 26 1 88 1-155 1 32 1 278 1 63 1 79 1-259 1-313 1-289 1-38 1-169 1 83 1 375 1 421 1 68 1-11 1 10 1-61 1 131 1-119 1 2 1 74 1-229 1 216 1-223 1 25 1-129 1 107 1-102 1 148 1-45 1-93 1-194 1 71 1-15 1 58 1-161 1-26 1-170 1 105 1-22 1 92 1-106 1 16 1 139 1-133 1 41 1-177 1 2 1 3 1-65 1 125 1-242 1-83 1-55 1-22 1 230 1 319 1 270 1 112 1 110 1 146 1 92 1-92 1-105 1 110 1 62 1-124 1-110 1-28 1 90 1-286 1-28 1-177 1-140 1-20 1-51 1 229 1-30 1 51 1 135 1-180 1 111 1-109 1 100 1-131 1 174 1-69 1 179 1-67 1-102 1-77 1 22 1 64 1-90 1-36 1 37 1 0 1 119 1-194 1-100 1-33 1-239 1-192 1 269 1 421 1 182 1 60 1-68 1-52 1-121 1 54 1 19 1 117 1-31 1-10 1 7 1-112 1-218 1 231 1-47 1-44 1 91 1-74 1-94 1-266 1 63 1-21 1 114 1 120 1 95 1-48 1 33 1-53 1-91 1 210 1-5 1 138 1-102 1-131 1 29 1-104 1 200 1-211 1 1 1-12 1 153 1 45 1-98 1-11 1 50 1-50 1 21 1 44 1 25 1 9 1-27 1-53 1 137 1 42 1-8 1 12 1-67 1-237 1 1 1-59 1 126 1-156 1 23 1-184 1-57 1 19 1-116 1 10 1-63 1 147 1 149 1 162 1 35 1 64 1 220 1-120 1 213 1 20 1 13 1 85 1-73 1-242 1-12 1 173 1-138 1 69 1 13 1-34 1-95 1 88 1-189 1-29 1 161 1 84 1-109 1 275 1-178 1 36 1-53 1 82 1-47 1-17 1 30 1 210 1 10 1-4 1-28 1-89 1-26 1-68 1-44 1 65 1 22 1 105 1 148 1-18 1-239 1-41 1-11 1 34 1-88 1-55 1 66 1-3 1 84 1 59 1-22 1-167 1-40 1 61 1 2 1-18 1-157 1-21 1-23 1-111 1-28 1 27 1 32 1 127 1 105 1-59 1 1 1-60 1 10 1-122 1-89 1 88 1 157 1 229 1 132 1-3 1 2 1-227 1 8 1-56 1-171 1 99 1 80 1 98 1-7 1-136 1-37 1 113 1 144 1-86 1 71 1 58 1-103 1 56 1-53 1 113 1 8 1 119 1-87 1 101 1-8 1 77 1-16 1-45 1 46 1 0 1-29 1 25 1 10 1-87 1 104 1 40 1-138 1-7 1-147 1 82 1-29 1-27 1 42 1-38 1-43 1-24 1 15 1 32 1 74 1-64 1 42 1 123 1-115 1 29 1-22 1 40 1-86 1-6 1-81 1-202 1-64 1-109 1 36 1 62 1 69 1 87 1 79 1-114 1 49 1-44 1 183" fill="none" stroke="#3a88c8" stroke-width="2.2" stroke-linejoin="round" vector-effect="non-scaling-stroke"/><path transform="translate(760.50 1572.50) scale(1.35771 0.1)" d="M0 1425l1 24 1-56 1 28 1 39 1 110 1 106 1 23 1 58 1-1 1-8 1 6 1-92 1-107 1 1 1 54 1-54 1-118 1-220 1-72 1 69 1 154 1 236 1 374 1 473 1 426 1-287 1-235 1-285 1-245 1-237 1-224 1 17 1 101 1 107 1 99 1-9 1-17 1 20 1 30 1 33 1-62 1-188 1-137 1-96 1-131 1-82 1-102 1-41 1-130 1-152 1 88 1 130 1 27 1 12 1 20 1 60 1 119 1 32 1 89 1 91 1 154 1 74 1 94 1 41 1 75 1 53 1 50 1 6 1-38 1-63 1-86 1-67 1-108 1-21 1-33 1 74 1 96 1 247 1 61 1-126 1-45 1-75 1 39 1 72 1 105 1 10 1 138 1 148 1 227 1 84 1-63 1 10 1-137 1-158 1-73 1-129 1-66 1-15 1-3 1 74 1 61 1 97 1-74 1-13 1-84 1-90 1-2 1-53 1-14 1-55 1-30 1 11 1-79 1-131 1 14 1-102 1 43 1-174 1-120 1-157 1 61 1 123 1 118 1 98 1 228 1 135 1 111 1 80 1 118 1 44 1 101 1 4 1 94 1 76 1 56 1-148 1-127 1-106 1-136 1-94 1-303 1-81 1-68 1-82 1-34 1 14 1 67 1-111 1-58 1 48 1 43 1 40 1 59 1 96 1 17 1 55 1 175 1 60 1-122 1-13 1-69 1-26 1-157 1-132 1-148 1-14 1 20 1 139 1 63 1 228 1 105 1 76 1 51 1 56 1 9 1 99 1 126 1 154 1 88 1 136 1 182 1-121 1-56 1-242 1-128 1-257 1-111 1-152 1-158 1-44 1-159 1 21 1 138 1 91 1 2 1 74 1 118 1 4 1 7 1-20 1-35 1-39 1 1 1-28 1 114 1 35 1 138 1-188 1-133 1-153 1-120 1-71 1-47 1 52 1 129 1 164 1 153 1 85 1 111 1 153 1 62 1 30 1 92 1 78 1 111 1 52 1 102 1 15 1-94 1-93 1-151 1-111 1-108 1-146 1-115 1-94 1-37 1-128 1 16 1-84 1-41 1-30 1 8 1 101 1 77 1 44 1-1 1 65 1-15 1-75 1 15 1-158 1-24 1 72 1 118 1 12 1-73 1-55 1 33 1-53 1 74 1-45 1-16 1 235 1 5 1-40 1-105 1 4 1-72 1-36 1-114 1-14 1-89 1 26 1-36 1-86 1 32 1 7 1 46 1-48 1 19 1 47 1 43 1-26 1 49 1-56 1-36 1-211 1-45 1 26 1-11 1-30 1 74 1 63 1-7 1 46 1 14 1 126 1-7 1 41 1-30 1 52 1-30 1 86 1-5 1 47 1 17 1 27 1 113 1 29 1 98 1-18 1 94 1-62 1 74 1-42 1 65 1 107 1-93 1 38 1-26 1-60 1-13 1-15 1-5 1 89 1-1 1 44 1-53 1 76 1-67 1-72 1-135 1 8 1 33 1 55 1 17 1 12 1 34 1-89 1 21 1-24 1-72 1-33 1 49 1 2 1 130 1 37 1 36 1-16 1 27 1-43 1-40 1-23 1 43 1-33 1 70 1-27 1 109 1 5 1-35 1 44 1 77 1 80 1-44 1-64 1-124 1-31 1-102 1 67 1-10 1 56 1-82 1 37 1 26 1-50 1 16 1 53 1-65 1 65 1-115 1 73 1-19 1 6 1 1 1 78 1-23 1 53 1-26 1 13 1-79 1 61 1-6 1 35 1 15 1 42 1-71 1-120 1 4 1 88 1 28 1 50 1 62 1 50 1-63 1-79 1-107 1 45 1 26 1-29 1 46 1-29 1 35 1 84 1 0 1 65 1-89 1-14 1-119 1 23 1-92 1-58 1 76 1-28 1 14 1 35 1 36 1-53 1 40 1 72 1 1 1 29 1-27 1 31 1 43 1-89 1 17" fill="none" stroke="#ff1e1e" stroke-width="2.2" stroke-linejoin="round" vector-effect="non-scaling-stroke"/></g><path d="M760.5 2041.5h6.5M1354.5 2041.5h-6.5M760.5 1989.4h6.5M1354.5 1989.4h-6.5M760.5 1937.3h6.5M1354.5 1937.3h-6.5M760.5 1885.2h6.5M1354.5 1885.2h-6.5M760.5 1833.1h6.5M1354.5 1833.1h-6.5M760.5 1780.9h6.5M1354.5 1780.9h-6.5M760.5 1728.8h6.5M1354.5 1728.8h-6.5M760.5 1676.7h6.5M1354.5 1676.7h-6.5M760.5 1624.6h6.5M1354.5 1624.6h-6.5M760.5 1572.5h6.5M1354.5 1572.5h-6.5M777.5 1572.5v6.5M777.5 2041.5v-6.5M862.3 1572.5v6.5M862.3 2041.5v-6.5M947.2 1572.5v6.5M947.2 2041.5v-6.5M1032.0 1572.5v6.5M1032.0 2041.5v-6.5M1116.9 1572.5v6.5M1116.9 2041.5v-6.5M1201.8 1572.5v6.5M1201.8 2041.5v-6.5M1286.6 1572.5v6.5M1286.6 2041.5v-6.5" stroke="#5a5a5a" stroke-width="1.1" fill="none"/><rect x="760.5" y="1572.5" width="594.0" height="469.0" fill="none" stroke="#5a5a5a" stroke-width="1.1"/><rect x="1241.4" y="1583.5" width="98" height="75.7" fill="#fff" stroke="#444" stroke-width="1"/><rect x="1249.0" y="1592.4" width="20.8" height="12.5" fill="#e8957a" fill-opacity="0.7"/><rect x="1249.0" y="1597.8" width="20.8" height="2" fill="#ff1e1e"/><text x="1279.8" y="1603.7" font-size="16.4">Young</text><rect x="1249.0" y="1615.2" width="20.8" height="12.5" fill="#8680b6" fill-opacity="0.7"/><rect x="1249.0" y="1620.6" width="20.8" height="2" fill="#1c1c7a"/><text x="1279.8" y="1626.5" font-size="16.4">60 - 68</text><rect x="1249.0" y="1637.9" width="20.8" height="12.5" fill="#a2c0e4" fill-opacity="0.7"/><rect x="1249.0" y="1643.3" width="20.8" height="2" fill="#3a88c8"/><text x="1279.8" y="1649.2" font-size="16.4">&gt; 68</text><rect x="1160.4" y="1898.4" width="177.4" height="126.0" fill="#fff" stroke="#6e6e6e" stroke-width="1"/><g transform="translate(1166.3 1902.9)"><path d="M0.0 30.8C-0.5 26.7 0.7 22.0 3.0 18.0C5.3 14.0 9.8 9.8 14.0 7.0C18.2 4.2 23.2 2.7 28.0 1.5C32.8 0.3 38.3 0.0 43.0 0.0C47.7 0.0 52.0 0.5 56.0 1.5C60.0 2.5 63.7 3.6 67.0 6.0C70.3 8.4 73.6 12.0 76.0 16.0C78.4 20.0 80.7 26.3 81.5 30.0C82.3 33.7 81.9 35.6 81.0 38.0C80.1 40.4 78.8 42.8 76.0 44.5C73.2 46.2 68.7 46.8 64.0 48.0C59.3 49.2 53.0 50.4 48.0 52.0C43.0 53.6 37.5 56.7 34.0 57.5C30.5 58.3 28.8 57.9 27.0 57.0C25.2 56.1 23.9 53.6 23.5 52.0C23.1 50.4 25.9 48.5 24.5 47.5C23.1 46.5 18.1 46.8 15.0 46.0C11.9 45.2 8.5 45.0 6.0 42.5C3.5 40.0 0.5 34.9 0.0 30.8Z" fill="url(#bg)" stroke="#3c3c3c" stroke-width="0.9"/><path d="M25.0 47.0C21.5 49.0 31.5 42.3 35.0 40.0C38.5 37.7 42.5 35.0 46.0 33.0C49.5 31.0 59.5 25.7 56.0 28.0" fill="none" stroke="#4e4e4e" stroke-width="1.2" stroke-linecap="round" opacity="0.8"/><path d="M44.0 1.0C44.7 -2.2 41.8 8.5 41.0 12.0C40.2 15.5 39.7 18.8 39.0 22.0C38.3 25.2 36.2 34.5 37.0 31.0" fill="none" stroke="#4e4e4e" stroke-width="1.2" stroke-linecap="round" opacity="0.8"/><path d="M29.0 54.0C24.7 55.3 37.5 49.8 42.0 48.0C46.5 46.2 51.7 44.3 56.0 43.0C60.3 41.7 72.5 38.2 68.0 40.0" fill="none" stroke="#4e4e4e" stroke-width="1.2" stroke-linecap="round" opacity="0.8"/><path d="M52.0 2.0C52.2 0.3 50.5 10.3 50.0 14.0C49.5 17.7 48.7 26.0 49.0 24.0" fill="none" stroke="#4e4e4e" stroke-width="1.2" stroke-linecap="round" opacity="0.8"/><path d="M8.0 22.0C6.0 22.3 14.3 17.3 18.0 16.0C21.7 14.7 31.7 13.0 30.0 14.0" fill="none" stroke="#4e4e4e" stroke-width="1.2" stroke-linecap="round" opacity="0.8"/><path d="M6.0 31.0C3.8 30.0 11.3 27.5 14.0 27.0C16.7 26.5 19.8 27.0 22.0 28.0C24.2 29.0 29.7 32.5 27.0 33.0" fill="none" stroke="#4e4e4e" stroke-width="1.2" stroke-linecap="round" opacity="0.8"/><path d="M54.0 16.0C51.7 13.8 60.0 12.7 63.0 13.0C66.0 13.3 69.7 15.8 72.0 18.0C74.3 20.2 80.0 26.3 77.0 26.0" fill="none" stroke="#4e4e4e" stroke-width="1.2" stroke-linecap="round" opacity="0.8"/><path d="M34.0 56.0C29.7 57.3 43.3 52.7 48.0 51.0C52.7 49.3 57.7 47.3 62.0 46.0C66.3 44.7 78.7 41.3 74.0 43.0" fill="none" stroke="#4e4e4e" stroke-width="1.2" stroke-linecap="round" opacity="0.8"/><path d="M14.0 10.0C12.3 10.2 19.0 7.7 22.0 7.0C25.0 6.3 33.3 5.5 32.0 6.0" fill="none" stroke="#4e4e4e" stroke-width="1.2" stroke-linecap="round" opacity="0.8"/><path d="M62.0 30.0C61.0 29.0 67.7 30.7 70.0 32.0C72.3 33.3 77.3 38.3 76.0 38.0" fill="none" stroke="#4e4e4e" stroke-width="1.2" stroke-linecap="round" opacity="0.8"/></g><g transform="translate(1250.3 1902.9)"><path d="M81.5 30.8C82.0 26.7 80.8 22.0 78.5 18.0C76.2 14.0 71.7 9.8 67.5 7.0C63.3 4.2 58.3 2.7 53.5 1.5C48.7 0.3 43.2 0.0 38.5 0.0C33.8 0.0 29.5 0.5 25.5 1.5C21.5 2.5 17.8 3.6 14.5 6.0C11.2 8.4 7.9 12.0 5.5 16.0C3.1 20.0 0.8 26.3 0.0 30.0C-0.8 33.7 -0.4 35.6 0.5 38.0C1.4 40.4 2.7 42.8 5.5 44.5C8.3 46.2 12.8 46.8 17.5 48.0C22.2 49.2 28.5 50.4 33.5 52.0C38.5 53.6 44.0 56.7 47.5 57.5C51.0 58.3 52.8 57.9 54.5 57.0C56.2 56.1 57.6 53.6 58.0 52.0C58.4 50.4 55.6 48.5 57.0 47.5C58.4 46.5 63.4 46.8 66.5 46.0C69.6 45.2 73.0 45.0 75.5 42.5C78.0 40.0 81.0 34.9 81.5 30.8Z" fill="url(#bg)" stroke="#3c3c3c" stroke-width="0.9"/><path d="M56.5 47.0C60.0 49.0 50.0 42.3 46.5 40.0C43.0 37.7 39.0 35.0 35.5 33.0C32.0 31.0 22.0 25.7 25.5 28.0" fill="none" stroke="#4e4e4e" stroke-width="1.2" stroke-linecap="round" opacity="0.8"/><path d="M37.5 1.0C36.8 -2.2 39.7 8.5 40.5 12.0C41.3 15.5 41.8 18.8 42.5 22.0C43.2 25.2 45.3 34.5 44.5 31.0" fill="none" stroke="#4e4e4e" stroke-width="1.2" stroke-linecap="round" opacity="0.8"/><path d="M52.5 54.0C56.8 55.3 44.0 49.8 39.5 48.0C35.0 46.2 29.8 44.3 25.5 43.0C21.2 41.7 9.0 38.2 13.5 40.0" fill="none" stroke="#4e4e4e" stroke-width="1.2" stroke-linecap="round" opacity="0.8"/><path d="M29.5 2.0C29.3 0.3 31.0 10.3 31.5 14.0C32.0 17.7 32.8 26.0 32.5 24.0" fill="none" stroke="#4e4e4e" stroke-width="1.2" stroke-linecap="round" opacity="0.8"/><path d="M73.5 22.0C75.5 22.3 67.2 17.3 63.5 16.0C59.8 14.7 49.8 13.0 51.5 14.0" fill="none" stroke="#4e4e4e" stroke-width="1.2" stroke-linecap="round" opacity="0.8"/><path d="M75.5 31.0C77.7 30.0 70.2 27.5 67.5 27.0C64.8 26.5 61.7 27.0 59.5 28.0C57.3 29.0 51.8 32.5 54.5 33.0" fill="none" stroke="#4e4e4e" stroke-width="1.2" stroke-linecap="round" opacity="0.8"/><path d="M27.5 16.0C29.8 13.8 21.5 12.7 18.5 13.0C15.5 13.3 11.8 15.8 9.5 18.0C7.2 20.2 1.5 26.3 4.5 26.0" fill="none" stroke="#4e4e4e" stroke-width="1.2" stroke-linecap="round" opacity="0.8"/><path d="M47.5 56.0C51.8 57.3 38.2 52.7 33.5 51.0C28.8 49.3 23.8 47.3 19.5 46.0C15.2 44.7 2.8 41.3 7.5 43.0" fill="none" stroke="#4e4e4e" stroke-width="1.2" stroke-linecap="round" opacity="0.8"/><path d="M67.5 10.0C69.2 10.2 62.5 7.7 59.5 7.0C56.5 6.3 48.2 5.5 49.5 6.0" fill="none" stroke="#4e4e4e" stroke-width="1.2" stroke-linecap="round" opacity="0.8"/><path d="M19.5 30.0C20.5 29.0 13.8 30.7 11.5 32.0C9.2 33.3 4.2 38.3 5.5 38.0" fill="none" stroke="#4e4e4e" stroke-width="1.2" stroke-linecap="round" opacity="0.8"/></g><g transform="translate(1166.3 1962.4)"><path d="M0.0 31.9C0.0 28.9 1.0 23.8 3.0 20.0C5.0 16.2 8.3 11.9 12.0 9.0C15.7 6.1 20.3 4.0 25.0 2.5C29.7 1.0 35.0 0.2 40.0 0.0C45.0 -0.2 50.3 0.0 55.0 1.0C59.7 2.0 64.3 3.5 68.0 6.0C71.7 8.5 74.8 12.0 77.0 16.0C79.2 20.0 81.2 26.0 81.5 30.0C81.8 34.0 80.6 37.4 79.0 40.0C77.4 42.6 75.2 44.2 72.0 45.5C68.8 46.8 62.2 46.9 60.0 48.0C57.8 49.1 59.3 50.5 58.5 52.0C57.7 53.5 56.4 56.0 55.0 57.0C53.6 58.0 51.8 58.5 50.0 58.3C48.2 58.1 46.5 57.4 44.0 56.0C41.5 54.6 38.7 51.7 35.0 50.0C31.3 48.3 26.2 47.3 22.0 46.0C17.8 44.7 13.2 43.3 10.0 42.0C6.8 40.7 4.7 39.7 3.0 38.0C1.3 36.3 0.0 34.9 0.0 31.9Z" fill="url(#bg2)" stroke="#3c3c3c" stroke-width="0.9"/><path d="M8.0 36.0C-1.8 33.7 12.3 25.8 16.0 22.0C19.7 18.2 25.0 14.8 30.0 13.0C35.0 11.2 40.7 10.7 46.0 11.0C51.3 11.3 57.7 12.7 62.0 15.0C66.3 17.3 69.8 21.5 72.0 25.0C74.2 28.5 85.7 34.2 75.0 36.0" fill="none" stroke="#4e4e4e" stroke-width="1.2" stroke-linecap="round" opacity="0.8"/><path d="M10.0 40.0C6.0 38.5 18.0 40.3 22.0 41.0C26.0 41.7 30.0 42.5 34.0 44.0C38.0 45.5 50.0 50.7 46.0 50.0" fill="none" stroke="#4e4e4e" stroke-width="1.2" stroke-linecap="round" opacity="0.8"/><path d="M24.0 34.0C24.7 31.8 31.7 28.3 36.0 27.0C40.3 25.7 45.7 25.5 50.0 26.0C54.3 26.5 59.7 28.2 62.0 30.0C64.3 31.8 65.0 35.3 64.0 37.0C63.0 38.7 59.3 39.8 56.0 40.0C52.7 40.2 48.0 38.0 44.0 38.0C40.0 38.0 35.3 40.7 32.0 40.0C28.7 39.3 23.3 36.2 24.0 34.0Z" fill="#c9c9c9" stroke="#8a8a8a" stroke-width="0.6" opacity="0.8"/></g><g transform="translate(1250.3 1962.4)"><path d="M81.5 31.9C81.5 28.9 80.5 23.8 78.5 20.0C76.5 16.2 73.2 11.9 69.5 9.0C65.8 6.1 61.2 4.0 56.5 2.5C51.8 1.0 46.5 0.2 41.5 0.0C36.5 -0.2 31.2 0.0 26.5 1.0C21.8 2.0 17.2 3.5 13.5 6.0C9.8 8.5 6.8 12.0 4.5 16.0C2.2 20.0 0.3 26.0 0.0 30.0C-0.3 34.0 0.9 37.4 2.5 40.0C4.1 42.6 6.3 44.2 9.5 45.5C12.7 46.8 19.2 46.9 21.5 48.0C23.8 49.1 22.2 50.5 23.0 52.0C23.8 53.5 25.1 56.0 26.5 57.0C27.9 58.0 29.7 58.5 31.5 58.3C33.3 58.1 35.0 57.4 37.5 56.0C40.0 54.6 42.8 51.7 46.5 50.0C50.2 48.3 55.3 47.3 59.5 46.0C63.7 44.7 68.3 43.3 71.5 42.0C74.7 40.7 76.8 39.7 78.5 38.0C80.2 36.3 81.5 34.9 81.5 31.9Z" fill="url(#bg2)" stroke="#3c3c3c" stroke-width="0.9"/><path d="M73.5 36.0C83.3 33.7 69.2 25.8 65.5 22.0C61.8 18.2 56.5 14.8 51.5 13.0C46.5 11.2 40.8 10.7 35.5 11.0C30.2 11.3 23.8 12.7 19.5 15.0C15.2 17.3 11.7 21.5 9.5 25.0C7.3 28.5 -4.2 34.2 6.5 36.0" fill="none" stroke="#4e4e4e" stroke-width="1.2" stroke-linecap="round" opacity="0.8"/><path d="M71.5 40.0C75.5 38.5 63.5 40.3 59.5 41.0C55.5 41.7 51.5 42.5 47.5 44.0C43.5 45.5 31.5 50.7 35.5 50.0" fill="none" stroke="#4e4e4e" stroke-width="1.2" stroke-linecap="round" opacity="0.8"/><path d="M57.5 34.0C56.8 31.8 49.8 28.3 45.5 27.0C41.2 25.7 35.8 25.5 31.5 26.0C27.2 26.5 21.8 28.2 19.5 30.0C17.2 31.8 16.5 35.3 17.5 37.0C18.5 38.7 22.2 39.8 25.5 40.0C28.8 40.2 33.5 38.0 37.5 38.0C41.5 38.0 46.2 40.7 49.5 40.0C52.8 39.3 58.2 36.2 57.5 34.0Z" fill="#c9c9c9" stroke="#8a8a8a" stroke-width="0.6" opacity="0.8"/></g><polygon points="1175.3,1938.9 1178.3,1936.9 1183.8,1936.4 1182.3,1940.9 1182.8,1946.9 1180.3,1950.9 1176.3,1948.9 1175.3,1943.9" fill="#f02222" stroke="#e01818" stroke-width="0.8" stroke-linejoin="round"/><polygon points="1188.1,1936.9 1191.3,1936.4 1193.9,1937.9 1191.3,1939.4" fill="#f02222" stroke="#e01818" stroke-width="0.8" stroke-linejoin="round"/><polygon points="1191.8,1948.9 1194.3,1945.9 1197.7,1946.9 1195.3,1950.4 1192.3,1950.9" fill="#f02222" stroke="#e01818" stroke-width="0.8" stroke-linejoin="round"/><polygon points="1197.8,1951.4 1199.3,1950.9 1199.8,1952.4 1198.1,1952.9" fill="#f02222" stroke="#e01818" stroke-width="0.8" stroke-linejoin="round"/><polygon points="1292.8,1913.9 1295.3,1911.4 1300.3,1910.9 1297.3,1914.9 1296.3,1922.9 1294.3,1921.9" fill="#f02222" stroke="#e01818" stroke-width="0.8" stroke-linejoin="round"/><polygon points="1301.3,1914.9 1305.3,1914.6 1310.3,1917.9 1314.6,1925.9 1313.3,1928.4 1307.3,1924.9 1302.3,1919.9" fill="#f02222" stroke="#e01818" stroke-width="0.8" stroke-linejoin="round"/><polygon points="1228.3,1984.7 1232.3,1985.4 1234.3,1990.4 1238.3,1992.4 1241.8,1995.4 1240.3,2002.4 1236.3,2007.4 1228.3,2010.2 1221.3,2009.4 1222.3,2004.4 1227.3,1998.4 1228.3,1992.4" fill="#f02222" stroke="#e01818" stroke-width="0.8" stroke-linejoin="round"/><polygon points="1260.3,1983.4 1266.3,1983.1 1270.3,1986.4 1270.3,1993.4 1275.3,1996.4 1279.5,2002.4 1278.3,2009.4 1268.3,2010.2 1260.3,2007.4 1257.3,2000.4 1259.3,1992.4" fill="#f02222" stroke="#e01818" stroke-width="0.8" stroke-linejoin="round"/><path d="M871.7 1839.9v8.8H898.1v-8.8" stroke="#000" stroke-width="2.4" fill="none"/><text x="751.7" y="2044.6" font-size="20" text-anchor="end">-60</text><text x="751.7" y="1992.9" font-size="20" text-anchor="end">-50</text><text x="751.7" y="1941.2" font-size="20" text-anchor="end">-40</text><text x="751.7" y="1889.6" font-size="20" text-anchor="end">-30</text><text x="751.7" y="1837.9" font-size="20" text-anchor="end">-20</text><text x="751.7" y="1786.2" font-size="20" text-anchor="end">-10</text><text x="751.7" y="1734.6" font-size="20" text-anchor="end">0</text><text x="751.7" y="1682.9" font-size="20" text-anchor="end">10</text><text x="751.7" y="1631.2" font-size="20" text-anchor="end">20</text><text x="751.7" y="1579.6" font-size="20" text-anchor="end">30</text><text x="776.8" y="2061.4" font-size="20" text-anchor="middle">0</text><text x="859.8" y="2061.4" font-size="20" text-anchor="middle">0.5</text><text x="945.0" y="2061.4" font-size="20" text-anchor="middle">1</text><text x="1029.2" y="2061.4" font-size="20" text-anchor="middle">1.5</text><text x="1115.4" y="2061.4" font-size="20" text-anchor="middle">2</text><text x="1198.3" y="2061.4" font-size="20" text-anchor="middle">2.5</text><text x="1285.1" y="2061.4" font-size="20" text-anchor="middle">3</text><text x="1048.2" y="2088.9" font-size="21.5" text-anchor="middle">Time (s)</text><text transform="translate(710.6 1828.0) rotate(-90)" font-size="21.5" text-anchor="middle">Neural activity index</text><text x="984.1" y="1546.1" font-size="31" textLength="115.6" lengthAdjust="spacingAndGlyphs">Novel T1</text><text transform="translate(760.2 2131.4) scale(1.280 1)" font-size="29.45" fill="#000" font-family="'Noto Sans CJK JP', sans-serif">&#9834;</text><text transform="translate(825.4 2131.4) scale(1.280 1)" font-size="29.45" fill="#e8262a" font-family="'Noto Sans CJK JP', sans-serif">&#9834;</text><text transform="translate(884.1 2131.4) scale(1.280 1)" font-size="29.45" fill="#e8262a" font-family="'Noto Sans CJK JP', sans-serif">&#9834;</text><text transform="translate(946.6 2131.4) scale(1.280 1)" font-size="29.45" fill="#e8262a" font-family="'Noto Sans CJK JP', sans-serif">&#9834;</text><text transform="translate(1007.3 2131.4) scale(1.280 1)" font-size="29.45" fill="#e8262a" font-family="'Noto Sans CJK JP', sans-serif">&#9834;</text><clipPath id="c22"><rect x="1452.5" y="1572.5" width="594.0" height="469.0"/></clipPath><g clip-path="url(#c22)"><rect x="1540.2" y="1572.5" width="9.0" height="469.0" fill="#dcdcdd"/><rect x="1693.8" y="1572.5" width="8.5" height="469.0" fill="#dcdcdd"/><rect x="1754.3" y="1572.5" width="13.1" height="469.0" fill="#dcdcdd"/><rect x="1902.2" y="1572.5" width="4.9" height="469.0" fill="#dcdcdd"/><path d="M1469.5 1572.5V2041.5M1486.4 1572.5V2041.5M1503.4 1572.5V2041.5M1520.4 1572.5V2041.5M1537.4 1572.5V2041.5M1554.3 1572.5V2041.5M1571.3 1572.5V2041.5M1588.3 1572.5V2041.5M1605.2 1572.5V2041.5M1622.2 1572.5V2041.5M1639.2 1572.5V2041.5M1656.2 1572.5V2041.5M1673.1 1572.5V2041.5M1690.1 1572.5V2041.5M1707.1 1572.5V2041.5M1724.0 1572.5V2041.5M1741.0 1572.5V2041.5M1758.0 1572.5V2041.5M1775.0 1572.5V2041.5M1791.9 1572.5V2041.5M1808.9 1572.5V2041.5M1825.9 1572.5V2041.5M1842.8 1572.5V2041.5M1859.8 1572.5V2041.5M1876.8 1572.5V2041.5M1893.8 1572.5V2041.5M1910.7 1572.5V2041.5M1927.7 1572.5V2041.5M1944.7 1572.5V2041.5M1961.6 1572.5V2041.5M1978.6 1572.5V2041.5M1995.6 1572.5V2041.5M2012.6 1572.5V2041.5M2029.5 1572.5V2041.5M1452.5 2031.1H2046.5M1452.5 2020.7H2046.5M1452.5 2010.2H2046.5M1452.5 1999.8H2046.5M1452.5 1989.4H2046.5M1452.5 1979.0H2046.5M1452.5 1968.5H2046.5M1452.5 1958.1H2046.5M1452.5 1947.7H2046.5M1452.5 1937.3H2046.5M1452.5 1926.9H2046.5M1452.5 1916.4H2046.5M1452.5 1906.0H2046.5M1452.5 1895.6H2046.5M1452.5 1885.2H2046.5M1452.5 1874.7H2046.5M1452.5 1864.3H2046.5M1452.5 1853.9H2046.5M1452.5 1843.5H2046.5M1452.5 1833.1H2046.5M1452.5 1822.6H2046.5M1452.5 1812.2H2046.5M1452.5 1801.8H2046.5M1452.5 1791.4H2046.5M1452.5 1780.9H2046.5M1452.5 1770.5H2046.5M1452.5 1760.1H2046.5M1452.5 1749.7H2046.5M1452.5 1739.3H2046.5M1452.5 1728.8H2046.5M1452.5 1718.4H2046.5M1452.5 1708.0H2046.5M1452.5 1697.6H2046.5M1452.5 1687.1H2046.5M1452.5 1676.7H2046.5M1452.5 1666.3H2046.5M1452.5 1655.9H2046.5M1452.5 1645.5H2046.5M1452.5 1635.0H2046.5M1452.5 1624.6H2046.5M1452.5 1614.2H2046.5M1452.5 1603.8H2046.5M1452.5 1593.3H2046.5M1452.5 1582.9H2046.5" stroke="#bdbdbd" stroke-width="0.9" stroke-dasharray="1.2 2.3" fill="none"/><path transform="translate(1452.50 1572.50) scale(1.35771 0.1)" d="M0 993l1 145 1 151 1-50 1-41 1-29 1-110 1 196 1 68 1 64 1 77 1-73 1-149 1 65 1-122 1 115 1-49 1-257 1-462 1-134 1 453 1 691 1 587 1 791 1 590 1-539 1-669 1-466 1-399 1-337 1-95 1 63 1-194 1-60 1-174 1-116 1 171 1-85 1 1 1 119 1 91 1-148 1 48 1-310 1 369 1 69 1-16 1-77 1-98 1-218 1 180 1-56 1-326 1 156 1 205 1-42 1 52 1-5 1 48 1 188 1-101 1 52 1-98 1 116 1-12 1-240 1 120 1 54 1 10 1-138 1-300 1 167 1 99 1 73 1 11 1 195 1 206 1 227 1-80 1 132 1-188 1-210 1 37 1 209 1 16 1-116 1-91 1-195 1-157 1-248 1 321 1-137 1 202 1-13 1 122 1-169 1-2 1-292 1 20 1-151 1 120 1 41 1 107 1 71 1-36 1 87 1-5 1-465 1 328 1 55 1 17 1-29 1 125 1-97 1-113 1-43 1 9 1-38 1 2 1 202 1-42 1 78 1-45 1 306 1-64 1-72 1 212 1-85 1 58 1 54 1-26 1-61 1-130 1-68 1-23 1-134 1 495 1 51 1-405 1 396 1-133 1-261 1 208 1 98 1 22 1-40 1-85 1-7 1-162 1-109 1 148 1-119 1-24 1 102 1-123 1 79 1-99 1-51 1 76 1-31 1-36 1-127 1-112 1-220 1 64 1 96 1 240 1 313 1 33 1 194 1-300 1 281 1 101 1 74 1-130 1-17 1-47 1 239 1-164 1 96 1 227 1 8 1 16 1 25 1 325 1 62 1-132 1-44 1 6 1-314 1 2 1 41 1 130 1-129 1 21 1-147 1 258 1-154 1-480 1 308 1-248 1 82 1-429 1 65 1 213 1 34 1 73 1-238 1-421 1 343 1-625 1 341 1-474 1-7 1 526 1 344 1-14 1 270 1-38 1 83 1-483 1 247 1 82 1-131 1 68 1-111 1-81 1-106 1-498 1 680 1-69 1 150 1 22 1-107 1-4 1-107 1 96 1 16 1 123 1-97 1 105 1-138 1 20 1 83 1 78 1-310 1 279 1-82 1 61 1 142 1-183 1 10 1 41 1-443 1 269 1 95 1 16 1-43 1 70 1-93 1 26 1 215 1 167 1 192 1-211 1-26 1-159 1 178 1-178 1 51 1-113 1 4 1-76 1-172 1-18 1 178 1 130 1-52 1-81 1-72 1 112 1-20 1 176 1-57 1 211 1-52 1-276 1 23 1-283 1 69 1 13 1-121 1 166 1 56 1 115 1 62 1 71 1-106 1-129 1 56 1-8 1 14 1 16 1 70 1 152 1-71 1 308 1-108 1 258 1-108 1 320 1-384 1 126 1 61 1 15 1 112 1-146 1 200 1-86 1 42 1-46 1-3 1 23 1-24 1 137 1 69 1 39 1 24 1 186 1-141 1-13 1-155 1 23 1 109 1-80 1 192 1-38 1 19 1-111 1-139 1-153 1 2 1-98 1 110 1 107 1-8 1-8 1 36 1 34 1 15 1 79 1 57 1 35 1-48 1 38 1 36 1-46 1-41 1-31 1 0 1-163 1 293 1-23 1-300 1 153 1 121 1 147 1 29 1 146 1-101 1-49 1-547 1 364 1-78 1 78 1-149 1-77 1-97 1-13 1-243 1 79 1 135 1 86 1 146 1 149 1-51 1-11 1-139 1-16 1-145 1-144 1 12 1-299 1 233 1 104 1-90 1 30 1 99 1-53 1-36 1 150 1 80 1 38 1-276 1-240 1 355 1-88 1 160 1-27 1 136 1 2 1-160 1 6 1-109 1 94 1-99 1 118 1-207 1 82 1-53 1 188 1-429 1 415 1-12 1-117 1 165 1-131 1 19 1 91 1-71 1-164 1-184 1-87 1 33 1 97 1 151 1-132 1 117V1939l-1-112 -1-65 -1 83 -1 8 -1 268 -1 48 -1-63 -1-159 -1-35 -1 147 -1 41 -1 35 -1-117 -1 89 -1-26 -1-126 -1 163 -1-241 -1 145 -1-183 -1 155 -1 33 -1 88 -1 84 -1 12 -1 18 -1 229 -1-390 -1-177 -1 116 -1-58 -1 107 -1 451 -1-428 -1-22 -1-89 -1 114 -1 270 -1-256 -1-185 -1 3 -1-141 -1 122 -1 7 -1 205 -1-175 -1-108 -1 149 -1 104 -1 585 -1-144 -1-157 -1 9 -1 167 -1-288 -1-11 -1-36 -1 137 -1-168 -1-102 -1 95 -1 103 -1 232 -1-41 -1-30 -1 4 -1 68 -1 9 -1 123 -1-235 -1-10 -1-158 -1-17 -1 202 -1 54 -1-23 -1-151 -1 152 -1-7 -1 4 -1-23 -1 36 -1 139 -1-194 -1 147 -1-294 -1 67 -1-109 -1 148 -1-80 -1-63 -1 298 -1-278 -1 26 -1-128 -1 109 -1-64 -1 58 -1 72 -1 69 -1 174 -1-224 -1 181 -1-69 -1 21 -1-118 -1 146 -1 236 -1-138 -1-243 -1-144 -1 83 -1 165 -1-29 -1 14 -1-172 -1-39 -1-200 -1 493 -1-300 -1-216 -1 136 -1 162 -1 30 -1-217 -1 30 -1 22 -1-92 -1 137 -1-339 -1 363 -1-574 -1-166 -1 109 -1-211 -1 201 -1-256 -1 2 -1 45 -1 83 -1 105 -1-116 -1-197 -1-35 -1 7 -1-37 -1 53 -1-158 -1-10 -1 455 -1-175 -1 280 -1 100 -1-93 -1 68 -1-337 -1 27 -1-30 -1 176 -1 81 -1-174 -1 88 -1-64 -1 200 -1-153 -1 12 -1 65 -1 36 -1-164 -1 321 -1-174 -1 166 -1-179 -1 23 -1-38 -1-170 -1 77 -1-155 -1 227 -1-50 -1-85 -1-97 -1-95 -1 66 -1 12 -1-44 -1 194 -1-7 -1-172 -1 142 -1-26 -1-18 -1 56 -1 67 -1-113 -1 108 -1 97 -1-258 -1-89 -1 87 -1-79 -1 137 -1-34 -1 56 -1-101 -1 107 -1-163 -1 99 -1-36 -1-7 -1 7 -1 116 -1-1 -1 28 -1 161 -1-129 -1 169 -1-225 -1-191 -1 138 -1 134 -1-65 -1-350 -1-27 -1-174 -1 115 -1-65 -1 169 -1 137 -1 186 -1-128 -1-7 -1 25 -1 95 -1 358 -1-230 -1-27 -1 372 -1-110 -1 142 -1-155 -1-45 -1 260 -1 111 -1-168 -1 128 -1 97 -1 13 -1 177 -1-22 -1 179 -1 19 -1-183 -1 450 -1-620 -1-120 -1-120 -1-144 -1-50 -1 193 -1-6 -1 17 -1-273 -1-147 -1 109 -1-49 -1-2 -1-46 -1-91 -1 9 -1-203 -1-247 -1-45 -1-281 -1 234 -1 29 -1-28 -1 137 -1 222 -1-47 -1 174 -1 7 -1-46 -1 98 -1 218 -1-414 -1 39 -1-155 -1 72 -1 333 -1-11 -1-14 -1 25 -1 73 -1-87 -1 151 -1 80 -1-182 -1-191 -1 52 -1-158 -1 5 -1-160 -1 37 -1 14 -1 534 -1-314 -1 184 -1-40 -1-131 -1 110 -1-83 -1-49 -1-108 -1-156 -1-123 -1-45 -1-57 -1 137 -1 16 -1-85 -1 54 -1-86 -1 236 -1-73 -1-52 -1 24 -1-26 -1 72 -1 58 -1 28 -1-145 -1 91 -1-58 -1-124 -1-34 -1 137 -1 55 -1 246 -1-67 -1-23 -1 250 -1-120 -1 109 -1-328 -1 222 -1-86 -1 27 -1 72 -1 108 -1 19 -1 22 -1 6 -1 211 -1-91 -1 1 -1-36 -1-18 -1 68 -1 117 -1-299 -1-105 -1-231 -1 166 -1-314 -1 257 -1-184 -1 437 -1-510 -1 168 -1-37 -1 54 -1 128 -1-87 -1 46 -1 67 -1-245 -1 85 -1-199 -1 19 -1 29 -1 92 -1 126 -1-112 -1 85 -1-13 -1 59 -1 82 -1-123 -1 221 -1-2 -1-132 -1-169 -1-66 -1 239 -1-22 -1 67 -1-268 -1 328 -1-351 -1 177 -1-256 -1 150 -1 76 -1 71 -1 436 -1 152 -1 32 -1 102 -1 271 -1 518 -1 689 -1 634 -1-668 -1-770 -1-766 -1-635 -1-424 -1 335 -1 35 -1 465 -1 162 -1 25 -1 75 -1-22 -1-18 -1 63 -1-160 -1-46 -1 29 -1 71 -1-13 -1 177 -1-228 -1-106 -1-141 -1-18z" fill="#a2c0e4" fill-opacity="0.7"/><path transform="translate(1452.50 1572.50) scale(1.35771 0.1)" d="M0 1311l1 31 1-67 1-19 1-107 1-29 1 116 1-25 1 46 1 62 1 142 1-24 1 62 1 136 1-161 1-114 1-125 1-80 1-213 1 153 1 553 1 518 1 394 1 401 1 569 1-60 1-350 1-556 1-352 1-554 1-341 1-527 1-29 1-19 1 74 1 230 1-71 1 228 1 5 1 21 1-149 1 6 1-49 1 58 1-179 1-108 1-94 1 67 1-112 1-64 1-60 1-25 1-91 1-33 1 37 1 89 1-65 1 22 1 52 1-72 1 58 1 35 1 43 1 40 1 177 1 55 1 63 1 31 1 50 1 79 1-90 1-47 1-265 1-127 1 124 1 234 1 357 1 367 1-264 1-134 1-304 1 92 1 37 1 218 1 6 1-252 1-139 1 123 1-21 1 111 1-71 1 61 1-155 1 67 1 97 1-137 1-70 1-46 1-314 1 6 1 59 1-26 1-98 1 60 1-138 1 51 1 52 1 106 1-59 1 61 1-25 1 3 1-95 1-155 1 232 1 57 1-1 1-141 1-34 1-112 1 422 1 316 1 249 1-85 1-51 1 175 1 177 1-89 1 320 1-249 1-34 1 13 1-60 1 194 1 99 1-245 1 89 1-133 1 116 1-167 1 39 1 67 1 63 1-134 1-67 1-26 1-231 1-157 1-180 1-47 1 4 1-48 1 135 1 95 1-20 1 150 1 90 1-98 1-80 1 20 1-207 1-56 1-109 1-91 1-11 1 241 1 266 1 151 1 53 1 225 1 11 1-19 1-25 1 31 1 76 1 206 1 121 1 106 1-32 1 217 1 198 1 184 1-216 1 195 1-85 1-34 1-75 1-31 1-226 1-3 1-135 1-98 1-68 1 135 1-163 1-22 1-158 1-76 1 148 1-85 1-1 1-281 1-166 1-24 1-16 1-168 1-26 1-72 1-99 1-114 1 21 1-220 1 15 1 132 1 167 1 191 1-78 1 180 1 30 1-46 1-170 1-147 1 17 1 64 1 203 1-6 1-93 1 78 1-43 1-179 1 269 1-6 1 336 1-11 1-232 1-33 1-305 1-47 1 84 1 54 1 33 1-40 1 237 1-76 1-22 1-77 1-28 1-175 1 35 1 166 1 57 1-36 1 89 1-101 1 63 1 60 1-120 1-94 1 153 1 112 1-22 1-4 1-115 1 21 1 20 1-6 1-7 1 169 1-64 1-198 1 23 1-128 1 187 1 20 1-175 1 76 1-3 1 45 1 20 1 28 1 67 1 18 1 233 1 0 1-97 1-269 1-92 1-102 1 16 1-82 1 121 1 53 1 131 1 8 1 3 1 101 1 117 1 37 1-10 1 30 1 55 1-55 1 160 1-200 1 338 1-115 1 113 1 18 1 2 1-5 1-143 1 271 1-50 1-21 1 2 1 26 1 87 1-91 1-35 1 54 1 151 1-108 1 91 1-52 1-20 1-9 1 40 1-82 1 68 1-96 1 10 1-90 1 126 1 359 1 119 1-111 1-196 1 10 1-97 1-8 1-191 1 55 1 107 1-12 1 18 1-70 1 49 1 75 1 40 1-75 1 34 1-72 1-104 1-79 1-94 1 123 1-168 1-118 1-30 1 76 1 187 1 16 1 114 1-98 1-16 1 108 1 82 1-34 1-75 1-42 1-12 1-15 1 29 1-185 1 29 1 45 1 84 1 78 1-60 1-30 1 43 1-61 1-152 1 107 1 24 1 149 1-43 1 89 1 20 1-65 1 16 1-79 1-208 1-37 1-113 1 70 1 111 1 150 1-88 1-87 1-10 1-193 1 315 1 166 1-116 1-78 1-280 1-9 1 32 1 164 1-21 1-64 1 9 1 69 1 58 1 37 1-28 1-37 1 78 1-135 1-120 1 86 1 173 1 27 1 24 1 47 1-185 1 50 1-122 1-151 1-62 1 28 1 36 1 58 1-22 1-79 1 101 1-134V1703l-1-138 -1-56 -1 43 -1-32 -1-25 -1-22 -1-9 -1 37 -1 164 -1-9 -1 11 -1 162 -1-156 -1-111 -1 131 -1-36 -1 79 -1 173 -1-56 -1-77 -1 119 -1-68 -1-53 -1-127 -1 116 -1 122 -1-109 -1-39 -1-97 -1-30 -1-10 -1 62 -1 89 -1 70 -1-25 -1-9 -1 33 -1 9 -1-114 -1 139 -1-85 -1 8 -1-132 -1-4 -1 8 -1 204 -1 224 -1-133 -1 69 -1 125 -1-176 -1 159 -1-147 -1 93 -1-82 -1 16 -1-41 -1-181 -1-41 -1 149 -1 9 -1-65 -1 4 -1-58 -1 47 -1 34 -1 22 -1 183 -1-126 -1 119 -1-49 -1-136 -1-80 -1 70 -1 24 -1-168 -1 117 -1-69 -1 96 -1-92 -1-61 -1 65 -1-31 -1 78 -1 64 -1 61 -1 84 -1 79 -1 29 -1-28 -1-174 -1-67 -1-14 -1-38 -1 16 -1 342 -1 67 -1 22 -1-76 -1-11 -1 13 -1-22 -1 147 -1-18 -1-171 -1-101 -1 30 -1-140 -1 96 -1-121 -1 241 -1-42 -1 44 -1-16 -1 68 -1-100 -1 0 -1-133 -1 37 -1 183 -1-134 -1-69 -1-35 -1 11 -1-28 -1 137 -1-127 -1 123 -1-42 -1 73 -1 90 -1-279 -1 25 -1-219 -1 1 -1 37 -1-13 -1-49 -1-169 -1 14 -1-77 -1-72 -1-162 -1 77 -1-48 -1 64 -1-128 -1-19 -1 36 -1 79 -1 113 -1 113 -1 39 -1-69 -1-15 -1-148 -1 65 -1-9 -1-14 -1 198 -1-277 -1-21 -1-168 -1 222 -1-38 -1 105 -1-118 -1 14 -1-31 -1 13 -1-57 -1 67 -1 36 -1 43 -1 42 -1 281 -1-211 -1-102 -1-131 -1-106 -1 54 -1 120 -1-18 -1 33 -1 180 -1-200 -1 84 -1-128 -1-30 -1-129 -1 152 -1 108 -1 227 -1-239 -1-92 -1-70 -1 8 -1-3 -1-69 -1-38 -1 6 -1 218 -1 183 -1 369 -1-11 -1-126 -1-68 -1-83 -1-45 -1 81 -1-210 -1-35 -1-172 -1-76 -1-132 -1 23 -1 191 -1 102 -1 73 -1 69 -1-229 -1 85 -1-274 -1-233 -1-30 -1 64 -1 157 -1 66 -1-24 -1 316 -1 147 -1-71 -1 28 -1 7 -1 154 -1 160 -1-1 -1 20 -1 276 -1-18 -1 25 -1 75 -1-58 -1 121 -1-6 -1 90 -1 93 -1 73 -1 173 -1 220 -1 40 -1-6 -1 13 -1-42 -1-162 -1 69 -1-85 -1-134 -1-162 -1-90 -1-113 -1-76 -1-248 -1 32 -1-102 -1 185 -1-15 -1 59 -1-343 -1-98 -1-282 -1-213 -1-245 -1 151 -1 140 -1 188 -1 173 -1 99 -1-115 -1 30 -1 47 -1-48 -1-39 -1 23 -1-91 -1-97 -1 69 -1-12 -1 19 -1-15 -1 113 -1 113 -1 103 -1 125 -1 77 -1-39 -1-208 -1 44 -1 475 -1-80 -1 132 -1-3 -1 43 -1 94 -1-207 -1 16 -1-28 -1-63 -1 91 -1-171 -1-168 -1-142 -1 34 -1 39 -1 39 -1-227 -1-313 -1-244 -1-119 -1-37 -1 180 -1 63 -1 127 -1-375 -1-75 -1-10 -1 56 -1 82 -1 31 -1 90 -1 229 -1-268 -1-47 -1-57 -1-48 -1 111 -1-3 -1-117 -1 242 -1 288 -1 53 -1-23 -1 138 -1-11 -1 147 -1-91 -1-93 -1 122 -1-114 -1 13 -1-223 -1 315 -1 131 -1-73 -1-94 -1 19 -1 10 -1 67 -1 150 -1 121 -1-296 -1-451 -1-141 -1 17 -1 130 -1 241 -1-155 -1 70 -1 30 -1 23 -1-17 -1-120 -1-170 -1-75 -1-36 -1 64 -1-29 -1-62 -1 41 -1-22 -1 36 -1 23 -1 174 -1-118 -1-2 -1 10 -1 285 -1-139 -1 44 -1 82 -1-129 -1 8 -1 59 -1 330 -1-136 -1-40 -1 29 -1 86 -1 41 -1-73 -1-177 -1 62 -1-196 -1 8 -1-29 -1 321 -1 325 -1 337 -1 583 -1 403 -1 422 -1 302 -1 13 -1-423 -1-375 -1-470 -1-417 -1-492 -1-184 -1 128 -1-12 -1 129 -1 51 -1 41 -1 223 -1-147 -1 3 -1-218 -1-121 -1-7 -1 62 -1 65 -1-96 -1 55 -1 19 -1 214 -1-97z" fill="#8680b6" fill-opacity="0.7"/><path transform="translate(1452.50 1572.50) scale(1.35771 0.1)" d="M0 1267l1 32 1 52 1-172 1 48 1-5 1 14 1 60 1 41 1 90 1 16 1 31 1 139 1-49 1 44 1-117 1-122 1-142 1 13 1 25 1 37 1 47 1 534 1 455 1 485 1 48 1-285 1-318 1-315 1-390 1-159 1-131 1-225 1 119 1 82 1 95 1 46 1 81 1 146 1 52 1-31 1-26 1-28 1-108 1-156 1-223 1-154 1-245 1-12 1-11 1 42 1-40 1 145 1 2 1-11 1 64 1 43 1-26 1 129 1 58 1 173 1 68 1 140 1-8 1 27 1 120 1 41 1 124 1 12 1-158 1-106 1-110 1-146 1-34 1-174 1 79 1 11 1 176 1 79 1 176 1-1 1 38 1-58 1 5 1-107 1-88 1-18 1 10 1-7 1-111 1-43 1-208 1-106 1-118 1-106 1 45 1-105 1-53 1-325 1 48 1 171 1 84 1 26 1-7 1 70 1 18 1 90 1 32 1 4 1 29 1 38 1-4 1 154 1 3 1 90 1-117 1-78 1-1 1 4 1-58 1-26 1 121 1-54 1 74 1 111 1-45 1 79 1 175 1 158 1 112 1-13 1-62 1-24 1 18 1-112 1-16 1 1 1 72 1-117 1-34 1-73 1-153 1-2 1-141 1 50 1-120 1-73 1-38 1-32 1-46 1 12 1 93 1-9 1 191 1 80 1 69 1-51 1 102 1 43 1 24 1-43 1-50 1-54 1-23 1 20 1-3 1 24 1 59 1-14 1 115 1 178 1 182 1 31 1 92 1 71 1 111 1 85 1 126 1 254 1 88 1 345 1 276 1 243 1-51 1-342 1-209 1-230 1-149 1-18 1-86 1-22 1-116 1 15 1-105 1-86 1-4 1 0 1-57 1-94 1-45 1 31 1-56 1-117 1-34 1-90 1-162 1 1 1-19 1 17 1-225 1-88 1-165 1-77 1-194 1 30 1-117 1 91 1 275 1 271 1 180 1 201 1 39 1 209 1 37 1 49 1 112 1 44 1 180 1-63 1 2 1-42 1 0 1-194 1-85 1-76 1-42 1-13 1-160 1-145 1-137 1-84 1 109 1 0 1-3 1 133 1 134 1 12 1-106 1 34 1-6 1 53 1 88 1-115 1-14 1 51 1 88 1-22 1-88 1-56 1-82 1-95 1 101 1-74 1-74 1 74 1-83 1-53 1-164 1 43 1-97 1 61 1-53 1-62 1-33 1 19 1-26 1-88 1-17 1 82 1 94 1 223 1-96 1-93 1-3 1 99 1 7 1-35 1-92 1 34 1 32 1 82 1-56 1 56 1-57 1 114 1-80 1-1 1-2 1 71 1 90 1 114 1 61 1 71 1-26 1 48 1 54 1 62 1-196 1-124 1-17 1-81 1 98 1-85 1 139 1-17 1 1 1 2 1 110 1 112 1-137 1 64 1 68 1 55 1-44 1 53 1-130 1 77 1-57 1-71 1-42 1-84 1 56 1-76 1 176 1 36 1 142 1-21 1 63 1 51 1-108 1-58 1 38 1-40 1 81 1-178 1 84 1-77 1 37 1 52 1 19 1-15 1 32 1-104 1 28 1 36 1-100 1-65 1 56 1 87 1-56 1 181 1-71 1 60 1-60 1-63 1-56 1 52 1 30 1 145 1 14 1-12 1-67 1 45 1-22 1-51 1-30 1-52 1 93 1-101 1 18 1 41 1 14 1-138 1-21 1 71 1 49 1 73 1 21 1 135 1-1 1-51 1-34 1-80 1-10 1 10 1-22 1 15 1 87 1-63 1 6 1-62 1 111 1-92 1-62 1-94 1-85 1-122 1 32 1 85 1 1 1 127 1 55 1-53 1 24 1-12 1-58 1-16 1-2 1-4 1 126 1-87 1 62 1-9 1-116 1-109 1-101 1 123 1 104 1-11 1 62 1-140 1 191 1-83 1-15 1-32 1 18 1-82 1-57V1581l-1 93 -1-32 -1 67 -1-97 -1 7 -1 84 -1-12 -1 35 -1-36 -1-59 -1-39 -1-12 -1 21 -1 20 -1 22 -1-15 -1-34 -1 238 -1-10 -1-29 -1 43 -1-158 -1 34 -1-110 -1 47 -1 104 -1-13 -1 1 -1-37 -1-41 -1-125 -1 84 -1 64 -1-20 -1 147 -1 23 -1 100 -1-27 -1-17 -1 76 -1-38 -1-44 -1-2 -1-78 -1 91 -1 31 -1-5 -1-56 -1 66 -1-83 -1 0 -1 45 -1-87 -1-166 -1-49 -1 70 -1 82 -1-36 -1 20 -1 95 -1 0 -1 27 -1-42 -1-31 -1 14 -1 13 -1 113 -1-34 -1 17 -1-57 -1-65 -1 37 -1-180 -1-7 -1 110 -1 87 -1 26 -1-67 -1 2 -1-122 -1-86 -1-29 -1 125 -1-41 -1 74 -1 101 -1-19 -1 13 -1-72 -1 27 -1-131 -1 43 -1 67 -1 71 -1-20 -1-37 -1 97 -1 26 -1 73 -1-75 -1-107 -1-24 -1-105 -1 19 -1-74 -1 78 -1-7 -1-26 -1 66 -1-96 -1 81 -1 1 -1 73 -1 32 -1-80 -1 118 -1-47 -1 33 -1-81 -1-41 -1-51 -1 14 -1-32 -1 76 -1-200 -1-10 -1 93 -1-9 -1 94 -1 85 -1 54 -1 14 -1-121 -1-31 -1-121 -1-91 -1-41 -1 53 -1-81 -1-25 -1-48 -1-92 -1-47 -1-76 -1 43 -1-12 -1 10 -1-12 -1 132 -1-111 -1 165 -1-27 -1-12 -1-18 -1 22 -1-47 -1-8 -1-81 -1 84 -1-130 -1-72 -1 95 -1 31 -1 83 -1-13 -1 118 -1 45 -1-75 -1 65 -1-92 -1 103 -1 150 -1 1 -1 15 -1-34 -1 98 -1-7 -1 170 -1 92 -1-57 -1 56 -1-99 -1 37 -1-148 -1-18 -1 142 -1-12 -1 27 -1 2 -1-54 -1 7 -1-64 -1-44 -1-191 -1-43 -1 56 -1-49 -1 60 -1 63 -1 113 -1 265 -1-103 -1 85 -1 79 -1 115 -1 89 -1 32 -1 55 -1 111 -1 41 -1-42 -1-18 -1-132 -1-126 -1-133 -1-121 -1-169 -1-144 -1-207 -1-169 -1-253 -1-104 -1 93 -1-13 -1 123 -1 131 -1 151 -1-26 -1 230 -1-28 -1 156 -1 40 -1 142 -1 61 -1 3 -1 101 -1 40 -1-6 -1 40 -1 18 -1 71 -1 82 -1-23 -1 70 -1 118 -1-47 -1 163 -1 148 -1 83 -1 33 -1-1 -1 170 -1 195 -1 366 -1 207 -1-261 -1-272 -1-299 -1-224 -1-202 -1-164 -1 90 -1-260 -1-124 -1-125 -1-43 -1-130 -1-126 -1-2 -1-57 -1-67 -1-62 -1-11 -1 69 -1 51 -1-26 -1-39 -1 47 -1 25 -1 56 -1-179 -1-114 -1 5 -1-146 -1 175 -1-261 -1-34 -1-91 -1 38 -1 113 -1-66 -1 122 -1 56 -1 20 -1 33 -1 107 -1 174 -1 107 -1 65 -1 80 -1-78 -1-57 -1-29 -1 25 -1 92 -1 33 -1 80 -1-140 -1-71 -1-73 -1-94 -1-72 -1 10 -1-135 -1-58 -1 50 -1-156 -1 49 -1-38 -1 99 -1 22 -1 173 -1 27 -1-36 -1-64 -1-77 -1-31 -1-171 -1 43 -1 17 -1-34 -1-102 -1-41 -1 115 -1-235 -1 14 -1-41 -1-127 -1 71 -1 82 -1-11 -1 75 -1 179 -1 85 -1 96 -1 131 -1 43 -1 67 -1 94 -1 28 -1 76 -1 46 -1 102 -1 34 -1 33 -1 12 -1-64 -1-8 -1-43 -1-31 -1-153 -1-138 -1 7 -1 230 -1 22 -1 176 -1 44 -1 144 -1-85 -1 12 -1-139 -1 65 -1-133 -1-38 -1-30 -1-81 -1-1 -1-153 -1-108 -1-83 -1-23 -1-42 -1-147 -1-75 -1-23 -1 19 -1 69 -1-11 -1 44 -1-54 -1 189 -1 76 -1 211 -1 279 -1 72 -1 73 -1-37 -1 64 -1-90 -1-54 -1-101 -1 2 -1-163 -1-18 -1-140 -1 135 -1 68 -1 92 -1 365 -1 362 -1 370 -1 502 -1-214 -1-475 -1-521 -1-518 -1-71 -1 23 -1 17 -1 58 -1 31 -1 83 -1-2 -1-6 -1 129 -1 30 -1-33 -1 2 -1-48 -1-43 -1-67 -1-28 -1 16 -1-83 -1 22 -1-68 -1 48z" fill="#e8957a" fill-opacity="0.7"/><path transform="translate(1452.50 1572.50) scale(1.35771 0.1)" d="M0 1531l1 30 1-94 1-15 1-92 1-6 1 68 1-26 1 71 1 59 1 171 1-32 1 111 1-35 1-110 1-61 1-150 1-29 1-167 1 147 1 582 1 439 1 396 1 415 1 509 1-63 1-313 1-513 1-358 1-474 1-510 1-232 1-275 1 7 1 5 1 214 1-54 1 204 1 23 1-41 1-99 1 20 1-28 1 54 1-205 1-60 1-31 1 17 1-65 1-67 1-71 1-19 1-77 1-30 1 28 1 24 1 10 1-9 1 31 1-79 1 43 1 31 1 17 1 10 1 141 1 95 1 132 1-11 1 34 1 40 1-113 1 54 1-243 1-143 1 32 1 231 1 407 1 326 1-184 1-145 1-178 1 26 1 31 1 131 1 5 1-144 1-232 1 187 1-20 1 88 1-87 1 88 1-78 1-8 1 52 1-117 1-44 1-39 1-284 1-121 1 53 1 1 1-109 1 50 1-26 1 71 1 26 1 37 1-71 1 20 1-35 1-37 1-59 1-4 1 170 1 70 1-22 1-186 1 33 1 109 1 256 1 263 1 255 1-62 1-10 1 37 1 169 1 139 1 135 1-217 1 94 1 3 1-3 1 100 1 22 1-105 1 37 1-128 1-61 1-164 1-25 1 111 1 75 1-96 1-78 1-87 1-166 1-90 1-46 1-111 1 1 1-31 1 119 1 73 1-20 1 103 1 44 1-42 1-57 1 47 1-117 1-138 1-155 1-100 1-81 1 226 1 231 1 218 1 111 1 270 1-35 1-27 1-94 1 70 1 28 1 207 1 92 1 120 1 73 1 154 1 165 1 141 1-96 1 123 1-26 1 0 1-36 1-49 1-202 1-107 1-121 1-65 1-81 1 78 1-168 1 71 1-156 1-55 1 93 1-196 1-6 1-168 1-161 1-63 1-10 1-70 1-11 1-100 1-202 1-22 1-31 1-211 1-17 1 68 1 211 1 234 1-87 1 176 1 2 1-60 1-170 1-116 1-36 1 124 1 145 1 70 1 22 1 107 1-81 1 15 1 66 1 141 1 139 1-18 1-280 1-120 1-215 1-89 1 113 1 58 1-3 1 63 1 74 1 5 1 0 1-31 1-68 1-149 1 96 1 78 1 51 1-48 1 170 1-150 1 25 1 18 1-114 1-73 1 171 1 81 1 12 1 78 1-79 1-75 1-6 1-31 1-8 1 104 1-34 1-108 1 25 1 6 1 36 1 19 1-219 1 156 1 0 1 103 1-48 1 18 1 63 1-37 1 155 1 49 1-27 1-152 1-90 1-109 1-18 1-95 1 105 1 64 1 48 1 8 1-31 1 129 1 84 1 58 1-24 1 102 1 79 1-7 1 22 1 49 1 77 1 48 1 21 1 88 1-37 1 42 1-150 1 188 1-70 1-5 1-22 1 52 1 90 1-44 1-47 1-13 1 157 1-32 1 104 1-98 1-9 1-10 1 36 1-154 1 104 1-96 1 43 1-43 1 103 1 280 1 62 1-121 1-112 1 11 1-42 1 29 1-184 1 110 1-149 1-14 1-4 1 31 1 5 1 181 1-17 1-28 1-8 1-102 1-54 1-66 1-95 1 68 1-128 1 6 1-4 1-14 1 130 1-35 1 128 1-49 1-54 1 103 1 101 1 11 1-92 1 11 1-69 1-20 1-17 1-101 1 28 1 54 1 16 1 74 1-115 1 17 1 83 1 20 1-83 1 87 1-31 1 114 1-62 1 130 1-29 1-80 1 6 1-96 1-177 1-57 1-66 1 99 1 54 1 127 1-103 1 30 1-31 1-40 1 101 1 69 1-89 1-76 1-179 1 38 1-33 1 167 1 13 1-12 1-12 1-26 1 54 1 75 1 14 1-68 1 46 1-72 1-101 1-8 1 96 1-25 1 77 1 55 1-98 1-13 1-31 1-178 1-48 1 8 1 61 1-28 1 50 1-8 1 39 1 73" fill="none" stroke="#1c1c7a" stroke-width="2.2" stroke-linejoin="round" vector-effect="non-scaling-stroke"/><path transform="translate(1452.50 1572.50) scale(1.35771 0.1)" d="M0 1300l1 51 1 185 1 25 1 91 1-103 1-51 1 74 1 16 1 70 1 84 1-27 1-66 1-15 1-82 1 42 1-124 1-317 1-103 1-364 1 406 1 662 1 679 1 814 1 553 1-527 1-700 1-464 1-317 1-249 1-11 1-104 1-319 1-51 1-123 1-99 1 162 1-94 1-70 1 87 1 221 1-72 1-67 1-36 1-14 1 155 1 42 1-51 1-146 1 112 1-71 1-79 1 43 1-128 1 149 1-110 1-27 1 37 1-2 1 145 1-56 1 170 1-53 1-46 1 36 1-138 1 37 1-29 1-5 1 36 1-258 1 161 1-55 1-11 1 105 1 212 1 179 1 281 1 57 1-132 1-116 1-74 1 68 1-26 1 9 1-8 1-67 1-114 1-160 1-88 1 65 1-154 1 154 1 66 1 62 1-136 1 21 1-118 1 12 1-147 1 38 1-68 1 84 1 40 1 17 1 31 1 76 1-56 1-85 1 22 1-32 1 57 1 27 1-50 1-154 1-24 1 27 1 4 1 63 1 8 1-3 1 90 1-11 1 268 1 5 1 74 1 63 1-91 1 69 1 20 1-57 1 1 1-209 1-27 1-10 1 183 1 51 1 52 1 44 1 71 1-72 1 61 1-117 1 136 1-47 1-37 1-37 1-52 1-155 1-118 1 76 1-27 1-24 1 140 1-75 1 54 1-46 1-127 1 57 1-123 1-88 1-73 1-88 1-211 1 210 1 73 1 244 1 269 1 16 1 101 1-14 1 57 1 35 1 11 1 39 1 106 1 28 1 4 1-105 1 44 1 201 1 90 1 33 1 171 1 60 1 127 1-68 1-91 1-35 1-196 1-16 1-31 1 9 1-53 1-27 1-58 1 19 1-12 1-91 1 40 1-290 1 23 1-36 1-143 1 14 1-2 1 32 1-164 1 12 1-104 1-150 1-95 1-60 1 123 1 50 1 332 1 128 1-27 1-59 1 131 1-19 1-83 1 105 1-94 1-19 1 39 1-215 1 18 1-84 1 137 1-102 1 163 1-33 1-11 1-50 1 3 1-20 1 48 1-19 1 46 1 102 1-66 1-53 1 56 1 63 1-157 1 117 1 16 1-78 1 155 1-156 1-15 1 25 1-26 1-118 1 134 1 54 1-24 1 128 1-184 1 125 1 12 1 150 1 156 1-104 1 93 1-218 1 122 1-160 1 74 1-62 1-75 1 9 1-203 1-6 1 201 1 30 1 51 1-53 1-143 1 59 1-14 1 251 1-59 1 155 1-128 1-224 1 71 1-338 1 31 1 25 1-1 1 76 1 48 1 36 1 100 1 164 1-107 1-104 1 1 1-28 1 88 1-32 1 113 1 35 1 92 1 180 1 10 1 165 1-16 1 216 1-92 1-43 1 86 1-43 1 34 1-145 1 204 1-73 1-39 1 129 1-29 1 84 1 17 1 83 1-36 1-66 1 50 1 221 1-90 1 0 1-90 1 34 1 7 1 10 1-61 1-26 1 41 1-53 1-63 1-100 1 33 1-100 1 141 1 11 1 10 1-65 1 87 1-7 1-26 1 71 1-10 1 112 1 0 1 86 1-33 1-69 1 41 1-52 1-12 1-97 1 160 1 19 1 8 1-164 1 90 1 89 1 26 1 189 1-84 1-57 1-175 1 19 1 27 1 17 1-174 1-113 1-75 1 51 1 112 1-83 1 21 1 21 1 174 1-4 1-19 1-12 1-99 1-86 1-201 1-24 1-19 1-21 1-11 1 54 1-84 1 97 1 21 1 66 1-3 1 40 1 10 1 3 1-28 1-127 1 124 1-78 1 84 1-69 1 167 1 36 1 5 1-50 1-34 1-20 1-111 1 61 1-180 1 133 1-112 1 194 1-49 1 63 1-40 1-143 1 213 1-102 1-16 1-8 1-27 1-12 1-13 1-81 1-109 1 55 1-1 1-36 1 125" fill="none" stroke="#3a88c8" stroke-width="2.2" stroke-linejoin="round" vector-effect="non-scaling-stroke"/><path transform="translate(1452.50 1572.50) scale(1.35771 0.1)" d="M0 1418l1 5 1 39 1-60 1 60 1-28 1 64 1 67 1 18 1 50 1 11 1 16 1 73 1-102 1 17 1-50 1-95 1-69 1-31 1-16 1 22 1 47 1 496 1 497 1 508 1 156 1-423 1-356 1-313 1-389 1-133 1-103 1-166 1 100 1 77 1 106 1 45 1 94 1 106 1 76 1-52 1 2 1-65 1-121 1-208 1-178 1-149 1-213 1 26 1 4 1-4 1-15 1 49 1-7 1 60 1 67 1 64 1-2 1 102 1 96 1 141 1 54 1 97 1 32 1 6 1 136 1-4 1 115 1 2 1-54 1-87 1-109 1-165 1-28 1-165 1 47 1 61 1 124 1 66 1 113 1 31 1 58 1-66 1 2 1-96 1-75 1-48 1-45 1 11 1-91 1-69 1-130 1-100 1-138 1-100 1-44 1-88 1-45 1-131 1-63 1 169 1 38 1 13 1 72 1 15 1 29 1 119 1-5 1 1 1 8 1 34 1 83 1 112 1 17 1 97 1-87 1-123 1-33 1-32 1 9 1-19 1 99 1-40 1 57 1 139 1-46 1 80 1 118 1 125 1 102 1 48 1-70 1-18 1-42 1-74 1 14 1 25 1 54 1-48 1-69 1-106 1-101 1-103 1-76 1-10 1-77 1-85 1-35 1-22 1-43 1 41 1 63 1 72 1 59 1 112 1 36 1 58 1 76 1 17 1-1 1-10 1-4 1-39 1-32 1-24 1 3 1 40 1 53 1 17 1 70 1 154 1 152 1 33 1 122 1 74 1 146 1 57 1 158 1 215 1 146 1 317 1 307 1 214 1-102 1-359 1-198 1-199 1-50 1-70 1-65 1-90 1-147 1 6 1-73 1-97 1-4 1-31 1-60 1-20 1-70 1 11 1-50 1-64 1-71 1-91 1-138 1 9 1-101 1 42 1-238 1-15 1-174 1-94 1-151 1-5 1-95 1 75 1 270 1 241 1 162 1 192 1 123 1 136 1 107 1 92 1 113 1 25 1 118 1-54 1-49 1-51 1-15 1-189 1-67 1-54 1-78 1-1 1-164 1-139 1-90 1-68 1 71 1-34 1 47 1 107 1 121 1 24 1 23 1-32 1 41 1-9 1-10 1-72 1 12 1 73 1 25 1 47 1-71 1 1 1-102 1-106 1 22 1-72 1 19 1 7 1-72 1-99 1-106 1 22 1-31 1 65 1-71 1-71 1-27 1-12 1-17 1-87 1-1 1 118 1 10 1 126 1-25 1-30 1-28 1 69 1 15 1-1 1-120 1 65 1-50 1 25 1 4 1-5 1-31 1 87 1-20 1 75 1-2 1 46 1 87 1 35 1 51 1 82 1 33 1 41 1 75 1 50 1-122 1-86 1-89 1-36 1 6 1-25 1 101 1-7 1 41 1 3 1 85 1 61 1-16 1-14 1 64 1-28 1-27 1 68 1-69 1-11 1-60 1-45 1-4 1-21 1 46 1-43 1 80 1 9 1 128 1-2 1 56 1 82 1-83 1-48 1-22 1-17 1 48 1-72 1-35 1-16 1 49 1 27 1 22 1-19 1 23 1-93 1-23 1 37 1-112 1-4 1 44 1 110 1 8 1 87 1-42 1 0 1-90 1-28 1 29 1 60 1 19 1 118 1-14 1 13 1-78 1 8 1-11 1-25 1 12 1-32 1 29 1-68 1-3 1-2 1-16 1-129 1 60 1 97 1 64 1 37 1-19 1 137 1-45 1 8 1-41 1-34 1-45 1 14 1-5 1 53 1 47 1-46 1-28 1 32 1-11 1-52 1-97 1-79 1-51 1-76 1 88 1 12 1 66 1 26 1 30 1-91 1 6 1 39 1-23 1 38 1 12 1-14 1 76 1-153 1 39 1 23 1-76 1-58 1-70 1 44 1 54 1 47 1 58 1-55 1 62 1-71 1-21 1 6 1-2 1-37 1-47" fill="none" stroke="#ff1e1e" stroke-width="2.2" stroke-linejoin="round" vector-effect="non-scaling-stroke"/></g><path d="M1452.5 2041.5h6.5M2046.5 2041.5h-6.5M1452.5 1989.4h6.5M2046.5 1989.4h-6.5M1452.5 1937.3h6.5M2046.5 1937.3h-6.5M1452.5 1885.2h6.5M2046.5 1885.2h-6.5M1452.5 1833.1h6.5M2046.5 1833.1h-6.5M1452.5 1780.9h6.5M2046.5 1780.9h-6.5M1452.5 1728.8h6.5M2046.5 1728.8h-6.5M1452.5 1676.7h6.5M2046.5 1676.7h-6.5M1452.5 1624.6h6.5M2046.5 1624.6h-6.5M1452.5 1572.5h6.5M2046.5 1572.5h-6.5M1469.5 1572.5v6.5M1469.5 2041.5v-6.5M1554.3 1572.5v6.5M1554.3 2041.5v-6.5M1639.2 1572.5v6.5M1639.2 2041.5v-6.5M1724.0 1572.5v6.5M1724.0 2041.5v-6.5M1808.9 1572.5v6.5M1808.9 2041.5v-6.5M1893.8 1572.5v6.5M1893.8 2041.5v-6.5M1978.6 1572.5v6.5M1978.6 2041.5v-6.5" stroke="#5a5a5a" stroke-width="1.1" fill="none"/><rect x="1452.5" y="1572.5" width="594.0" height="469.0" fill="none" stroke="#5a5a5a" stroke-width="1.1"/><rect x="1933.4" y="1583.5" width="98" height="75.7" fill="#fff" stroke="#444" stroke-width="1"/><rect x="1941.0" y="1592.4" width="20.8" height="12.5" fill="#e8957a" fill-opacity="0.7"/><rect x="1941.0" y="1597.8" width="20.8" height="2" fill="#ff1e1e"/><text x="1971.8" y="1603.7" font-size="16.4">Young</text><rect x="1941.0" y="1615.2" width="20.8" height="12.5" fill="#8680b6" fill-opacity="0.7"/><rect x="1941.0" y="1620.6" width="20.8" height="2" fill="#1c1c7a"/><text x="1971.8" y="1626.5" font-size="16.4">60 - 68</text><rect x="1941.0" y="1637.9" width="20.8" height="12.5" fill="#a2c0e4" fill-opacity="0.7"/><rect x="1941.0" y="1643.3" width="20.8" height="2" fill="#3a88c8"/><text x="1971.8" y="1649.2" font-size="16.4">&gt; 68</text><rect x="1852.4" y="1898.4" width="177.4" height="126.0" fill="#fff" stroke="#6e6e6e" stroke-width="1"/><g transform="translate(1858.3 1902.9)"><path d="M0.0 30.8C-0.5 26.7 0.7 22.0 3.0 18.0C5.3 14.0 9.8 9.8 14.0 7.0C18.2 4.2 23.2 2.7 28.0 1.5C32.8 0.3 38.3 0.0 43.0 0.0C47.7 0.0 52.0 0.5 56.0 1.5C60.0 2.5 63.7 3.6 67.0 6.0C70.3 8.4 73.6 12.0 76.0 16.0C78.4 20.0 80.7 26.3 81.5 30.0C82.3 33.7 81.9 35.6 81.0 38.0C80.1 40.4 78.8 42.8 76.0 44.5C73.2 46.2 68.7 46.8 64.0 48.0C59.3 49.2 53.0 50.4 48.0 52.0C43.0 53.6 37.5 56.7 34.0 57.5C30.5 58.3 28.8 57.9 27.0 57.0C25.2 56.1 23.9 53.6 23.5 52.0C23.1 50.4 25.9 48.5 24.5 47.5C23.1 46.5 18.1 46.8 15.0 46.0C11.9 45.2 8.5 45.0 6.0 42.5C3.5 40.0 0.5 34.9 0.0 30.8Z" fill="url(#bg)" stroke="#3c3c3c" stroke-width="0.9"/><path d="M25.0 47.0C21.5 49.0 31.5 42.3 35.0 40.0C38.5 37.7 42.5 35.0 46.0 33.0C49.5 31.0 59.5 25.7 56.0 28.0" fill="none" stroke="#4e4e4e" stroke-width="1.2" stroke-linecap="round" opacity="0.8"/><path d="M44.0 1.0C44.7 -2.2 41.8 8.5 41.0 12.0C40.2 15.5 39.7 18.8 39.0 22.0C38.3 25.2 36.2 34.5 37.0 31.0" fill="none" stroke="#4e4e4e" stroke-width="1.2" stroke-linecap="round" opacity="0.8"/><path d="M29.0 54.0C24.7 55.3 37.5 49.8 42.0 48.0C46.5 46.2 51.7 44.3 56.0 43.0C60.3 41.7 72.5 38.2 68.0 40.0" fill="none" stroke="#4e4e4e" stroke-width="1.2" stroke-linecap="round" opacity="0.8"/><path d="M52.0 2.0C52.2 0.3 50.5 10.3 50.0 14.0C49.5 17.7 48.7 26.0 49.0 24.0" fill="none" stroke="#4e4e4e" stroke-width="1.2" stroke-linecap="round" opacity="0.8"/><path d="M8.0 22.0C6.0 22.3 14.3 17.3 18.0 16.0C21.7 14.7 31.7 13.0 30.0 14.0" fill="none" stroke="#4e4e4e" stroke-width="1.2" stroke-linecap="round" opacity="0.8"/><path d="M6.0 31.0C3.8 30.0 11.3 27.5 14.0 27.0C16.7 26.5 19.8 27.0 22.0 28.0C24.2 29.0 29.7 32.5 27.0 33.0" fill="none" stroke="#4e4e4e" stroke-width="1.2" stroke-linecap="round" opacity="0.8"/><path d="M54.0 16.0C51.7 13.8 60.0 12.7 63.0 13.0C66.0 13.3 69.7 15.8 72.0 18.0C74.3 20.2 80.0 26.3 77.0 26.0" fill="none" stroke="#4e4e4e" stroke-width="1.2" stroke-linecap="round" opacity="0.8"/><path d="M34.0 56.0C29.7 57.3 43.3 52.7 48.0 51.0C52.7 49.3 57.7 47.3 62.0 46.0C66.3 44.7 78.7 41.3 74.0 43.0" fill="none" stroke="#4e4e4e" stroke-width="1.2" stroke-linecap="round" opacity="0.8"/><path d="M14.0 10.0C12.3 10.2 19.0 7.7 22.0 7.0C25.0 6.3 33.3 5.5 32.0 6.0" fill="none" stroke="#4e4e4e" stroke-width="1.2" stroke-linecap="round" opacity="0.8"/><path d="M62.0 30.0C61.0 29.0 67.7 30.7 70.0 32.0C72.3 33.3 77.3 38.3 76.0 38.0" fill="none" stroke="#4e4e4e" stroke-width="1.2" stroke-linecap="round" opacity="0.8"/></g><g transform="translate(1942.3 1902.9)"><path d="M81.5 30.8C82.0 26.7 80.8 22.0 78.5 18.0C76.2 14.0 71.7 9.8 67.5 7.0C63.3 4.2 58.3 2.7 53.5 1.5C48.7 0.3 43.2 0.0 38.5 0.0C33.8 0.0 29.5 0.5 25.5 1.5C21.5 2.5 17.8 3.6 14.5 6.0C11.2 8.4 7.9 12.0 5.5 16.0C3.1 20.0 0.8 26.3 0.0 30.0C-0.8 33.7 -0.4 35.6 0.5 38.0C1.4 40.4 2.7 42.8 5.5 44.5C8.3 46.2 12.8 46.8 17.5 48.0C22.2 49.2 28.5 50.4 33.5 52.0C38.5 53.6 44.0 56.7 47.5 57.5C51.0 58.3 52.8 57.9 54.5 57.0C56.2 56.1 57.6 53.6 58.0 52.0C58.4 50.4 55.6 48.5 57.0 47.5C58.4 46.5 63.4 46.8 66.5 46.0C69.6 45.2 73.0 45.0 75.5 42.5C78.0 40.0 81.0 34.9 81.5 30.8Z" fill="url(#bg)" stroke="#3c3c3c" stroke-width="0.9"/><path d="M56.5 47.0C60.0 49.0 50.0 42.3 46.5 40.0C43.0 37.7 39.0 35.0 35.5 33.0C32.0 31.0 22.0 25.7 25.5 28.0" fill="none" stroke="#4e4e4e" stroke-width="1.2" stroke-linecap="round" opacity="0.8"/><path d="M37.5 1.0C36.8 -2.2 39.7 8.5 40.5 12.0C41.3 15.5 41.8 18.8 42.5 22.0C43.2 25.2 45.3 34.5 44.5 31.0" fill="none" stroke="#4e4e4e" stroke-width="1.2" stroke-linecap="round" opacity="0.8"/><path d="M52.5 54.0C56.8 55.3 44.0 49.8 39.5 48.0C35.0 46.2 29.8 44.3 25.5 43.0C21.2 41.7 9.0 38.2 13.5 40.0" fill="none" stroke="#4e4e4e" stroke-width="1.2" stroke-linecap="round" opacity="0.8"/><path d="M29.5 2.0C29.3 0.3 31.0 10.3 31.5 14.0C32.0 17.7 32.8 26.0 32.5 24.0" fill="none" stroke="#4e4e4e" stroke-width="1.2" stroke-linecap="round" opacity="0.8"/><path d="M73.5 22.0C75.5 22.3 67.2 17.3 63.5 16.0C59.8 14.7 49.8 13.0 51.5 14.0" fill="none" stroke="#4e4e4e" stroke-width="1.2" stroke-linecap="round" opacity="0.8"/><path d="M75.5 31.0C77.7 30.0 70.2 27.5 67.5 27.0C64.8 26.5 61.7 27.0 59.5 28.0C57.3 29.0 51.8 32.5 54.5 33.0" fill="none" stroke="#4e4e4e" stroke-width="1.2" stroke-linecap="round" opacity="0.8"/><path d="M27.5 16.0C29.8 13.8 21.5 12.7 18.5 13.0C15.5 13.3 11.8 15.8 9.5 18.0C7.2 20.2 1.5 26.3 4.5 26.0" fill="none" stroke="#4e4e4e" stroke-width="1.2" stroke-linecap="round" opacity="0.8"/><path d="M47.5 56.0C51.8 57.3 38.2 52.7 33.5 51.0C28.8 49.3 23.8 47.3 19.5 46.0C15.2 44.7 2.8 41.3 7.5 43.0" fill="none" stroke="#4e4e4e" stroke-width="1.2" stroke-linecap="round" opacity="0.8"/><path d="M67.5 10.0C69.2 10.2 62.5 7.7 59.5 7.0C56.5 6.3 48.2 5.5 49.5 6.0" fill="none" stroke="#4e4e4e" stroke-width="1.2" stroke-linecap="round" opacity="0.8"/><path d="M19.5 30.0C20.5 29.0 13.8 30.7 11.5 32.0C9.2 33.3 4.2 38.3 5.5 38.0" fill="none" stroke="#4e4e4e" stroke-width="1.2" stroke-linecap="round" opacity="0.8"/></g><g transform="translate(1858.3 1962.4)"><path d="M0.0 31.9C0.0 28.9 1.0 23.8 3.0 20.0C5.0 16.2 8.3 11.9 12.0 9.0C15.7 6.1 20.3 4.0 25.0 2.5C29.7 1.0 35.0 0.2 40.0 0.0C45.0 -0.2 50.3 0.0 55.0 1.0C59.7 2.0 64.3 3.5 68.0 6.0C71.7 8.5 74.8 12.0 77.0 16.0C79.2 20.0 81.2 26.0 81.5 30.0C81.8 34.0 80.6 37.4 79.0 40.0C77.4 42.6 75.2 44.2 72.0 45.5C68.8 46.8 62.2 46.9 60.0 48.0C57.8 49.1 59.3 50.5 58.5 52.0C57.7 53.5 56.4 56.0 55.0 57.0C53.6 58.0 51.8 58.5 50.0 58.3C48.2 58.1 46.5 57.4 44.0 56.0C41.5 54.6 38.7 51.7 35.0 50.0C31.3 48.3 26.2 47.3 22.0 46.0C17.8 44.7 13.2 43.3 10.0 42.0C6.8 40.7 4.7 39.7 3.0 38.0C1.3 36.3 0.0 34.9 0.0 31.9Z" fill="url(#bg2)" stroke="#3c3c3c" stroke-width="0.9"/><path d="M8.0 36.0C-1.8 33.7 12.3 25.8 16.0 22.0C19.7 18.2 25.0 14.8 30.0 13.0C35.0 11.2 40.7 10.7 46.0 11.0C51.3 11.3 57.7 12.7 62.0 15.0C66.3 17.3 69.8 21.5 72.0 25.0C74.2 28.5 85.7 34.2 75.0 36.0" fill="none" stroke="#4e4e4e" stroke-width="1.2" stroke-linecap="round" opacity="0.8"/><path d="M10.0 40.0C6.0 38.5 18.0 40.3 22.0 41.0C26.0 41.7 30.0 42.5 34.0 44.0C38.0 45.5 50.0 50.7 46.0 50.0" fill="none" stroke="#4e4e4e" stroke-width="1.2" stroke-linecap="round" opacity="0.8"/><path d="M24.0 34.0C24.7 31.8 31.7 28.3 36.0 27.0C40.3 25.7 45.7 25.5 50.0 26.0C54.3 26.5 59.7 28.2 62.0 30.0C64.3 31.8 65.0 35.3 64.0 37.0C63.0 38.7 59.3 39.8 56.0 40.0C52.7 40.2 48.0 38.0 44.0 38.0C40.0 38.0 35.3 40.7 32.0 40.0C28.7 39.3 23.3 36.2 24.0 34.0Z" fill="#c9c9c9" stroke="#8a8a8a" stroke-width="0.6" opacity="0.8"/></g><g transform="translate(1942.3 1962.4)"><path d="M81.5 31.9C81.5 28.9 80.5 23.8 78.5 20.0C76.5 16.2 73.2 11.9 69.5 9.0C65.8 6.1 61.2 4.0 56.5 2.5C51.8 1.0 46.5 0.2 41.5 0.0C36.5 -0.2 31.2 0.0 26.5 1.0C21.8 2.0 17.2 3.5 13.5 6.0C9.8 8.5 6.8 12.0 4.5 16.0C2.2 20.0 0.3 26.0 0.0 30.0C-0.3 34.0 0.9 37.4 2.5 40.0C4.1 42.6 6.3 44.2 9.5 45.5C12.7 46.8 19.2 46.9 21.5 48.0C23.8 49.1 22.2 50.5 23.0 52.0C23.8 53.5 25.1 56.0 26.5 57.0C27.9 58.0 29.7 58.5 31.5 58.3C33.3 58.1 35.0 57.4 37.5 56.0C40.0 54.6 42.8 51.7 46.5 50.0C50.2 48.3 55.3 47.3 59.5 46.0C63.7 44.7 68.3 43.3 71.5 42.0C74.7 40.7 76.8 39.7 78.5 38.0C80.2 36.3 81.5 34.9 81.5 31.9Z" fill="url(#bg2)" stroke="#3c3c3c" stroke-width="0.9"/><path d="M73.5 36.0C83.3 33.7 69.2 25.8 65.5 22.0C61.8 18.2 56.5 14.8 51.5 13.0C46.5 11.2 40.8 10.7 35.5 11.0C30.2 11.3 23.8 12.7 19.5 15.0C15.2 17.3 11.7 21.5 9.5 25.0C7.3 28.5 -4.2 34.2 6.5 36.0" fill="none" stroke="#4e4e4e" stroke-width="1.2" stroke-linecap="round" opacity="0.8"/><path d="M71.5 40.0C75.5 38.5 63.5 40.3 59.5 41.0C55.5 41.7 51.5 42.5 47.5 44.0C43.5 45.5 31.5 50.7 35.5 50.0" fill="none" stroke="#4e4e4e" stroke-width="1.2" stroke-linecap="round" opacity="0.8"/><path d="M57.5 34.0C56.8 31.8 49.8 28.3 45.5 27.0C41.2 25.7 35.8 25.5 31.5 26.0C27.2 26.5 21.8 28.2 19.5 30.0C17.2 31.8 16.5 35.3 17.5 37.0C18.5 38.7 22.2 39.8 25.5 40.0C28.8 40.2 33.5 38.0 37.5 38.0C41.5 38.0 46.2 40.7 49.5 40.0C52.8 39.3 58.2 36.2 57.5 34.0Z" fill="#c9c9c9" stroke="#8a8a8a" stroke-width="0.6" opacity="0.8"/></g><polygon points="1867.3,1938.9 1870.3,1936.9 1875.8,1936.4 1874.3,1940.9 1874.8,1946.9 1872.3,1950.9 1868.3,1948.9 1867.3,1943.9" fill="#f02222" stroke="#e01818" stroke-width="0.8" stroke-linejoin="round"/><polygon points="1880.1,1936.9 1883.3,1936.4 1885.9,1937.9 1883.3,1939.4" fill="#f02222" stroke="#e01818" stroke-width="0.8" stroke-linejoin="round"/><polygon points="1883.8,1948.9 1886.3,1945.9 1889.7,1946.9 1887.3,1950.4 1884.3,1950.9" fill="#f02222" stroke="#e01818" stroke-width="0.8" stroke-linejoin="round"/><polygon points="1889.8,1951.4 1891.3,1950.9 1891.8,1952.4 1890.1,1952.9" fill="#f02222" stroke="#e01818" stroke-width="0.8" stroke-linejoin="round"/><polygon points="1984.8,1913.9 1987.3,1911.4 1992.3,1910.9 1989.3,1914.9 1988.3,1922.9 1986.3,1921.9" fill="#f02222" stroke="#e01818" stroke-width="0.8" stroke-linejoin="round"/><polygon points="1993.3,1914.9 1997.3,1914.6 2002.3,1917.9 2006.6,1925.9 2005.3,1928.4 1999.3,1924.9 1994.3,1919.9" fill="#f02222" stroke="#e01818" stroke-width="0.8" stroke-linejoin="round"/><polygon points="1920.3,1984.7 1924.3,1985.4 1926.3,1990.4 1930.3,1992.4 1933.8,1995.4 1932.3,2002.4 1928.3,2007.4 1920.3,2010.2 1913.3,2009.4 1914.3,2004.4 1919.3,1998.4 1920.3,1992.4" fill="#f02222" stroke="#e01818" stroke-width="0.8" stroke-linejoin="round"/><polygon points="1952.3,1983.4 1958.3,1983.1 1962.3,1986.4 1962.3,1993.4 1967.3,1996.4 1971.5,2002.4 1970.3,2009.4 1960.3,2010.2 1952.3,2007.4 1949.3,2000.4 1951.3,1992.4" fill="#f02222" stroke="#e01818" stroke-width="0.8" stroke-linejoin="round"/><path d="M1684.2 1950.4v8.8H1715.7v-8.8" stroke="#000" stroke-width="2.4" fill="none"/><path d="M1745.1 1816.4v8.8H1776.5v-8.8" stroke="#000" stroke-width="2.4" fill="none"/><text x="1443.7" y="2044.6" font-size="20" text-anchor="end">-60</text><text x="1443.7" y="1992.9" font-size="20" text-anchor="end">-50</text><text x="1443.7" y="1941.2" font-size="20" text-anchor="end">-40</text><text x="1443.7" y="1889.6" font-size="20" text-anchor="end">-30</text><text x="1443.7" y="1837.9" font-size="20" text-anchor="end">-20</text><text x="1443.7" y="1786.2" font-size="20" text-anchor="end">-10</text><text x="1443.7" y="1734.6" font-size="20" text-anchor="end">0</text><text x="1443.7" y="1682.9" font-size="20" text-anchor="end">10</text><text x="1443.7" y="1631.2" font-size="20" text-anchor="end">20</text><text x="1443.7" y="1579.6" font-size="20" text-anchor="end">30</text><text x="1468.8" y="2061.4" font-size="20" text-anchor="middle">0</text><text x="1551.8" y="2061.4" font-size="20" text-anchor="middle">0.5</text><text x="1637.0" y="2061.4" font-size="20" text-anchor="middle">1</text><text x="1721.2" y="2061.4" font-size="20" text-anchor="middle">1.5</text><text x="1807.4" y="2061.4" font-size="20" text-anchor="middle">2</text><text x="1890.3" y="2061.4" font-size="20" text-anchor="middle">2.5</text><text x="1977.1" y="2061.4" font-size="20" text-anchor="middle">3</text><text x="1740.2" y="2088.9" font-size="21.5" text-anchor="middle">Time (s)</text><text transform="translate(1402.6 1828.0) rotate(-90)" font-size="21.5" text-anchor="middle">Neural activity index</text><text x="1676.1" y="1546.1" font-size="31" textLength="120.9" lengthAdjust="spacingAndGlyphs">Novel T3</text><text transform="translate(1452.2 2131.4) scale(1.280 1)" font-size="29.45" fill="#000" font-family="'Noto Sans CJK JP', sans-serif">&#9834;</text><text transform="translate(1517.4 2131.4) scale(1.280 1)" font-size="29.45" fill="#000" font-family="'Noto Sans CJK JP', sans-serif">&#9834;</text><text transform="translate(1576.1 2131.4) scale(1.280 1)" font-size="29.45" fill="#000" font-family="'Noto Sans CJK JP', sans-serif">&#9834;</text><text transform="translate(1638.6 2131.4) scale(1.280 1)" font-size="29.45" fill="#e8262a" font-family="'Noto Sans CJK JP', sans-serif">&#9834;</text><text transform="translate(1699.3 2131.4) scale(1.280 1)" font-size="29.45" fill="#e8262a" font-family="'Noto Sans CJK JP', sans-serif">&#9834;</text></svg></body></html>
